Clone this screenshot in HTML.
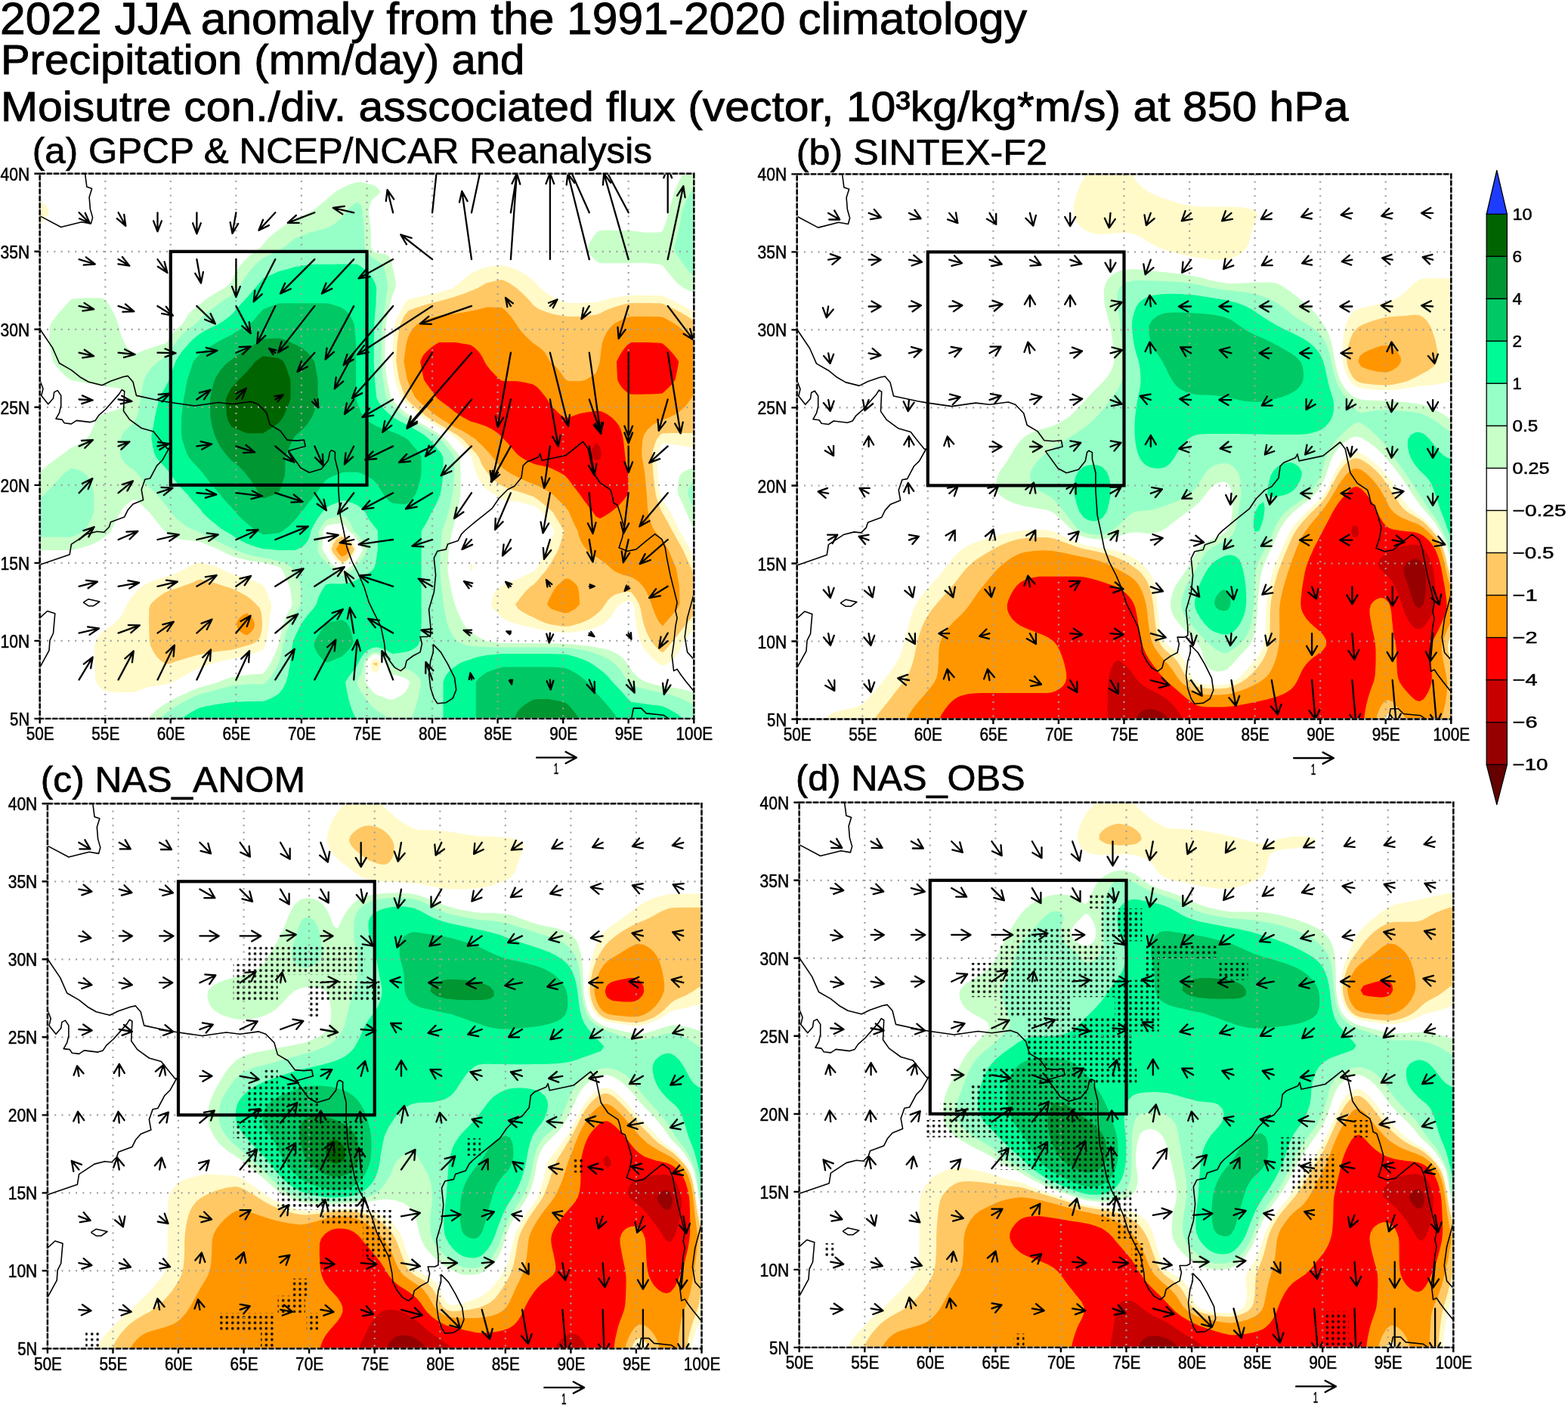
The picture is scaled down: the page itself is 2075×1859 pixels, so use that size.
<!DOCTYPE html><html><head><meta charset="utf-8"><title>2022 JJA anomaly</title><style>html,body{margin:0;padding:0;background:#fff;}svg{display:block;}</style></head><body><svg xmlns="http://www.w3.org/2000/svg" width="2075" height="1859" viewBox="0 0 2075 1859" font-family="'Liberation Sans', Arial, sans-serif">
<defs>
<clipPath id="clip_a"><rect x="52.7" y="229.8" width="865.6" height="721.1"/></clipPath>
<clipPath id="clip_b"><rect x="1054.7" y="230.4" width="865.6" height="721.1"/></clipPath>
<clipPath id="clip_c"><rect x="62.9" y="1063.3" width="865.6" height="721.1"/></clipPath>
<clipPath id="clip_d"><rect x="1057.7" y="1061.8" width="865.6" height="721.1"/></clipPath>
<pattern id="stip_a" patternUnits="userSpaceOnUse" width="7.44" height="7.4" x="323.58" y="469.10"><circle cx="3.72" cy="3.7" r="1.75" fill="#000"/></pattern><pattern id="stip_b" patternUnits="userSpaceOnUse" width="7.44" height="7.4" x="1325.58" y="469.70"><circle cx="3.72" cy="3.7" r="1.75" fill="#000"/></pattern><pattern id="stip_c" patternUnits="userSpaceOnUse" width="7.44" height="7.4" x="333.78" y="1302.60"><circle cx="3.72" cy="3.7" r="1.75" fill="#000"/></pattern><pattern id="stip_d" patternUnits="userSpaceOnUse" width="7.44" height="7.4" x="1328.58" y="1301.10"><circle cx="3.72" cy="3.7" r="1.75" fill="#000"/></pattern>
</defs>
<rect width="2075" height="1859" fill="#fff"/>
<text x="0.0" y="44.9" font-size="60" text-anchor="start" textLength="1359.0" lengthAdjust="spacingAndGlyphs" stroke="#000" stroke-width="0.9">2022 JJA anomaly from the 1991-2020 climatology</text>
<text x="0.9" y="98.0" font-size="56" text-anchor="start" textLength="693.4" lengthAdjust="spacingAndGlyphs" stroke="#000" stroke-width="0.9">Precipitation (mm/day) and</text>
<text x="0.9" y="160.2" font-size="56" text-anchor="start" textLength="1783.6" lengthAdjust="spacingAndGlyphs" stroke="#000" stroke-width="0.9">Moisutre con./div. asscociated flux (vector, 10³kg/kg*m/s) at 850 hPa</text>
<text x="42.8" y="215.6" font-size="48.5" text-anchor="start" textLength="820.2" lengthAdjust="spacingAndGlyphs" stroke="#000" stroke-width="0.7">(a) GPCP &amp; NCEP/NCAR Reanalysis</text>
<text x="1053.8" y="218.3" font-size="48.5" text-anchor="start" textLength="332.1" lengthAdjust="spacingAndGlyphs" stroke="#000" stroke-width="0.7">(b) SINTEX-F2</text>
<text x="53.8" y="1048.0" font-size="48.5" text-anchor="start" textLength="350.2" lengthAdjust="spacingAndGlyphs" stroke="#000" stroke-width="0.7">(c) NAS_ANOM</text>
<text x="1053.0" y="1046.4" font-size="48.5" text-anchor="start" textLength="303.6" lengthAdjust="spacingAndGlyphs" stroke="#000" stroke-width="0.7">(d) NAS_OBS</text>
<g clip-path="url(#clip_a)">
<path fill="#c8ffc8" fill-rule="evenodd" d="M196.3,950.9L197.8,950.9L203.0,950.9L208.2,950.9L213.4,950.9L218.6,950.9L223.7,950.9L228.9,950.9L234.1,950.9L239.3,950.9L244.5,950.9L249.7,950.9L254.8,950.9L260.0,950.9L265.2,950.9L270.4,950.9L275.6,950.9L280.8,950.9L285.9,950.9L291.1,950.9L296.3,950.9L301.5,950.9L306.7,950.9L311.9,950.9L317.0,950.9L322.2,950.9L327.4,950.9L332.6,950.9L337.8,950.9L343.0,950.9L348.1,950.9L353.3,950.9L358.5,950.9L363.7,950.9L368.9,950.9L374.1,950.9L379.2,950.9L384.4,950.9L389.6,950.9L394.8,950.9L400.0,950.9L405.2,950.9L410.3,950.9L415.5,950.9L420.7,950.9L425.9,950.9L431.1,950.9L436.3,950.9L441.4,950.9L446.6,950.9L451.8,950.9L457.0,950.9L462.2,950.9L467.4,950.9L472.5,950.9L477.7,950.9L482.9,950.9L488.1,950.9L493.3,950.9L498.5,950.9L503.6,950.9L508.8,950.9L514.0,950.9L519.2,950.9L524.4,950.9L529.6,950.9L534.7,950.9L539.9,950.9L545.1,950.9L550.3,950.9L555.5,950.9L560.7,950.9L565.8,950.9L571.0,950.9L576.2,950.9L581.4,950.9L586.6,950.9L591.8,950.9L596.9,950.9L602.1,950.9L607.3,950.9L612.5,950.9L617.7,950.9L622.9,950.9L628.0,950.9L633.2,950.9L638.4,950.9L643.6,950.9L648.8,950.9L654.0,950.9L659.1,950.9L664.3,950.9L669.5,950.9L674.7,950.9L679.9,950.9L685.1,950.9L690.2,950.9L695.4,950.9L700.6,950.9L705.8,950.9L711.0,950.9L716.2,950.9L721.3,950.9L726.5,950.9L731.7,950.9L736.9,950.9L742.1,950.9L747.3,950.9L752.4,950.9L757.6,950.9L762.8,950.9L768.0,950.9L773.2,950.9L778.4,950.9L783.5,950.9L788.7,950.9L793.9,950.9L799.1,950.9L804.3,950.9L809.5,950.9L814.6,950.9L819.8,950.9L825.0,950.9L830.2,950.9L835.4,950.9L840.6,950.9L845.7,950.9L850.9,950.9L856.1,950.9L861.3,950.9L866.5,950.9L871.7,950.9L876.8,950.9L882.0,950.9L887.2,950.9L892.4,950.9L897.6,950.9L902.8,950.9L907.9,950.9L913.1,950.9L918.3,950.9L918.3,944.8L918.3,938.8L918.3,932.7L918.3,926.7L918.3,920.6L918.3,916.6L913.1,914.7L912.5,914.5L907.9,913.2L902.8,912.0L897.6,911.0L892.4,910.1L887.2,909.4L882.0,908.7L879.8,908.5L876.8,908.2L871.7,907.0L866.5,905.7L861.3,904.3L856.1,902.8L855.0,902.4L850.9,900.2L845.7,896.9L844.9,896.4L840.6,892.3L838.6,890.3L835.4,886.6L834.0,884.2L830.2,878.3L830.1,878.2L825.5,872.1L825.0,871.6L819.8,867.0L818.5,866.1L814.6,863.7L809.5,861.4L805.2,860.0L804.3,859.7L799.1,858.4L793.9,857.4L788.7,856.4L783.5,855.5L778.4,854.8L773.2,854.2L770.5,853.9L768.0,853.6L762.8,853.1L757.6,852.5L752.4,852.1L747.3,851.8L742.1,851.7L736.9,851.6L731.7,851.5L726.5,851.4L721.3,851.3L716.2,851.3L711.0,851.2L705.8,851.2L700.6,851.1L695.4,851.1L690.2,851.0L685.1,851.0L679.9,851.0L674.7,850.9L669.5,850.9L664.3,850.8L659.1,850.2L654.0,849.6L648.8,848.9L643.6,848.1L642.9,847.9L638.4,845.7L633.2,842.8L631.5,841.8L628.0,839.7L622.9,836.1L622.5,835.8L617.7,831.0L616.6,829.7L612.5,823.8L612.4,823.6L609.3,817.6L607.3,813.3L606.5,811.5L604.1,805.5L602.1,800.3L601.9,799.4L600.2,793.3L598.6,787.3L597.3,781.2L596.9,779.7L596.0,775.2L594.9,769.1L593.9,763.1L593.0,757.0L592.4,750.9L592.7,744.9L593.1,738.8L593.5,732.8L593.9,726.7L594.9,720.6L596.0,714.6L596.9,710.0L597.3,708.5L598.7,702.5L600.3,696.4L601.8,690.3L602.1,688.9L603.6,684.3L605.3,678.2L606.6,672.2L607.3,668.3L607.7,666.1L608.5,660.0L609.3,654.0L609.5,647.9L609.5,641.9L609.6,635.8L609.6,629.7L609.5,623.7L609.2,617.6L608.9,611.6L608.7,605.5L607.3,602.8L605.6,599.4L602.1,595.6L600.2,593.4L596.9,589.5L595.1,587.3L591.8,583.3L590.0,581.3L586.6,578.4L582.7,575.2L581.4,574.4L576.2,571.4L572.5,569.1L571.0,568.3L565.8,565.2L562.3,563.1L560.7,562.1L555.5,559.0L552.1,557.0L550.3,555.8L545.1,552.4L542.9,551.0L539.9,548.4L535.6,544.9L534.7,544.2L529.6,539.7L528.6,538.8L524.4,534.8L522.4,532.8L519.2,528.6L517.8,526.7L516.2,520.7L514.7,514.6L514.0,511.5L513.4,508.5L512.2,502.5L511.5,496.4L510.8,490.4L510.1,484.3L509.5,478.2L509.5,472.2L509.5,466.1L509.5,460.1L509.5,454.0L509.8,447.9L510.1,441.9L510.4,435.8L510.7,429.8L511.6,423.7L512.8,417.6L514.0,411.6L514.0,411.6L515.6,405.5L517.1,399.5L518.5,393.4L519.2,390.7L520.5,387.4L523.3,381.3L523.9,375.2L522.9,369.2L521.8,363.1L520.4,357.1L519.2,351.7L519.1,351.0L517.6,344.9L514.5,338.9L514.0,338.3L508.8,336.0L503.6,335.2L498.5,334.7L495.2,332.8L493.3,331.0L491.1,326.8L491.0,320.7L490.9,314.6L490.8,308.6L490.5,302.5L489.8,296.5L489.1,290.4L488.3,284.3L488.1,280.0L488.0,278.3L488.1,277.6L489.2,272.2L491.5,266.2L493.3,263.4L497.9,260.1L498.5,259.6L503.6,254.2L503.8,254.0L503.6,253.9L498.9,248.0L498.5,247.6L493.3,244.6L488.1,243.4L482.9,242.2L481.6,241.9L477.7,241.1L472.5,241.1L469.6,241.9L467.4,242.6L462.2,244.3L457.0,246.5L453.9,248.0L451.8,249.1L446.6,252.1L443.8,254.0L441.4,255.7L436.3,260.0L436.2,260.1L431.1,264.7L429.3,266.2L425.9,268.9L421.8,272.2L420.7,273.2L415.5,277.7L414.9,278.3L410.3,280.5L405.2,283.0L402.5,284.3L400.0,285.4L394.8,287.7L389.6,290.0L388.9,290.4L384.4,293.0L379.2,296.4L379.1,296.5L374.1,300.1L370.9,302.5L368.9,304.1L363.7,307.9L362.8,308.6L358.5,312.2L356.0,314.6L353.3,317.3L350.4,320.7L348.1,323.4L345.5,326.8L343.0,328.5L337.8,332.6L337.5,332.8L332.6,336.4L329.7,338.9L327.4,341.2L323.3,344.9L322.2,346.0L318.1,351.0L317.0,352.3L313.9,357.1L311.9,360.4L310.4,363.1L307.7,369.2L306.7,371.8L304.1,375.2L301.5,377.5L296.9,381.3L296.3,381.6L291.1,384.3L286.1,387.4L285.9,387.4L280.8,390.5L276.1,393.4L275.6,393.8L270.4,397.7L268.4,399.5L265.2,402.3L260.8,405.5L260.0,406.0L254.8,409.9L253.1,411.6L249.7,415.5L248.1,417.6L244.7,423.7L244.5,424.0L240.7,429.8L239.3,430.8L234.1,435.0L233.3,435.8L228.9,440.8L228.1,441.9L224.4,447.9L223.7,449.2L219.2,454.0L218.6,454.6L213.4,455.9L208.2,457.5L203.0,459.3L200.4,460.1L197.8,461.0L192.6,462.6L187.5,464.7L184.4,466.1L182.3,467.2L177.1,467.6L175.0,466.1L171.9,463.5L168.8,460.1L166.7,457.3L164.8,454.0L162.2,447.9L161.5,446.2L160.0,441.9L158.2,435.8L156.6,429.8L156.4,429.1L154.5,423.7L152.0,417.6L151.2,415.8L149.1,411.6L146.0,406.2L145.6,405.5L141.4,399.5L140.8,398.7L135.6,394.2L130.4,394.2L125.3,394.2L120.1,394.2L114.9,394.3L109.7,394.5L104.5,394.8L99.3,395.1L94.2,396.1L91.0,399.5L89.0,401.7L85.6,405.5L83.8,407.5L80.2,411.6L78.6,413.5L75.2,417.6L73.4,419.8L70.3,423.7L68.2,426.9L66.4,429.8L66.0,435.8L65.6,441.9L65.2,447.9L64.9,454.0L66.2,460.1L67.5,466.1L68.2,469.6L68.8,472.2L70.2,478.2L73.4,483.0L74.4,484.3L78.6,489.4L79.5,490.4L83.8,494.7L85.7,496.4L89.0,499.2L93.3,502.5L94.2,502.8L99.3,504.1L104.5,505.1L109.7,506.1L114.9,507.0L120.1,508.0L122.6,508.5L125.3,509.0L130.4,510.0L135.6,511.0L140.8,511.6L146.0,512.2L151.2,512.8L156.4,513.5L159.1,514.6L161.5,515.8L166.3,520.7L166.7,521.3L169.6,526.7L167.1,532.8L166.7,533.3L161.5,538.7L161.3,538.8L156.4,541.7L151.2,543.1L146.0,544.7L145.4,544.9L140.8,546.4L135.6,548.4L131.1,551.0L130.4,551.8L126.5,557.0L125.3,560.5L124.2,563.1L121.6,569.1L120.1,572.3L118.6,575.2L114.9,580.0L113.8,581.3L109.7,584.6L105.4,587.3L104.5,587.8L99.3,590.3L94.2,592.6L93.0,593.4L89.0,596.3L85.0,599.4L83.8,600.3L78.6,604.1L76.9,605.5L73.4,607.8L68.2,611.5L68.1,611.6L63.1,615.5L60.6,617.6L57.9,620.1L54.1,623.7L52.7,625.1L52.7,629.7L52.7,635.8L52.7,641.9L52.7,647.9L52.7,654.0L52.7,660.0L52.7,666.1L52.7,672.2L52.7,678.2L52.7,684.3L52.7,690.3L52.7,696.4L52.7,702.5L52.7,708.5L52.7,714.6L52.7,720.6L52.7,726.7L52.7,728.1L57.9,728.1L63.1,728.1L68.2,728.1L73.4,728.1L78.6,728.1L83.8,728.1L89.0,728.1L94.2,728.1L99.3,726.9L99.9,726.7L104.5,725.6L109.7,724.3L114.9,722.8L120.1,721.0L120.9,720.6L125.3,718.7L130.4,716.1L133.0,714.6L135.6,712.8L140.8,708.8L141.2,708.5L146.0,703.7L147.1,702.5L149.8,696.4L151.2,693.5L152.7,690.3L155.8,684.3L156.4,683.2L159.2,678.2L161.5,674.3L163.1,672.2L166.7,668.2L169.1,666.1L171.9,664.0L177.1,661.0L182.3,662.9L185.5,666.1L187.5,668.0L191.8,672.2L192.6,673.0L197.8,677.9L198.1,678.2L202.9,684.3L203.0,684.4L207.5,690.3L208.2,691.2L212.5,696.4L213.4,697.4L218.0,702.5L218.6,703.1L223.7,707.8L225.0,708.5L228.9,710.4L234.1,712.2L239.3,713.5L244.5,714.4L245.5,714.6L249.7,715.0L254.8,715.5L260.0,715.9L265.2,716.8L270.4,719.3L273.5,720.6L275.6,721.5L280.8,723.5L285.9,725.5L288.4,726.7L291.1,728.2L296.3,730.8L300.5,732.8L301.5,733.2L306.7,735.5L311.9,737.2L317.0,738.8L317.2,738.8L322.2,740.1L327.4,741.3L332.6,742.2L337.8,743.0L343.0,743.7L348.1,744.3L350.6,744.9L353.3,745.5L358.5,746.9L363.7,748.3L368.9,749.9L371.0,750.9L374.1,755.3L375.2,757.0L377.7,763.1L379.2,766.6L380.3,769.1L382.9,775.2L384.2,781.2L384.4,782.5L385.1,787.3L385.9,793.3L386.7,799.4L384.4,804.9L384.2,805.5L380.7,811.5L379.2,814.5L377.9,817.6L375.7,823.6L374.1,829.2L373.9,829.7L372.3,835.8L370.9,841.8L369.7,847.9L368.9,851.9L368.3,853.9L366.1,860.0L363.7,865.8L363.6,866.1L360.8,872.1L358.5,876.4L357.5,878.2L353.6,884.2L353.3,884.7L349.0,890.3L348.1,891.3L343.0,891.8L337.8,892.2L332.6,892.6L327.4,893.0L322.2,893.7L317.0,894.5L311.9,895.3L306.7,896.0L305.5,896.4L301.5,897.7L296.3,899.6L291.1,901.7L289.2,902.4L285.9,903.4L280.8,905.0L275.6,906.5L270.4,908.0L268.8,908.5L265.2,909.5L260.0,911.3L254.8,913.3L251.9,914.5L249.7,915.5L244.5,917.9L239.3,920.2L238.5,920.6L234.1,922.8L228.9,925.5L226.9,926.7L223.7,928.5L218.6,931.5L216.5,932.7L213.4,934.7L208.2,938.6L208.0,938.8L203.0,943.5L201.6,944.8L197.8,949.1L196.3,950.9ZM446.6,752.3L445.2,750.9L441.4,748.0L438.5,744.9L436.3,741.9L433.9,738.8L431.1,733.8L430.2,732.8L426.6,726.7L426.8,720.6L427.1,714.6L427.3,708.5L427.5,702.5L431.1,696.7L431.7,696.4L436.3,694.1L441.4,693.6L446.6,693.0L451.8,692.3L457.0,695.8L457.4,696.4L461.2,702.5L462.2,703.1L467.4,707.3L468.5,708.5L472.5,714.1L472.9,714.6L476.9,720.6L477.7,722.3L480.4,726.7L477.7,731.8L477.3,732.8L473.6,738.8L472.5,740.1L469.2,744.9L467.4,746.9L462.5,750.9L462.2,751.2L457.0,755.2L451.8,756.0L446.6,752.3ZM503.6,921.2L501.8,920.6L498.5,919.6L493.3,915.5L492.5,914.5L488.1,908.6L488.0,908.5L483.7,902.4L483.5,896.4L483.8,890.3L483.9,884.2L484.0,878.2L487.0,872.1L488.1,870.9L493.3,866.3L494.6,866.1L498.5,865.5L499.6,866.1L503.6,868.5L507.8,872.1L508.8,873.7L511.4,878.2L512.7,884.2L514.0,887.9L516.1,890.3L519.2,892.7L524.4,893.8L529.6,895.1L534.4,896.4L534.7,896.5L539.9,899.6L542.3,902.4L540.5,908.5L539.9,910.1L537.0,914.5L534.7,917.6L530.3,920.6L529.6,921.1L524.4,923.8L519.2,925.9L514.0,925.2L508.8,923.0L503.6,921.2ZM916.3,696.4L918.3,701.4L918.3,696.4L918.3,690.3L918.3,684.3L918.3,678.2L918.3,672.2L918.3,666.1L918.3,660.0L918.3,654.0L918.3,647.9L918.3,641.9L918.3,635.8L918.3,629.7L918.3,623.7L918.3,618.9L913.1,620.4L907.9,622.5L905.5,623.7L902.8,625.9L899.1,629.7L898.0,635.8L897.6,638.7L897.2,641.9L896.6,647.9L897.1,654.0L897.6,654.9L900.3,660.0L902.8,665.0L903.3,666.1L905.9,672.2L907.9,676.9L908.4,678.2L911.2,684.3L913.1,688.6L913.8,690.3L916.3,696.4ZM918.0,387.4L918.3,387.5L918.3,387.4L918.3,381.3L918.3,375.2L918.3,369.2L918.3,363.1L918.3,357.1L918.3,351.0L918.3,344.9L918.3,338.9L918.3,332.8L918.3,326.8L918.3,320.7L918.3,314.6L918.3,308.6L918.3,302.5L918.3,296.5L918.3,290.4L918.3,284.3L918.3,278.3L918.3,272.2L918.3,266.2L918.3,260.1L918.3,254.0L918.3,248.0L918.3,241.9L918.3,235.9L918.3,229.8L913.1,229.8L907.9,229.8L904.3,229.8L902.8,232.2L900.6,235.9L897.6,241.8L897.5,241.9L894.8,248.0L892.5,254.0L892.4,254.4L890.5,260.1L888.7,266.2L887.2,271.8L887.1,272.2L885.7,278.3L884.1,284.3L882.3,290.4L882.0,291.2L880.3,296.5L878.1,302.5L876.8,305.7L871.7,307.6L866.5,307.6L861.3,307.7L856.1,307.8L850.9,307.3L845.7,306.6L840.6,305.9L835.4,305.2L830.2,304.9L825.0,304.9L819.8,304.8L814.6,304.7L809.5,304.7L804.3,304.7L799.1,304.7L793.9,304.7L788.7,308.3L788.5,308.6L784.3,314.6L783.5,315.8L780.7,320.7L778.4,325.4L777.7,326.8L778.4,330.8L778.7,332.8L782.9,338.9L783.5,339.6L788.2,344.9L788.7,345.4L793.9,348.2L799.1,348.2L804.3,348.2L809.5,348.2L814.6,348.2L819.8,348.2L825.0,348.2L830.2,348.2L835.4,348.1L840.6,348.1L845.7,348.1L850.9,348.1L856.1,348.2L861.3,348.6L866.5,349.0L871.7,349.4L876.8,350.9L876.9,351.0L881.3,357.1L882.0,358.0L886.3,363.1L887.2,364.2L891.4,369.2L892.4,370.3L896.5,375.2L897.6,375.9L902.8,379.5L905.2,381.3L907.9,382.5L913.1,384.9L918.0,387.4Z"/>
<path fill="#96ffc8" fill-rule="evenodd" d="M211.4,950.9L213.4,950.9L218.6,950.9L223.7,950.9L228.9,950.9L234.1,950.9L239.3,950.9L244.5,950.9L249.7,950.9L254.8,950.9L260.0,950.9L265.2,950.9L270.4,950.9L275.6,950.9L280.8,950.9L285.9,950.9L291.1,950.9L296.3,950.9L301.5,950.9L306.7,950.9L311.9,950.9L317.0,950.9L322.2,950.9L327.4,950.9L332.6,950.9L337.8,950.9L343.0,950.9L348.1,950.9L353.3,950.9L358.5,950.9L363.7,950.9L368.9,950.9L374.1,950.9L379.2,950.9L384.4,950.9L389.6,950.9L394.8,950.9L400.0,950.9L405.2,950.9L410.3,950.9L415.5,950.9L420.7,950.9L425.9,950.9L431.1,950.9L436.3,950.9L441.4,950.9L446.6,950.9L451.8,950.9L457.0,950.9L462.2,950.9L467.4,950.9L472.5,950.9L477.7,950.9L482.9,950.9L488.1,950.9L493.3,950.9L498.5,950.9L503.6,950.9L508.8,950.9L514.0,950.9L508.8,946.6L506.4,944.8L503.6,943.0L498.5,939.9L497.2,938.8L493.3,935.4L490.9,932.7L488.1,929.3L486.0,926.7L482.9,922.7L481.3,920.6L477.7,915.6L477.2,914.5L474.3,908.5L472.5,904.4L471.9,902.4L472.5,901.4L475.4,896.4L477.7,892.4L478.5,890.3L480.0,884.2L480.9,878.2L482.9,873.8L483.7,872.1L488.1,867.1L489.3,866.1L493.3,863.2L498.5,862.4L503.6,864.8L505.7,866.1L508.8,868.5L512.1,872.1L514.0,875.6L516.0,878.2L519.2,883.0L524.4,883.6L529.6,884.2L529.8,884.2L534.7,884.9L539.9,886.1L545.1,888.5L548.0,890.3L550.3,892.1L554.3,896.4L555.5,898.5L557.2,902.4L556.3,908.5L555.5,913.0L555.2,914.5L554.0,920.6L552.5,926.7L550.9,932.7L550.3,934.6L548.9,938.8L546.5,944.8L545.1,947.9L543.6,950.9L545.1,950.9L550.3,950.9L555.5,950.9L560.7,950.9L565.8,950.9L571.0,950.9L576.2,950.9L581.4,950.9L586.6,950.9L591.8,950.9L596.9,950.9L602.1,950.9L607.3,950.9L612.5,950.9L617.7,950.9L622.9,950.9L628.0,950.9L633.2,950.9L638.4,950.9L643.6,950.9L648.8,950.9L654.0,950.9L659.1,950.9L664.3,950.9L669.5,950.9L674.7,950.9L679.9,950.9L685.1,950.9L690.2,950.9L695.4,950.9L700.6,950.9L705.8,950.9L711.0,950.9L716.2,950.9L721.3,950.9L726.5,950.9L731.7,950.9L736.9,950.9L742.1,950.9L747.3,950.9L752.4,950.9L757.6,950.9L762.8,950.9L768.0,950.9L773.2,950.9L778.4,950.9L783.5,950.9L788.7,950.9L793.9,950.9L799.1,950.9L804.3,950.9L809.5,950.9L814.6,950.9L819.8,950.9L825.0,950.9L830.2,950.9L835.4,950.9L840.6,950.9L845.7,950.9L850.9,950.9L856.1,950.9L861.3,950.9L866.5,950.9L871.7,950.9L876.8,950.9L882.0,950.9L887.2,950.9L892.4,950.9L897.6,950.9L902.8,950.9L907.9,950.9L913.1,950.9L918.3,950.9L918.3,944.8L918.3,938.8L918.3,933.7L917.0,932.7L913.1,930.1L907.9,927.1L907.1,926.7L902.8,924.7L897.6,922.6L892.4,920.9L891.5,920.6L887.2,919.4L882.0,918.1L876.8,916.9L871.7,915.9L866.5,914.8L865.4,914.5L861.3,913.6L856.1,912.4L850.9,911.1L845.7,909.7L841.6,908.5L840.6,908.2L835.4,906.5L830.7,902.4L830.2,901.6L827.2,896.4L825.0,892.3L823.8,890.3L819.8,884.8L819.4,884.2L814.6,879.3L813.5,878.2L809.5,874.9L805.2,872.1L804.3,871.6L799.1,869.0L793.9,866.9L792.0,866.1L788.7,864.9L783.5,863.1L778.4,861.7L773.2,860.6L770.5,860.0L768.0,859.5L762.8,858.7L757.6,857.9L752.4,857.3L747.3,856.9L742.1,856.8L736.9,856.6L731.7,856.5L726.5,856.5L721.3,856.5L716.2,856.5L711.0,856.5L705.8,856.5L700.6,856.5L695.4,856.5L690.2,856.5L685.1,856.5L679.9,856.5L674.7,856.5L669.5,856.5L664.3,856.5L659.1,856.4L654.0,856.3L648.8,856.2L643.6,856.0L638.4,855.8L633.2,855.5L628.0,855.2L622.9,854.8L618.1,853.9L617.7,853.8L612.5,851.9L607.3,849.5L604.6,847.9L602.1,845.2L599.7,841.8L596.9,837.1L596.2,835.8L593.5,829.7L591.8,824.2L591.6,823.6L590.2,817.6L588.9,811.5L587.9,805.5L586.9,799.4L586.6,797.0L586.1,793.3L585.3,787.3L584.7,781.2L584.1,775.2L583.5,769.1L583.0,763.1L582.5,757.0L582.2,750.9L582.4,744.9L582.6,738.8L582.8,732.8L583.0,726.7L583.5,720.6L584.1,714.6L584.7,708.5L585.3,702.5L586.6,699.1L587.5,696.4L589.5,690.3L591.4,684.3L591.8,683.0L593.1,678.2L594.9,672.2L596.5,666.1L596.9,664.1L597.8,660.0L599.0,654.0L599.7,647.9L600.1,641.9L600.5,635.8L600.9,629.7L601.0,623.7L601.0,617.6L601.0,611.6L600.9,605.5L598.1,599.4L596.9,598.1L593.0,593.4L591.8,591.9L587.9,587.3L586.6,585.7L582.8,581.3L581.4,580.1L576.2,575.8L575.5,575.2L571.0,572.6L565.8,569.5L565.3,569.1L560.7,566.4L555.5,563.3L555.1,563.1L550.3,560.2L545.1,557.1L544.9,557.0L539.9,553.7L535.4,551.0L534.7,550.5L529.6,546.3L527.9,544.9L524.4,541.7L521.4,538.8L519.2,536.6L515.5,532.8L514.0,530.7L511.3,526.7L510.0,520.7L508.9,514.6L508.8,514.4L507.8,508.5L506.9,502.5L506.3,496.4L505.7,490.4L505.2,484.3L504.7,478.2L504.7,472.2L504.7,466.1L504.7,460.1L504.7,454.0L504.9,447.9L505.2,441.9L505.4,435.8L505.6,429.8L506.4,423.7L507.3,417.6L508.3,411.6L508.8,408.7L509.4,405.5L510.3,399.5L511.1,393.4L512.1,387.4L513.1,381.3L513.0,375.2L511.9,369.2L510.6,363.1L509.2,357.1L508.8,356.2L506.3,351.0L503.6,348.1L499.1,344.9L498.5,344.6L493.3,341.3L490.6,338.9L488.1,336.3L485.3,332.8L482.9,326.9L482.8,326.8L482.6,320.7L482.4,314.6L482.1,308.6L481.8,302.5L481.2,296.5L480.6,290.4L480.0,284.3L479.3,278.3L477.9,272.2L477.7,271.5L472.5,267.1L467.4,271.0L465.9,272.2L462.2,275.6L459.6,278.3L457.0,282.3L455.4,284.3L451.8,288.8L450.0,290.4L446.6,293.2L442.1,296.5L441.4,296.9L436.3,300.0L431.1,302.4L430.5,302.5L425.9,303.8L420.7,305.1L415.5,306.2L410.3,307.6L407.8,308.6L405.2,309.6L400.0,311.6L394.8,313.6L392.4,314.6L389.6,315.9L384.4,319.9L383.5,320.7L379.2,324.3L376.6,326.8L374.1,328.3L368.9,331.3L366.4,332.8L363.7,334.1L358.5,336.6L353.7,338.9L353.3,339.0L348.1,341.6L343.6,344.9L343.0,345.5L337.8,350.3L337.1,351.0L332.6,356.0L331.8,357.1L327.4,363.0L327.3,363.1L322.9,369.2L322.2,370.1L319.2,375.2L317.0,378.2L315.0,381.3L311.9,384.5L309.3,387.4L306.7,390.5L302.2,393.4L301.5,393.9L296.3,397.1L293.0,399.5L291.1,400.7L285.9,404.6L284.7,405.5L280.8,408.2L276.2,411.6L275.6,412.1L270.4,416.6L269.3,417.6L265.2,421.9L263.4,423.7L260.0,426.9L257.3,429.8L254.8,431.2L249.7,434.7L248.2,435.8L244.5,439.2L241.6,441.9L239.3,444.3L236.2,447.9L234.1,450.6L231.8,454.0L228.9,457.9L227.5,460.1L224.2,466.1L223.7,467.0L219.4,472.2L218.6,473.4L213.4,476.0L209.5,478.2L208.2,479.2L203.0,483.9L202.6,484.3L197.8,490.0L197.5,490.4L193.5,496.4L192.6,498.1L190.6,502.5L189.1,508.5L188.0,514.6L187.5,518.2L187.1,520.7L186.5,526.7L185.3,532.8L184.0,538.8L182.8,544.9L182.3,547.3L181.2,551.0L178.5,557.0L177.1,559.8L172.8,563.1L171.9,563.8L166.7,568.9L166.5,569.1L161.8,575.2L161.5,576.1L159.9,581.3L159.6,587.3L159.2,593.4L158.9,599.4L160.2,605.5L161.5,607.6L164.4,611.6L166.7,614.1L170.7,617.6L171.9,618.5L177.1,621.7L178.9,623.7L182.3,627.1L184.3,629.7L187.5,633.8L189.2,635.8L192.6,639.6L194.9,641.9L197.8,644.6L201.2,647.9L203.0,649.6L207.4,654.0L208.2,654.9L212.5,660.0L213.4,661.1L217.6,666.1L218.6,667.2L222.2,672.2L223.7,674.1L226.7,678.2L228.9,681.1L231.8,684.3L234.1,686.6L238.3,690.3L239.3,691.1L244.5,694.8L247.0,696.4L249.7,697.9L254.8,700.4L260.0,702.5L260.0,702.5L265.2,704.5L270.4,707.6L272.1,708.5L275.6,710.4L280.8,712.9L284.2,714.6L285.9,715.4L291.1,718.1L296.1,720.6L296.3,720.7L301.5,723.1L306.7,725.4L309.7,726.7L311.9,727.7L317.0,729.8L322.2,731.7L325.4,732.8L327.4,733.4L332.6,734.8L337.8,736.0L343.0,737.1L348.1,738.1L351.9,738.8L353.3,739.1L358.5,740.1L363.7,741.3L368.9,742.6L374.1,744.3L375.4,744.9L379.2,746.6L384.4,749.6L386.2,750.9L389.6,756.9L389.7,757.0L393.0,763.1L394.8,767.0L395.7,769.1L397.9,775.2L398.3,781.2L398.2,787.3L398.1,793.3L398.0,799.4L395.0,805.5L394.8,805.7L390.7,811.5L389.6,813.2L386.9,817.6L384.4,822.3L383.8,823.6L381.3,829.7L379.3,835.8L379.2,836.0L377.6,841.8L376.0,847.9L374.7,853.9L374.1,857.0L373.4,860.0L372.0,866.1L370.4,872.1L368.9,877.3L368.5,878.2L365.5,884.2L363.7,887.4L362.0,890.3L358.5,895.4L357.8,896.4L353.3,901.3L352.2,902.4L348.1,905.3L343.0,905.3L337.8,905.3L332.6,905.3L327.4,905.3L322.2,905.8L317.0,906.3L311.9,906.8L306.7,907.3L302.6,908.5L301.5,908.8L296.3,910.3L291.1,911.6L285.9,912.9L280.8,914.3L279.9,914.5L275.6,915.7L270.4,917.1L265.2,918.4L260.0,920.3L259.4,920.6L254.8,922.7L249.7,925.2L246.8,926.7L244.5,927.9L239.3,930.7L235.7,932.7L234.1,933.7L228.9,937.0L226.3,938.8L223.7,940.6L218.6,944.5L218.1,944.8L213.4,948.9L211.4,950.9ZM446.6,758.7L444.4,757.0L441.4,754.5L438.5,750.9L436.3,748.6L432.5,744.9L431.1,742.9L425.9,738.9L425.8,738.8L422.2,732.8L420.7,727.8L420.4,726.7L420.7,723.5L420.9,720.6L421.4,714.6L421.8,708.5L422.2,702.5L425.7,696.4L425.9,696.1L429.8,690.3L431.1,688.7L436.3,685.9L441.4,684.9L444.1,684.3L446.6,683.7L451.8,682.3L457.0,684.0L457.3,684.3L462.2,689.8L462.5,690.3L465.8,696.4L467.4,700.2L468.2,702.5L472.5,707.0L474.3,708.5L477.7,712.7L479.6,714.6L482.9,719.2L483.7,720.6L486.1,726.7L483.9,732.8L482.9,734.5L480.0,738.8L477.7,741.3L475.0,744.9L472.5,747.3L469.1,750.9L467.4,753.0L462.8,757.0L462.2,757.5L457.0,760.7L451.8,761.4L446.6,758.7ZM52.7,708.5L52.7,710.5L57.9,710.5L63.1,710.5L68.2,710.5L73.4,710.5L78.6,710.5L83.8,710.5L89.0,710.5L94.2,710.5L99.3,708.8L99.9,708.5L104.5,706.4L109.7,703.8L112.1,702.5L114.9,697.9L115.8,696.4L118.8,690.3L120.1,687.7L121.6,684.3L124.1,678.2L124.5,672.2L124.5,666.1L124.5,660.0L124.5,654.0L123.3,647.9L121.4,641.9L120.1,638.3L119.0,635.8L115.8,629.7L114.9,628.8L109.7,624.8L107.9,623.7L104.5,622.2L99.3,620.4L94.2,619.6L89.0,623.2L88.3,623.7L83.8,627.6L81.3,629.7L78.6,632.9L76.0,635.8L73.4,638.7L70.5,641.9L68.2,644.2L64.7,647.9L63.1,649.6L58.7,654.0L57.9,654.9L52.7,659.5L52.7,660.0L52.7,666.1L52.7,672.2L52.7,678.2L52.7,684.3L52.7,690.3L52.7,696.4L52.7,702.5L52.7,708.5ZM917.1,672.2L918.3,675.6L918.3,672.2L918.3,666.1L918.3,660.0L918.3,654.0L918.3,647.9L918.3,641.9L918.3,635.8L918.3,634.0L917.0,635.8L913.5,641.9L913.1,642.7L910.9,647.9L910.0,654.0L912.6,660.0L913.1,661.3L915.0,666.1L917.1,672.2ZM915.2,363.1L918.3,366.7L918.3,363.1L918.3,357.1L918.3,351.0L918.3,344.9L918.3,338.9L918.3,332.8L918.3,326.8L918.3,320.7L918.3,314.6L918.3,308.6L918.3,302.5L918.3,296.5L918.3,290.4L918.3,284.3L918.3,278.3L918.3,272.2L918.3,266.2L918.3,260.1L918.3,254.0L918.3,248.0L918.3,247.4L917.9,248.0L914.1,254.0L913.1,255.7L910.7,260.1L907.9,265.8L907.8,266.2L905.1,272.2L902.8,278.3L902.7,278.3L901.6,284.3L900.6,290.4L899.5,296.5L898.2,302.5L897.6,305.8L897.0,308.6L895.5,314.6L893.9,320.7L892.4,325.7L892.0,326.8L892.4,328.4L893.4,332.8L897.3,338.9L897.6,339.3L901.3,344.9L902.8,347.1L905.4,351.0L907.9,354.3L910.1,357.1L913.1,360.6L915.2,363.1Z"/>
<path fill="#00fa96" fill-rule="evenodd" d="M240.2,950.9L244.5,950.9L249.7,950.9L254.8,950.9L260.0,950.9L265.2,950.9L270.4,950.9L275.6,950.9L280.8,950.9L285.9,950.9L291.1,950.9L296.3,950.9L301.5,950.9L306.7,950.9L311.9,950.9L317.0,950.9L322.2,950.9L327.4,950.9L332.6,950.9L337.8,950.9L343.0,950.9L348.1,950.9L353.3,950.9L358.5,950.9L363.7,950.9L368.9,950.9L374.1,950.9L379.2,950.9L384.4,950.9L389.6,950.9L394.8,950.9L400.0,950.9L405.2,950.9L410.3,950.9L415.5,950.9L420.7,950.9L425.9,950.9L431.1,950.9L436.3,950.9L441.4,950.9L446.6,950.9L451.8,950.9L457.0,950.9L462.2,950.9L467.4,950.9L471.1,950.9L468.0,944.8L467.4,943.3L465.6,938.8L463.5,932.7L462.2,927.9L461.8,926.7L460.4,920.6L459.1,914.5L458.0,908.5L457.1,902.4L460.7,896.4L462.2,894.4L465.3,890.3L467.4,887.7L470.0,884.2L472.5,880.9L473.7,878.2L476.8,872.1L477.7,870.8L480.7,866.1L482.9,863.6L487.3,860.0L488.1,859.5L493.3,857.0L498.5,856.3L503.6,857.4L508.8,859.0L511.0,860.0L514.0,861.9L519.2,864.9L524.4,864.4L529.6,863.8L534.7,863.1L539.9,862.1L544.8,860.0L545.1,859.9L550.3,856.6L553.2,853.9L555.5,848.5L555.7,847.9L556.3,841.8L556.9,835.8L557.4,829.7L557.7,823.6L557.7,817.6L557.7,811.5L557.7,805.5L557.6,799.4L557.6,793.3L557.6,787.3L557.6,781.2L557.6,775.2L557.6,769.1L557.6,763.1L557.6,757.0L557.5,750.9L557.6,744.9L557.6,738.8L557.6,732.8L557.6,726.7L557.6,720.6L557.6,714.6L557.6,708.5L557.6,702.5L560.7,697.8L561.5,696.4L565.0,690.3L565.8,688.8L568.1,684.3L570.9,678.2L571.0,678.1L574.5,672.2L576.2,668.9L577.6,666.1L580.3,660.0L581.4,657.3L582.6,654.0L583.8,647.9L584.7,641.9L585.5,635.8L586.2,629.7L586.5,623.7L586.5,617.6L586.5,611.6L586.5,605.5L583.7,599.4L581.4,596.7L578.6,593.4L576.2,590.5L573.5,587.3L571.0,584.4L568.4,581.3L565.8,579.2L561.0,575.2L560.7,575.0L555.5,571.9L550.8,569.1L550.3,568.8L545.1,565.7L540.7,563.1L539.9,562.6L534.7,560.0L529.6,557.5L528.6,557.0L524.4,554.5L519.2,551.2L518.8,551.0L514.0,546.8L512.0,544.9L508.8,541.7L506.3,538.8L503.6,535.6L501.6,532.8L498.5,526.8L498.4,526.7L497.7,520.7L497.1,514.6L496.5,508.5L496.0,502.5L495.7,496.4L495.4,490.4L495.1,484.3L494.8,478.2L494.8,472.2L494.8,466.1L494.8,460.1L494.8,454.0L494.9,447.9L495.0,441.9L495.1,435.8L495.2,429.8L495.6,423.7L496.1,417.6L496.6,411.6L497.3,405.5L497.6,399.5L497.7,393.4L498.0,387.4L498.2,381.3L496.6,375.2L493.7,369.2L493.3,368.4L488.8,363.1L488.1,362.3L483.0,357.1L482.9,357.0L477.7,352.4L475.1,351.0L472.5,349.4L467.4,349.5L462.2,349.5L457.0,349.5L451.8,349.6L446.6,349.6L441.4,349.7L436.3,349.7L431.1,349.7L425.9,349.7L420.7,349.7L415.5,349.8L410.3,350.0L405.2,350.8L404.1,351.0L400.0,351.6L394.8,352.4L389.6,353.3L384.4,354.9L379.2,356.4L376.8,357.1L374.1,357.7L368.9,359.0L363.7,361.4L360.0,363.1L358.5,363.8L353.3,366.2L348.1,368.6L347.7,369.2L343.0,374.8L342.6,375.2L337.8,381.1L337.6,381.3L332.6,386.7L332.1,387.4L327.4,392.9L326.9,393.4L322.2,398.4L321.3,399.5L317.0,404.2L316.0,405.5L311.9,410.1L310.6,411.6L306.7,416.3L304.9,417.6L301.5,420.3L297.0,423.7L296.3,424.2L291.1,427.6L288.2,429.8L285.9,430.6L280.8,432.8L275.6,435.2L274.4,435.8L270.4,438.0L265.2,441.2L264.1,441.9L260.0,445.0L256.6,447.9L254.8,449.6L250.7,454.0L249.7,455.0L245.1,460.1L244.5,460.8L240.1,466.1L239.3,467.3L235.9,472.2L234.1,475.2L232.4,478.2L230.2,484.3L228.9,487.7L228.0,490.4L225.9,496.4L223.8,502.5L223.7,502.7L220.8,508.5L218.6,513.2L217.6,514.6L214.1,520.7L213.4,522.0L211.1,526.7L209.4,532.8L208.2,537.8L208.0,538.8L206.5,544.9L205.2,551.0L204.1,557.0L203.1,563.1L203.0,563.4L201.9,569.1L200.6,575.2L200.5,581.3L201.6,587.3L202.8,593.4L203.0,594.3L204.1,599.4L207.0,605.5L208.2,607.1L212.0,611.6L213.4,613.1L217.8,617.6L218.6,618.4L223.1,623.7L223.7,624.4L227.4,629.7L228.9,632.0L231.6,635.8L234.1,639.1L236.5,641.9L239.3,645.0L242.1,647.9L244.5,650.4L248.0,654.0L249.7,656.3L252.7,660.0L254.8,662.6L258.0,666.1L260.0,668.1L263.6,672.2L265.2,673.8L268.4,678.2L270.4,680.4L274.2,684.3L275.6,685.6L280.8,690.1L281.1,690.3L285.9,694.1L288.8,696.4L291.1,698.2L296.3,701.7L297.5,702.5L301.5,704.8L306.7,707.8L307.7,708.5L311.9,711.4L317.0,714.5L317.2,714.6L322.2,717.1L327.4,719.4L330.4,720.6L332.6,721.5L337.8,723.2L343.0,724.8L348.1,726.1L353.3,726.4L357.0,726.7L358.5,726.8L363.7,727.4L368.9,727.9L374.1,728.0L379.2,728.0L384.4,728.0L389.6,727.9L393.3,726.7L394.8,726.2L400.0,723.4L403.4,720.6L405.2,718.7L407.8,714.6L410.2,708.5L410.3,708.2L411.3,702.5L414.4,696.4L415.5,694.4L417.8,690.3L420.7,685.6L421.6,684.3L425.9,678.5L426.1,678.2L431.1,672.3L431.3,672.2L436.3,669.0L441.4,667.1L443.8,666.1L446.6,664.9L451.8,662.6L457.0,662.6L462.2,664.2L467.4,666.1L467.5,666.1L472.5,668.3L477.7,672.1L477.8,672.2L482.9,677.5L483.6,678.2L486.5,684.3L488.1,686.9L490.5,690.3L493.3,693.7L495.3,696.4L498.5,700.3L499.9,702.5L499.9,708.5L499.9,714.6L499.9,720.6L499.9,726.7L499.0,732.8L498.5,735.8L498.1,738.8L497.1,744.9L495.4,750.9L493.3,753.7L489.8,757.0L488.1,758.3L482.9,761.6L480.1,763.1L477.7,764.2L472.5,767.1L468.5,769.1L467.4,769.6L462.2,771.0L457.0,772.0L451.8,772.4L446.6,772.4L441.4,772.3L436.3,772.2L431.1,773.8L430.0,775.2L426.0,781.2L425.9,781.5L422.9,787.3L420.7,792.8L420.5,793.3L418.6,799.4L415.5,803.9L414.5,805.5L410.3,810.2L409.2,811.5L405.2,816.5L404.3,817.6L400.0,823.6L400.0,823.7L396.5,829.7L394.8,833.0L393.5,835.8L390.7,841.8L389.6,844.3L388.3,847.9L386.8,853.9L386.2,860.0L385.5,866.1L384.7,872.1L384.4,874.2L383.8,878.2L382.8,884.2L381.7,890.3L380.3,896.4L379.2,900.3L378.6,902.4L375.7,908.5L374.1,911.3L371.7,914.5L368.9,917.9L364.8,920.6L363.7,921.2L358.5,924.0L353.3,926.2L352.2,926.7L348.1,928.1L343.0,928.1L337.8,928.1L332.6,928.1L327.4,928.1L322.2,928.4L317.0,928.6L311.9,928.9L306.7,929.1L301.5,929.8L296.3,930.6L291.1,931.3L285.9,931.9L281.9,932.7L280.8,932.9L275.6,934.0L270.4,935.1L265.2,936.2L260.0,938.5L259.5,938.8L254.8,941.4L249.7,944.6L249.2,944.8L244.5,948.0L240.2,950.9ZM586.5,950.9L586.6,950.9L591.8,950.9L596.9,950.9L602.1,950.9L607.3,950.9L612.5,950.9L617.7,950.9L622.9,950.9L628.0,950.9L633.2,950.9L638.4,950.9L643.6,950.9L648.8,950.9L654.0,950.9L659.1,950.9L664.3,950.9L669.5,950.9L674.7,950.9L679.9,950.9L685.1,950.9L690.2,950.9L695.4,950.9L700.6,950.9L705.8,950.9L711.0,950.9L716.2,950.9L721.3,950.9L726.5,950.9L731.7,950.9L736.9,950.9L742.1,950.9L747.3,950.9L752.4,950.9L757.6,950.9L762.8,950.9L768.0,950.9L773.2,950.9L778.4,950.9L783.5,950.9L788.7,950.9L793.9,950.9L799.1,950.9L804.3,950.9L809.5,950.9L814.6,950.9L819.8,950.9L825.0,950.9L830.2,950.9L835.4,950.9L840.6,950.9L845.7,950.9L850.9,950.9L856.1,950.9L861.3,950.9L866.5,950.9L871.7,950.9L876.8,950.9L882.0,950.9L887.2,950.9L892.4,950.9L897.6,950.9L902.8,950.9L903.9,950.9L902.8,949.9L897.6,945.8L896.2,944.8L892.4,942.3L887.2,939.4L886.1,938.8L882.0,936.8L876.8,934.5L871.7,933.6L866.5,933.0L864.0,932.7L861.3,932.4L856.1,931.7L850.9,931.0L845.7,930.3L840.6,929.5L835.4,928.7L833.2,926.7L830.2,923.9L827.4,920.6L825.0,917.8L822.1,914.5L819.8,912.1L816.4,908.5L814.6,906.6L810.6,902.4L809.5,901.0L805.6,896.4L804.3,894.9L799.6,890.3L799.1,889.9L793.9,885.8L792.0,884.2L788.7,881.9L783.5,878.4L783.1,878.2L778.4,875.6L773.2,873.2L770.5,872.1L768.0,871.2L762.8,869.4L757.6,867.9L752.4,866.6L748.8,866.1L747.3,865.8L742.1,865.6L736.9,865.4L731.7,865.2L726.5,865.1L721.3,865.1L716.2,865.1L711.0,865.1L705.8,865.1L700.6,865.1L695.4,865.1L690.2,865.1L685.1,865.1L679.9,865.1L674.7,865.1L669.5,865.1L664.3,865.1L659.1,865.5L654.0,865.9L652.4,866.1L648.8,866.4L643.6,867.0L638.4,867.9L633.2,869.1L628.0,870.5L623.7,872.1L622.9,872.5L617.7,873.9L612.5,875.7L607.3,878.2L607.3,878.2L602.1,881.9L598.7,884.2L596.9,885.7L592.5,890.3L591.8,891.3L588.7,896.4L586.6,902.1L586.5,902.4L586.5,908.5L586.5,914.5L586.5,920.6L586.5,926.7L586.5,932.7L586.5,938.8L586.5,944.8L586.5,950.9Z"/>
<path fill="#00c864" fill-rule="evenodd" d="M629.8,950.9L633.2,950.9L638.4,950.9L643.6,950.9L648.8,950.9L654.0,950.9L659.1,950.9L664.3,950.9L669.5,950.9L674.7,950.9L679.9,950.9L685.1,950.9L690.2,950.9L695.4,950.9L700.6,950.9L705.8,950.9L711.0,950.9L716.2,950.9L721.3,950.9L726.5,950.9L731.7,950.9L736.9,950.9L742.1,950.9L747.3,950.9L752.4,950.9L757.6,950.9L762.8,950.9L768.0,950.9L773.2,950.9L778.4,950.9L783.5,950.9L788.7,950.9L793.9,950.9L799.1,950.9L804.3,950.9L809.5,950.9L814.6,950.9L817.8,950.9L814.6,946.9L813.1,944.8L809.5,940.3L808.3,938.8L804.3,933.8L803.3,932.7L799.1,927.8L798.1,926.7L793.9,922.1L792.6,920.6L788.7,916.0L787.5,914.5L783.5,909.7L782.5,908.5L778.4,903.8L777.0,902.4L773.2,898.9L770.1,896.4L768.0,894.8L762.8,891.3L761.2,890.3L757.6,888.2L752.4,885.6L748.2,884.2L747.3,884.0L742.1,883.5L736.9,883.1L731.7,882.6L726.5,882.4L721.3,882.4L716.2,882.4L711.0,882.4L705.8,882.4L700.6,882.4L695.4,882.4L690.2,882.5L685.1,882.5L679.9,882.5L674.7,882.6L669.5,882.6L664.3,882.8L659.2,884.2L659.1,884.3L654.0,885.9L648.8,887.7L643.6,889.9L642.9,890.3L638.4,893.4L634.7,896.4L633.2,898.0L629.8,902.4L629.8,908.5L629.8,914.5L629.8,920.6L629.8,926.7L629.8,932.7L629.8,938.8L629.8,944.8L629.8,950.9ZM426.2,872.1L431.1,876.4L436.3,875.6L441.4,873.2L443.8,872.1L446.6,871.0L451.8,869.1L455.3,866.1L457.0,864.6L460.9,860.0L462.2,858.5L466.0,853.9L467.4,848.2L467.4,847.9L467.4,847.4L466.1,841.8L464.5,835.8L462.3,829.7L462.2,829.5L458.2,823.6L457.0,822.4L451.8,820.3L446.6,821.3L441.4,822.2L436.3,823.0L434.9,823.6L431.1,825.6L428.0,829.7L425.9,833.0L424.1,835.8L420.7,841.2L420.3,841.8L416.6,847.9L415.5,852.9L415.3,853.9L415.5,854.6L417.8,860.0L420.7,865.3L421.2,866.1L425.9,871.8L426.2,872.1ZM339.2,702.5L343.0,704.6L348.1,707.3L353.3,706.9L358.5,706.4L363.7,705.8L368.9,705.2L374.1,702.5L374.1,702.5L379.2,698.6L381.9,696.4L384.4,694.0L388.1,690.3L389.6,688.6L393.3,684.3L394.8,682.4L397.9,678.2L400.0,675.7L402.8,672.2L405.2,669.3L407.7,666.1L410.3,662.7L412.6,660.0L415.5,656.5L417.6,654.0L420.7,649.3L421.7,647.9L425.9,641.9L425.9,641.8L430.8,635.8L431.1,635.4L436.3,632.0L441.3,629.7L441.4,629.7L446.6,627.5L451.8,625.5L457.0,624.7L462.2,624.7L467.4,624.7L472.5,624.7L477.7,625.9L482.9,628.4L485.5,629.7L488.1,631.2L493.3,634.5L494.6,635.8L498.5,639.7L499.9,641.9L503.6,647.6L503.9,647.9L507.6,654.0L508.8,655.6L512.3,660.0L514.0,662.1L519.2,665.8L522.3,666.1L524.4,666.3L529.6,666.8L534.7,667.4L539.7,666.1L539.9,666.0L545.1,660.2L545.3,660.0L549.9,654.0L550.3,653.1L552.3,647.9L554.0,641.9L555.5,636.3L555.6,635.8L557.1,629.7L557.6,623.7L557.6,617.6L557.6,611.6L557.6,605.5L555.5,600.8L554.8,599.4L550.3,594.0L549.7,593.4L545.1,587.9L544.6,587.3L539.9,581.7L539.4,581.3L534.7,578.5L529.6,575.9L528.3,575.2L524.4,573.6L519.2,571.4L514.0,569.6L512.3,569.1L508.8,568.0L503.6,566.2L498.5,563.9L496.7,563.1L493.3,561.2L488.1,558.0L486.8,557.0L482.9,553.3L480.8,551.0L477.7,545.2L477.6,544.9L474.9,538.8L472.6,532.8L472.5,532.5L471.1,526.7L471.1,520.7L471.1,514.6L471.1,508.5L471.1,502.5L471.1,496.4L471.1,490.4L471.1,484.3L471.1,478.2L471.1,472.2L471.1,466.1L471.1,460.1L471.1,454.0L470.6,447.9L470.1,441.9L469.5,435.8L468.9,429.8L467.4,425.5L466.6,423.7L463.2,417.6L462.2,416.2L458.2,411.6L457.0,410.4L451.8,407.0L447.7,405.5L446.6,405.2L441.4,403.5L436.3,402.0L431.1,401.2L425.9,401.2L420.7,401.2L415.5,401.2L410.3,401.2L405.2,401.2L400.0,401.2L394.8,401.2L389.6,401.2L384.4,401.2L379.2,401.2L374.1,401.3L368.9,401.5L363.7,403.4L358.5,405.3L358.0,405.5L353.3,407.3L348.1,409.3L346.1,411.6L343.0,415.1L340.8,417.6L337.8,421.3L335.8,423.7L332.6,427.0L330.0,429.8L327.4,431.2L322.2,433.7L318.3,435.8L317.0,436.5L311.9,439.5L308.2,441.9L306.7,442.9L301.5,445.4L296.3,447.9L296.3,447.9L291.1,450.7L285.9,453.8L285.7,454.0L280.8,456.7L275.6,460.0L275.5,460.1L270.4,463.7L267.4,466.1L265.2,468.0L261.0,472.2L260.0,473.3L256.0,478.2L254.8,481.4L253.9,484.3L251.9,490.4L249.9,496.4L249.7,497.1L247.9,502.5L246.8,508.5L245.7,514.6L244.6,520.7L244.5,521.1L243.2,526.7L242.4,532.8L241.7,538.8L241.0,544.9L240.3,551.0L240.1,557.0L240.0,563.1L240.0,569.1L240.0,575.2L241.0,581.3L242.9,587.3L244.5,592.0L244.9,593.4L247.0,599.4L249.7,604.5L250.2,605.5L254.8,611.1L255.2,611.6L260.0,616.6L260.9,617.6L265.2,622.0L266.5,623.7L270.4,628.7L271.3,629.7L275.6,635.6L275.7,635.8L280.7,641.9L280.8,641.9L285.9,647.7L286.1,647.9L291.1,653.9L291.2,654.0L295.9,660.0L296.3,660.5L301.3,666.1L301.5,666.3L306.7,671.6L307.1,672.2L311.9,677.9L312.1,678.2L317.0,683.5L317.8,684.3L322.2,688.4L324.4,690.3L327.4,692.9L331.4,696.4L332.6,697.4L337.8,701.4L339.2,702.5Z"/>
<path fill="#009632" fill-rule="evenodd" d="M680.3,950.9L685.1,950.9L690.2,950.9L695.4,950.9L700.6,950.9L705.8,950.9L711.0,950.9L716.2,950.9L721.3,950.9L726.5,950.9L731.7,950.9L736.9,950.9L742.1,950.9L747.3,950.9L752.4,950.9L757.6,950.9L762.8,950.9L766.8,950.9L762.8,945.6L762.2,944.8L757.6,939.1L757.4,938.8L752.4,933.0L752.0,932.7L747.3,929.2L742.1,928.1L736.9,927.0L735.5,926.7L731.7,925.9L726.5,925.1L721.3,925.1L716.2,925.1L711.0,925.1L705.8,925.8L704.0,926.7L700.6,928.5L695.4,931.7L694.1,932.7L690.2,935.8L687.4,938.8L685.1,941.6L683.1,944.8L680.3,950.9ZM343.5,654.0L348.1,659.4L353.3,657.8L358.5,656.0L363.7,654.2L364.2,654.0L368.9,651.0L370.4,647.9L372.6,641.9L374.1,637.7L374.7,635.8L376.6,629.7L377.3,623.7L377.3,617.6L377.3,611.6L377.3,605.5L379.0,599.4L379.2,599.0L382.0,593.4L384.4,588.3L384.9,587.3L387.5,581.3L389.6,577.9L392.1,575.2L394.8,572.9L399.2,569.1L400.0,568.4L405.0,563.1L405.2,562.9L409.6,557.0L410.3,555.7L413.4,551.0L415.5,545.3L415.7,544.9L417.7,538.8L419.4,532.8L420.6,526.7L420.6,520.7L420.6,514.6L420.6,508.5L420.5,502.5L419.5,496.4L418.4,490.4L417.3,484.3L415.9,478.2L415.5,477.6L411.7,472.2L410.3,470.5L406.5,466.1L405.2,464.9L400.0,460.8L398.8,460.1L394.8,457.8L389.6,455.3L386.9,454.0L384.4,452.8L379.2,450.6L374.1,448.8L370.8,447.9L368.9,447.5L363.7,447.7L359.4,447.9L358.5,448.0L353.3,448.2L348.1,448.5L343.0,451.7L339.4,454.0L337.8,454.9L332.6,457.9L329.1,460.1L327.4,461.2L322.2,464.4L319.5,466.1L317.0,467.8L311.9,471.6L311.1,472.2L306.7,475.8L303.0,478.2L301.5,479.5L296.4,484.3L296.3,484.4L291.4,490.4L291.1,490.7L287.4,496.4L285.9,499.1L284.1,502.5L282.2,508.5L280.8,514.1L280.6,514.6L279.3,520.7L278.1,526.7L278.0,532.8L278.1,538.8L278.2,544.9L278.4,551.0L279.2,557.0L280.5,563.1L280.8,564.1L282.1,569.1L283.9,575.2L285.9,580.0L286.5,581.3L289.6,587.3L291.1,590.1L293.2,593.4L296.3,597.8L297.6,599.4L301.5,604.1L302.8,605.5L306.7,609.7L309.4,611.6L311.9,613.4L316.8,617.6L317.0,617.9L322.2,623.2L322.6,623.7L327.4,629.6L327.5,629.7L332.2,635.8L332.6,636.3L336.3,641.9L337.8,644.3L339.8,647.9L343.0,653.1L343.5,654.0Z"/>
<path fill="#006400" fill-rule="evenodd" d="M316.7,569.1L317.0,569.3L322.2,571.4L327.4,573.2L332.6,573.2L337.8,573.2L343.0,573.2L348.1,573.2L353.3,570.1L354.8,569.1L358.5,566.7L363.7,563.1L363.8,563.1L368.9,559.4L370.9,557.0L374.1,552.7L375.2,551.0L377.9,544.9L379.2,541.6L380.4,538.8L382.8,532.8L384.4,527.0L384.5,526.7L384.5,520.7L384.5,514.6L384.5,508.5L384.4,506.5L384.3,502.5L382.3,496.4L380.2,490.4L379.2,487.7L377.9,484.3L375.2,478.2L374.1,477.3L368.9,473.9L363.7,473.1L358.5,472.4L356.6,472.2L353.3,471.8L348.1,471.3L346.7,472.2L343.0,474.7L338.0,478.2L337.8,478.5L333.2,484.3L332.6,485.0L327.9,490.4L327.4,490.9L322.2,496.3L322.1,496.4L317.0,501.6L316.1,502.5L311.9,507.3L310.7,508.5L306.7,512.7L305.5,514.6L302.1,520.7L301.5,521.8L299.3,526.7L299.0,532.8L299.4,538.8L299.7,544.9L300.1,551.0L301.5,555.4L302.1,557.0L305.6,563.1L306.7,564.7L311.9,567.1L316.7,569.1Z"/>
<path fill="#fffac8" fill-rule="evenodd" d="M140.5,914.5L140.8,914.6L146.0,915.1L151.2,915.5L156.4,915.9L161.5,916.1L166.7,916.1L171.9,916.1L177.1,916.1L181.7,914.5L182.3,914.4L187.5,912.0L192.6,910.3L197.8,909.0L200.2,908.5L203.0,907.9L208.2,907.0L213.4,906.2L218.6,905.6L223.7,904.5L228.9,902.6L229.4,902.4L234.1,899.6L239.3,896.9L240.4,896.4L244.5,893.9L249.7,890.7L250.3,890.3L254.8,887.9L260.0,885.5L262.9,884.2L265.2,883.3L270.4,881.4L275.6,879.7L280.5,878.2L280.8,878.1L285.9,876.6L291.1,875.3L296.3,874.1L301.5,873.0L305.6,872.1L306.7,871.9L311.9,870.8L317.0,869.6L322.2,868.4L327.4,867.1L330.8,866.1L332.6,865.5L337.8,863.8L343.0,861.9L347.6,860.0L348.1,859.8L351.3,853.9L352.9,847.9L353.3,844.7L353.7,841.8L354.5,835.8L355.4,829.7L356.2,823.6L357.0,817.6L357.9,811.5L358.5,808.1L359.0,805.5L359.1,799.4L358.5,797.7L356.9,793.3L354.5,787.3L353.3,784.5L351.9,781.2L348.6,775.2L348.1,774.4L343.0,771.6L337.8,769.3L337.3,769.1L332.6,767.4L327.4,765.7L322.2,764.0L319.0,763.1L317.0,762.5L311.9,761.0L306.7,759.5L301.5,757.2L301.1,757.0L296.3,754.7L291.1,751.9L289.5,750.9L285.9,749.6L280.8,748.3L275.6,747.1L270.4,745.8L267.0,744.9L265.2,744.4L262.4,744.9L260.0,745.3L254.8,747.5L249.7,749.9L247.6,750.9L244.5,752.9L239.3,755.5L236.2,757.0L234.1,757.9L228.9,760.1L223.7,762.1L220.6,763.1L218.6,763.6L213.4,765.0L208.2,766.5L203.0,768.3L200.9,769.1L197.8,770.4L192.6,772.9L188.8,775.2L187.5,776.1L182.3,780.6L181.6,781.2L177.1,786.4L176.4,787.3L171.9,793.3L171.9,793.4L168.2,799.4L166.7,802.7L165.5,805.5L162.7,811.5L161.5,813.4L158.6,817.6L156.4,820.2L152.8,823.6L151.2,825.1L146.0,828.9L144.8,829.7L140.8,832.1L135.6,835.7L135.5,835.8L130.8,841.8L130.4,842.3L127.1,847.9L125.3,853.8L125.2,853.9L125.2,860.0L125.2,866.1L125.2,872.1L125.3,875.5L125.3,878.2L125.5,884.2L125.8,890.3L126.1,896.4L127.1,902.4L130.4,907.2L131.5,908.5L135.6,912.9L140.5,914.5ZM497.2,890.3L498.5,890.8L498.9,890.3L502.1,884.2L503.6,878.2L499.2,872.1L498.5,871.6L495.4,872.1L493.3,872.7L490.1,878.2L491.6,884.2L493.3,888.5L497.2,890.3ZM871.7,878.2L876.8,881.1L882.0,878.7L883.0,878.2L887.2,875.4L891.0,872.1L892.4,870.7L896.0,866.1L897.6,863.6L899.4,860.0L901.9,853.9L902.8,852.7L905.7,847.9L907.9,845.1L910.5,841.8L913.1,838.4L915.1,835.8L918.3,831.4L918.3,829.7L918.3,823.6L918.3,817.6L918.3,811.5L918.3,805.5L918.3,799.4L918.3,793.3L918.3,787.3L918.3,781.2L918.3,775.2L918.3,769.1L918.3,763.1L918.3,757.0L918.3,750.9L918.3,744.9L918.3,738.8L918.3,738.0L915.8,732.8L913.1,727.2L912.9,726.7L909.5,720.6L907.9,717.8L906.2,714.6L902.8,708.5L902.8,708.4L899.4,702.5L897.6,698.5L896.5,696.4L893.5,690.3L892.4,688.1L890.4,684.3L887.2,678.6L887.0,678.2L883.6,672.2L882.0,669.6L879.8,666.1L876.8,661.6L876.2,660.0L874.0,654.0L872.9,647.9L872.0,641.9L871.7,639.2L871.2,635.8L870.5,629.7L870.1,623.7L869.9,617.6L869.7,611.6L869.4,605.5L870.4,599.4L871.7,595.9L872.8,593.4L876.0,587.3L876.8,585.9L882.0,586.7L885.8,587.3L887.2,587.5L892.4,588.4L897.6,589.2L902.8,590.0L907.9,590.8L913.1,591.6L918.3,592.5L918.3,587.3L918.3,581.3L918.3,575.2L918.3,569.1L918.3,563.1L918.3,557.0L918.3,551.0L918.3,544.9L918.3,538.8L918.3,532.8L918.3,526.7L918.3,520.7L918.3,514.6L918.3,508.5L918.3,502.5L918.3,496.4L918.3,490.4L918.3,484.3L918.3,478.2L918.3,472.2L918.3,466.1L918.3,460.1L918.3,454.0L918.3,447.9L918.3,441.9L918.3,435.8L918.3,429.8L918.3,423.7L918.3,417.6L918.3,412.8L916.2,411.6L913.1,409.8L907.9,406.9L905.2,405.5L902.8,404.1L897.6,401.4L893.8,399.5L892.4,398.8L887.2,396.2L882.0,393.8L881.1,393.4L876.8,391.6L871.7,391.1L866.5,391.0L861.3,390.9L856.1,390.8L850.9,390.8L845.7,390.8L840.6,390.8L835.4,390.8L830.2,391.2L825.0,391.9L819.8,392.7L815.2,393.4L814.6,393.5L809.5,394.6L804.3,395.8L799.1,397.3L793.9,399.0L791.4,399.5L788.7,400.0L783.5,400.3L778.4,400.5L773.2,400.8L768.0,401.0L762.8,400.9L757.6,400.9L752.4,400.8L747.3,400.0L745.8,399.5L742.1,397.9L736.9,395.6L732.5,393.4L731.7,393.0L726.5,390.1L722.7,387.4L721.3,386.3L716.2,382.2L715.1,381.3L711.0,376.6L709.7,375.2L705.8,371.0L703.8,369.2L700.6,366.5L695.7,363.1L695.4,362.9L690.2,360.1L685.1,357.7L683.5,357.1L679.9,355.6L674.7,353.7L669.5,352.1L664.4,351.0L664.3,351.0L664.1,351.0L659.1,351.5L654.0,352.1L648.8,352.7L643.6,353.4L638.4,355.2L633.7,357.1L633.2,357.2L628.0,359.6L622.9,362.3L621.6,363.1L617.7,365.7L613.4,369.2L612.5,370.0L607.5,375.2L607.3,375.4L602.1,378.8L598.6,381.3L596.9,381.9L591.8,383.7L586.6,385.4L581.4,387.1L580.2,387.4L576.2,388.2L571.0,389.2L565.8,390.3L560.7,391.5L555.5,392.5L551.1,393.4L550.3,393.6L545.1,394.9L539.9,396.4L537.5,399.5L534.7,403.1L533.4,405.5L530.0,411.6L529.6,412.4L527.0,417.6L524.4,423.7L524.4,423.7L522.3,429.8L521.5,435.8L520.8,441.9L520.2,447.9L519.6,454.0L519.5,460.1L519.4,466.1L519.4,472.2L519.3,478.2L520.1,484.3L521.0,490.4L522.0,496.4L522.9,502.5L524.4,508.0L524.5,508.5L526.4,514.6L528.4,520.7L529.6,523.8L530.7,526.7L534.7,531.3L536.1,532.8L539.9,536.2L542.8,538.8L545.1,540.8L549.9,544.9L550.3,545.3L555.5,549.5L557.2,551.0L560.7,553.2L565.8,556.6L566.5,557.0L571.0,559.7L576.2,562.8L576.7,563.1L581.4,565.9L586.6,568.9L586.9,569.1L591.8,572.0L596.9,575.1L597.1,575.2L602.1,579.3L604.7,581.3L607.3,584.1L610.2,587.3L612.5,589.8L615.7,593.4L617.7,595.6L621.0,599.4L622.9,602.8L624.6,605.5L625.8,611.6L627.3,617.6L628.0,619.9L629.4,623.7L632.0,629.7L633.2,632.6L634.9,635.8L638.4,641.3L638.9,641.9L643.6,646.8L645.0,647.9L648.8,650.8L654.0,653.7L654.5,654.0L659.1,657.4L663.6,660.0L664.3,660.4L669.5,661.7L674.7,662.6L679.9,663.2L685.1,663.8L690.2,665.1L693.8,666.1L695.4,666.5L700.6,667.7L705.8,668.8L711.0,672.0L711.1,672.2L716.2,676.4L718.3,678.2L721.3,682.7L722.4,684.3L726.4,690.3L726.5,690.5L730.1,696.4L731.7,699.2L733.5,702.5L731.7,707.7L731.4,708.5L729.0,714.6L726.5,720.6L726.5,720.7L724.0,726.7L721.3,731.6L720.7,732.8L717.5,738.8L716.2,741.2L714.2,744.9L711.0,750.8L710.9,750.9L705.8,756.3L704.1,757.0L700.6,758.5L695.4,760.9L691.2,763.1L690.2,763.6L685.1,766.3L679.9,768.0L677.0,769.1L674.7,770.1L669.5,772.5L664.6,775.2L664.3,775.4L659.1,778.6L656.2,781.2L654.0,785.1L653.0,787.3L650.9,793.3L649.6,799.4L652.6,805.5L654.0,806.9L658.5,811.5L659.1,812.1L664.3,817.1L665.1,817.6L669.5,820.2L674.7,822.7L677.0,823.6L679.9,824.5L685.1,825.9L690.2,827.3L695.4,828.6L700.0,829.7L700.6,829.8L705.8,830.7L711.0,831.9L716.2,833.1L721.3,834.1L726.5,835.1L731.7,835.7L732.3,835.8L736.9,836.2L742.1,836.7L747.3,837.1L752.4,837.0L757.6,836.4L762.8,835.8L763.0,835.8L768.0,835.0L773.2,834.1L778.4,833.0L783.5,831.7L788.7,830.1L789.8,829.7L793.9,827.9L799.1,825.0L801.1,823.6L804.3,820.8L807.2,817.6L809.5,814.5L811.6,811.5L814.6,805.9L814.9,805.5L819.8,800.3L820.6,799.4L825.0,797.1L830.2,794.8L835.4,795.5L837.9,799.4L839.7,805.5L840.2,811.5L840.6,815.1L840.8,817.6L841.6,823.6L842.5,829.7L843.7,835.8L845.2,841.8L845.7,843.8L847.0,847.9L849.8,853.9L850.9,855.8L853.9,860.0L856.1,862.9L858.8,866.1L861.3,868.7L864.7,872.1L866.5,873.7L871.7,878.2L871.7,878.2ZM621.4,750.9L622.9,756.7L626.0,750.9L623.2,744.9L622.9,744.2L622.7,744.9L621.4,750.9ZM448.5,744.9L451.8,747.3L457.0,746.5L459.1,744.9L462.2,742.2L465.2,738.8L467.4,735.9L469.3,732.8L471.8,726.7L468.8,720.6L467.4,718.4L464.5,714.6L462.2,712.1L458.1,708.5L457.0,707.7L451.8,706.1L446.6,707.5L444.4,708.5L441.4,710.6L438.6,714.6L436.7,720.6L436.3,722.8L435.6,726.7L436.3,728.1L438.4,732.8L441.4,737.5L442.5,738.8L446.6,743.2L448.5,744.9ZM52.7,296.5L52.7,296.9L53.2,296.5L57.9,291.4L58.7,290.4L63.0,284.3L63.1,284.0L64.9,278.3L63.1,275.6L60.5,272.2L57.9,269.3L54.6,266.2L52.7,264.6L52.7,266.2L52.7,272.2L52.7,278.3L52.7,284.3L52.7,290.4L52.7,296.5Z"/>
<path fill="#ffc864" fill-rule="evenodd" d="M220.7,878.2L223.7,878.5L224.4,878.2L228.9,876.4L234.1,874.7L239.3,873.2L243.1,872.1L244.5,871.8L249.7,869.9L254.8,868.4L260.0,867.0L264.2,866.1L265.2,865.9L270.4,864.8L275.6,863.9L280.8,863.0L285.9,862.3L291.1,861.6L296.3,861.0L301.5,860.4L305.0,860.0L306.7,859.8L311.9,858.4L317.0,857.0L322.2,855.6L327.4,854.0L327.6,853.9L332.6,852.5L337.8,850.0L340.7,847.9L343.0,845.1L344.5,841.8L346.0,835.8L346.8,829.7L347.0,823.6L346.6,817.6L345.9,811.5L344.1,805.5L343.0,803.4L338.8,799.4L337.8,798.3L332.6,793.4L332.5,793.3L327.4,789.2L324.1,787.3L322.2,786.2L317.0,783.5L312.5,781.2L311.9,780.9L306.7,778.6L301.5,777.1L296.3,775.4L295.7,775.2L291.1,773.7L285.9,771.8L280.8,770.5L275.6,769.3L274.8,769.1L270.4,768.0L265.2,766.5L260.0,768.2L258.3,769.1L254.8,770.7L249.7,772.8L244.5,774.6L242.6,775.2L239.3,776.4L234.1,778.2L228.9,779.9L224.5,781.2L223.7,781.5L218.6,783.9L213.4,787.3L213.4,787.3L208.2,791.2L205.7,793.3L203.0,795.8L199.4,799.4L197.8,803.8L197.3,805.5L197.2,811.5L197.1,817.6L197.1,823.6L197.2,829.7L197.4,835.8L197.6,841.8L197.8,846.1L197.9,847.9L199.0,853.9L201.8,860.0L203.0,862.1L205.4,866.1L208.2,869.7L210.5,872.1L213.4,874.5L218.6,877.9L220.7,878.2ZM493.1,878.2L493.3,878.6L498.5,881.3L499.7,878.2L498.5,876.5L493.3,878.0L493.1,878.2ZM871.8,860.0L876.8,863.6L880.6,860.0L882.0,858.4L885.6,853.9L887.2,852.0L890.4,847.9L892.4,845.5L895.4,841.8L897.6,839.2L900.3,835.8L902.8,832.6L905.0,829.7L907.9,826.0L909.8,823.6L913.1,819.7L914.9,817.6L918.3,813.5L918.3,811.5L918.3,805.5L918.3,799.4L918.3,793.3L918.3,787.3L918.3,781.2L918.3,775.2L918.3,769.1L918.3,763.1L918.3,762.5L916.6,757.0L914.7,750.9L913.1,747.7L911.7,744.9L908.9,738.8L907.9,736.8L906.1,732.8L903.3,726.7L902.8,725.8L899.9,720.6L897.6,716.4L896.5,714.6L893.2,708.5L892.4,707.1L889.8,702.5L887.2,697.4L886.7,696.4L883.4,690.3L882.0,687.9L879.9,684.3L876.8,679.1L876.3,678.2L873.5,672.2L871.7,667.6L871.1,666.1L869.3,660.0L867.8,654.0L867.0,647.9L866.5,643.8L866.2,641.9L865.5,635.8L864.8,629.7L864.3,623.7L863.8,617.6L863.3,611.6L862.7,605.5L863.2,599.4L864.8,593.4L866.5,588.2L866.8,587.3L869.1,581.3L871.7,577.6L873.9,575.2L876.8,573.2L882.0,573.2L887.2,573.1L892.4,573.1L897.6,573.1L902.8,573.0L907.9,573.0L913.1,572.9L918.3,572.7L918.3,569.1L918.3,563.1L918.3,557.0L918.3,551.0L918.3,544.9L918.3,538.8L918.3,532.8L918.3,526.7L918.3,520.7L918.3,514.6L918.3,508.5L918.3,502.5L918.3,496.4L918.3,490.4L918.3,484.3L918.3,478.2L918.3,472.2L918.3,466.1L918.3,460.1L918.3,454.0L918.3,447.9L918.3,441.9L918.3,435.8L918.3,429.8L918.3,424.4L917.4,423.7L913.1,420.8L908.1,417.6L907.9,417.6L902.8,414.5L897.6,411.7L897.3,411.6L892.4,409.1L887.2,406.7L884.7,405.5L882.0,404.2L876.8,401.8L871.7,401.3L866.5,401.2L861.3,401.1L856.1,401.0L850.9,401.0L845.7,401.0L840.6,401.0L835.4,401.0L830.2,401.7L825.0,402.9L819.8,404.3L815.5,405.5L814.6,405.8L809.5,407.4L804.3,409.5L799.7,411.6L799.1,411.9L793.9,414.8L788.7,416.6L783.5,417.2L779.3,417.6L778.4,417.8L773.2,418.3L768.0,418.7L762.8,418.7L757.6,418.7L752.4,418.7L747.3,418.3L743.3,417.6L742.1,417.4L736.9,416.4L731.7,415.4L726.5,414.0L721.3,412.3L719.6,411.6L716.2,410.2L711.0,407.7L708.0,405.5L705.8,403.7L702.3,399.5L700.6,397.5L696.9,393.4L695.4,391.9L690.7,387.4L690.2,387.0L685.1,382.5L683.6,381.3L679.9,378.5L674.9,375.2L674.7,375.1L669.5,372.2L664.3,370.0L659.1,371.0L654.0,372.1L648.8,373.2L643.6,374.5L642.3,375.2L638.4,377.4L633.2,380.4L631.7,381.3L628.0,382.9L622.9,385.0L617.7,387.0L616.8,387.4L612.5,388.9L607.3,390.7L602.1,392.5L599.1,393.4L596.9,394.1L591.8,395.6L586.6,397.1L581.4,398.5L577.4,399.5L576.2,399.8L571.0,401.1L565.8,402.4L560.7,403.9L555.6,405.5L555.5,405.6L550.3,407.3L545.1,409.3L540.0,411.6L539.9,411.6L535.4,417.6L534.7,418.6L532.1,423.7L529.6,429.8L529.6,429.9L528.4,435.8L527.4,441.9L526.4,447.9L525.6,454.0L525.3,460.1L524.9,466.1L524.6,472.2L524.4,477.7L524.4,478.2L524.4,478.4L525.3,484.3L526.2,490.4L527.2,496.4L528.3,502.5L529.6,506.8L530.1,508.5L532.2,514.6L534.6,520.7L534.7,521.1L537.1,526.7L539.9,529.8L542.8,532.8L545.1,534.9L549.6,538.8L550.3,539.4L555.5,543.8L556.9,544.9L560.7,548.0L564.4,551.0L565.8,551.9L571.0,555.2L573.8,557.0L576.2,558.5L581.4,561.6L583.9,563.1L586.6,564.6L591.8,567.7L594.1,569.1L596.9,570.8L602.1,573.9L604.6,575.2L607.3,577.2L612.5,581.2L612.6,581.3L617.7,586.9L618.0,587.3L622.9,592.7L623.5,593.4L628.0,597.8L629.7,599.4L633.2,604.6L633.9,605.5L636.3,611.6L638.4,616.0L639.3,617.6L643.5,623.7L643.6,623.8L648.7,629.7L648.8,629.9L654.0,635.3L654.5,635.8L659.1,639.5L662.8,641.9L664.3,642.7L669.5,645.1L674.7,647.1L677.4,647.9L679.9,648.7L685.1,650.2L690.2,651.8L695.4,653.4L697.3,654.0L700.6,655.3L705.8,657.1L710.2,660.0L711.0,660.5L716.2,664.6L718.0,666.1L721.3,668.7L725.7,672.2L726.5,672.9L731.7,677.8L732.1,678.2L735.5,684.3L736.9,686.6L739.1,690.3L742.1,695.3L742.8,696.4L746.3,702.5L744.7,708.5L743.0,714.6L742.1,717.7L741.1,720.6L739.1,726.7L736.9,731.0L736.0,732.8L732.5,738.8L731.7,740.1L728.9,744.9L726.5,748.8L725.3,750.9L721.3,756.0L720.6,757.0L716.2,762.2L715.5,763.1L711.0,768.4L710.3,769.1L705.8,773.7L703.2,775.2L700.6,777.5L696.6,781.2L695.4,782.6L691.6,787.3L690.2,789.1L686.9,793.3L685.1,795.7L681.9,799.4L685.1,804.6L685.5,805.5L690.2,808.7L695.0,811.5L695.4,811.8L700.6,814.4L705.8,816.7L707.3,817.6L711.0,819.5L716.2,822.1L719.9,823.6L721.3,824.1L726.5,825.8L731.7,826.8L736.9,827.6L742.1,828.4L747.3,829.1L752.4,828.8L757.6,827.5L762.8,826.1L768.0,824.5L770.4,823.6L773.2,822.5L778.4,820.0L782.7,817.6L783.5,817.1L788.7,813.3L790.9,811.5L793.9,808.6L796.7,805.5L799.1,802.0L800.9,799.4L804.3,794.6L805.4,793.3L809.5,789.6L813.3,787.3L814.6,786.6L819.8,785.0L825.0,783.7L830.2,782.7L835.4,783.8L838.2,787.3L840.6,790.5L842.4,793.3L845.7,799.3L845.8,799.4L847.6,805.5L848.7,811.5L849.9,817.6L850.9,821.9L851.4,823.6L853.2,829.7L855.4,835.8L856.1,837.5L858.2,841.8L861.3,847.3L861.6,847.9L866.2,853.9L866.5,854.3L871.7,859.9L871.8,860.0ZM446.5,738.8L446.6,738.9L451.8,743.6L457.0,742.7L461.2,738.8L462.2,737.7L465.9,732.8L467.4,730.0L468.9,726.7L467.4,723.9L465.3,720.6L462.2,716.5L460.4,714.6L457.0,711.5L451.8,709.9L446.6,712.7L444.5,714.6L441.4,719.0L440.6,720.6L438.7,726.7L441.4,732.2L441.8,732.8L446.5,738.8Z"/>
<path fill="#ff9600" fill-rule="evenodd" d="M318.0,835.8L322.2,838.7L327.4,840.6L332.6,836.0L332.8,835.8L336.7,829.7L336.9,823.6L333.6,817.6L332.6,816.3L327.4,811.5L327.4,811.5L327.4,811.5L322.2,813.3L317.0,817.2L316.7,817.6L313.2,823.6L313.6,829.7L317.0,834.8L318.0,835.8ZM872.7,823.6L876.8,828.6L881.0,823.6L882.0,822.4L886.1,817.6L887.2,816.2L891.1,811.5L892.4,810.1L896.2,805.5L897.6,802.9L899.4,799.4L899.3,793.3L899.3,787.3L899.2,781.2L898.9,775.2L897.8,769.1L897.6,767.9L896.7,763.1L895.8,757.0L894.6,750.9L892.4,745.9L891.9,744.9L889.3,738.8L887.2,734.0L886.7,732.8L884.1,726.7L882.0,723.0L880.7,720.6L877.3,714.6L876.8,713.8L871.7,708.5L871.7,708.5L866.5,702.7L866.3,702.5L863.1,696.4L861.3,691.8L860.8,690.3L859.1,684.3L857.8,678.2L857.1,672.2L856.6,666.1L856.2,660.0L856.1,658.3L855.9,654.0L855.4,647.9L854.8,641.9L854.2,635.8L853.7,629.7L852.9,623.7L851.9,617.6L850.9,612.1L850.8,611.6L849.6,605.5L849.2,599.4L849.6,593.4L850.0,587.3L850.4,581.3L850.9,579.4L852.2,575.2L856.1,569.4L856.3,569.1L861.3,564.2L862.7,563.1L866.5,560.4L871.7,557.6L873.0,557.0L876.8,555.5L882.0,553.7L887.2,551.5L888.3,551.0L892.4,548.9L897.6,545.7L898.6,544.9L902.8,541.6L905.7,538.8L907.9,536.4L910.8,532.8L913.1,529.5L914.9,526.7L918.3,521.7L918.3,520.7L918.3,514.6L918.3,508.5L918.3,502.5L918.3,496.4L918.3,490.4L918.3,484.3L918.3,478.2L918.3,472.2L918.3,466.1L918.3,460.1L918.3,454.0L918.3,453.1L914.4,447.9L913.1,446.4L909.0,441.9L907.9,440.8L902.8,436.0L902.5,435.8L897.6,431.8L894.7,429.8L892.4,428.3L887.2,425.2L884.7,423.7L882.0,422.3L876.8,419.6L871.7,419.1L866.5,418.9L861.3,418.8L856.1,418.7L850.9,418.7L845.7,418.7L840.6,418.7L835.4,418.7L830.2,420.0L825.0,422.1L821.5,423.7L819.8,424.5L814.6,427.3L811.0,429.8L809.5,431.2L805.5,435.8L804.3,437.6L801.7,441.9L799.1,447.6L799.0,447.9L796.9,454.0L795.9,460.1L795.1,466.1L794.4,472.2L793.9,478.2L793.9,478.3L792.1,484.3L789.9,490.4L788.7,493.5L784.6,496.4L783.5,497.2L778.4,500.5L775.1,502.5L773.2,503.3L768.0,504.3L762.8,504.3L757.6,504.3L752.4,504.3L749.1,502.5L747.3,501.1L744.4,496.4L742.1,493.1L740.0,490.4L736.9,486.8L734.4,484.3L731.7,481.7L727.8,478.2L726.5,475.7L724.7,472.2L721.3,467.0L720.7,466.1L716.2,461.4L714.5,460.1L711.0,457.6L705.8,454.3L705.4,454.0L700.6,449.6L698.9,447.9L695.4,444.4L693.0,441.9L690.2,438.7L687.9,435.8L685.1,432.0L683.8,429.8L679.9,423.9L679.7,423.7L675.1,417.6L674.7,417.2L669.7,411.6L669.5,411.4L664.3,406.9L659.1,406.8L654.0,406.7L648.8,406.6L643.6,406.6L638.4,408.1L633.2,409.4L628.0,410.5L623.0,411.6L622.9,411.6L617.7,412.6L612.5,413.5L607.3,414.3L602.1,415.1L596.9,415.8L591.8,416.5L586.6,417.1L581.8,417.6L581.4,417.7L576.2,419.1L571.0,420.6L565.8,422.3L561.8,423.7L560.7,424.1L555.5,426.9L551.2,429.8L550.3,430.7L545.8,435.8L545.1,436.8L542.0,441.9L539.9,446.4L539.5,447.9L537.8,454.0L536.8,460.1L536.0,466.1L535.2,472.2L534.7,476.1L534.5,478.2L534.7,479.6L535.5,484.3L536.7,490.4L537.8,496.4L539.0,502.5L539.9,505.1L541.2,508.5L543.9,514.6L545.1,517.2L546.8,520.7L550.0,526.7L550.3,527.0L555.5,532.2L556.1,532.8L560.7,536.6L563.5,538.8L565.8,540.6L571.0,544.7L571.3,544.9L576.2,548.8L578.9,551.0L581.4,552.6L586.6,556.0L588.2,557.0L591.8,559.1L596.9,562.2L598.4,563.1L602.1,565.3L607.3,567.9L609.7,569.1L612.5,570.6L617.7,573.5L620.7,575.2L622.9,576.9L628.0,580.3L629.4,581.3L633.2,584.9L635.6,587.3L638.4,590.1L641.7,593.4L643.6,595.4L647.5,599.4L648.8,601.1L652.4,605.5L654.0,607.6L657.2,611.6L659.1,613.7L663.3,617.6L664.3,618.5L669.5,622.4L671.5,623.7L674.7,625.7L679.9,628.7L682.0,629.7L685.1,631.4L690.2,634.0L694.3,635.8L695.4,636.3L700.6,638.4L705.8,640.3L709.4,641.9L711.0,642.5L716.2,645.1L721.3,647.7L721.7,647.9L726.5,650.8L731.0,654.0L731.7,654.6L736.9,659.5L737.4,660.0L742.1,664.4L743.8,666.1L747.3,669.4L749.4,672.2L752.4,676.5L753.4,678.2L755.9,684.3L757.6,688.3L758.5,690.3L761.4,696.4L762.8,699.2L764.5,702.5L765.9,708.5L768.0,714.6L768.0,714.7L771.1,720.6L773.2,723.5L776.3,726.7L778.4,729.3L782.0,732.8L783.5,733.9L788.7,737.0L791.9,738.8L793.9,739.9L799.1,743.7L800.6,744.9L804.3,748.1L807.3,750.9L809.5,752.8L814.6,756.4L815.7,757.0L819.8,758.8L825.0,760.7L830.2,762.1L833.4,763.1L835.4,763.6L840.6,766.4L844.4,769.1L845.7,770.2L850.5,775.2L850.9,775.8L854.4,781.2L856.1,784.5L857.5,787.3L860.0,793.3L861.3,797.0L862.1,799.4L864.1,805.5L866.5,811.5L866.5,811.5L869.2,817.6L871.7,822.2L872.7,823.6ZM729.5,805.5L731.7,806.4L736.9,808.2L742.1,809.7L747.3,811.2L752.4,810.4L757.6,807.8L761.7,805.5L762.8,804.3L767.2,799.4L766.8,793.3L766.3,787.3L765.7,781.2L763.9,775.2L762.8,773.8L757.8,769.1L757.6,769.0L752.4,765.5L747.3,765.9L743.8,769.1L742.1,770.7L736.9,775.2L736.9,775.2L732.6,781.2L731.7,782.9L729.6,787.3L726.5,793.3L726.5,793.3L724.0,799.4L726.5,802.8L729.5,805.5ZM448.5,732.8L451.8,736.3L457.0,735.1L459.1,732.8L462.2,728.1L462.9,726.7L462.2,725.5L458.4,720.6L457.0,719.1L451.8,717.5L448.6,720.6L446.6,723.2L444.6,726.7L446.6,730.0L448.5,732.8Z"/>
<path fill="#ff0000" fill-rule="evenodd" d="M790.4,684.3L793.9,686.1L797.6,684.3L799.1,683.5L804.3,680.3L807.3,678.2L809.5,676.7L814.6,672.6L815.2,672.2L819.8,667.7L821.3,666.1L825.0,661.9L826.5,660.0L830.2,655.1L830.7,654.0L831.4,647.9L831.4,641.9L831.3,635.8L831.3,629.7L830.4,623.7L830.2,622.8L829.2,617.6L828.3,611.6L827.6,605.5L826.9,599.4L826.2,593.4L825.5,587.3L825.0,583.6L824.7,581.3L823.6,575.2L821.7,569.1L819.8,564.7L819.0,563.1L814.6,557.3L814.3,557.0L809.5,552.3L807.5,551.0L804.3,548.4L799.1,545.7L797.0,544.9L793.9,544.0L788.7,543.8L783.5,544.5L780.5,544.9L778.4,545.2L773.2,546.0L768.0,547.1L762.8,548.7L757.6,550.6L756.7,551.0L752.4,552.5L747.3,552.5L744.7,551.0L742.1,548.9L737.5,544.9L736.9,544.3L731.7,539.0L731.5,538.8L726.9,532.8L726.5,532.3L723.1,526.7L721.3,524.4L718.4,520.7L716.2,518.0L713.0,514.6L711.0,512.5L705.8,508.7L705.3,508.5L700.6,507.5L695.4,506.3L690.2,505.2L685.1,504.4L679.9,504.3L674.7,504.3L669.5,504.3L664.3,503.9L661.9,502.5L659.1,499.9L655.5,496.4L654.0,494.8L649.8,490.4L648.8,489.2L644.8,484.3L643.6,482.8L641.1,478.2L638.4,472.6L638.2,472.2L634.1,466.1L633.2,465.1L628.0,460.1L628.0,460.1L622.9,456.6L617.7,455.6L612.5,454.7L608.5,454.0L607.3,453.8L602.1,453.0L596.9,453.0L591.8,453.0L586.6,453.0L581.4,453.0L579.4,454.0L576.2,455.7L571.0,459.5L570.3,460.1L565.8,464.0L563.6,466.1L560.7,469.3L559.0,472.2L556.1,478.2L557.2,484.3L558.4,490.4L559.7,496.4L560.7,501.5L560.9,502.5L565.1,508.5L565.8,509.5L569.6,514.6L571.0,516.6L574.0,520.7L576.2,523.8L578.3,526.7L581.4,529.3L585.9,532.8L586.6,533.2L591.8,537.0L594.2,538.8L596.9,541.0L601.8,544.9L602.1,545.2L607.3,548.6L610.6,551.0L612.5,551.9L617.7,554.8L621.6,557.0L622.9,557.6L628.0,559.0L633.2,560.5L638.4,562.2L640.6,563.1L643.6,564.3L648.8,566.8L652.8,569.1L654.0,569.8L659.1,573.6L661.0,575.2L664.3,578.4L667.0,581.3L669.5,583.9L672.6,587.3L674.7,589.7L677.9,593.4L679.9,595.7L683.1,599.4L685.1,601.4L690.2,605.5L690.2,605.5L695.4,608.4L700.6,611.1L701.6,611.6L705.8,613.6L711.0,615.0L716.2,616.1L721.3,617.3L722.7,617.6L726.5,618.6L731.7,620.7L736.9,623.2L737.9,623.7L742.1,626.0L747.3,629.0L747.9,629.7L752.4,634.6L753.3,635.8L757.6,641.6L757.8,641.9L762.5,647.9L762.8,648.3L767.2,654.0L768.0,655.3L771.3,660.0L773.2,662.7L775.8,666.1L778.4,669.4L780.4,672.2L783.5,676.3L785.0,678.2L788.7,683.4L790.4,684.3ZM832.9,520.7L835.4,521.7L840.6,521.7L845.7,521.7L850.9,521.7L856.1,521.6L861.3,521.4L866.5,521.2L871.7,521.0L873.9,520.7L876.8,520.2L882.0,515.6L883.1,514.6L887.2,510.4L888.9,508.5L892.4,504.0L893.5,502.5L894.8,496.4L896.1,490.4L897.3,484.3L897.6,482.6L898.3,478.2L897.6,477.2L893.9,472.2L892.4,470.2L888.9,466.1L887.2,464.2L883.1,460.1L882.0,459.0L876.8,454.5L873.9,454.0L871.7,453.7L866.5,453.5L861.3,453.2L856.1,453.0L850.9,453.0L845.7,453.0L840.6,453.0L835.4,453.0L833.8,454.0L830.2,456.5L827.1,460.1L825.0,462.7L822.6,466.1L819.8,470.7L819.0,472.2L816.0,478.2L816.2,484.3L816.5,490.4L816.8,496.4L817.2,502.5L819.8,508.3L820.0,508.5L824.5,514.6L825.0,515.1L830.2,519.5L832.9,520.7Z"/>
<path fill="#c80000" fill-rule="evenodd" d="M783.7,605.5L788.7,609.4L793.9,607.7L795.0,605.5L795.6,599.4L794.4,593.4L793.9,591.1L790.4,587.3L788.7,585.4L787.6,587.3L784.4,593.4L783.5,595.2L781.6,599.4L783.5,605.0L783.7,605.5Z"/>

<path d="M139.3,229.8V950.9M225.8,229.8V950.9M312.4,229.8V950.9M398.9,229.8V950.9M485.5,229.8V950.9M572.1,229.8V950.9M658.6,229.8V950.9M745.2,229.8V950.9M831.7,229.8V950.9M52.7,847.9H918.3M52.7,744.9H918.3M52.7,641.9H918.3M52.7,538.8H918.3M52.7,435.8H918.3M52.7,332.8H918.3" stroke="#a0a0a0" stroke-width="2.2" stroke-dasharray="2.0 7.3" fill="none"/>
<path d="M52.7,285.6L80.7,300.5L107.9,293.7L120.4,295.9L122.6,287.9L119.4,276.6L118.1,260.9L121.6,249.6L114.9,247.3L112.6,229.8M52.7,435.2L69.5,460.1L78.5,480.5L94.4,489.6L105.7,498.7L117.1,505.3L135.1,509.8L146.5,504.2L162.5,498.7L169.2,497.4L176.0,505.3L180.5,523.4L212.1,530.2L225.8,532.5L257.5,537.0L289.2,532.5L307.4,534.7L332.3,531.4L341.5,534.7L352.7,546.1L357.2,561.9L370.9,570.0L379.9,582.1L392.0,583.1L402.4,582.1L404.1,590.4L389.1,594.5L381.6,596.5L389.1,606.8L398.1,619.2L409.3,625.2L425.3,620.6L434.3,609.3L436.5,598.0L438.8,595.7L443.4,598.0L443.4,607.0L447.9,625.2L447.9,647.8L450.2,681.6L454.7,702.0L459.2,724.7L465.9,742.8L475.1,760.9L481.9,776.8L488.3,797.2L495.0,810.8L504.0,828.9L508.7,851.6L509.7,862.9L515.4,874.1L522.2,883.1L530.2,887.6L535.9,883.1L538.1,874.1L547.1,867.5L556.1,862.9L558.4,851.6L556.1,842.5L565.3,842.5L569.8,840.3L569.8,828.9L567.6,806.3L574.3,783.6L576.6,760.9L574.3,738.3L578.8,729.2L590.2,726.9L592.5,720.1L606.0,715.6L610.7,706.6L615.2,702.0L628.7,690.7L640.1,681.6L651.3,672.6L660.4,659.2L671.8,647.8L680.8,643.3L690.0,632.0L692.2,616.1L696.7,611.6L712.6,604.8L714.9,600.2L717.1,609.3L748.8,602.5L771.5,584.4L778.2,593.4L785.0,625.2L794.2,638.8L807.7,647.8L809.9,654.6L812.2,665.8L816.9,668.0L821.4,681.6L825.9,697.5L823.6,711.1L819.1,724.7L830.4,729.2L841.8,726.9L855.3,715.6L866.7,706.6L875.7,713.3L880.2,724.7L882.5,738.3L887.0,760.9L891.6,779.1L896.1,797.2L893.9,808.5L896.1,817.6L893.9,828.9L891.6,851.6L889.2,867.5L891.6,887.6L896.1,885.4L900.6,892.2L907.4,901.2L916.6,912.6L921.8,917.9M921.8,779.9L918.8,783.6L909.6,817.6L906.2,842.5L909.6,862.9L917.6,871.8L921.8,876.7M52.7,503.0L57.0,514.3L54.8,523.4L63.8,534.7L70.5,526.9L71.7,518.9L76.2,516.6L80.7,523.4L80.7,537.0L78.5,546.1L74.0,554.1L82.0,555.1L85.2,559.7L94.4,560.9L101.2,556.4L119.4,558.6L126.1,556.4L130.6,549.6L139.8,541.5L148.8,531.4L157.8,521.1L161.2,515.6L164.7,517.8L163.5,543.8L171.5,555.1L187.2,566.5L203.1,571.0L212.1,582.3L221.3,593.6L223.6,593.4L214.6,609.3L207.6,616.1L198.6,633.0L191.9,634.2L187.2,647.8L189.6,661.4L176.0,667.0L169.2,674.8L164.7,683.9L146.5,690.7L144.3,697.5L137.5,704.3L128.4,703.3L114.9,706.6L94.4,720.1L92.2,733.7L52.7,747.3M110.2,797.2L117.1,792.7L131.8,796.0L123.9,801.7L117.1,801.7L110.2,797.2M52.7,817.6L62.7,808.5L72.8,811.8L70.5,838.0L66.0,847.1L65.0,860.7L52.7,883.1M573.3,852.6L583.3,862.9L592.5,878.6L601.5,896.7L603.7,912.6L599.2,923.9L590.2,929.7L578.8,930.7L574.3,923.9L569.8,910.3L567.6,892.2L569.8,874.1L573.3,862.9L573.3,852.6M835.2,953.0L838.3,937.1L848.5,937.1L855.3,943.9L878.0,946.2L884.7,950.7L887.1,953.0" stroke="#000" stroke-width="1.6" fill="none" stroke-linejoin="round"/>
<rect x="225.8" y="332.8" width="259.7" height="309.0" fill="none" stroke="#000" stroke-width="4.2"/>
<path d="M104.6,281.3L118.8,295.4M112.7,281.7L118.8,295.4L105.1,289.3M156.6,281.3L166.3,298.8M164.2,283.9L166.3,298.8L154.8,289.2M208.5,281.3L208.5,306.3M213.9,292.3L208.5,306.3L203.1,292.3M260.4,281.3L260.4,309.3M265.8,295.3L260.4,309.3L255.1,295.3M312.4,281.3L307.5,308.9M315.2,296.0L307.5,308.9L304.7,294.2M364.3,281.3L342.5,304.7M356.0,298.1L342.5,304.7L348.1,290.8M416.3,281.3L380.8,294.9M395.8,294.9L380.8,294.9L391.9,284.9M468.2,281.3L440.9,275.0M453.3,283.4L440.9,275.0L455.8,272.9M520.1,281.3L512.6,251.2M510.8,266.1L512.6,251.2L521.2,263.5M572.1,281.3L579.4,211.7M572.6,225.1L579.4,211.7L583.3,226.2M624.0,281.3L638.5,212.8M630.4,225.4L638.5,212.8L640.9,227.7M675.9,281.3L686.9,212.2M679.4,225.2L686.9,212.2L690.0,226.8M727.9,281.3L727.9,211.3M722.5,225.3L727.9,211.3L733.2,225.3M779.8,281.3L751.3,217.4M752.1,232.3L751.3,217.4L761.9,228.0M831.7,281.3L798.9,219.5M800.7,234.4L798.9,219.5L810.2,229.3M883.7,281.3L883.7,221.3M878.3,235.3L883.7,221.3L889.1,235.3M104.6,343.1L125.7,349.5M113.9,340.3L125.7,349.5L110.7,350.6M156.6,343.1L171.3,351.6M161.9,340.0L171.3,351.6L156.5,349.3M208.5,343.1L221.4,360.9M217.6,346.4L221.4,360.9L208.9,352.7M260.4,343.1L266.0,374.6M268.9,359.9L266.0,374.6L258.3,361.8M312.4,343.1L312.4,393.1M317.8,379.1L312.4,393.1L307.0,379.1M364.3,343.1L335.7,399.2M346.9,389.2L335.7,399.2L337.3,384.3M416.3,343.1L371.0,388.4M384.7,382.3L371.0,388.4L377.1,374.7M468.2,343.1L425.9,388.5M439.4,381.9L425.9,388.5L431.5,374.6M520.1,343.1L474.6,368.3M489.5,366.2L474.6,368.3L484.3,356.8M572.1,343.1L530.3,310.5M538.0,323.3L530.3,310.5L544.6,314.9M624.0,343.1L611.3,253.0M608.0,267.6L611.3,253.0L618.6,266.1M675.9,343.1L683.9,229.4M677.5,243.0L683.9,229.4L688.3,243.7M727.9,343.1L727.9,229.1M722.5,243.1L727.9,229.1L733.2,243.1M779.8,343.1L751.5,229.6M749.7,244.5L751.5,229.6L760.1,241.9M831.7,343.1L799.2,229.7M797.9,244.6L799.2,229.7L808.2,241.7M883.7,343.1L904.3,246.3M896.1,258.9L904.3,246.3L906.6,261.1M104.6,404.9L124.2,409.1M111.6,400.9L124.2,409.1L109.4,411.4M156.6,404.9L177.4,412.1M165.9,402.4L177.4,412.1L162.4,412.6M208.5,404.9L228.9,417.6M219.8,405.7L228.9,417.6L214.1,414.8M260.4,404.9L284.9,428.5M278.6,414.9L284.9,428.5L271.1,422.7M312.4,404.9L331.6,441.1M329.8,426.2L331.6,441.1L320.3,431.3M364.3,404.9L340.2,454.4M351.2,444.1L340.2,454.4L341.5,439.4M416.3,404.9L368.2,466.4M381.1,458.7L368.2,466.4L372.6,452.0M468.2,404.9L430.6,475.6M442.0,465.7L430.6,475.6L432.5,460.7M520.1,404.9L454.6,483.1M467.7,475.8L454.6,483.1L459.4,468.9M572.1,404.9L473.1,469.2M487.8,466.1L473.1,469.2L481.9,457.1M624.0,404.9L555.9,428.4M570.9,428.9L555.9,428.4L567.4,418.7M675.9,404.9L669.0,393.9M671.4,406.0L669.0,393.9L678.9,401.3M727.9,404.9L737.5,396.2M726.0,400.7L737.5,396.2L731.9,407.2M779.8,404.9L769.5,422.1M781.3,412.8L769.5,422.1L772.1,407.3M831.7,404.9L818.6,448.0M827.8,436.1L818.6,448.0L817.5,433.0M883.7,404.9L917.4,449.6M913.2,435.2L917.4,449.6L904.7,441.7M104.6,466.7L124.1,471.2M111.7,462.8L124.1,471.2L109.3,473.3M156.6,466.7L178.5,469.0M165.1,462.2L178.5,469.0L164.0,472.9M208.5,466.7L232.5,467.2M218.6,461.5L232.5,467.2L218.4,472.3M260.4,466.7L287.3,463.9M272.8,460.0L287.3,463.9L273.9,470.7M312.4,466.7L331.7,458.5M316.7,459.1L331.7,458.5L320.9,468.9M364.3,466.7L356.1,461.0M361.4,468.9L356.1,461.0L365.3,463.3M416.3,466.7L393.5,492.0M406.9,485.2L393.5,492.0L398.9,478.0M468.2,466.7L442.8,514.4M454.2,504.6L442.8,514.4L444.7,499.5M520.1,466.7L465.9,526.9M479.3,520.1L465.9,526.9L471.3,512.9M572.1,466.7L506.4,571.9M518.3,562.9L506.4,571.9L509.2,557.2M624.0,466.7L538.7,564.8M552.0,557.8L538.7,564.8L543.8,550.7M675.9,466.7L658.6,565.2M666.3,552.4L658.6,565.2L655.7,550.5M727.9,466.7L752.1,563.8M753.9,548.9L752.1,563.8L743.5,551.5M779.8,466.7L794.8,573.7M798.2,559.1L794.8,573.7L787.6,560.6M831.7,466.7L831.7,577.7M837.1,563.7L831.7,577.7L826.4,563.7M883.7,466.7L900.6,573.4M903.7,558.7L900.6,573.4L893.1,560.4M104.6,528.5L122.6,529.5M108.9,523.4L122.6,529.5L108.3,534.1M156.6,528.5L174.4,531.0M161.3,523.8L174.4,531.0L159.8,534.4M208.5,528.5L224.7,520.7M209.7,522.0L224.7,520.7L214.5,531.6M260.4,528.5L278.5,515.9M263.9,519.6L278.5,515.9L270.1,528.4M312.4,528.5L325.8,513.7M312.4,520.5L325.8,513.7L320.4,527.7M364.3,528.5L374.7,522.5M363.4,524.3L374.7,522.5L367.5,531.4M416.3,528.5L421.3,539.4M420.5,528.0L421.3,539.4L413.1,531.5M468.2,528.5L456.0,548.0M468.0,539.0L456.0,548.0L458.9,533.3M520.1,528.5L479.4,552.0M494.2,549.7L479.4,552.0L488.9,540.4M572.1,528.5L538.6,567.0M551.8,560.0L538.6,567.0L543.7,552.9M624.0,528.5L563.0,603.9M575.9,596.4L563.0,603.9L567.6,589.7M675.9,528.5L650.7,637.7M659.1,625.2L650.7,637.7L648.6,622.8M727.9,528.5L738.8,590.6M741.7,575.9L738.8,590.6L731.1,577.7M779.8,528.5L795.4,573.9M796.0,558.9L795.4,573.9L785.8,562.4M831.7,528.5L831.7,586.5M837.1,572.5L831.7,586.5L826.4,572.5M883.7,528.5L871.8,569.9M880.9,557.9L871.8,569.9L870.5,554.9M104.6,590.4L122.9,582.2M107.9,583.0L122.9,582.2L112.3,592.8M156.6,590.4L171.4,584.4M156.4,584.6L171.4,584.4L160.4,594.6M208.5,590.4L223.2,587.2M209.1,585.0L223.2,587.2L211.2,595.0M260.4,590.4L280.2,587.6M265.6,584.2L280.2,587.6L267.1,594.8M312.4,590.4L337.1,598.4M325.5,588.9L337.1,598.4L322.1,599.2M364.3,590.4L389.6,611.6M382.3,598.4L389.6,611.6L375.4,606.7M416.3,590.4L427.6,615.9M426.9,600.9L427.6,615.9L417.0,605.3M468.2,590.4L455.9,614.4M467.1,604.4L455.9,614.4L457.5,599.5M520.1,590.4L483.3,608.3M498.2,607.0L483.3,608.3L493.5,597.4M572.1,590.4L528.0,611.8M543.0,610.5L528.0,611.8L538.2,600.9M624.0,590.4L583.7,629.3M597.5,623.4L583.7,629.3L590.1,615.7M675.9,590.4L649.8,637.6M661.2,627.9L649.8,637.6L651.8,622.7M727.9,590.4L720.1,645.8M727.3,632.7L720.1,645.8L716.7,631.2M779.8,590.4L786.6,628.8M789.4,614.0L786.6,628.8L778.9,615.9M831.7,590.4L831.7,625.4M837.1,611.3L831.7,625.4L826.4,611.3M883.7,590.4L859.2,612.4M873.2,607.1L859.2,612.4L866.0,599.1M104.6,652.2L122.4,633.1M108.9,639.7L122.4,633.1L116.7,647.1M156.6,652.2L176.0,636.4M161.7,641.1L176.0,636.4L168.5,649.4M208.5,652.2L228.5,645.7M213.5,644.9L228.5,645.7L216.8,655.1M260.4,652.2L286.3,654.4M272.9,647.8L286.3,654.4L271.9,658.6M312.4,652.2L347.1,656.4M333.9,649.4L347.1,656.4L332.6,660.1M364.3,652.2L400.5,663.9M388.8,654.5L400.5,663.9L385.5,664.7M416.3,652.2L431.9,675.4M428.5,660.8L431.9,675.4L419.6,666.8M468.2,652.2L447.1,680.1M459.8,672.2L447.1,680.1L451.3,665.7M520.1,652.2L479.5,673.8M494.4,671.9L479.5,673.8L489.3,662.4M572.1,652.2L536.9,673.3M551.7,670.7L536.9,673.3L546.2,661.5M624.0,652.2L601.1,686.1M613.4,677.5L601.1,686.1L604.4,671.5M675.9,652.2L655.2,700.9M665.6,690.2L655.2,700.9L655.7,686.0M727.9,652.2L718.5,705.3M726.2,692.5L718.5,705.3L715.6,690.6M779.8,652.2L784.5,706.0M788.6,691.5L784.5,706.0L777.9,692.5M831.7,652.2L825.2,705.8M832.2,692.5L825.2,705.8L821.5,691.2M883.7,652.2L846.4,696.6M859.5,689.3L846.4,696.6L851.3,682.4M104.6,714.0L124.6,697.3M110.4,702.1L124.6,697.3L117.3,710.4M156.6,714.0L182.3,703.0M167.4,703.6L182.3,703.0L171.6,713.4M208.5,714.0L236.8,707.4M221.9,705.4L236.8,707.4L224.3,715.8M260.4,714.0L288.7,707.4M273.8,705.4L288.7,707.4L276.3,715.8M312.4,714.0L341.6,701.0M326.6,701.7L341.6,701.0L331.0,711.6M364.3,714.0L407.9,696.4M392.9,696.6L407.9,696.4L396.9,706.6M416.3,714.0L447.7,707.9M432.9,705.3L447.7,707.9L434.9,715.8M468.2,714.0L449.7,718.2M464.5,720.3L449.7,718.2L462.1,709.9M520.1,714.0L474.6,720.4M489.2,723.7L474.6,720.4L487.7,713.1M572.1,714.0L545.4,722.6M560.4,723.4L545.4,722.6L557.1,713.2M624.0,714.0L611.5,726.9M625.1,720.6L611.5,726.9L617.4,713.1M675.9,714.0L665.0,735.4M676.2,725.3L665.0,735.4L666.6,720.4M727.9,714.0L720.0,739.8M729.2,728.0L720.0,739.8L718.9,724.8M779.8,714.0L784.5,743.6M787.6,728.9L784.5,743.6L777.0,730.6M831.7,714.0L824.8,744.2M833.2,731.7L824.8,744.2L822.7,729.3M883.7,714.0L846.7,746.1M860.8,741.0L846.7,746.1L853.7,732.9M104.6,775.8L128.9,769.7M114.0,767.9L128.9,769.7L116.6,778.3M156.6,775.8L184.1,770.9M169.4,768.1L184.1,770.9L171.3,778.6M208.5,775.8L234.8,769.7M220.0,767.6L234.8,769.7L222.4,778.1M260.4,775.8L286.7,761.2M271.8,763.3L286.7,761.2L277.0,772.7M312.4,775.8L332.0,762.0M317.5,765.6L332.0,762.0L323.7,774.4M364.3,775.8L401.6,752.5M386.9,755.3L401.6,752.5L392.6,764.4M416.3,775.8L455.7,750.2M441.0,753.3L455.7,750.2L446.9,762.3M468.2,775.8L456.0,756.3M458.9,771.0L456.0,756.3L468.0,765.3M520.1,775.8L475.4,761.3M487.1,770.7L475.4,761.3L490.4,760.5M572.1,775.8L553.7,765.6M563.3,777.1L553.7,765.6L568.5,767.7M624.0,775.8L614.0,769.1M620.6,778.4L614.0,769.1L625.2,771.6M675.9,775.8L669.1,769.9M673.2,777.4L669.1,769.9L677.2,772.8M727.9,775.8L722.9,767.1M724.4,776.5L722.9,767.1L730.3,773.1M779.8,775.8L786.8,775.8M780.6,773.4L786.8,775.8L780.6,778.2M831.7,775.8L826.6,781.9M833.2,778.2L826.6,781.9L829.1,774.7M883.7,775.8L859.1,791.1M873.8,788.3L859.1,791.1L868.1,779.2M104.6,837.6L130.9,831.5M116.1,829.4L130.9,831.5L118.5,839.9M156.6,837.6L184.8,827.3M169.8,827.1L184.8,827.3L173.4,837.2M208.5,837.6L229.8,822.7M215.3,826.3L229.8,822.7L221.4,835.1M260.4,837.6L280.5,819.5M266.5,824.9L280.5,819.5L273.7,832.9M312.4,837.6L331.7,814.6M318.5,821.9L331.7,814.6L326.8,828.8M364.3,837.6L394.2,812.5M380.0,817.4L394.2,812.5L386.9,825.6M416.3,837.6L453.8,806.1M439.6,811.0L453.8,806.1L446.5,819.2M468.2,837.6L462.9,804.0M459.8,818.7L462.9,804.0L470.4,817.0M520.1,837.6L487.2,818.6M496.7,830.2L487.2,818.6L502.0,820.9M572.1,837.6L557.6,833.7M569.1,842.1L557.6,833.7L571.7,832.2M624.0,837.6L613.7,833.8M621.5,840.7L613.7,833.8L624.1,833.6M675.9,837.6L670.3,835.5M674.6,839.3L670.3,835.5L676.0,835.4M727.9,837.6L726.7,850.5M732.1,839.4L726.7,850.5L723.3,838.7M779.8,837.6L786.4,842.2M782.1,835.9L786.4,842.2L779.0,840.3M831.7,837.6L835.5,845.7M834.9,837.2L835.5,845.7L829.4,839.8M883.7,837.6L872.2,857.5M883.8,848.1L872.2,857.5L874.5,842.7M104.6,899.4L122.7,869.4M110.8,878.6L122.7,869.4L120.1,884.2M156.6,899.4L176.8,861.4M165.4,871.3L176.8,861.4L174.9,876.3M208.5,899.4L230.9,853.6M219.9,863.8L230.9,853.6L229.6,868.5M260.4,899.4L279.0,859.5M268.2,869.9L279.0,859.5L278.0,874.5M312.4,899.4L330.1,861.3M319.3,871.7L330.1,861.3L329.1,876.3M364.3,899.4L389.8,858.7M377.8,867.7L389.8,858.7L386.9,873.4M416.3,899.4L444.4,846.4M433.1,856.3L444.4,846.4L442.6,861.3M468.2,899.4L472.8,846.6M466.2,860.1L472.8,846.6L476.9,861.0M520.1,899.4L505.4,861.1M505.4,876.1L505.4,861.1L515.5,872.3M572.1,899.4L563.5,875.9M563.2,890.9L563.5,875.9L573.4,887.2M624.0,899.4L622.4,890.5M620.8,898.9L622.4,890.5L626.8,897.9M675.9,899.4L677.0,905.3M678.1,899.7L677.0,905.3L674.0,900.4M727.9,899.4L728.8,912.4M732.4,900.6L728.8,912.4L723.6,901.2M779.8,899.4L786.9,917.0M786.7,902.0L786.9,917.0L776.7,906.0M831.7,899.4L839.8,916.6M838.7,901.6L839.8,916.6L829.0,906.2M883.7,899.4L878.8,918.8M887.4,906.5L878.8,918.8L877.0,903.9" stroke="#000" stroke-width="2.3" fill="none" stroke-linecap="round" stroke-linejoin="round"/>
</g>
<path d="M52.7,229.8H918.3V950.9H52.7Z" stroke="#a0a0a0" stroke-width="2.4" fill="none"/><path d="M52.7,229.8H918.3V950.9H52.7Z" stroke="#000" stroke-width="2.4" stroke-dasharray="6.8 2.4" fill="none"/>
<path d="M45.4,950.9H52.7M45.4,847.9H52.7M45.4,744.9H52.7M45.4,641.9H52.7M45.4,538.8H52.7M45.4,435.8H52.7M45.4,332.8H52.7M45.4,229.8H52.7M52.7,950.9V957.3M139.3,950.9V957.3M225.8,950.9V957.3M312.4,950.9V957.3M398.9,950.9V957.3M485.5,950.9V957.3M572.1,950.9V957.3M658.6,950.9V957.3M745.2,950.9V957.3M831.7,950.9V957.3M918.3,950.9V957.3" stroke="#000" stroke-width="2.4" fill="none"/><text x="13.1" y="959.9" font-size="23" text-anchor="start" textLength="26.0" lengthAdjust="spacingAndGlyphs" stroke="#000" stroke-width="0.5">5N</text>
<text x="0.5" y="856.9" font-size="23" text-anchor="start" textLength="38.6" lengthAdjust="spacingAndGlyphs" stroke="#000" stroke-width="0.5">10N</text>
<text x="0.5" y="753.9" font-size="23" text-anchor="start" textLength="38.6" lengthAdjust="spacingAndGlyphs" stroke="#000" stroke-width="0.5">15N</text>
<text x="0.5" y="650.9" font-size="23" text-anchor="start" textLength="38.6" lengthAdjust="spacingAndGlyphs" stroke="#000" stroke-width="0.5">20N</text>
<text x="0.5" y="547.8" font-size="23" text-anchor="start" textLength="38.6" lengthAdjust="spacingAndGlyphs" stroke="#000" stroke-width="0.5">25N</text>
<text x="0.5" y="444.8" font-size="23" text-anchor="start" textLength="38.6" lengthAdjust="spacingAndGlyphs" stroke="#000" stroke-width="0.5">30N</text>
<text x="0.5" y="341.8" font-size="23" text-anchor="start" textLength="38.6" lengthAdjust="spacingAndGlyphs" stroke="#000" stroke-width="0.5">35N</text>
<text x="0.5" y="238.8" font-size="23" text-anchor="start" textLength="38.6" lengthAdjust="spacingAndGlyphs" stroke="#000" stroke-width="0.5">40N</text>
<text x="34.7" y="979.1" font-size="23" text-anchor="start" textLength="37.0" lengthAdjust="spacingAndGlyphs" stroke="#000" stroke-width="0.5">50E</text>
<text x="121.3" y="979.1" font-size="23" text-anchor="start" textLength="37.0" lengthAdjust="spacingAndGlyphs" stroke="#000" stroke-width="0.5">55E</text>
<text x="207.8" y="979.1" font-size="23" text-anchor="start" textLength="37.0" lengthAdjust="spacingAndGlyphs" stroke="#000" stroke-width="0.5">60E</text>
<text x="294.4" y="979.1" font-size="23" text-anchor="start" textLength="37.0" lengthAdjust="spacingAndGlyphs" stroke="#000" stroke-width="0.5">65E</text>
<text x="380.9" y="979.1" font-size="23" text-anchor="start" textLength="37.0" lengthAdjust="spacingAndGlyphs" stroke="#000" stroke-width="0.5">70E</text>
<text x="467.5" y="979.1" font-size="23" text-anchor="start" textLength="37.0" lengthAdjust="spacingAndGlyphs" stroke="#000" stroke-width="0.5">75E</text>
<text x="554.1" y="979.1" font-size="23" text-anchor="start" textLength="37.0" lengthAdjust="spacingAndGlyphs" stroke="#000" stroke-width="0.5">80E</text>
<text x="640.6" y="979.1" font-size="23" text-anchor="start" textLength="37.0" lengthAdjust="spacingAndGlyphs" stroke="#000" stroke-width="0.5">85E</text>
<text x="727.2" y="979.1" font-size="23" text-anchor="start" textLength="37.0" lengthAdjust="spacingAndGlyphs" stroke="#000" stroke-width="0.5">90E</text>
<text x="813.7" y="979.1" font-size="23" text-anchor="start" textLength="37.0" lengthAdjust="spacingAndGlyphs" stroke="#000" stroke-width="0.5">95E</text>
<text x="894.5" y="979.1" font-size="23" text-anchor="start" textLength="48.6" lengthAdjust="spacingAndGlyphs" stroke="#000" stroke-width="0.5">100E</text><path d="M710.2,1002.4H762.8M748.6,994.8L762.8,1002.4L748.6,1010.0" stroke="#000" stroke-width="2.4" fill="none" stroke-linecap="round" stroke-linejoin="round"/><text x="732.8" y="1024.0" font-size="20" text-anchor="start" textLength="6.5" lengthAdjust="spacingAndGlyphs" stroke="#000" stroke-width="0.5">1</text>
<g clip-path="url(#clip_b)">
<path fill="#c8ffc8" fill-rule="evenodd" d="M1601.1,884.8L1604.1,886.9L1609.3,888.3L1614.5,888.3L1619.7,887.4L1624.9,884.9L1624.9,884.8L1630.0,879.8L1630.9,878.8L1635.2,873.8L1636.1,872.7L1640.4,868.0L1641.7,866.7L1645.6,862.7L1647.5,860.6L1650.8,856.9L1652.7,854.5L1656.0,849.5L1656.5,848.5L1658.9,842.4L1660.5,836.4L1661.1,833.4L1661.7,830.3L1662.5,824.2L1663.1,818.2L1663.6,812.1L1664.0,806.1L1664.4,800.0L1664.8,793.9L1665.3,787.9L1665.9,781.8L1666.3,777.7L1666.5,775.8L1667.3,769.7L1668.2,763.7L1669.4,757.6L1671.1,751.5L1671.5,750.3L1673.3,745.5L1675.9,739.4L1676.7,737.6L1678.5,733.4L1681.3,727.3L1681.9,726.1L1684.1,721.2L1687.0,715.2L1687.1,715.0L1689.7,709.1L1692.2,703.8L1692.6,703.1L1695.7,697.0L1697.4,694.2L1699.6,690.9L1702.6,687.0L1704.4,684.9L1707.8,681.4L1710.3,678.8L1713.0,676.5L1717.3,672.8L1718.2,672.1L1723.3,668.0L1724.9,666.7L1728.5,663.9L1732.6,660.6L1733.7,659.6L1738.9,654.9L1739.2,654.6L1744.1,648.9L1744.4,648.5L1748.2,642.5L1749.3,640.7L1751.3,636.4L1754.1,630.3L1754.4,629.6L1756.2,624.3L1758.1,618.2L1759.6,613.6L1760.1,612.2L1762.6,606.1L1764.8,601.9L1766.0,600.0L1770.0,594.3L1770.3,594.0L1775.2,588.7L1776.1,587.9L1780.4,584.4L1784.1,581.9L1785.5,580.8L1790.7,578.3L1795.9,577.6L1801.1,579.1L1806.0,581.9L1806.3,582.0L1811.5,585.3L1815.0,587.9L1816.6,589.1L1821.8,593.5L1822.4,594.0L1827.0,598.3L1828.5,600.0L1832.2,603.7L1834.2,606.1L1837.4,609.5L1839.6,612.2L1842.6,615.7L1844.6,618.2L1847.7,622.3L1849.2,624.3L1852.9,629.5L1853.5,630.3L1857.6,636.4L1858.1,637.1L1861.6,642.5L1863.3,645.0L1865.5,648.5L1868.5,653.0L1869.5,654.6L1873.7,660.6L1873.7,660.6L1878.1,666.7L1878.8,667.6L1882.8,672.8L1884.0,674.0L1888.2,678.8L1889.2,679.8L1893.7,684.9L1894.4,685.7L1898.4,690.9L1899.6,692.6L1902.2,697.0L1904.8,701.1L1905.8,703.1L1909.1,709.1L1909.9,710.8L1911.9,715.2L1914.0,721.2L1915.1,725.2L1915.8,727.3L1917.6,733.4L1919.2,739.4L1920.3,743.9L1920.3,739.4L1920.3,733.4L1920.3,727.3L1920.3,721.2L1920.3,715.2L1920.3,709.1L1920.3,703.1L1920.3,697.0L1920.3,690.9L1920.3,684.9L1920.3,678.8L1920.3,672.8L1920.3,666.7L1920.3,660.6L1920.3,654.6L1920.3,648.5L1920.3,642.5L1920.3,636.4L1920.3,630.3L1920.3,624.3L1920.3,618.2L1920.3,612.2L1920.3,606.1L1920.3,600.0L1920.3,594.0L1920.3,587.9L1920.3,581.9L1920.3,575.8L1920.3,569.7L1920.3,563.7L1920.3,557.6L1920.3,554.4L1915.1,551.7L1914.9,551.6L1909.9,548.3L1905.3,545.5L1904.8,545.2L1899.6,542.4L1894.4,540.0L1893.1,539.4L1889.2,537.9L1884.0,536.1L1878.8,534.8L1873.7,533.8L1870.3,533.4L1868.5,533.2L1863.3,532.6L1858.1,532.1L1852.9,531.7L1847.7,531.3L1842.6,530.9L1837.4,530.6L1832.2,530.4L1827.0,530.1L1821.8,529.9L1816.6,529.7L1811.5,529.5L1806.3,529.2L1801.1,528.6L1796.7,527.3L1795.9,527.2L1790.7,524.6L1786.8,521.3L1785.5,520.2L1780.8,515.2L1780.4,514.6L1776.6,509.1L1775.2,506.5L1773.5,503.1L1771.3,497.0L1770.0,492.7L1769.5,491.0L1768.0,484.9L1766.7,478.8L1765.7,472.8L1764.8,467.5L1764.7,466.7L1763.5,460.7L1762.1,454.6L1760.5,448.5L1759.6,445.7L1758.4,442.5L1755.7,436.4L1754.4,433.8L1752.2,430.4L1749.3,425.6L1748.2,424.3L1744.1,418.6L1743.7,418.2L1738.9,412.6L1738.4,412.2L1733.7,407.5L1732.2,406.1L1728.5,402.8L1725.2,400.1L1723.3,398.5L1718.2,394.3L1717.8,394.0L1713.0,390.0L1710.2,388.0L1707.8,385.8L1702.6,382.2L1702.0,381.9L1697.4,378.4L1692.2,376.1L1691.2,375.8L1687.1,374.3L1681.9,373.7L1676.7,373.5L1671.5,373.5L1666.3,373.6L1661.1,373.8L1656.0,374.1L1650.8,374.3L1645.6,374.6L1640.4,374.8L1635.2,375.1L1630.0,375.2L1624.9,375.0L1619.7,374.3L1614.5,373.4L1609.3,372.4L1604.1,371.3L1598.9,370.1L1597.7,369.8L1593.8,368.6L1588.6,367.2L1583.4,365.9L1578.2,364.9L1573.0,364.1L1570.6,363.7L1567.8,363.3L1562.7,362.6L1557.5,361.9L1552.3,361.4L1547.1,360.8L1541.9,360.3L1536.7,359.8L1531.6,359.2L1526.4,358.7L1521.2,358.2L1516.4,357.7L1516.0,357.6L1510.8,357.1L1505.6,356.5L1500.5,356.2L1495.3,356.3L1490.1,356.9L1485.8,357.7L1484.9,357.8L1479.7,359.2L1474.5,361.7L1471.7,363.7L1469.4,365.8L1466.0,369.8L1464.2,373.1L1462.7,375.8L1461.1,381.9L1460.7,388.0L1461.0,394.0L1461.5,400.1L1462.4,406.1L1463.8,412.2L1464.2,413.4L1465.5,418.2L1467.2,424.3L1468.9,430.4L1469.4,432.3L1470.1,436.4L1471.0,442.5L1471.9,448.5L1472.7,454.6L1473.5,460.7L1474.2,466.7L1474.5,471.4L1474.6,472.8L1474.5,475.2L1474.3,478.8L1472.7,484.9L1470.0,491.0L1469.4,492.2L1466.3,497.0L1464.2,499.9L1461.7,503.1L1459.0,506.0L1456.0,509.1L1453.8,511.3L1449.7,515.2L1448.6,516.3L1443.7,521.3L1443.4,521.6L1438.3,527.2L1438.2,527.3L1433.1,532.9L1432.7,533.4L1427.9,538.5L1427.0,539.4L1422.7,543.9L1421.1,545.5L1417.5,548.9L1414.4,551.6L1412.3,553.1L1407.2,556.6L1405.4,557.6L1402.0,559.4L1396.8,561.9L1392.5,563.7L1391.6,564.0L1386.4,565.6L1381.2,567.0L1376.1,568.4L1372.0,569.7L1370.9,570.1L1365.7,572.4L1360.5,575.1L1359.3,575.8L1355.3,578.6L1351.6,581.9L1350.1,583.4L1346.5,587.9L1345.0,589.9L1342.3,594.0L1339.8,598.2L1338.7,600.0L1335.1,606.1L1334.6,606.9L1331.1,612.2L1329.4,614.7L1326.9,618.2L1324.2,622.3L1322.9,624.3L1320.1,630.3L1319.0,635.1L1318.7,636.4L1318.4,642.5L1319.0,647.1L1319.2,648.5L1322.6,654.6L1324.2,656.1L1329.4,660.0L1330.3,660.6L1334.6,662.7L1339.8,664.9L1344.6,666.7L1345.0,666.8L1350.1,668.2L1355.3,669.5L1360.5,670.6L1365.7,671.6L1370.9,672.4L1372.8,672.8L1376.1,673.2L1381.2,673.9L1386.4,674.9L1391.6,677.0L1394.1,678.8L1396.8,680.6L1401.6,684.9L1402.0,685.2L1407.2,690.0L1408.0,690.9L1412.3,695.1L1414.1,697.0L1417.5,700.0L1420.7,703.1L1422.7,704.4L1427.9,707.7L1430.6,709.1L1433.1,710.1L1438.3,711.6L1443.4,712.5L1448.6,713.2L1453.8,713.5L1459.0,713.5L1464.2,712.9L1469.4,711.9L1474.5,710.7L1479.7,709.4L1481.0,709.1L1484.9,708.0L1490.1,706.5L1495.3,705.0L1500.5,704.2L1505.6,704.3L1510.8,705.0L1516.0,705.7L1521.2,706.0L1526.4,705.5L1531.6,704.3L1535.0,703.1L1536.7,702.4L1541.9,699.5L1545.1,697.0L1547.1,695.6L1552.3,691.4L1552.9,690.9L1557.5,687.5L1560.9,684.9L1562.7,683.7L1567.8,679.8L1569.0,678.8L1573.0,676.0L1577.3,672.8L1578.2,672.1L1583.4,667.9L1584.6,666.7L1588.6,662.7L1590.4,660.6L1593.8,656.3L1595.2,654.6L1598.9,649.4L1599.7,648.5L1604.1,643.7L1606.0,642.5L1609.3,640.3L1614.5,638.3L1619.7,637.4L1624.9,639.7L1626.7,642.5L1629.5,648.5L1630.0,650.3L1630.8,654.6L1631.3,660.6L1631.3,666.7L1631.2,672.8L1630.7,678.8L1630.0,683.7L1629.8,684.9L1628.3,690.9L1626.4,697.0L1624.9,700.0L1622.6,703.1L1619.7,705.5L1614.5,708.7L1613.8,709.1L1609.3,711.2L1604.1,713.5L1600.6,715.2L1598.9,716.0L1593.8,719.2L1591.3,721.2L1588.6,724.0L1585.8,727.3L1583.4,730.9L1581.6,733.4L1578.2,739.3L1578.1,739.4L1574.6,745.5L1573.0,748.4L1571.3,751.5L1567.8,757.2L1567.6,757.6L1563.4,763.7L1562.7,764.8L1559.0,769.7L1557.5,772.4L1555.2,775.8L1552.5,781.8L1552.3,782.4L1550.6,787.9L1549.3,793.9L1548.9,800.0L1549.6,806.1L1551.6,812.1L1552.3,813.7L1554.9,818.2L1557.5,821.5L1559.5,824.2L1562.7,827.8L1564.7,830.3L1567.8,833.6L1570.5,836.4L1573.0,838.9L1576.8,842.4L1578.2,843.8L1582.8,848.5L1583.4,849.2L1587.3,854.5L1588.6,857.5L1590.0,860.6L1591.7,866.7L1593.5,872.7L1593.8,873.4L1596.3,878.8L1598.9,882.7L1601.1,884.8Z"/>
<path fill="#96ffc8" fill-rule="evenodd" d="M1611.6,860.6L1614.5,862.5L1619.7,864.3L1624.9,863.5L1629.4,860.6L1630.0,860.3L1635.2,856.4L1637.4,854.5L1640.4,852.3L1644.3,848.5L1645.6,847.1L1648.9,842.4L1650.8,839.0L1651.9,836.4L1654.1,830.3L1655.7,824.2L1656.0,823.3L1657.0,818.2L1657.9,812.1L1658.6,806.1L1659.2,800.0L1659.5,793.9L1659.8,787.9L1660.1,781.8L1660.4,775.8L1660.7,769.7L1661.1,763.7L1661.1,763.4L1661.7,757.6L1662.8,751.5L1664.6,745.5L1666.3,741.7L1667.3,739.4L1670.2,733.4L1671.5,731.1L1673.3,727.3L1676.5,721.2L1676.7,720.9L1679.5,715.2L1681.9,710.1L1682.4,709.1L1685.0,703.1L1687.1,698.3L1687.7,697.0L1690.7,690.9L1692.2,688.3L1694.5,684.9L1697.4,681.2L1699.6,678.8L1702.6,676.2L1706.8,672.8L1707.8,672.1L1713.0,668.3L1715.1,666.7L1718.2,664.4L1723.3,660.6L1723.3,660.6L1728.5,656.3L1730.5,654.6L1733.7,651.1L1736.0,648.5L1738.9,644.5L1740.3,642.5L1744.1,636.6L1744.2,636.4L1747.2,630.3L1749.3,625.3L1749.6,624.3L1751.0,618.2L1752.3,612.2L1754.2,606.1L1754.4,605.6L1756.6,600.0L1759.6,594.3L1759.8,594.0L1763.7,587.9L1764.8,586.4L1768.6,581.9L1770.0,580.3L1774.6,575.8L1775.2,575.3L1780.4,570.5L1781.3,569.7L1785.5,565.8L1788.4,563.7L1790.7,561.4L1795.9,558.9L1801.1,559.6L1806.3,563.0L1807.0,563.7L1811.5,566.9L1814.5,569.7L1816.6,571.5L1820.8,575.8L1821.8,576.7L1826.9,581.9L1827.0,582.0L1832.2,587.6L1832.4,587.9L1837.0,594.0L1837.4,594.5L1841.0,600.0L1842.6,602.1L1845.2,606.1L1847.7,609.5L1849.7,612.2L1852.9,616.5L1854.2,618.2L1858.1,623.7L1858.5,624.3L1862.6,630.3L1863.3,631.4L1866.5,636.4L1868.5,639.4L1870.5,642.5L1873.7,647.4L1874.4,648.5L1878.5,654.6L1878.8,655.0L1882.7,660.6L1884.0,662.6L1886.6,666.7L1889.2,670.7L1890.4,672.8L1894.4,678.3L1894.7,678.8L1899.2,684.9L1899.6,685.4L1903.0,690.9L1904.8,694.0L1906.2,697.0L1909.1,703.1L1909.9,704.6L1912.0,709.1L1914.4,715.2L1915.1,717.5L1916.5,721.2L1918.4,727.3L1920.0,733.4L1920.3,734.7L1920.3,733.4L1920.3,727.3L1920.3,721.2L1920.3,715.2L1920.3,709.1L1920.3,703.1L1920.3,697.0L1920.3,690.9L1920.3,684.9L1920.3,678.8L1920.3,672.8L1920.3,666.7L1920.3,660.6L1920.3,654.6L1920.3,648.5L1920.3,642.5L1920.3,636.4L1920.3,630.3L1920.3,624.3L1920.3,618.2L1920.3,612.2L1920.3,606.1L1920.3,600.0L1920.3,594.0L1920.3,587.9L1920.3,581.9L1920.3,575.8L1920.3,571.7L1917.1,569.7L1915.1,568.6L1909.9,564.6L1908.8,563.7L1904.8,560.7L1900.3,557.6L1899.6,557.1L1894.4,553.9L1890.2,551.6L1889.2,551.0L1884.0,548.6L1878.8,546.8L1873.7,545.7L1872.3,545.5L1868.5,545.0L1863.3,544.5L1858.1,544.1L1852.9,543.6L1847.7,543.2L1842.6,542.8L1837.4,542.5L1832.2,542.5L1827.0,542.7L1821.8,543.1L1816.6,543.7L1811.5,544.4L1806.3,545.2L1803.3,545.5L1801.1,546.0L1799.9,545.5L1795.9,544.5L1791.5,539.4L1790.7,538.8L1787.3,533.4L1785.5,531.5L1782.7,527.3L1780.4,524.7L1777.8,521.3L1775.2,517.8L1773.6,515.2L1770.3,509.1L1770.0,508.4L1767.9,503.1L1766.1,497.0L1764.8,492.1L1764.5,491.0L1763.1,484.9L1761.8,478.8L1760.5,472.8L1759.6,469.2L1758.9,466.7L1757.0,460.7L1754.6,454.6L1754.4,454.1L1751.4,448.5L1749.3,445.0L1747.1,442.5L1744.1,439.3L1740.4,436.4L1738.9,435.1L1733.7,431.6L1731.5,430.4L1728.5,428.3L1723.3,425.3L1721.5,424.3L1718.2,422.0L1713.0,418.5L1712.6,418.2L1707.8,414.4L1705.2,412.2L1702.6,410.1L1697.5,406.1L1697.4,406.1L1692.2,402.4L1688.4,400.1L1687.1,399.3L1681.9,396.5L1676.7,394.3L1676.1,394.0L1671.5,392.3L1666.3,390.6L1661.1,389.2L1656.0,388.1L1655.1,388.0L1650.8,387.1L1645.6,386.3L1640.4,385.7L1635.2,385.1L1630.0,384.6L1624.9,384.1L1619.7,383.4L1614.5,382.7L1609.3,381.9L1609.3,381.9L1604.1,380.9L1598.9,379.7L1593.8,378.5L1588.6,377.3L1583.4,376.3L1580.5,375.8L1578.2,375.4L1573.0,374.6L1567.8,373.9L1562.7,373.3L1557.5,372.9L1552.3,372.6L1547.1,372.4L1541.9,372.1L1536.7,371.9L1531.6,371.7L1526.4,371.5L1521.2,371.4L1516.0,371.2L1510.8,371.1L1505.6,371.0L1500.5,371.2L1495.3,372.2L1490.1,374.0L1486.6,375.8L1484.9,377.2L1480.8,381.9L1479.7,385.4L1479.1,388.0L1478.8,394.0L1479.0,400.1L1479.6,406.1L1479.7,407.3L1480.3,412.2L1481.1,418.2L1481.7,424.3L1482.4,430.4L1483.0,436.4L1483.7,442.5L1484.4,448.5L1484.9,452.4L1485.2,454.6L1486.0,460.7L1487.0,466.7L1488.0,472.8L1488.7,478.8L1488.7,484.9L1487.9,491.0L1486.8,497.0L1485.1,503.1L1484.9,503.7L1482.5,509.1L1479.7,514.4L1479.2,515.2L1475.1,521.3L1474.5,522.2L1470.6,527.3L1469.4,529.1L1466.0,533.4L1464.2,535.9L1461.4,539.4L1459.0,542.4L1456.4,545.5L1453.8,548.4L1450.9,551.6L1448.6,553.9L1444.8,557.6L1443.4,558.8L1438.3,563.1L1437.6,563.7L1433.1,567.0L1429.3,569.7L1427.9,570.7L1422.7,574.2L1420.3,575.8L1417.5,577.6L1412.3,580.8L1410.5,581.9L1407.2,584.0L1402.0,587.3L1401.0,587.9L1396.8,590.9L1392.3,594.0L1391.6,594.5L1386.4,598.3L1383.9,600.0L1381.2,602.2L1376.7,606.1L1376.1,606.8L1371.3,612.2L1370.9,612.7L1367.0,618.2L1365.7,620.8L1363.9,624.3L1362.8,630.3L1364.2,636.4L1365.7,639.0L1367.7,642.5L1370.9,645.7L1373.9,648.5L1376.1,649.8L1381.2,652.5L1384.8,654.6L1386.4,655.2L1391.6,658.4L1393.9,660.6L1396.8,663.1L1399.8,666.7L1402.0,669.1L1404.7,672.8L1407.2,675.7L1409.3,678.8L1412.3,682.4L1414.1,684.9L1417.5,689.1L1418.8,690.9L1422.7,695.7L1423.8,697.0L1427.9,700.7L1431.1,703.1L1433.1,704.1L1438.3,705.8L1443.4,706.8L1448.6,707.4L1453.8,707.6L1459.0,707.0L1464.2,705.5L1469.4,703.2L1469.6,703.1L1474.5,699.5L1478.0,697.0L1479.7,695.3L1484.7,690.9L1484.9,690.7L1490.1,685.8L1491.3,684.9L1495.3,681.1L1499.0,678.8L1500.5,677.8L1505.6,676.4L1510.8,676.0L1516.0,675.8L1521.2,675.1L1526.4,673.9L1530.7,672.8L1531.6,672.5L1536.7,671.0L1541.9,669.2L1547.1,667.2L1548.3,666.7L1552.3,665.2L1557.5,663.3L1562.7,661.0L1563.3,660.6L1567.8,658.1L1573.0,654.7L1573.2,654.6L1578.2,650.3L1579.9,648.5L1583.4,644.2L1584.6,642.5L1588.5,636.4L1588.6,636.3L1592.2,630.3L1593.8,627.9L1596.5,624.3L1598.9,621.3L1602.7,618.2L1604.1,617.2L1609.3,615.0L1614.5,613.7L1619.7,613.1L1624.9,613.5L1630.0,615.8L1632.9,618.2L1635.2,620.6L1637.8,624.3L1640.4,630.3L1640.4,630.6L1641.6,636.4L1642.2,642.5L1642.4,648.5L1642.1,654.6L1641.3,660.6L1640.4,666.2L1640.3,666.7L1639.5,672.8L1638.7,678.8L1637.7,684.9L1636.6,690.9L1635.3,697.0L1635.2,697.4L1633.4,703.1L1630.0,708.9L1629.9,709.1L1624.9,713.5L1622.0,715.2L1619.7,716.4L1614.5,718.9L1609.8,721.2L1609.3,721.5L1604.1,724.4L1600.1,727.3L1598.9,728.2L1594.2,733.4L1593.8,733.9L1590.1,739.4L1588.6,742.1L1586.7,745.5L1583.7,751.5L1583.4,752.2L1580.2,757.6L1578.2,761.0L1576.4,763.7L1573.0,769.2L1572.7,769.7L1569.5,775.8L1567.8,779.9L1567.0,781.8L1565.0,787.9L1563.6,793.9L1563.1,800.0L1563.9,806.1L1566.4,812.1L1567.8,814.4L1570.1,818.2L1573.0,822.1L1574.6,824.2L1578.2,828.5L1579.7,830.3L1583.4,834.4L1585.0,836.4L1588.6,840.3L1590.6,842.4L1593.8,845.7L1596.9,848.5L1598.9,850.8L1603.6,854.5L1604.1,855.2L1609.3,859.4L1611.6,860.6Z"/>
<path fill="#00fa96" fill-rule="evenodd" d="M1608.3,836.4L1609.3,836.8L1614.5,838.5L1619.7,839.6L1624.9,839.4L1630.0,837.3L1631.2,836.4L1635.2,833.0L1637.5,830.3L1640.4,826.3L1641.6,824.2L1644.5,818.2L1645.6,815.5L1646.7,812.1L1648.2,806.1L1649.0,800.0L1649.3,793.9L1649.2,787.9L1648.9,781.8L1648.5,775.8L1647.8,769.7L1646.8,763.7L1645.6,757.6L1645.6,757.4L1644.2,751.5L1642.3,745.5L1640.4,741.3L1639.0,739.4L1635.2,736.3L1630.0,734.6L1624.9,734.6L1619.7,736.0L1614.5,738.5L1612.9,739.4L1609.3,741.6L1604.4,745.5L1604.1,745.7L1599.2,751.5L1598.9,751.9L1595.4,757.6L1593.8,760.4L1592.1,763.7L1589.1,769.7L1588.6,771.0L1586.5,775.8L1584.4,781.8L1583.4,785.7L1582.7,787.9L1581.3,793.9L1580.9,800.0L1582.2,806.1L1583.4,808.7L1584.9,812.1L1588.6,818.0L1588.7,818.2L1593.2,824.2L1593.8,825.0L1598.8,830.3L1598.9,830.5L1604.1,834.4L1608.3,836.4ZM1919.0,709.1L1920.3,713.0L1920.3,709.1L1920.3,703.1L1920.3,697.0L1920.3,690.9L1920.3,684.9L1920.3,678.8L1920.3,672.8L1920.3,666.7L1920.3,660.6L1920.3,654.6L1920.3,648.5L1920.3,642.5L1920.3,636.4L1920.3,630.3L1920.3,624.3L1920.3,618.2L1920.3,612.2L1920.3,607.3L1916.7,606.1L1915.1,605.5L1909.9,602.3L1907.5,600.0L1904.8,597.4L1901.9,594.0L1899.6,591.2L1897.2,587.9L1894.4,584.4L1892.5,581.9L1889.2,578.5L1886.4,575.8L1884.0,574.1L1878.8,571.9L1873.7,572.0L1868.5,574.4L1866.6,575.8L1863.3,581.6L1863.2,581.9L1862.7,587.9L1863.3,593.1L1863.4,594.0L1864.8,600.0L1867.2,606.1L1868.5,608.3L1870.8,612.2L1873.7,616.4L1875.2,618.2L1878.8,622.7L1880.7,624.3L1884.0,627.6L1887.1,630.3L1889.2,632.7L1892.0,636.4L1894.4,640.7L1895.1,642.5L1897.4,648.5L1899.5,654.6L1899.6,654.8L1901.5,660.6L1903.5,666.7L1904.8,670.5L1905.4,672.8L1907.7,678.8L1909.9,684.1L1910.2,684.9L1912.6,690.9L1914.5,697.0L1915.1,698.8L1916.7,703.1L1919.0,709.1ZM1660.5,703.1L1661.1,703.7L1663.7,703.1L1666.3,702.2L1668.5,697.0L1670.4,690.9L1671.5,687.4L1672.0,684.9L1673.0,678.8L1673.5,672.8L1673.0,666.7L1671.5,664.3L1668.5,666.7L1666.3,667.6L1663.5,672.8L1661.1,677.2L1660.6,678.8L1659.5,684.9L1658.9,690.9L1658.7,697.0L1660.5,703.1ZM1434.7,684.9L1438.3,687.3L1443.4,688.9L1448.6,689.4L1453.8,688.4L1459.0,685.1L1459.2,684.9L1463.5,678.8L1464.2,677.3L1465.9,672.8L1467.4,666.7L1468.6,660.6L1469.4,655.5L1469.5,654.6L1469.8,648.5L1469.5,642.5L1469.4,641.3L1468.7,636.4L1467.3,630.3L1464.5,624.3L1464.2,623.8L1459.0,618.2L1459.0,618.2L1453.8,615.7L1448.6,614.9L1443.4,615.0L1438.3,615.9L1433.1,618.2L1433.0,618.2L1427.9,622.9L1426.9,624.3L1423.7,630.3L1422.7,633.6L1422.0,636.4L1421.2,642.5L1421.1,648.5L1421.7,654.6L1422.7,658.9L1423.1,660.6L1424.8,666.7L1426.8,672.8L1427.9,675.4L1429.7,678.8L1433.1,683.5L1434.7,684.9ZM1677.2,654.6L1681.9,657.9L1687.1,657.5L1692.2,656.5L1697.4,655.4L1700.9,654.6L1702.6,654.1L1707.8,651.6L1712.0,648.5L1713.0,647.4L1716.6,642.5L1718.2,639.9L1720.1,636.4L1722.5,630.3L1722.6,624.3L1719.2,618.2L1718.2,617.1L1713.0,613.4L1708.5,612.2L1707.8,611.9L1705.3,612.2L1702.6,612.4L1697.4,614.0L1692.2,616.5L1689.9,618.2L1687.1,620.7L1684.2,624.3L1681.9,629.1L1681.4,630.3L1679.8,636.4L1678.6,642.5L1677.6,648.5L1677.2,654.6ZM1521.6,618.2L1526.4,619.3L1531.6,619.7L1536.7,619.5L1541.1,618.2L1541.9,618.0L1547.1,614.4L1549.3,612.2L1552.3,608.3L1553.7,606.1L1557.3,600.0L1557.5,599.8L1561.1,594.0L1562.7,591.6L1565.5,587.9L1567.8,585.2L1571.4,581.9L1573.0,580.6L1578.2,577.3L1581.8,575.8L1583.4,575.3L1588.6,574.4L1593.8,574.2L1598.9,574.1L1604.1,574.0L1609.3,574.0L1614.5,573.9L1619.7,573.9L1624.9,573.9L1630.0,574.0L1635.2,574.1L1640.4,574.1L1645.6,574.2L1650.8,574.3L1656.0,574.4L1661.1,574.5L1666.3,574.6L1671.5,574.7L1676.7,574.8L1681.9,574.9L1687.1,574.9L1692.2,575.0L1697.4,575.1L1702.6,575.1L1707.8,575.1L1713.0,575.1L1718.2,575.0L1723.3,574.8L1728.5,574.3L1733.7,573.4L1738.9,572.1L1744.1,570.4L1745.4,569.7L1749.3,567.9L1754.4,563.9L1754.6,563.7L1759.6,557.9L1759.8,557.6L1763.0,551.6L1764.6,545.5L1764.8,543.9L1765.2,539.4L1765.0,533.4L1764.8,532.4L1763.9,527.3L1762.0,521.3L1760.0,515.2L1759.6,513.7L1758.4,509.1L1757.0,503.1L1755.7,497.0L1754.4,491.2L1754.4,491.0L1753.0,484.9L1751.3,478.8L1749.3,473.3L1749.0,472.8L1745.5,466.7L1744.1,464.7L1740.6,460.7L1738.9,458.8L1734.1,454.6L1733.7,454.2L1728.5,450.4L1725.4,448.5L1723.3,447.3L1718.2,444.6L1713.8,442.5L1713.0,442.1L1707.8,439.6L1702.6,437.1L1701.2,436.4L1697.4,434.4L1692.2,431.8L1689.3,430.4L1687.1,429.0L1681.9,426.0L1678.8,424.3L1676.7,422.9L1671.5,419.5L1669.7,418.2L1666.3,415.9L1661.1,412.4L1660.9,412.2L1656.0,409.1L1650.8,406.4L1650.1,406.1L1645.6,404.1L1640.4,402.1L1635.2,400.3L1634.3,400.1L1630.0,398.9L1624.9,397.6L1619.7,396.6L1614.5,395.7L1609.3,394.9L1604.1,394.1L1603.9,394.0L1598.9,393.2L1593.8,392.4L1588.6,391.5L1583.4,390.8L1578.2,390.2L1573.0,389.8L1567.8,389.4L1562.7,389.1L1557.5,388.9L1552.3,388.8L1547.1,388.8L1541.9,388.9L1536.7,389.3L1531.6,389.9L1526.4,390.8L1521.2,392.0L1516.0,394.0L1516.0,394.0L1510.8,397.2L1507.9,400.1L1505.6,402.9L1503.7,406.1L1501.2,412.2L1500.5,414.7L1499.5,418.2L1498.4,424.3L1498.0,430.4L1498.2,436.4L1498.8,442.5L1499.5,448.5L1500.5,454.2L1500.5,454.6L1501.8,460.7L1503.4,466.7L1505.3,472.8L1505.6,473.9L1507.0,478.8L1508.2,484.9L1508.9,491.0L1509.4,497.0L1509.6,503.1L1509.2,509.1L1508.2,515.2L1507.0,521.3L1505.7,527.3L1505.6,527.8L1504.6,533.4L1503.7,539.4L1502.8,545.5L1502.2,551.6L1501.7,557.6L1501.5,563.7L1501.5,569.7L1501.7,575.8L1502.2,581.9L1503.0,587.9L1504.2,594.0L1505.6,599.0L1505.9,600.0L1508.4,606.1L1510.8,609.9L1512.6,612.2L1516.0,615.3L1521.2,618.1L1521.6,618.2Z"/>
<path fill="#00c864" fill-rule="evenodd" d="M1611.9,806.1L1614.5,807.3L1619.7,808.6L1624.9,807.0L1625.7,806.1L1628.3,800.0L1628.3,793.9L1626.9,787.9L1624.9,782.4L1623.8,781.8L1619.7,780.1L1616.4,781.8L1614.5,783.0L1610.3,787.9L1609.3,789.4L1607.5,793.9L1607.2,800.0L1609.3,803.5L1611.9,806.1ZM1631.7,527.3L1635.2,528.3L1640.4,529.5L1645.6,530.4L1650.8,531.0L1656.0,531.5L1661.1,531.8L1666.3,531.7L1671.5,531.3L1676.7,530.4L1681.9,529.3L1687.1,528.0L1689.4,527.3L1692.2,526.6L1697.4,525.0L1702.6,523.0L1706.5,521.3L1707.8,520.7L1713.0,517.7L1716.4,515.2L1718.2,513.5L1721.8,509.1L1723.3,505.9L1724.4,503.1L1725.1,497.0L1724.8,491.0L1723.8,484.9L1723.3,483.8L1721.2,478.8L1718.2,475.4L1715.7,472.8L1713.0,470.8L1707.8,467.1L1707.3,466.7L1702.6,463.9L1697.4,460.9L1697.0,460.7L1692.2,458.0L1687.1,455.4L1685.5,454.6L1681.9,452.7L1676.7,450.2L1673.1,448.5L1671.5,447.8L1666.3,445.5L1661.1,443.3L1659.4,442.5L1656.0,440.8L1650.8,438.0L1648.1,436.4L1645.6,434.8L1640.4,431.1L1639.5,430.4L1635.2,427.3L1630.9,424.3L1630.0,423.8L1624.9,421.3L1619.7,419.5L1614.6,418.2L1614.5,418.2L1609.3,417.2L1604.1,416.3L1598.9,415.7L1593.8,415.2L1588.6,414.8L1583.4,414.4L1578.2,414.2L1573.0,414.0L1567.8,413.8L1562.7,413.6L1557.5,413.6L1552.3,413.6L1547.1,413.7L1541.9,414.3L1536.7,415.7L1531.6,418.1L1531.3,418.2L1526.4,421.9L1524.0,424.3L1521.2,429.3L1520.7,430.4L1520.2,436.4L1520.7,442.5L1521.2,445.1L1521.9,448.5L1523.8,454.6L1526.4,460.0L1526.7,460.7L1530.6,466.7L1531.6,468.2L1534.8,472.8L1536.7,476.1L1538.5,478.8L1541.7,484.9L1541.9,485.4L1544.7,491.0L1547.1,495.9L1547.7,497.0L1551.2,503.1L1552.3,504.8L1555.6,509.1L1557.5,511.2L1562.7,515.2L1562.7,515.2L1567.8,517.8L1573.0,519.7L1578.2,521.1L1579.2,521.3L1583.4,522.0L1588.6,522.4L1593.8,522.5L1598.9,522.6L1604.1,522.9L1609.3,523.4L1614.5,524.0L1619.7,524.8L1624.9,525.7L1630.0,526.9L1631.7,527.3Z"/>
<path fill="#fffac8" fill-rule="evenodd" d="M1093.4,951.5L1096.2,951.5L1101.3,951.5L1106.5,951.5L1111.7,951.5L1116.9,951.5L1122.1,951.5L1127.3,951.5L1132.4,951.5L1137.6,951.5L1142.8,951.5L1148.0,951.5L1153.2,951.5L1158.4,951.5L1163.5,951.5L1168.7,951.5L1173.9,951.5L1179.1,951.5L1184.3,951.5L1189.5,951.5L1194.6,951.5L1199.8,951.5L1205.0,951.5L1210.2,951.5L1215.4,951.5L1220.6,951.5L1225.7,951.5L1230.9,951.5L1236.1,951.5L1241.3,951.5L1246.5,951.5L1251.7,951.5L1256.8,951.5L1262.0,951.5L1267.2,951.5L1272.4,951.5L1277.6,951.5L1282.8,951.5L1287.9,951.5L1293.1,951.5L1298.3,951.5L1303.5,951.5L1308.7,951.5L1313.9,951.5L1319.0,951.5L1324.2,951.5L1329.4,951.5L1334.6,951.5L1339.8,951.5L1345.0,951.5L1350.1,951.5L1355.3,951.5L1360.5,951.5L1365.7,951.5L1370.9,951.5L1376.1,951.5L1381.2,951.5L1386.4,951.5L1391.6,951.5L1396.8,951.5L1402.0,951.5L1407.2,951.5L1412.3,951.5L1417.5,951.5L1422.7,951.5L1427.9,951.5L1433.1,951.5L1438.3,951.5L1443.4,951.5L1448.6,951.5L1453.8,951.5L1459.0,951.5L1464.2,951.5L1469.4,951.5L1474.5,951.5L1479.7,951.5L1484.9,951.5L1490.1,951.5L1495.3,951.5L1500.5,951.5L1505.6,951.5L1510.8,951.5L1516.0,951.5L1521.2,951.5L1526.4,951.5L1531.6,951.5L1536.7,951.5L1541.9,951.5L1547.1,951.5L1552.3,951.5L1557.5,951.5L1562.7,951.5L1567.8,951.5L1573.0,951.5L1578.2,951.5L1583.4,951.5L1588.6,951.5L1593.8,951.5L1598.9,951.5L1604.1,951.5L1609.3,951.5L1614.5,951.5L1619.7,951.5L1624.9,951.5L1630.0,951.5L1635.2,951.5L1640.4,951.5L1645.6,951.5L1650.8,951.5L1656.0,951.5L1661.1,951.5L1666.3,951.5L1671.5,951.5L1676.7,951.5L1681.9,951.5L1687.1,951.5L1692.2,951.5L1697.4,951.5L1702.6,951.5L1707.8,951.5L1713.0,951.5L1718.2,951.5L1723.3,951.5L1728.5,951.5L1733.7,951.5L1738.9,951.5L1744.1,951.5L1749.3,951.5L1754.4,951.5L1759.6,951.5L1764.8,951.5L1770.0,951.5L1775.2,951.5L1780.4,951.5L1785.5,951.5L1790.7,951.5L1795.9,951.5L1801.1,951.5L1806.3,951.5L1811.5,951.5L1816.6,951.5L1821.8,951.5L1827.0,951.5L1832.2,951.5L1837.4,951.5L1842.6,951.5L1847.7,951.5L1852.9,951.5L1858.1,951.5L1863.3,951.5L1868.5,951.5L1873.7,951.5L1878.8,951.5L1884.0,951.5L1889.2,951.5L1894.4,951.5L1899.6,951.5L1904.8,951.5L1909.9,951.5L1915.1,951.5L1920.3,951.5L1920.3,945.4L1920.3,939.4L1920.3,933.3L1920.3,927.3L1920.3,921.2L1920.3,915.1L1920.3,909.1L1920.3,903.0L1920.3,897.0L1920.3,890.9L1920.3,884.8L1920.3,878.8L1920.3,872.7L1920.3,866.7L1920.3,860.6L1920.3,854.5L1920.3,848.5L1920.3,842.4L1920.3,836.4L1920.3,830.3L1920.3,824.2L1920.3,818.2L1920.3,812.1L1920.3,806.1L1920.3,800.0L1920.3,793.9L1920.3,787.9L1920.3,781.8L1920.3,775.8L1920.3,769.7L1920.3,763.7L1920.3,759.0L1919.9,757.6L1918.1,751.5L1916.5,745.5L1915.1,740.4L1914.9,739.4L1913.5,733.4L1911.8,727.3L1909.9,721.8L1909.7,721.2L1907.1,715.2L1904.8,711.0L1903.5,709.1L1899.6,703.6L1899.1,703.1L1894.4,697.1L1894.3,697.0L1889.2,691.1L1889.0,690.9L1884.0,686.2L1882.2,684.9L1878.8,682.2L1873.7,678.9L1873.5,678.8L1868.5,674.8L1866.0,672.8L1863.3,669.7L1860.8,666.7L1858.1,663.0L1856.5,660.6L1852.9,655.3L1852.5,654.6L1848.5,648.5L1847.7,647.3L1844.5,642.5L1842.6,639.6L1840.4,636.4L1837.4,632.1L1836.1,630.3L1832.2,625.4L1831.2,624.3L1827.0,619.7L1825.5,618.2L1821.8,614.8L1818.7,612.2L1816.6,610.5L1811.5,606.7L1810.6,606.1L1806.3,603.0L1801.1,600.1L1800.9,600.0L1795.9,598.3L1790.7,598.7L1788.2,600.0L1785.5,601.3L1780.4,605.4L1779.6,606.1L1775.2,610.7L1774.1,612.2L1770.0,618.2L1770.0,618.3L1766.9,624.3L1764.8,628.6L1764.1,630.3L1761.2,636.4L1759.6,639.8L1758.4,642.5L1755.5,648.5L1754.4,650.4L1751.8,654.6L1749.3,658.1L1746.9,660.6L1744.1,663.6L1740.7,666.7L1738.9,668.3L1734.0,672.8L1733.7,673.0L1728.5,677.8L1727.4,678.8L1723.3,682.9L1721.3,684.9L1718.2,688.4L1715.9,690.9L1713.0,694.6L1711.2,697.0L1707.8,702.2L1707.3,703.1L1704.0,709.1L1702.6,712.2L1701.2,715.2L1698.5,721.2L1697.4,723.8L1695.9,727.3L1693.3,733.4L1692.2,736.0L1690.8,739.4L1688.4,745.5L1687.1,748.9L1686.1,751.5L1684.0,757.6L1682.3,763.7L1681.9,765.3L1680.8,769.7L1679.4,775.8L1678.2,781.8L1677.2,787.9L1676.7,791.2L1676.3,793.9L1675.6,800.0L1675.2,806.1L1675.0,812.1L1674.9,818.2L1674.8,824.2L1674.7,830.3L1674.4,836.4L1674.0,842.4L1673.3,848.5L1671.9,854.5L1671.5,855.7L1669.4,860.6L1666.3,866.3L1666.1,866.7L1661.7,872.7L1661.1,873.4L1656.5,878.8L1656.0,879.5L1651.2,884.8L1650.8,885.3L1645.6,890.9L1645.6,891.0L1640.4,896.0L1639.5,897.0L1635.2,899.9L1630.5,903.0L1630.0,903.2L1624.9,905.0L1619.7,906.0L1614.5,906.4L1609.3,906.7L1604.1,906.6L1598.9,906.2L1593.8,905.5L1588.6,904.4L1584.9,903.0L1583.4,902.1L1578.2,897.4L1577.8,897.0L1574.5,890.9L1573.0,887.3L1572.0,884.8L1569.3,878.8L1567.8,875.8L1566.2,872.7L1562.7,867.3L1562.2,866.7L1557.5,861.8L1556.0,860.6L1552.3,858.1L1547.1,855.2L1546.3,854.5L1541.9,850.4L1540.6,848.5L1538.0,842.4L1536.7,838.5L1536.3,836.4L1535.1,830.3L1534.2,824.2L1533.5,818.2L1532.9,812.1L1532.3,806.1L1531.7,800.0L1531.6,798.6L1531.1,793.9L1530.4,787.9L1529.6,781.8L1528.4,775.8L1526.9,769.7L1526.4,768.2L1524.7,763.7L1521.3,757.6L1521.2,757.5L1516.5,751.5L1516.0,751.0L1510.8,745.9L1510.3,745.5L1505.6,741.8L1502.1,739.4L1500.5,738.4L1495.3,735.6L1490.3,733.4L1490.1,733.3L1484.9,731.2L1479.7,729.6L1474.5,728.3L1470.0,727.3L1469.4,727.2L1464.2,726.3L1459.0,725.5L1453.8,724.7L1448.6,723.8L1443.4,722.9L1438.3,721.9L1435.7,721.2L1433.1,720.6L1427.9,719.0L1422.7,716.9L1418.7,715.2L1417.5,714.6L1412.3,712.1L1407.2,709.7L1405.8,709.1L1402.0,707.1L1396.8,704.6L1392.5,703.1L1391.6,702.7L1386.4,701.6L1381.2,701.3L1376.1,701.2L1370.9,701.3L1365.7,701.4L1360.5,701.6L1355.3,701.9L1350.1,702.4L1345.2,703.1L1345.0,703.1L1339.8,703.9L1334.6,704.9L1329.4,706.0L1324.2,707.3L1319.0,708.7L1317.7,709.1L1313.9,710.2L1308.7,711.8L1303.5,713.4L1298.3,715.1L1297.9,715.2L1293.1,716.8L1287.9,718.8L1282.8,721.2L1282.7,721.2L1277.6,724.1L1272.8,727.3L1272.4,727.6L1267.2,731.9L1265.6,733.4L1262.0,737.1L1260.0,739.4L1256.8,743.4L1255.3,745.5L1251.7,750.4L1250.9,751.5L1246.5,757.2L1246.2,757.6L1241.3,763.3L1241.0,763.7L1236.1,769.1L1235.5,769.7L1230.9,774.9L1230.1,775.8L1225.7,780.7L1224.7,781.8L1220.6,786.9L1219.8,787.9L1215.5,793.9L1215.4,794.2L1212.0,800.0L1210.2,803.8L1209.2,806.1L1206.9,812.1L1205.0,817.8L1204.9,818.2L1203.1,824.2L1201.6,830.3L1200.2,836.4L1199.8,838.1L1198.9,842.4L1197.5,848.5L1195.9,854.5L1194.6,858.5L1193.9,860.6L1191.4,866.7L1189.5,871.0L1188.5,872.7L1185.0,878.8L1184.3,880.0L1180.8,884.8L1179.1,887.2L1176.2,890.9L1173.9,893.9L1171.6,897.0L1168.7,900.8L1167.2,903.0L1163.5,907.6L1162.4,909.1L1158.4,913.8L1157.2,915.1L1153.2,919.6L1151.7,921.2L1148.0,925.1L1145.8,927.3L1142.8,930.1L1138.2,933.3L1137.6,933.7L1132.4,935.9L1127.3,937.1L1122.1,938.1L1116.9,939.1L1115.6,939.4L1111.7,940.3L1106.5,941.8L1101.3,943.7L1098.6,945.4L1096.2,947.6L1093.4,951.5ZM1816.8,515.2L1821.8,515.5L1827.0,515.9L1832.2,516.1L1837.4,516.1L1842.6,515.9L1847.7,515.4L1850.1,515.2L1852.9,514.9L1858.1,514.3L1863.3,513.6L1868.5,512.7L1873.7,511.8L1878.8,511.0L1884.0,510.4L1889.2,509.9L1894.4,509.5L1897.7,509.1L1899.6,508.9L1904.8,508.1L1909.9,507.1L1915.1,505.8L1920.3,504.6L1920.3,503.1L1920.3,497.0L1920.3,491.0L1920.3,484.9L1920.3,478.8L1920.3,472.8L1920.3,466.7L1920.3,460.7L1920.3,454.6L1920.3,448.5L1920.3,442.5L1920.3,436.4L1920.3,430.4L1920.3,424.3L1920.3,418.2L1920.3,412.2L1920.3,406.1L1920.3,400.1L1920.3,394.0L1920.3,388.0L1920.3,381.9L1920.3,375.8L1920.3,369.8L1920.3,368.4L1915.1,368.3L1909.9,368.3L1904.8,368.3L1899.6,368.3L1894.4,368.3L1889.2,368.3L1884.0,368.6L1879.0,369.8L1878.8,369.8L1873.7,372.7L1870.2,375.8L1868.5,377.4L1864.2,381.9L1863.3,382.8L1858.1,387.6L1857.7,388.0L1852.9,391.5L1849.0,394.0L1847.7,394.7L1842.6,397.3L1837.4,399.3L1834.7,400.1L1832.2,400.7L1827.0,401.8L1821.8,402.9L1816.6,404.0L1811.5,405.1L1807.0,406.1L1806.3,406.3L1801.1,407.7L1795.9,409.7L1792.3,412.2L1790.7,413.4L1786.6,418.2L1785.5,419.7L1783.1,424.3L1780.7,430.4L1780.4,431.7L1779.2,436.4L1778.2,442.5L1777.5,448.5L1777.0,454.6L1776.6,460.7L1776.4,466.7L1776.4,472.8L1776.9,478.8L1778.2,484.9L1780.1,491.0L1780.4,491.7L1782.5,497.0L1785.5,502.8L1785.7,503.1L1790.7,509.0L1791.0,509.1L1795.9,512.1L1801.1,513.6L1806.3,514.3L1811.5,514.8L1816.6,515.2L1816.8,515.2ZM1577.7,339.5L1578.2,339.6L1583.4,340.4L1588.6,341.2L1593.8,342.0L1598.9,342.8L1604.1,343.4L1609.3,343.7L1614.5,343.8L1619.7,343.7L1624.9,343.1L1630.0,341.6L1635.1,339.5L1635.2,339.4L1640.4,336.4L1644.8,333.4L1645.6,332.6L1650.1,327.4L1650.8,325.8L1652.7,321.3L1654.2,315.2L1655.6,309.2L1656.0,307.8L1657.3,303.1L1659.4,297.1L1661.1,293.1L1662.1,291.0L1664.3,284.9L1661.7,278.9L1661.1,278.6L1656.0,276.7L1650.8,275.4L1645.6,274.5L1640.4,274.0L1635.2,273.8L1630.0,273.7L1624.9,273.7L1619.7,273.6L1614.5,273.6L1609.3,273.6L1604.1,273.6L1598.9,273.6L1593.8,273.6L1588.6,273.5L1583.4,273.2L1579.9,272.8L1578.2,272.6L1573.0,271.8L1567.8,270.8L1562.7,269.6L1557.5,268.2L1553.0,266.8L1552.3,266.5L1547.1,264.8L1541.9,263.0L1536.7,261.2L1535.4,260.7L1531.6,259.2L1526.4,256.9L1521.7,254.6L1521.2,254.3L1516.0,251.2L1512.6,248.6L1510.8,247.1L1506.3,242.5L1505.6,241.7L1501.7,236.5L1500.5,233.9L1498.5,230.4L1495.3,230.4L1490.1,230.4L1484.9,230.4L1479.7,230.4L1474.5,230.4L1469.4,230.4L1464.2,230.4L1459.0,230.4L1453.8,230.4L1448.6,230.4L1443.4,230.4L1438.3,230.4L1437.8,230.4L1434.3,236.5L1433.1,238.1L1430.8,242.5L1427.9,248.4L1427.8,248.6L1425.6,254.6L1423.7,260.7L1422.7,264.2L1422.0,266.8L1420.8,272.8L1420.5,278.9L1421.5,284.9L1422.7,288.3L1423.8,291.0L1427.4,297.1L1427.9,297.8L1433.1,303.0L1433.2,303.1L1438.3,306.0L1443.4,307.8L1448.6,309.1L1449.3,309.2L1453.8,309.9L1459.0,310.1L1464.2,309.8L1469.0,309.2L1469.4,309.1L1474.5,308.4L1479.7,308.0L1484.9,307.9L1490.1,308.0L1495.3,308.5L1498.2,309.2L1500.5,309.7L1505.6,311.7L1510.8,314.4L1512.1,315.2L1516.0,317.4L1521.2,320.9L1521.7,321.3L1526.4,323.6L1531.6,326.5L1533.0,327.4L1536.7,328.6L1541.9,330.4L1547.1,332.3L1550.1,333.4L1552.3,333.9L1557.5,335.2L1562.7,336.4L1567.8,337.5L1573.0,338.5L1577.7,339.5Z"/>
<path fill="#ffc864" fill-rule="evenodd" d="M1157.8,951.5L1158.4,951.5L1163.5,951.5L1168.7,951.5L1173.9,951.5L1179.1,951.5L1184.3,951.5L1189.5,951.5L1194.6,951.5L1199.8,951.5L1205.0,951.5L1210.2,951.5L1215.4,951.5L1220.6,951.5L1225.7,951.5L1230.9,951.5L1236.1,951.5L1241.3,951.5L1246.5,951.5L1251.7,951.5L1256.8,951.5L1262.0,951.5L1267.2,951.5L1272.4,951.5L1277.6,951.5L1282.8,951.5L1287.9,951.5L1293.1,951.5L1298.3,951.5L1303.5,951.5L1308.7,951.5L1313.9,951.5L1319.0,951.5L1324.2,951.5L1329.4,951.5L1334.6,951.5L1339.8,951.5L1345.0,951.5L1350.1,951.5L1355.3,951.5L1360.5,951.5L1365.7,951.5L1370.9,951.5L1376.1,951.5L1381.2,951.5L1386.4,951.5L1391.6,951.5L1396.8,951.5L1402.0,951.5L1407.2,951.5L1412.3,951.5L1417.5,951.5L1422.7,951.5L1427.9,951.5L1433.1,951.5L1438.3,951.5L1443.4,951.5L1448.6,951.5L1453.8,951.5L1459.0,951.5L1464.2,951.5L1469.4,951.5L1474.5,951.5L1479.7,951.5L1484.9,951.5L1490.1,951.5L1495.3,951.5L1500.5,951.5L1505.6,951.5L1510.8,951.5L1516.0,951.5L1521.2,951.5L1526.4,951.5L1531.6,951.5L1536.7,951.5L1541.9,951.5L1547.1,951.5L1552.3,951.5L1557.5,951.5L1562.7,951.5L1567.8,951.5L1573.0,951.5L1578.2,951.5L1583.4,951.5L1588.6,951.5L1593.8,951.5L1598.9,951.5L1604.1,951.5L1609.3,951.5L1614.5,951.5L1619.7,951.5L1624.9,951.5L1630.0,951.5L1635.2,951.5L1640.4,951.5L1645.6,951.5L1650.8,951.5L1656.0,951.5L1661.1,951.5L1666.3,951.5L1671.5,951.5L1676.7,951.5L1681.9,951.5L1687.1,951.5L1692.2,951.5L1697.4,951.5L1702.6,951.5L1707.8,951.5L1713.0,951.5L1718.2,951.5L1723.3,951.5L1728.5,951.5L1733.7,951.5L1738.9,951.5L1744.1,951.5L1749.3,951.5L1754.4,951.5L1759.6,951.5L1764.8,951.5L1770.0,951.5L1775.2,951.5L1780.4,951.5L1785.5,951.5L1790.7,951.5L1795.9,951.5L1801.1,951.5L1806.3,951.5L1811.5,951.5L1816.6,951.5L1821.8,951.5L1827.0,951.5L1831.0,951.5L1832.2,948.5L1835.5,945.4L1837.4,944.2L1840.0,945.4L1842.6,947.0L1845.6,951.5L1847.7,951.5L1852.9,951.5L1858.1,951.5L1863.3,951.5L1868.5,951.5L1873.7,951.5L1878.8,951.5L1884.0,951.5L1889.2,951.5L1894.4,951.5L1899.6,951.5L1904.8,951.5L1909.9,951.5L1915.1,951.5L1920.3,951.5L1920.3,945.4L1920.3,939.4L1920.3,933.3L1920.3,927.3L1920.3,921.2L1920.3,915.1L1920.3,909.1L1920.3,903.0L1920.3,897.0L1920.3,890.9L1920.3,884.8L1920.3,878.8L1920.3,874.0L1919.9,872.7L1918.0,866.7L1916.5,860.6L1916.0,854.5L1917.2,848.5L1919.5,842.4L1920.3,840.5L1920.3,836.4L1920.3,830.3L1920.3,824.2L1920.3,818.2L1920.3,812.1L1920.3,806.1L1920.3,800.0L1920.3,793.9L1920.3,787.9L1920.3,781.8L1920.3,775.8L1920.3,769.7L1920.3,765.3L1919.7,763.7L1917.9,757.6L1916.1,751.5L1915.1,747.8L1914.6,745.5L1913.3,739.4L1911.8,733.4L1909.9,727.4L1909.9,727.3L1907.7,721.2L1904.8,715.2L1904.8,715.2L1900.8,709.1L1899.6,707.4L1895.8,703.1L1894.4,701.3L1890.3,697.0L1889.2,695.7L1884.2,690.9L1884.0,690.8L1878.8,686.9L1875.1,684.9L1873.7,683.9L1868.5,681.1L1864.3,678.8L1863.3,678.0L1858.1,673.7L1857.0,672.8L1852.9,667.8L1852.1,666.7L1848.0,660.6L1847.7,660.3L1844.2,654.6L1842.6,652.1L1840.4,648.5L1837.4,643.8L1836.6,642.5L1832.5,636.4L1832.2,635.9L1828.0,630.3L1827.0,629.2L1822.5,624.3L1821.8,623.6L1816.6,618.8L1816.0,618.2L1811.5,614.6L1808.0,612.2L1806.3,611.0L1801.1,608.0L1795.9,606.3L1790.7,606.8L1785.5,609.5L1782.3,612.2L1780.4,613.9L1776.6,618.2L1775.2,620.0L1772.4,624.3L1770.0,628.2L1768.8,630.3L1765.6,636.4L1764.8,637.9L1762.5,642.5L1759.6,648.5L1759.6,648.5L1756.2,654.6L1754.4,657.4L1752.1,660.6L1749.3,664.3L1746.9,666.7L1744.1,669.7L1740.8,672.8L1738.9,674.7L1734.6,678.8L1733.7,679.8L1728.8,684.9L1728.5,685.2L1723.3,690.9L1723.3,690.9L1718.4,697.0L1718.2,697.3L1714.2,703.1L1713.0,705.2L1710.8,709.1L1708.0,715.2L1707.8,715.7L1705.3,721.2L1702.8,727.3L1702.6,727.7L1700.2,733.4L1697.8,739.4L1697.4,740.3L1695.4,745.5L1693.1,751.5L1692.2,754.0L1691.0,757.6L1689.2,763.7L1687.5,769.7L1687.1,771.3L1685.9,775.8L1684.6,781.8L1683.4,787.9L1682.3,793.9L1681.9,797.0L1681.5,800.0L1681.0,806.1L1680.8,812.1L1680.8,818.2L1680.7,824.2L1680.6,830.3L1680.4,836.4L1680.1,842.4L1679.6,848.5L1678.5,854.5L1676.8,860.6L1676.7,860.9L1674.4,866.7L1671.5,872.5L1671.4,872.7L1667.4,878.8L1666.3,880.3L1662.6,884.8L1661.1,886.4L1657.0,890.9L1656.0,891.9L1650.8,896.8L1650.6,897.0L1645.6,900.5L1642.0,903.0L1640.4,903.8L1635.2,906.3L1630.0,908.6L1628.4,909.1L1624.9,910.0L1619.7,910.8L1614.5,911.2L1609.3,911.3L1604.1,911.3L1598.9,911.0L1593.8,910.5L1588.6,909.6L1586.7,909.1L1583.4,907.9L1578.2,904.7L1576.0,903.0L1573.0,899.8L1570.5,897.0L1567.8,892.5L1566.9,890.9L1563.8,884.8L1562.7,882.8L1560.3,878.8L1557.5,874.6L1556.0,872.7L1552.3,868.8L1549.9,866.7L1547.1,864.5L1542.3,860.6L1541.9,860.3L1537.0,854.5L1536.7,854.2L1533.9,848.5L1531.9,842.4L1531.6,841.1L1530.6,836.4L1529.6,830.3L1528.8,824.2L1528.1,818.2L1527.5,812.1L1526.8,806.1L1526.4,802.5L1526.1,800.0L1525.2,793.9L1524.0,787.9L1522.5,781.8L1521.2,777.8L1520.5,775.8L1518.0,769.7L1516.0,766.1L1514.4,763.7L1510.8,759.1L1509.4,757.6L1505.6,754.1L1502.2,751.5L1500.5,750.2L1495.3,746.7L1493.2,745.5L1490.1,743.6L1484.9,740.8L1482.0,739.4L1479.7,738.4L1474.5,736.2L1469.4,734.4L1466.0,733.4L1464.2,732.8L1459.0,731.5L1453.8,730.3L1448.6,729.2L1443.4,728.1L1439.5,727.3L1438.3,727.0L1433.1,725.9L1427.9,724.4L1422.7,722.7L1418.6,721.2L1417.5,720.8L1412.3,718.9L1407.2,717.0L1402.0,715.2L1402.0,715.2L1396.8,713.3L1391.6,711.9L1386.4,711.2L1381.2,711.0L1376.1,711.0L1370.9,711.2L1365.7,711.4L1360.5,711.8L1355.3,712.3L1350.1,713.0L1345.0,714.1L1341.2,715.2L1339.8,715.6L1334.6,717.3L1329.4,719.3L1324.8,721.2L1324.2,721.5L1319.0,724.0L1313.9,726.9L1313.1,727.3L1308.7,730.0L1303.5,733.1L1303.0,733.4L1298.3,736.2L1293.4,739.4L1293.1,739.6L1287.9,743.6L1285.7,745.5L1282.8,748.2L1279.5,751.5L1277.6,753.6L1274.1,757.6L1272.4,759.7L1269.3,763.7L1267.2,766.5L1264.7,769.7L1262.0,773.1L1259.8,775.8L1256.8,779.2L1254.6,781.8L1251.7,785.1L1249.2,787.9L1246.5,790.9L1243.8,793.9L1241.3,796.8L1238.6,800.0L1236.1,803.0L1233.7,806.1L1230.9,809.8L1229.4,812.1L1225.7,818.0L1225.6,818.2L1222.5,824.2L1220.6,828.7L1219.9,830.3L1217.6,836.4L1215.7,842.4L1215.4,843.6L1214.0,848.5L1212.7,854.5L1211.5,860.6L1210.3,866.7L1210.2,867.2L1208.9,872.7L1207.2,878.8L1205.2,884.8L1205.0,885.3L1202.7,890.9L1199.8,896.3L1199.4,897.0L1195.1,903.0L1194.6,903.6L1190.2,909.1L1189.5,910.0L1185.3,915.1L1184.3,916.5L1180.7,921.2L1179.1,923.3L1176.0,927.3L1173.9,929.9L1171.1,933.3L1168.7,936.3L1166.1,939.4L1163.5,942.7L1161.4,945.4L1158.4,950.6L1157.8,951.5ZM1821.7,509.1L1821.8,509.2L1827.0,509.5L1832.2,509.7L1837.4,509.6L1841.8,509.1L1842.6,509.0L1847.7,508.1L1852.9,506.8L1858.1,505.4L1863.3,503.8L1865.2,503.1L1868.5,501.6L1873.7,499.0L1877.6,497.0L1878.8,496.2L1884.0,493.4L1888.7,491.0L1889.2,490.7L1894.4,487.1L1897.1,484.9L1899.6,481.7L1901.5,478.8L1902.9,472.8L1902.5,466.7L1901.6,460.7L1900.3,454.6L1899.6,451.3L1898.9,448.5L1897.1,442.5L1894.9,436.4L1894.4,435.2L1892.1,430.4L1889.2,425.9L1888.0,424.3L1884.0,420.2L1880.9,418.2L1878.8,417.2L1873.7,416.5L1868.5,416.8L1863.3,417.4L1858.1,417.9L1853.0,418.2L1852.9,418.3L1847.7,418.6L1842.6,419.0L1837.4,419.5L1832.2,420.3L1827.0,421.5L1821.8,422.9L1817.3,424.3L1816.6,424.5L1811.5,426.2L1806.3,428.2L1801.3,430.4L1801.1,430.5L1795.9,433.9L1793.6,436.4L1790.7,440.2L1789.5,442.5L1787.0,448.5L1785.5,453.0L1785.1,454.6L1783.8,460.7L1782.8,466.7L1782.2,472.8L1782.4,478.8L1783.7,484.9L1785.5,490.3L1785.8,491.0L1788.9,497.0L1790.7,499.8L1794.0,503.1L1795.9,504.5L1801.1,506.5L1806.3,507.4L1811.5,508.1L1816.6,508.7L1821.7,509.1Z"/>
<path fill="#ff9600" fill-rule="evenodd" d="M1200.1,951.5L1205.0,951.5L1210.2,951.5L1215.4,951.5L1220.6,951.5L1225.7,951.5L1230.9,951.5L1236.1,951.5L1241.3,951.5L1246.5,951.5L1251.7,951.5L1256.8,951.5L1262.0,951.5L1267.2,951.5L1272.4,951.5L1277.6,951.5L1282.8,951.5L1287.9,951.5L1293.1,951.5L1298.3,951.5L1303.5,951.5L1308.7,951.5L1313.9,951.5L1319.0,951.5L1324.2,951.5L1329.4,951.5L1334.6,951.5L1339.8,951.5L1345.0,951.5L1350.1,951.5L1355.3,951.5L1360.5,951.5L1365.7,951.5L1370.9,951.5L1376.1,951.5L1381.2,951.5L1386.4,951.5L1391.6,951.5L1396.8,951.5L1402.0,951.5L1407.2,951.5L1412.3,951.5L1417.5,951.5L1422.7,951.5L1427.9,951.5L1433.1,951.5L1438.3,951.5L1443.4,951.5L1448.6,951.5L1453.8,951.5L1459.0,951.5L1464.2,951.5L1469.4,951.5L1474.5,951.5L1479.7,951.5L1484.9,951.5L1490.1,951.5L1495.3,951.5L1500.5,951.5L1505.6,951.5L1510.8,951.5L1516.0,951.5L1521.2,951.5L1526.4,951.5L1531.6,951.5L1536.7,951.5L1541.9,951.5L1547.1,951.5L1552.3,951.5L1557.5,951.5L1562.7,951.5L1567.8,951.5L1573.0,951.5L1578.2,951.5L1583.4,951.5L1588.6,951.5L1593.8,951.5L1598.9,951.5L1604.1,951.5L1609.3,951.5L1614.5,951.5L1619.7,951.5L1624.9,951.5L1630.0,951.5L1635.2,951.5L1640.4,951.5L1645.6,951.5L1650.8,951.5L1656.0,951.5L1661.1,951.5L1666.3,951.5L1671.5,951.5L1676.7,951.5L1681.9,951.5L1687.1,951.5L1692.2,951.5L1697.4,951.5L1702.6,951.5L1707.8,951.5L1713.0,951.5L1718.2,951.5L1723.3,951.5L1728.5,951.5L1733.7,951.5L1738.9,951.5L1744.1,951.5L1749.3,951.5L1754.4,951.5L1759.6,951.5L1764.8,951.5L1770.0,951.5L1775.2,951.5L1780.4,951.5L1785.5,951.5L1790.7,951.5L1795.9,951.5L1801.1,951.5L1806.3,951.5L1811.5,951.5L1816.6,951.5L1821.1,951.5L1821.8,948.4L1822.6,945.4L1825.0,939.4L1827.0,935.1L1828.2,933.3L1832.2,928.0L1833.9,927.3L1837.4,925.9L1839.9,927.3L1842.6,928.6L1847.1,933.3L1847.7,933.9L1852.4,939.4L1852.9,940.0L1857.2,945.4L1858.1,946.9L1860.9,951.5L1863.3,951.5L1868.5,951.5L1873.7,951.5L1878.8,951.5L1884.0,951.5L1889.2,951.5L1894.4,951.5L1899.6,951.5L1904.8,951.5L1907.2,951.5L1908.9,945.4L1909.9,941.9L1910.6,939.4L1912.1,933.3L1913.2,927.3L1914.1,921.2L1914.8,915.1L1915.1,910.1L1915.2,909.1L1915.1,903.0L1915.1,902.9L1914.4,897.0L1913.3,890.9L1912.1,884.8L1910.9,878.8L1909.9,873.8L1909.8,872.7L1908.7,866.7L1908.0,860.6L1908.0,854.5L1909.3,848.5L1909.9,846.7L1911.5,842.4L1913.9,836.4L1915.1,833.3L1916.6,830.3L1919.4,824.2L1920.3,822.1L1920.3,818.2L1920.3,812.1L1920.3,806.1L1920.3,800.0L1920.3,793.9L1920.3,787.9L1920.3,781.8L1920.3,779.0L1919.4,775.8L1917.5,769.7L1915.6,763.7L1915.1,761.9L1914.2,757.6L1912.9,751.5L1911.6,745.5L1910.1,739.4L1909.9,738.9L1908.4,733.4L1906.4,727.3L1904.8,723.4L1903.7,721.2L1900.2,715.2L1899.6,714.3L1895.3,709.1L1894.4,708.1L1889.2,703.1L1889.1,703.1L1884.0,698.5L1881.7,697.0L1878.8,694.9L1873.7,692.3L1869.7,690.9L1868.5,690.4L1863.3,688.4L1858.1,686.3L1854.9,684.9L1852.9,683.8L1847.7,680.6L1845.3,678.8L1842.6,676.0L1840.1,672.8L1837.4,668.3L1836.6,666.7L1833.6,660.6L1832.2,657.9L1830.5,654.6L1827.0,648.6L1827.0,648.5L1822.9,642.5L1821.8,641.0L1818.1,636.4L1816.6,634.8L1812.3,630.3L1811.5,629.6L1806.3,625.1L1805.0,624.3L1801.1,621.6L1795.9,619.8L1790.7,620.5L1785.5,623.9L1785.2,624.3L1780.4,629.2L1779.5,630.3L1775.2,635.9L1774.8,636.4L1770.9,642.5L1770.0,643.8L1767.4,648.5L1764.8,652.8L1763.8,654.6L1760.1,660.6L1759.6,661.4L1756.0,666.7L1754.4,669.1L1751.7,672.8L1749.3,676.1L1746.9,678.8L1744.1,682.4L1741.8,684.9L1738.9,688.4L1736.7,690.9L1733.7,694.6L1731.8,697.0L1728.5,701.4L1727.3,703.1L1723.6,709.1L1723.3,709.6L1720.4,715.2L1718.2,720.1L1717.6,721.2L1715.1,727.3L1713.0,732.9L1712.8,733.4L1710.5,739.4L1708.4,745.5L1707.8,747.3L1706.3,751.5L1704.2,757.6L1702.6,762.9L1702.4,763.7L1700.5,769.7L1698.8,775.8L1697.4,781.1L1697.2,781.8L1695.8,787.9L1694.6,793.9L1693.6,800.0L1693.1,806.1L1693.0,812.1L1693.1,818.2L1693.2,824.2L1693.3,830.3L1693.3,836.4L1693.2,842.4L1692.9,848.5L1692.3,854.5L1692.2,854.8L1691.2,860.6L1689.8,866.7L1688.0,872.7L1687.1,875.5L1685.9,878.8L1683.2,884.8L1681.9,887.4L1679.7,890.9L1676.7,894.6L1674.4,897.0L1671.5,899.1L1666.3,902.7L1665.8,903.0L1661.1,905.5L1656.0,908.1L1653.9,909.1L1650.8,910.4L1645.6,912.4L1640.4,914.3L1638.0,915.1L1635.2,916.0L1630.0,917.5L1624.9,918.5L1619.7,919.1L1614.5,919.4L1609.3,919.6L1604.1,919.6L1598.9,919.3L1593.8,918.9L1588.6,918.2L1583.4,916.7L1580.4,915.1L1578.2,914.0L1573.0,910.5L1571.1,909.1L1567.8,906.4L1563.8,903.0L1562.7,901.7L1558.6,897.0L1557.5,895.2L1554.6,890.9L1552.3,887.3L1550.5,884.8L1547.1,880.6L1545.5,878.8L1541.9,874.9L1540.1,872.7L1536.7,869.0L1534.9,866.7L1531.6,862.3L1530.4,860.6L1526.6,854.5L1526.4,854.1L1524.2,848.5L1522.6,842.4L1521.4,836.4L1521.2,835.1L1520.5,830.3L1519.8,824.2L1519.1,818.2L1518.5,812.1L1517.7,806.1L1516.7,800.0L1516.0,797.3L1515.2,793.9L1513.4,787.9L1511.1,781.8L1510.8,781.2L1508.0,775.8L1505.6,772.2L1503.6,769.7L1500.5,766.5L1496.8,763.7L1495.3,762.5L1490.1,759.3L1486.9,757.6L1484.9,756.4L1479.7,753.6L1475.5,751.5L1474.5,751.0L1469.4,748.3L1464.2,745.9L1463.2,745.5L1459.0,743.7L1453.8,742.0L1448.6,740.5L1444.5,739.4L1443.4,739.2L1438.3,738.0L1433.1,736.9L1427.9,735.9L1422.7,734.8L1417.5,733.7L1416.0,733.4L1412.3,732.6L1407.2,731.5L1402.0,730.5L1396.8,729.5L1391.6,728.8L1386.4,728.4L1381.2,728.3L1376.1,728.4L1370.9,728.7L1365.7,729.2L1360.5,729.9L1355.3,730.8L1350.1,732.2L1347.4,733.4L1345.0,734.4L1339.8,737.3L1336.5,739.4L1334.6,740.7L1329.4,744.7L1328.4,745.5L1324.2,749.1L1321.5,751.5L1319.0,754.0L1315.7,757.6L1313.9,759.7L1310.5,763.7L1308.7,765.9L1305.4,769.7L1303.5,772.2L1300.5,775.8L1298.3,778.7L1295.9,781.8L1293.1,785.6L1291.5,787.9L1287.9,793.1L1287.3,793.9L1283.1,800.0L1282.8,800.5L1278.6,806.1L1277.6,807.3L1273.2,812.1L1272.4,812.9L1267.2,817.7L1266.7,818.2L1262.0,822.6L1260.5,824.2L1256.8,828.3L1255.3,830.3L1251.7,835.4L1251.0,836.4L1247.4,842.4L1246.5,844.5L1244.7,848.5L1243.0,854.5L1242.3,860.6L1242.1,866.7L1242.0,872.7L1241.7,878.8L1241.3,884.3L1241.3,884.8L1240.6,890.9L1239.2,897.0L1236.3,903.0L1236.1,903.3L1231.9,909.1L1230.9,910.2L1226.8,915.1L1225.7,916.5L1221.7,921.2L1220.6,922.6L1216.4,927.3L1215.4,928.5L1211.3,933.3L1210.2,934.7L1206.7,939.4L1205.0,941.9L1202.8,945.4L1200.1,951.5ZM1819.2,491.0L1821.8,491.5L1827.0,492.3L1832.2,492.6L1837.4,492.0L1840.2,491.0L1842.6,489.9L1847.7,486.5L1849.8,484.9L1852.9,480.4L1854.0,478.8L1853.7,472.8L1852.9,471.4L1850.0,466.7L1847.7,464.3L1843.6,460.7L1842.6,459.9L1837.4,457.5L1832.2,457.0L1827.0,458.0L1821.8,459.6L1818.8,460.7L1816.6,461.4L1811.5,463.6L1806.3,466.0L1805.0,466.7L1801.1,469.6L1798.7,472.8L1797.6,478.8L1801.1,484.7L1801.3,484.9L1806.3,487.2L1811.5,488.9L1816.6,490.3L1819.2,491.0Z"/>
<path fill="#ff0000" fill-rule="evenodd" d="M1243.4,951.5L1246.5,951.5L1251.7,951.5L1256.8,951.5L1262.0,951.5L1267.2,951.5L1272.4,951.5L1277.6,951.5L1282.8,951.5L1287.9,951.5L1293.1,951.5L1298.3,951.5L1303.5,951.5L1308.7,951.5L1313.9,951.5L1319.0,951.5L1324.2,951.5L1329.4,951.5L1334.6,951.5L1339.8,951.5L1345.0,951.5L1350.1,951.5L1355.3,951.5L1360.5,951.5L1365.7,951.5L1370.9,951.5L1376.1,951.5L1381.2,951.5L1386.4,951.5L1391.6,951.5L1396.8,951.5L1402.0,951.5L1407.2,951.5L1412.3,951.5L1417.5,951.5L1422.7,951.5L1427.9,951.5L1433.1,951.5L1438.3,951.5L1443.4,951.5L1448.6,951.5L1453.8,951.5L1459.0,951.5L1464.2,951.5L1469.4,951.5L1474.5,951.5L1479.7,951.5L1484.9,951.5L1490.1,951.5L1495.3,951.5L1500.5,951.5L1505.6,951.5L1510.8,951.5L1516.0,951.5L1521.2,951.5L1526.4,951.5L1531.6,951.5L1536.7,951.5L1541.9,951.5L1547.1,951.5L1552.3,951.5L1557.5,951.5L1562.7,951.5L1567.8,951.5L1573.0,951.5L1578.2,951.5L1583.4,951.5L1588.6,951.5L1593.8,951.5L1598.9,951.5L1604.1,951.5L1609.3,951.5L1614.5,951.5L1619.7,951.5L1624.9,951.5L1630.0,951.5L1635.2,951.5L1640.4,951.5L1645.6,951.5L1650.8,951.5L1656.0,951.5L1661.1,951.5L1666.3,951.5L1671.5,951.5L1676.7,951.5L1681.9,951.5L1687.1,951.5L1692.2,951.5L1697.4,951.5L1702.6,951.5L1707.8,951.5L1713.0,951.5L1718.2,951.5L1723.3,951.5L1728.5,951.5L1733.7,951.5L1738.9,951.5L1744.1,951.5L1749.3,951.5L1754.4,951.5L1759.6,951.5L1764.8,951.5L1770.0,951.5L1775.2,951.5L1780.4,951.5L1785.5,951.5L1790.7,951.5L1795.9,951.5L1801.1,951.5L1805.2,951.5L1805.9,945.4L1806.3,942.9L1806.8,939.4L1808.0,933.3L1809.4,927.3L1811.1,921.2L1811.5,919.9L1813.1,915.1L1815.3,909.1L1816.6,905.3L1817.6,903.0L1819.1,897.0L1819.9,890.9L1820.2,884.8L1820.5,878.8L1820.6,872.7L1820.6,866.7L1820.6,860.6L1820.2,854.5L1819.4,848.5L1818.3,842.4L1817.0,836.4L1816.6,834.9L1815.7,830.3L1814.6,824.2L1813.4,818.2L1812.6,812.1L1812.5,806.1L1814.3,800.0L1816.6,796.8L1819.8,793.9L1821.8,792.8L1827.0,791.1L1832.2,791.7L1834.7,793.9L1837.4,796.9L1838.8,800.0L1840.5,806.1L1841.4,812.1L1841.9,818.2L1842.5,824.2L1842.6,824.3L1843.1,830.3L1843.8,836.4L1844.8,842.4L1846.1,848.5L1847.3,854.5L1847.7,858.5L1848.0,860.6L1848.1,866.7L1848.2,872.7L1848.4,878.8L1848.7,884.8L1849.1,890.9L1850.1,897.0L1852.4,903.0L1852.9,903.7L1856.4,909.1L1858.1,911.1L1861.6,915.1L1863.3,917.1L1867.3,921.2L1868.5,922.5L1873.7,926.7L1875.8,927.3L1878.8,928.0L1880.2,927.3L1884.0,924.9L1886.7,921.2L1889.2,917.3L1890.3,915.1L1892.8,909.1L1894.4,903.0L1894.4,902.7L1894.9,897.0L1894.7,890.9L1894.4,886.4L1894.3,884.8L1893.8,878.8L1893.3,872.7L1892.9,866.7L1892.7,860.6L1893.4,854.5L1894.4,852.0L1895.6,848.5L1898.8,842.4L1899.6,841.1L1902.1,836.4L1904.8,830.9L1905.0,830.3L1907.8,824.2L1909.9,818.9L1910.2,818.2L1912.5,812.1L1914.1,806.1L1914.6,800.0L1914.3,793.9L1913.5,787.9L1912.6,781.8L1911.7,775.8L1910.6,769.7L1909.9,766.5L1909.5,763.7L1908.4,757.6L1907.2,751.5L1905.8,745.5L1904.8,741.7L1904.1,739.4L1902.0,733.4L1899.6,727.7L1899.4,727.3L1895.8,721.2L1894.4,719.2L1890.9,715.2L1889.2,713.4L1884.0,709.2L1883.8,709.1L1878.8,706.2L1873.7,704.6L1868.5,703.8L1863.3,703.2L1861.2,703.1L1858.1,702.7L1852.9,702.0L1847.7,701.3L1842.6,700.3L1837.4,698.2L1835.7,697.0L1832.2,693.6L1830.2,690.9L1827.0,685.9L1826.4,684.9L1823.3,678.8L1821.8,675.9L1820.2,672.8L1817.0,666.7L1816.6,666.1L1813.2,660.6L1811.5,658.1L1808.7,654.6L1806.3,651.7L1803.1,648.5L1801.1,646.6L1795.9,644.0L1790.7,644.7L1785.7,648.5L1785.5,648.6L1780.4,654.2L1780.1,654.6L1775.2,660.4L1775.0,660.6L1770.4,666.7L1770.0,667.3L1766.4,672.8L1764.8,675.4L1762.9,678.8L1759.8,684.9L1759.6,685.2L1756.6,690.9L1754.4,695.3L1753.4,697.0L1750.2,703.1L1749.3,705.1L1747.1,709.1L1744.1,715.0L1744.0,715.2L1740.8,721.2L1738.9,725.1L1737.8,727.3L1735.1,733.4L1733.7,736.5L1732.5,739.4L1730.2,745.5L1728.5,750.5L1728.2,751.5L1726.7,757.6L1725.6,763.7L1724.5,769.7L1723.5,775.8L1723.3,777.3L1722.7,781.8L1722.0,787.9L1721.4,793.9L1721.3,800.0L1722.2,806.1L1723.3,809.2L1724.6,812.1L1728.5,818.2L1728.5,818.3L1733.7,824.0L1733.9,824.2L1738.9,828.9L1740.6,830.3L1744.1,833.3L1747.5,836.4L1749.3,838.1L1752.7,842.4L1754.4,846.1L1755.3,848.5L1754.8,854.5L1754.4,855.2L1750.5,860.6L1749.3,861.7L1744.1,865.5L1742.5,866.7L1738.9,869.2L1734.5,872.7L1733.7,873.4L1728.6,878.8L1728.5,878.8L1724.4,884.8L1723.3,886.6L1721.2,890.9L1718.5,897.0L1718.2,897.7L1715.5,903.0L1713.0,906.9L1711.3,909.1L1707.8,912.5L1704.1,915.1L1702.6,916.1L1697.4,918.7L1692.2,920.8L1691.3,921.2L1687.1,922.6L1681.9,924.1L1676.7,925.4L1671.5,926.6L1668.5,927.3L1666.3,927.7L1661.1,928.9L1656.0,930.0L1650.8,931.1L1645.6,932.0L1640.4,932.9L1638.1,933.3L1635.2,933.8L1630.0,934.5L1624.9,935.1L1619.7,935.4L1614.5,935.5L1609.3,935.6L1604.1,935.6L1598.9,935.5L1593.8,935.2L1588.6,934.6L1584.3,933.3L1583.4,933.1L1578.2,930.0L1574.7,927.3L1573.0,926.0L1567.8,921.9L1567.0,921.2L1562.7,917.6L1559.8,915.1L1557.5,913.1L1552.9,909.1L1552.3,908.5L1547.1,903.9L1546.0,903.0L1541.9,898.9L1539.8,897.0L1536.7,893.4L1534.5,890.9L1531.6,887.2L1529.7,884.8L1526.4,880.5L1525.2,878.8L1521.2,873.0L1521.0,872.7L1517.5,866.7L1516.0,863.9L1514.5,860.6L1512.1,854.5L1510.8,850.2L1510.4,848.5L1509.1,842.4L1508.1,836.4L1507.1,830.3L1506.2,824.2L1505.6,820.7L1505.2,818.2L1504.1,812.1L1502.8,806.1L1500.9,800.0L1500.5,799.1L1497.6,793.9L1495.3,790.5L1492.9,787.9L1490.1,785.1L1486.0,781.8L1484.9,781.0L1479.7,777.8L1475.6,775.8L1474.5,775.3L1469.4,773.4L1464.2,771.7L1459.0,769.9L1458.2,769.7L1453.8,768.3L1448.6,766.8L1443.4,765.4L1438.3,764.2L1435.3,763.7L1433.1,763.3L1427.9,762.9L1422.7,762.8L1417.5,762.7L1412.3,762.7L1407.2,762.7L1402.0,762.7L1396.8,762.7L1391.6,762.7L1386.4,762.7L1381.2,762.7L1376.1,762.8L1370.9,763.4L1369.4,763.7L1365.7,764.4L1360.5,765.9L1355.3,767.8L1351.9,769.7L1350.1,770.8L1345.0,775.5L1344.8,775.8L1340.4,781.8L1339.8,783.0L1337.1,787.9L1334.6,793.7L1334.5,793.9L1332.8,800.0L1333.0,806.1L1334.6,810.9L1335.0,812.1L1338.9,818.2L1339.8,819.2L1345.0,824.2L1345.0,824.3L1350.1,827.8L1355.3,830.3L1355.4,830.3L1360.5,832.5L1365.7,834.5L1370.8,836.4L1370.9,836.4L1376.1,838.4L1381.2,840.6L1385.2,842.4L1386.4,843.1L1391.6,846.4L1394.1,848.5L1396.8,851.5L1399.1,854.5L1402.0,859.9L1402.3,860.6L1404.7,866.7L1406.8,872.7L1407.2,873.7L1408.6,878.8L1410.0,884.8L1411.1,890.9L1411.4,897.0L1409.9,903.0L1407.2,906.9L1405.2,909.1L1402.0,911.5L1396.8,914.4L1394.9,915.1L1391.6,916.2L1386.4,916.9L1381.2,917.1L1376.1,917.1L1370.9,917.1L1365.7,917.1L1360.5,917.1L1355.3,917.1L1350.1,917.1L1345.0,917.1L1339.8,917.1L1334.6,917.1L1329.4,917.1L1324.2,917.1L1319.0,917.1L1313.9,917.1L1308.7,917.1L1303.5,917.1L1298.3,917.1L1293.1,917.2L1287.9,917.5L1282.8,918.1L1277.6,919.1L1272.4,920.4L1270.4,921.2L1267.2,922.5L1262.0,925.9L1260.5,927.3L1256.8,930.8L1254.7,933.3L1251.7,937.1L1249.9,939.4L1246.5,944.7L1246.0,945.4L1243.4,951.5Z"/>
<path fill="#c80000" fill-rule="evenodd" d="M1465.8,951.5L1469.4,951.5L1474.5,951.5L1479.7,951.5L1484.9,951.5L1490.1,951.5L1495.3,951.5L1500.5,951.5L1505.6,951.5L1510.8,951.5L1516.0,951.5L1521.2,951.5L1526.4,951.5L1531.6,951.5L1536.7,951.5L1541.9,951.5L1547.1,951.5L1552.3,951.5L1557.5,951.5L1562.7,951.5L1566.1,951.5L1562.7,945.9L1562.4,945.4L1557.7,939.4L1557.5,939.2L1552.5,933.3L1552.3,933.1L1547.1,927.8L1546.5,927.3L1541.9,923.5L1538.3,921.2L1536.7,920.2L1531.6,917.5L1526.9,915.1L1526.4,914.8L1521.2,912.1L1516.0,909.2L1515.7,909.1L1510.8,905.6L1507.9,903.0L1505.6,900.4L1502.8,897.0L1500.5,893.3L1498.4,890.9L1495.3,886.4L1493.6,884.8L1490.1,881.0L1487.3,878.8L1484.9,876.5L1479.7,873.8L1474.5,876.2L1473.2,878.8L1470.5,884.8L1469.4,887.9L1468.6,890.9L1467.2,897.0L1466.4,903.0L1466.0,909.1L1465.9,915.1L1465.9,921.2L1465.9,927.3L1465.8,933.3L1465.8,939.4L1465.8,945.4L1465.8,951.5ZM1871.4,830.3L1873.7,832.1L1878.8,832.6L1882.2,830.3L1884.0,829.1L1887.9,824.2L1889.2,822.5L1892.0,818.2L1894.4,813.9L1895.3,812.1L1897.8,806.1L1899.3,800.0L1899.6,796.6L1899.8,793.9L1899.8,787.9L1899.6,781.8L1899.6,780.5L1899.3,775.8L1898.8,769.7L1898.2,763.7L1897.5,757.6L1896.4,751.5L1894.6,745.5L1894.4,744.9L1892.2,739.4L1889.2,733.4L1889.2,733.4L1885.0,727.3L1884.0,726.2L1878.8,722.2L1875.6,721.2L1873.7,720.7L1868.5,720.7L1863.4,721.2L1863.3,721.2L1858.1,722.2L1852.9,723.6L1847.7,725.3L1842.9,727.3L1842.6,727.5L1837.4,730.6L1832.5,733.4L1832.2,733.7L1827.0,738.3L1826.0,739.4L1823.6,745.5L1825.0,751.5L1827.0,753.4L1830.7,757.6L1832.2,758.5L1837.4,763.3L1837.6,763.7L1842.4,769.7L1842.6,769.9L1845.9,775.8L1847.7,779.5L1848.7,781.8L1851.1,787.9L1852.9,793.0L1853.2,793.9L1855.2,800.0L1857.1,806.1L1858.1,808.9L1859.3,812.1L1862.1,818.2L1863.3,820.5L1865.8,824.2L1868.5,827.8L1871.4,830.3ZM1789.9,709.1L1790.7,710.2L1795.9,710.8L1797.1,709.1L1798.1,703.1L1796.3,697.0L1795.9,696.3L1790.7,695.5L1789.7,697.0L1788.0,703.1L1789.9,709.1Z"/>
<path fill="#960000" fill-rule="evenodd" d="M1503.3,951.5L1505.6,951.5L1510.8,951.5L1516.0,951.5L1521.2,951.5L1526.4,951.5L1531.6,951.5L1536.7,951.5L1541.9,951.5L1545.5,951.5L1541.9,946.4L1541.0,945.4L1536.7,942.5L1531.6,940.3L1528.4,939.4L1526.4,938.8L1521.2,938.1L1516.0,938.7L1514.3,939.4L1510.8,941.3L1506.4,945.4L1505.6,946.7L1503.3,951.5ZM1872.4,800.0L1873.7,802.2L1878.8,804.8L1883.0,800.0L1884.0,798.0L1885.0,793.9L1885.9,787.9L1886.5,781.8L1886.8,775.8L1886.9,769.7L1886.8,763.7L1886.3,757.6L1885.1,751.5L1884.0,748.7L1882.2,745.5L1878.8,741.2L1874.4,739.4L1873.7,739.2L1872.5,739.4L1868.5,740.5L1863.3,743.8L1861.3,745.5L1858.1,750.4L1857.5,751.5L1857.6,757.6L1858.1,759.2L1859.5,763.7L1861.8,769.7L1863.3,774.2L1863.8,775.8L1865.8,781.8L1867.7,787.9L1868.5,790.5L1869.8,793.9L1872.4,800.0Z"/>

<path d="M1141.3,230.4V951.5M1227.8,230.4V951.5M1314.4,230.4V951.5M1400.9,230.4V951.5M1487.5,230.4V951.5M1574.1,230.4V951.5M1660.6,230.4V951.5M1747.2,230.4V951.5M1833.7,230.4V951.5M1054.7,848.5H1920.3M1054.7,745.5H1920.3M1054.7,642.5H1920.3M1054.7,539.4H1920.3M1054.7,436.4H1920.3M1054.7,333.4H1920.3" stroke="#a0a0a0" stroke-width="2.2" stroke-dasharray="2.0 7.3" fill="none"/>
<path d="M1054.7,286.2L1082.7,301.1L1109.9,294.3L1122.4,296.5L1124.6,288.5L1121.4,277.2L1120.1,261.5L1123.6,250.2L1116.9,247.9L1114.6,230.4M1054.7,435.8L1071.5,460.7L1080.5,481.1L1096.4,490.2L1107.7,499.3L1119.1,505.9L1137.1,510.4L1148.5,504.8L1164.5,499.3L1171.2,498.0L1178.0,505.9L1182.5,524.0L1214.1,530.8L1227.8,533.1L1259.5,537.6L1291.2,533.1L1309.4,535.3L1334.3,532.0L1343.5,535.3L1354.7,546.7L1359.2,562.5L1372.9,570.6L1381.9,582.7L1394.0,583.7L1404.4,582.7L1406.1,591.0L1391.1,595.1L1383.6,597.1L1391.1,607.4L1400.1,619.8L1411.3,625.8L1427.3,621.2L1436.3,609.9L1438.5,598.6L1440.8,596.3L1445.4,598.6L1445.4,607.6L1449.9,625.8L1449.9,648.4L1452.2,682.2L1456.7,702.6L1461.2,725.3L1467.9,743.4L1477.1,761.5L1483.9,777.4L1490.3,797.8L1497.0,811.4L1506.0,829.5L1510.7,852.2L1511.7,863.5L1517.4,874.7L1524.2,883.7L1532.2,888.2L1537.9,883.7L1540.1,874.7L1549.1,868.1L1558.1,863.5L1560.4,852.2L1558.1,843.1L1567.3,843.1L1571.8,840.9L1571.8,829.5L1569.6,806.9L1576.3,784.2L1578.6,761.5L1576.3,738.9L1580.8,729.8L1592.2,727.5L1594.5,720.7L1608.0,716.2L1612.7,707.2L1617.2,702.6L1630.7,691.3L1642.1,682.2L1653.3,673.2L1662.4,659.8L1673.8,648.4L1682.8,643.9L1692.0,632.6L1694.2,616.7L1698.7,612.2L1714.6,605.4L1716.9,600.8L1719.1,609.9L1750.8,603.1L1773.5,585.0L1780.2,594.0L1787.0,625.8L1796.2,639.4L1809.7,648.4L1811.9,655.2L1814.2,666.4L1818.9,668.6L1823.4,682.2L1827.9,698.1L1825.6,711.7L1821.1,725.3L1832.4,729.8L1843.8,727.5L1857.3,716.2L1868.7,707.2L1877.7,713.9L1882.2,725.3L1884.5,738.9L1889.0,761.5L1893.6,779.7L1898.1,797.8L1895.9,809.1L1898.1,818.2L1895.9,829.5L1893.6,852.2L1891.2,868.1L1893.6,888.2L1898.1,886.0L1902.6,892.8L1909.4,901.8L1918.6,913.2L1923.8,918.5M1923.8,780.5L1920.8,784.2L1911.6,818.2L1908.2,843.1L1911.6,863.5L1919.6,872.4L1923.8,877.3M1054.7,503.6L1059.0,514.9L1056.8,524.0L1065.8,535.3L1072.5,527.5L1073.7,519.5L1078.2,517.2L1082.7,524.0L1082.7,537.6L1080.5,546.7L1076.0,554.7L1084.0,555.7L1087.2,560.3L1096.4,561.5L1103.2,557.0L1121.4,559.2L1128.1,557.0L1132.6,550.2L1141.8,542.1L1150.8,532.0L1159.8,521.7L1163.2,516.2L1166.7,518.4L1165.5,544.4L1173.5,555.7L1189.2,567.1L1205.1,571.6L1214.1,582.9L1223.3,594.2L1225.6,594.0L1216.6,609.9L1209.6,616.7L1200.6,633.6L1193.9,634.8L1189.2,648.4L1191.6,662.0L1178.0,667.6L1171.2,675.4L1166.7,684.5L1148.5,691.3L1146.3,698.1L1139.5,704.9L1130.4,703.9L1116.9,707.2L1096.4,720.7L1094.2,734.3L1054.7,747.9M1112.2,797.8L1119.1,793.3L1133.8,796.6L1125.9,802.3L1119.1,802.3L1112.2,797.8M1054.7,818.2L1064.7,809.1L1074.8,812.4L1072.5,838.6L1068.0,847.7L1067.0,861.3L1054.7,883.7M1575.3,853.2L1585.3,863.5L1594.5,879.2L1603.5,897.3L1605.7,913.2L1601.2,924.5L1592.2,930.3L1580.8,931.3L1576.3,924.5L1571.8,910.9L1569.6,892.8L1571.8,874.7L1575.3,863.5L1575.3,853.2M1837.2,953.6L1840.3,937.7L1850.5,937.7L1857.3,944.5L1880.0,946.8L1886.7,951.3L1889.1,953.6" stroke="#000" stroke-width="1.6" fill="none" stroke-linejoin="round"/>
<rect x="1227.8" y="333.4" width="259.7" height="309.0" fill="none" stroke="#000" stroke-width="4.2"/>
<path d="M1096.2,281.9L1111.2,290.5M1104.2,278.4L1111.2,290.5L1097.2,290.5M1149.6,281.9L1165.8,287.8M1156.8,277.1L1165.8,287.8L1152.0,290.2M1202.9,281.9L1218.5,289.2M1210.5,277.7L1218.5,289.2L1204.6,290.4M1256.2,281.9L1267.3,295.1M1264.9,281.3L1267.3,295.1L1254.1,290.3M1309.5,281.9L1318.2,296.8M1318.2,282.8L1318.2,296.8L1306.0,289.8M1362.9,281.9L1367.3,298.6M1370.9,285.0L1367.3,298.6L1357.4,288.7M1416.2,281.9L1416.2,299.2M1423.2,287.0L1416.2,299.2L1409.2,287.0M1469.5,281.9L1467.8,301.4M1475.8,289.9L1467.8,301.4L1461.9,288.7M1522.8,281.9L1516.9,298.1M1527.6,289.1L1516.9,298.1L1514.5,284.3M1576.1,281.9L1563.8,292.3M1577.6,289.8L1563.8,292.3L1568.6,279.1M1629.5,281.9L1617.1,292.3M1630.9,289.8L1617.1,292.3L1621.9,279.1M1682.8,281.9L1668.8,290.0M1682.8,290.0L1668.8,290.0L1675.8,277.8M1736.1,281.9L1722.1,287.0M1735.8,289.5L1722.1,287.0L1731.1,276.3M1789.4,281.9L1774.7,284.5M1787.9,289.3L1774.7,284.5L1785.4,275.5M1842.7,281.9L1828.3,285.8M1841.8,289.4L1828.3,285.8L1838.2,275.9M1896.1,281.9L1881.1,281.9M1893.2,288.9L1881.1,281.9L1893.2,274.9M1096.2,343.7L1112.1,340.9M1098.9,336.1L1112.1,340.9L1101.4,349.9M1149.6,343.7L1165.7,343.7M1153.5,336.7L1165.7,343.7L1153.5,350.7M1202.9,343.7L1219.9,346.7M1209.2,337.7L1219.9,346.7L1206.7,351.5M1256.2,343.7L1272.9,348.2M1263.0,338.3L1272.9,348.2L1259.4,351.8M1309.5,343.7L1325.7,349.6M1316.7,338.9L1325.7,349.6L1312.0,352.0M1362.9,343.7L1377.4,350.5M1369.4,339.1L1377.4,350.5L1363.5,351.7M1416.2,343.7L1431.3,349.2M1422.3,338.5L1431.3,349.2L1417.5,351.7M1469.5,343.7L1469.5,359.8M1476.5,347.7L1469.5,359.8L1462.5,347.7M1522.8,343.7L1515.7,363.2M1526.5,354.2L1515.7,363.2L1513.3,349.4M1576.1,343.7L1564.3,360.7M1577.0,354.8L1564.3,360.7L1565.5,346.7M1629.5,343.7L1619.1,356.0M1632.3,351.3L1619.1,356.0L1621.5,342.3M1682.8,343.7L1669.8,351.2M1683.8,351.2L1669.8,351.2L1676.8,339.1M1736.1,343.7L1723.1,348.4M1736.0,350.7L1723.1,348.4L1731.6,338.4M1789.4,343.7L1775.8,346.1M1788.2,350.6L1775.8,346.1L1785.9,337.7M1842.7,343.7L1829.2,341.3M1839.2,349.7L1829.2,341.3L1841.5,336.8M1896.1,343.7L1882.7,340.1M1892.0,349.4L1882.7,340.1L1895.4,336.8M1096.2,405.5L1093.7,420.2M1102.7,409.5L1093.7,420.2L1088.9,407.1M1149.6,405.5L1165.7,405.5M1153.5,398.5L1165.7,405.5L1153.5,412.5M1202.9,405.5L1218.9,404.1M1206.2,398.2L1218.9,404.1L1207.5,412.2M1256.2,405.5L1273.4,404.0M1260.7,398.1L1273.4,404.0L1261.9,412.1M1309.5,405.5L1326.5,402.5M1313.4,397.7L1326.5,402.5L1315.8,411.5M1362.9,405.5L1362.9,390.6M1355.9,402.7L1362.9,390.6L1369.9,402.7M1416.2,405.5L1416.2,390.6M1409.2,402.7L1416.2,390.6L1423.2,402.7M1469.5,405.5L1484.6,400.0M1470.8,397.6L1484.6,400.0L1475.6,410.7M1522.8,405.5L1521.5,390.6M1515.6,403.3L1521.5,390.6L1529.5,402.1M1576.1,405.5L1560.0,405.5M1572.2,412.5L1560.0,405.5L1572.2,398.5M1629.5,405.5L1613.4,405.5M1625.5,412.5L1613.4,405.5L1625.5,398.5M1682.8,405.5L1666.7,405.5M1678.8,412.5L1666.7,405.5L1678.8,398.5M1736.1,405.5L1720.0,405.5M1732.1,412.5L1720.0,405.5L1732.1,398.5M1789.4,405.5L1773.3,405.5M1785.4,412.5L1773.3,405.5L1785.4,398.5M1842.7,405.5L1827.8,404.2M1839.3,412.3L1827.8,404.2L1840.5,398.3M1896.1,405.5L1881.2,404.2M1892.6,412.3L1881.2,404.2L1893.9,398.3M1096.2,467.3L1098.6,480.9M1103.1,468.6L1098.6,480.9L1090.2,470.9M1149.6,467.3L1165.4,470.1M1154.7,461.1L1165.4,470.1L1152.3,474.9M1202.9,467.3L1219.6,462.9M1206.0,459.2L1219.6,462.9L1209.7,472.8M1256.2,467.3L1272.4,461.4M1258.6,459.0L1272.4,461.4L1263.4,472.2M1309.5,467.3L1324.5,458.7M1310.5,458.7L1324.5,458.7L1317.5,470.8M1362.9,467.3L1360.3,452.6M1355.5,465.8L1360.3,452.6L1369.3,463.3M1416.2,467.3L1432.0,464.5M1418.9,459.7L1432.0,464.5L1421.3,473.5M1469.5,467.3L1485.0,463.2M1471.5,459.5L1485.0,463.2L1475.1,473.1M1522.8,467.3L1521.5,452.4M1515.6,465.1L1521.5,452.4L1529.5,463.9M1576.1,467.3L1562.2,459.3M1569.2,471.4L1562.2,459.3L1576.2,459.3M1629.5,467.3L1613.9,463.2M1623.8,473.1L1613.9,463.2L1627.4,459.5M1682.8,467.3L1666.7,467.3M1678.8,474.3L1666.7,467.3L1678.8,460.3M1736.1,467.3L1720.0,467.3M1732.1,474.3L1720.0,467.3L1732.1,460.3M1789.4,467.3L1774.5,467.3M1786.6,474.3L1774.5,467.3L1786.6,460.3M1842.7,467.3L1841.4,452.4M1835.5,465.1L1841.4,452.4L1849.5,463.9M1896.1,467.3L1898.5,480.9M1902.9,468.6L1898.5,480.9L1890.0,470.9M1096.2,529.1L1098.8,543.9M1103.6,530.7L1098.8,543.9L1089.8,533.1M1149.6,529.1L1144.5,543.2M1155.2,534.2L1144.5,543.2L1142.0,529.4M1202.9,529.1L1201.6,544.0M1209.6,532.6L1201.6,544.0L1195.7,531.3M1256.2,529.1L1270.7,525.3M1257.1,521.6L1270.7,525.3L1260.8,535.2M1309.5,529.1L1324.7,523.6M1310.9,521.2L1324.7,523.6L1315.7,534.4M1362.9,529.1L1378.4,525.0M1364.9,521.4L1378.4,525.0L1368.5,534.9M1416.2,529.1L1432.2,527.7M1419.5,521.8L1432.2,527.7L1420.7,535.8M1469.5,529.1L1484.6,534.6M1475.6,523.9L1484.6,534.6L1470.8,537.1M1522.8,529.1L1508.8,524.0M1517.8,534.8L1508.8,524.0L1522.6,521.6M1576.1,529.1L1561.2,527.8M1572.7,535.9L1561.2,527.8L1573.9,521.9M1629.5,529.1L1613.4,529.1M1625.5,536.1L1613.4,529.1L1625.5,522.1M1682.8,529.1L1669.8,536.6M1683.8,536.6L1669.8,536.6L1676.8,524.5M1736.1,529.1L1728.6,542.1M1740.7,535.1L1728.6,542.1L1728.6,528.1M1789.4,529.1L1781.9,542.1M1794.1,535.1L1781.9,542.1L1781.9,528.1M1842.7,529.1L1841.3,545.2M1849.4,533.7L1841.3,545.2L1835.4,532.5M1896.1,529.1L1896.1,544.1M1903.1,532.0L1896.1,544.1L1889.1,532.0M1096.2,591.0L1103.1,602.9M1103.1,589.8L1103.1,602.9L1091.8,596.3M1149.6,591.0L1149.6,577.2M1143.0,588.5L1149.6,577.2L1156.1,588.5M1202.9,591.0L1202.9,577.2M1196.3,588.5L1202.9,577.2L1209.4,588.5M1256.2,591.0L1253.8,577.4M1249.3,589.7L1253.8,577.4L1262.2,587.4M1309.5,591.0L1325.6,591.0M1313.5,584.0L1325.6,591.0L1313.5,598.0M1362.9,591.0L1379.0,591.0M1366.8,584.0L1379.0,591.0L1366.8,598.0M1416.2,591.0L1430.2,585.8M1416.4,583.4L1430.2,585.8L1421.2,596.6M1469.5,591.0L1483.5,585.8M1469.8,583.4L1483.5,585.8L1474.5,596.6M1522.8,591.0L1522.8,576.0M1515.8,588.1L1522.8,576.0L1529.8,588.1M1576.1,591.0L1560.3,593.7M1573.4,598.5L1560.3,593.7L1571.0,584.7M1629.5,591.0L1614.7,593.5M1627.9,598.3L1614.7,593.5L1625.5,584.5M1682.8,591.0L1673.9,601.5M1686.2,597.0L1673.9,601.5L1676.2,588.6M1736.1,591.0L1727.2,601.5M1739.5,597.0L1727.2,601.5L1729.5,588.6M1789.4,591.0L1787.0,604.5M1795.5,594.5L1787.0,604.5L1782.5,592.2M1842.7,591.0L1841.4,605.8M1849.5,594.4L1841.4,605.8L1835.5,593.2M1896.1,591.0L1896.1,605.9M1903.1,593.8L1896.1,605.9L1889.1,593.8M1096.2,652.8L1082.7,650.4M1092.7,658.8L1082.7,650.4L1095.0,645.9M1149.6,652.8L1137.6,645.9M1144.2,657.2L1137.6,645.9L1150.7,645.9M1202.9,652.8L1201.7,639.0M1196.1,650.9L1201.7,639.0L1209.2,649.8M1256.2,652.8L1267.7,643.1M1253.9,645.6L1267.7,643.1L1262.9,656.3M1309.5,652.8L1321.0,643.1M1307.2,645.6L1321.0,643.1L1316.2,656.3M1362.9,652.8L1368.0,638.7M1357.2,647.7L1368.0,638.7L1370.4,652.5M1416.2,652.8L1423.6,639.8M1411.5,646.8L1423.6,639.8L1423.6,653.8M1469.5,652.8L1483.4,644.7M1469.4,644.7L1483.4,644.7L1476.4,656.8M1522.8,652.8L1537.9,647.3M1524.2,644.8L1537.9,647.3L1528.9,658.0M1576.1,652.8L1564.2,659.7M1577.3,659.7L1564.2,659.7L1570.7,648.3M1629.5,652.8L1628.2,667.7M1636.2,656.2L1628.2,667.7L1622.2,655.0M1682.8,652.8L1680.2,667.5M1689.2,656.8L1680.2,667.5L1675.4,654.3M1736.1,652.8L1721.2,652.8M1733.3,659.8L1721.2,652.8L1733.3,645.8M1789.4,652.8L1774.5,652.8M1786.6,659.8L1774.5,652.8L1786.6,645.8M1842.7,652.8L1857.5,650.2M1844.3,645.4L1857.5,650.2L1846.7,659.2M1896.1,652.8L1896.1,668.9M1903.1,656.7L1896.1,668.9L1889.1,656.7M1096.2,714.6L1108.2,707.7M1095.1,707.7L1108.2,707.7L1101.6,719.0M1149.6,714.6L1136.6,709.8M1145.0,719.9L1136.6,709.8L1149.5,707.6M1202.9,714.6L1215.9,709.8M1202.9,707.6L1215.9,709.8L1207.4,719.9M1256.2,714.6L1263.7,701.6M1251.6,708.6L1263.7,701.6L1263.7,715.6M1309.5,714.6L1314.6,700.5M1303.9,709.5L1314.6,700.5L1317.1,714.3M1362.9,714.6L1370.3,701.6M1358.2,708.6L1370.3,701.6L1370.3,715.6M1416.2,714.6L1427.6,703.2M1414.0,706.8L1427.6,703.2L1423.9,716.7M1469.5,714.6L1479.8,702.2M1466.7,707.0L1479.8,702.2L1477.4,716.0M1522.8,714.6L1538.7,711.8M1525.5,707.0L1538.7,711.8L1527.9,720.8M1576.1,714.6L1593.1,717.6M1582.4,708.6L1593.1,717.6L1580.0,722.4M1629.5,714.6L1619.1,726.9M1632.3,722.1L1619.1,726.9L1621.5,713.1M1682.8,714.6L1668.8,722.6M1682.8,722.6L1668.8,722.6L1675.8,710.5M1736.1,714.6L1720.0,714.6M1732.1,721.6L1720.0,714.6L1732.1,707.6M1789.4,714.6L1773.3,714.6M1785.4,721.6L1773.3,714.6L1785.4,707.6M1842.7,714.6L1858.6,717.4M1847.9,708.4L1858.6,717.4L1845.4,722.2M1896.1,714.6L1912.3,720.5M1903.3,709.7L1912.3,720.5L1898.5,722.9M1096.2,776.4L1098.8,791.1M1103.6,777.9L1098.8,791.1L1089.8,780.4M1149.6,776.4L1154.7,790.4M1157.1,776.6L1154.7,790.4L1144.0,781.4M1202.9,776.4L1208.0,790.4M1210.4,776.6L1208.0,790.4L1197.3,781.4M1256.2,776.4L1261.3,790.4M1263.8,776.6L1261.3,790.4L1250.6,781.4M1309.5,776.4L1311.9,790.0M1316.4,777.6L1311.9,790.0L1303.5,779.9M1362.9,776.4L1360.3,761.7M1355.5,774.8L1360.3,761.7L1369.3,772.4M1416.2,776.4L1429.1,768.9M1415.1,768.9L1429.1,768.9L1422.1,781.0M1469.5,776.4L1486.5,779.4M1475.8,770.4L1486.5,779.4L1473.3,784.2M1522.8,776.4L1539.0,782.3M1530.0,771.6L1539.0,782.3L1525.2,784.7M1576.1,776.4L1587.2,789.6M1584.8,775.8L1587.2,789.6L1574.1,784.8M1629.5,776.4L1632.5,793.4M1637.2,780.2L1632.5,793.4L1623.5,782.6M1682.8,776.4L1670.4,786.7M1684.2,784.3L1670.4,786.7L1675.2,773.6M1736.1,776.4L1742.0,792.6M1744.4,778.8L1742.0,792.6L1731.3,783.6M1789.4,776.4L1789.4,799.4M1796.4,787.3L1789.4,799.4L1782.4,787.3M1842.7,776.4L1842.7,801.7M1849.7,789.6L1842.7,801.7L1835.7,789.6M1896.1,776.4L1904.7,800.1M1907.1,786.4L1904.7,800.1L1894.0,791.2M1096.2,838.2L1099.0,854.0M1103.8,840.9L1099.0,854.0L1090.0,843.3M1149.6,838.2L1152.4,854.0M1157.2,840.9L1152.4,854.0L1143.4,843.3M1202.9,838.2L1210.9,852.1M1210.9,838.1L1210.9,852.1L1198.8,845.1M1256.2,838.2L1242.4,838.2M1253.8,844.7L1242.4,838.2L1253.8,831.6M1309.5,838.2L1296.2,841.8M1308.9,845.1L1296.2,841.8L1305.5,832.5M1362.9,838.2L1370.9,852.1M1370.9,838.1L1370.9,852.1L1358.8,845.1M1416.2,838.2L1432.2,839.6M1420.7,831.6L1432.2,839.6L1419.5,845.5M1469.5,838.2L1486.7,839.7M1475.2,831.7L1486.7,839.7L1474.0,845.6M1522.8,838.2L1542.8,843.5M1532.9,833.6L1542.8,843.5L1529.3,847.2M1576.1,838.2L1578.9,854.0M1583.7,840.9L1578.9,854.0L1569.9,843.3M1629.5,838.2L1628.1,854.2M1636.1,842.8L1628.1,854.2L1622.1,841.5M1682.8,838.2L1676.9,854.4M1687.6,845.4L1676.9,854.4L1674.4,840.6M1736.1,838.2L1736.1,866.9M1743.1,854.8L1736.1,866.9L1729.1,854.8M1789.4,838.2L1792.4,872.6M1798.3,859.9L1792.4,872.6L1784.4,861.1M1842.7,838.2L1842.7,875.0M1849.7,862.9L1842.7,875.0L1835.7,862.9M1896.1,838.2L1892.9,874.8M1900.9,863.4L1892.9,874.8L1886.9,862.2M1096.2,900.0L1104.3,913.9M1104.3,899.9L1104.3,913.9L1092.2,906.9M1149.6,900.0L1152.4,915.8M1157.2,902.7L1152.4,915.8L1143.4,905.1M1202.9,900.0L1188.2,897.4M1198.9,906.4L1188.2,897.4L1201.3,892.6M1256.2,900.0L1253.6,885.3M1248.8,898.4L1253.6,885.3L1262.6,896.0M1309.5,900.0L1306.9,885.3M1302.1,898.4L1306.9,885.3L1315.9,896.0M1362.9,900.0L1378.0,905.5M1369.0,894.8L1378.0,905.5L1364.2,907.9M1416.2,900.0L1425.4,915.9M1425.4,901.9L1425.4,915.9L1413.3,908.9M1469.5,900.0L1479.8,917.9M1479.8,903.9L1479.8,917.9L1467.7,910.9M1522.8,900.0L1547.3,906.5M1537.4,896.6L1547.3,906.5L1533.7,910.2M1576.1,900.0L1590.6,920.7M1589.4,906.8L1590.6,920.7L1578.0,914.8M1629.5,900.0L1635.4,934.0M1640.2,920.8L1635.4,934.0L1626.5,923.2M1682.8,900.0L1690.8,945.3M1695.6,932.1L1690.8,945.3L1681.8,934.6M1736.1,900.0L1740.6,951.5M1746.5,938.9L1740.6,951.5L1732.6,940.1M1789.4,900.0L1794.4,957.3M1800.3,944.6L1794.4,957.3L1786.4,945.8M1842.7,900.0L1847.8,957.3M1853.7,944.6L1847.8,957.3L1839.7,945.8M1896.1,900.0L1901.1,957.3M1907.0,944.6L1901.1,957.3L1893.0,945.8" stroke="#000" stroke-width="2.3" fill="none" stroke-linecap="round" stroke-linejoin="round"/>
</g>
<path d="M1054.7,230.4H1920.3V951.5H1054.7Z" stroke="#a0a0a0" stroke-width="2.4" fill="none"/><path d="M1054.7,230.4H1920.3V951.5H1054.7Z" stroke="#000" stroke-width="2.4" stroke-dasharray="6.8 2.4" fill="none"/>
<path d="M1047.4,951.5H1054.7M1047.4,848.5H1054.7M1047.4,745.5H1054.7M1047.4,642.5H1054.7M1047.4,539.4H1054.7M1047.4,436.4H1054.7M1047.4,333.4H1054.7M1047.4,230.4H1054.7M1054.7,951.5V957.9M1141.3,951.5V957.9M1227.8,951.5V957.9M1314.4,951.5V957.9M1400.9,951.5V957.9M1487.5,951.5V957.9M1574.1,951.5V957.9M1660.6,951.5V957.9M1747.2,951.5V957.9M1833.7,951.5V957.9M1920.3,951.5V957.9" stroke="#000" stroke-width="2.4" fill="none"/><text x="1015.1" y="960.5" font-size="23" text-anchor="start" textLength="26.0" lengthAdjust="spacingAndGlyphs" stroke="#000" stroke-width="0.5">5N</text>
<text x="1002.5" y="857.5" font-size="23" text-anchor="start" textLength="38.6" lengthAdjust="spacingAndGlyphs" stroke="#000" stroke-width="0.5">10N</text>
<text x="1002.5" y="754.5" font-size="23" text-anchor="start" textLength="38.6" lengthAdjust="spacingAndGlyphs" stroke="#000" stroke-width="0.5">15N</text>
<text x="1002.5" y="651.5" font-size="23" text-anchor="start" textLength="38.6" lengthAdjust="spacingAndGlyphs" stroke="#000" stroke-width="0.5">20N</text>
<text x="1002.5" y="548.4" font-size="23" text-anchor="start" textLength="38.6" lengthAdjust="spacingAndGlyphs" stroke="#000" stroke-width="0.5">25N</text>
<text x="1002.5" y="445.4" font-size="23" text-anchor="start" textLength="38.6" lengthAdjust="spacingAndGlyphs" stroke="#000" stroke-width="0.5">30N</text>
<text x="1002.5" y="342.4" font-size="23" text-anchor="start" textLength="38.6" lengthAdjust="spacingAndGlyphs" stroke="#000" stroke-width="0.5">35N</text>
<text x="1002.5" y="239.4" font-size="23" text-anchor="start" textLength="38.6" lengthAdjust="spacingAndGlyphs" stroke="#000" stroke-width="0.5">40N</text>
<text x="1036.7" y="979.7" font-size="23" text-anchor="start" textLength="37.0" lengthAdjust="spacingAndGlyphs" stroke="#000" stroke-width="0.5">50E</text>
<text x="1123.3" y="979.7" font-size="23" text-anchor="start" textLength="37.0" lengthAdjust="spacingAndGlyphs" stroke="#000" stroke-width="0.5">55E</text>
<text x="1209.8" y="979.7" font-size="23" text-anchor="start" textLength="37.0" lengthAdjust="spacingAndGlyphs" stroke="#000" stroke-width="0.5">60E</text>
<text x="1296.4" y="979.7" font-size="23" text-anchor="start" textLength="37.0" lengthAdjust="spacingAndGlyphs" stroke="#000" stroke-width="0.5">65E</text>
<text x="1382.9" y="979.7" font-size="23" text-anchor="start" textLength="37.0" lengthAdjust="spacingAndGlyphs" stroke="#000" stroke-width="0.5">70E</text>
<text x="1469.5" y="979.7" font-size="23" text-anchor="start" textLength="37.0" lengthAdjust="spacingAndGlyphs" stroke="#000" stroke-width="0.5">75E</text>
<text x="1556.1" y="979.7" font-size="23" text-anchor="start" textLength="37.0" lengthAdjust="spacingAndGlyphs" stroke="#000" stroke-width="0.5">80E</text>
<text x="1642.6" y="979.7" font-size="23" text-anchor="start" textLength="37.0" lengthAdjust="spacingAndGlyphs" stroke="#000" stroke-width="0.5">85E</text>
<text x="1729.2" y="979.7" font-size="23" text-anchor="start" textLength="37.0" lengthAdjust="spacingAndGlyphs" stroke="#000" stroke-width="0.5">90E</text>
<text x="1815.7" y="979.7" font-size="23" text-anchor="start" textLength="37.0" lengthAdjust="spacingAndGlyphs" stroke="#000" stroke-width="0.5">95E</text>
<text x="1896.5" y="979.7" font-size="23" text-anchor="start" textLength="48.6" lengthAdjust="spacingAndGlyphs" stroke="#000" stroke-width="0.5">100E</text><path d="M1712.2,1003.0H1764.8M1750.6,995.4L1764.8,1003.0L1750.6,1010.6" stroke="#000" stroke-width="2.4" fill="none" stroke-linecap="round" stroke-linejoin="round"/><text x="1734.8" y="1024.6" font-size="20" text-anchor="start" textLength="6.5" lengthAdjust="spacingAndGlyphs" stroke="#000" stroke-width="0.5">1</text>
<g clip-path="url(#clip_c)">
<path fill="#c8ffc8" fill-rule="evenodd" d="M599.9,1681.4L602.0,1682.6L607.1,1684.9L612.3,1686.2L617.5,1686.7L622.7,1686.8L627.9,1686.6L633.1,1685.6L638.2,1683.4L641.4,1681.4L643.4,1680.2L648.6,1676.3L649.6,1675.3L653.8,1670.9L655.1,1669.3L659.0,1663.3L659.0,1663.2L662.1,1657.1L664.2,1652.0L664.5,1651.1L666.5,1645.0L668.3,1639.0L669.3,1635.8L670.3,1632.9L672.6,1626.8L674.5,1622.4L675.3,1620.8L678.4,1614.7L679.7,1612.3L681.8,1608.7L684.9,1603.8L685.7,1602.6L689.8,1596.6L690.1,1596.1L693.8,1590.5L695.3,1588.1L697.5,1584.4L700.4,1578.4L700.4,1578.3L702.8,1572.3L704.8,1566.3L705.6,1563.4L706.5,1560.2L707.8,1554.1L708.8,1548.1L709.8,1542.0L710.8,1537.0L711.0,1536.0L712.9,1529.9L715.3,1523.8L716.0,1522.3L718.7,1517.8L721.2,1514.3L723.5,1511.7L726.4,1508.9L729.8,1505.7L731.5,1504.1L736.2,1499.6L736.7,1499.1L741.5,1493.5L741.9,1493.0L745.9,1487.5L747.1,1485.4L749.4,1481.4L752.3,1476.0L752.6,1475.4L755.5,1469.3L757.5,1465.4L758.4,1463.2L761.2,1457.2L762.6,1454.2L764.1,1451.1L767.5,1445.1L767.8,1444.5L771.7,1439.0L773.0,1437.5L777.7,1432.9L778.2,1432.5L783.4,1428.9L787.0,1426.9L788.6,1426.1L793.7,1423.9L798.9,1422.6L804.1,1422.6L809.3,1423.9L814.5,1426.3L815.4,1426.9L819.7,1429.6L823.9,1432.9L824.8,1433.7L830.0,1438.5L830.5,1439.0L835.2,1444.0L836.1,1445.1L840.4,1450.3L841.1,1451.1L845.6,1456.7L845.9,1457.2L850.8,1462.5L851.4,1463.2L855.9,1467.7L857.5,1469.3L861.1,1473.0L863.4,1475.4L866.3,1478.6L868.8,1481.4L871.5,1484.6L873.8,1487.5L876.7,1491.2L878.3,1493.5L881.9,1498.7L882.4,1499.6L886.8,1505.7L887.0,1505.9L892.2,1511.4L892.4,1511.7L897.4,1516.4L898.6,1517.8L902.6,1522.2L903.8,1523.8L907.8,1529.5L908.0,1529.9L911.6,1536.0L913.0,1538.1L914.9,1542.0L917.4,1548.1L918.1,1550.3L919.3,1554.1L920.7,1560.2L921.8,1566.3L922.7,1572.3L923.3,1577.1L923.5,1578.4L924.6,1584.4L925.8,1590.5L927.2,1596.6L928.5,1601.3L928.5,1596.6L928.5,1590.5L928.5,1584.4L928.5,1578.4L928.5,1572.3L928.5,1566.3L928.5,1560.2L928.5,1554.1L928.5,1548.1L928.5,1542.0L928.5,1536.0L928.5,1529.9L928.5,1523.8L928.5,1517.8L928.5,1511.7L928.5,1505.7L928.5,1499.6L928.5,1493.5L928.5,1487.5L928.5,1481.4L928.5,1475.4L928.5,1469.3L928.5,1463.2L928.5,1457.2L928.5,1451.1L928.5,1445.1L928.5,1439.0L928.5,1432.9L928.5,1426.9L928.5,1420.8L928.5,1414.8L928.5,1408.7L928.5,1402.6L928.5,1396.6L928.5,1390.5L928.5,1384.5L928.5,1378.4L928.5,1372.3L928.5,1366.3L928.5,1364.4L923.3,1363.0L918.1,1361.3L914.5,1360.2L913.0,1359.8L907.8,1358.7L902.6,1357.8L897.4,1357.0L892.2,1356.5L887.0,1356.9L881.9,1358.2L876.7,1359.9L875.8,1360.2L871.5,1361.8L866.3,1363.5L861.1,1365.1L856.4,1366.3L855.9,1366.4L850.8,1367.8L845.6,1368.5L840.4,1368.2L835.2,1367.1L832.5,1366.3L830.0,1365.8L824.8,1364.6L819.7,1363.3L814.5,1362.0L809.3,1360.5L808.4,1360.2L804.1,1359.2L798.9,1357.4L793.7,1354.6L793.0,1354.2L788.6,1351.2L785.1,1348.1L783.4,1346.2L780.4,1342.0L778.2,1337.6L777.5,1336.0L775.7,1329.9L774.3,1323.9L773.2,1317.8L773.0,1315.9L772.5,1311.7L772.1,1305.7L771.8,1299.6L771.6,1293.6L771.4,1287.5L771.0,1281.4L770.5,1275.4L769.8,1269.3L768.9,1263.3L767.8,1258.3L767.5,1257.2L765.6,1251.1L762.9,1245.1L762.6,1244.5L758.4,1239.0L757.5,1238.0L752.3,1234.3L749.6,1233.0L747.1,1231.8L741.9,1229.9L736.7,1228.5L731.5,1227.3L729.4,1226.9L726.4,1226.3L721.2,1225.3L716.0,1224.1L710.8,1222.7L705.6,1221.2L704.5,1220.9L700.4,1219.4L695.3,1217.6L690.1,1215.8L687.1,1214.8L684.9,1213.8L679.7,1211.8L674.5,1210.3L669.3,1209.4L664.2,1208.9L662.5,1208.7L659.0,1208.4L653.8,1208.1L648.6,1208.0L643.4,1208.0L638.2,1207.9L633.1,1207.6L627.9,1206.9L622.7,1206.0L617.5,1205.1L612.3,1204.2L607.1,1203.1L605.1,1202.7L602.0,1201.9L596.8,1200.6L591.6,1199.0L586.4,1197.0L585.5,1196.6L581.2,1194.8L576.0,1192.7L570.9,1190.7L570.5,1190.6L565.7,1188.7L560.5,1186.7L555.3,1185.1L553.1,1184.5L550.1,1183.7L544.9,1182.8L539.8,1182.2L534.6,1181.7L529.4,1181.4L524.2,1181.3L519.0,1181.5L513.8,1181.7L508.7,1182.0L503.5,1182.4L498.3,1183.0L493.1,1183.8L489.3,1184.5L487.9,1184.8L482.7,1186.1L477.6,1188.2L473.3,1190.6L472.4,1191.2L467.2,1195.6L466.0,1196.6L462.0,1201.4L460.7,1202.7L456.8,1208.5L456.6,1208.7L453.2,1214.8L451.6,1219.3L450.7,1220.9L447.4,1226.9L446.5,1228.6L444.3,1226.9L441.3,1224.9L440.0,1220.9L437.7,1214.8L436.1,1211.6L435.1,1208.7L432.0,1202.7L430.9,1201.1L427.4,1196.6L425.7,1194.9L420.5,1191.4L418.2,1190.6L415.4,1189.6L410.2,1188.7L405.0,1188.4L399.8,1189.5L397.8,1190.6L394.6,1192.4L390.5,1196.6L389.4,1197.8L386.2,1202.7L384.3,1206.5L383.1,1208.7L380.6,1214.8L379.1,1219.1L378.4,1220.9L375.9,1226.9L373.9,1231.7L373.3,1233.0L370.4,1239.0L368.7,1242.3L367.2,1245.1L363.7,1251.1L363.5,1251.4L359.9,1257.2L358.3,1260.0L356.3,1263.3L353.2,1268.6L352.7,1269.3L348.3,1275.4L348.0,1275.7L342.8,1280.8L341.9,1281.4L337.6,1284.3L332.4,1286.8L330.7,1287.5L327.2,1288.7L322.1,1290.3L316.9,1291.6L311.7,1292.9L309.1,1293.6L306.5,1294.2L301.3,1295.7L296.1,1297.4L291.0,1299.5L290.6,1299.6L285.8,1302.1L280.6,1305.4L280.1,1305.7L275.4,1311.5L275.2,1311.7L274.3,1317.8L275.4,1323.7L275.5,1323.9L278.0,1329.9L280.6,1333.5L282.6,1336.0L285.8,1338.3L291.0,1341.5L291.9,1342.0L296.1,1343.8L301.3,1345.6L306.5,1347.1L310.6,1348.1L311.7,1348.3L316.9,1349.0L322.1,1349.0L327.2,1348.6L331.7,1348.1L332.4,1348.0L337.6,1347.2L342.8,1345.9L348.0,1344.4L353.2,1342.5L354.1,1342.0L358.3,1339.9L363.5,1336.5L364.2,1336.0L368.7,1332.0L370.8,1329.9L373.9,1326.7L376.6,1323.9L379.1,1321.2L382.2,1317.8L384.3,1315.8L389.0,1311.7L389.4,1311.5L394.6,1308.7L399.8,1307.1L405.0,1306.3L410.2,1306.1L415.4,1306.2L420.5,1306.6L425.7,1307.9L430.9,1310.9L431.8,1311.7L435.0,1317.8L436.1,1322.2L436.4,1323.9L437.2,1329.9L437.7,1336.0L437.9,1342.0L437.8,1348.1L437.2,1354.2L436.1,1357.5L435.0,1360.2L430.9,1365.0L429.7,1366.3L425.7,1369.1L420.6,1372.3L420.5,1372.4L415.4,1374.8L410.2,1377.0L406.6,1378.4L405.0,1379.0L399.8,1380.5L394.6,1381.6L389.4,1382.6L384.3,1383.6L380.1,1384.5L379.1,1384.6L373.9,1385.6L368.7,1386.6L363.5,1387.7L358.3,1388.8L353.2,1389.8L349.5,1390.5L348.0,1390.8L342.8,1391.6L337.6,1392.6L332.4,1393.9L327.2,1395.5L324.5,1396.6L322.1,1397.5L316.9,1399.9L313.1,1402.6L311.7,1403.6L306.6,1408.7L306.5,1408.7L301.5,1414.8L301.3,1415.0L297.1,1420.8L296.1,1422.3L293.2,1426.9L291.0,1430.8L289.8,1432.9L286.5,1439.0L285.8,1440.3L283.3,1445.1L280.6,1451.0L280.5,1451.1L278.1,1457.2L276.5,1463.2L275.7,1469.3L275.4,1475.4L275.5,1481.4L276.3,1487.5L278.1,1493.5L280.6,1498.6L281.1,1499.6L284.6,1505.7L285.8,1507.3L289.1,1511.7L291.0,1513.7L295.1,1517.8L296.1,1518.7L301.3,1522.8L302.7,1523.8L306.5,1526.3L311.7,1529.5L312.3,1529.9L316.9,1532.9L320.8,1536.0L322.1,1536.9L327.2,1541.1L328.3,1542.0L332.4,1545.3L335.8,1548.1L337.6,1549.6L342.8,1554.0L343.0,1554.1L348.0,1558.5L349.8,1560.2L353.2,1563.1L356.7,1566.3L358.3,1567.7L363.5,1572.2L363.7,1572.3L368.7,1576.2L372.0,1578.4L373.9,1579.6L379.1,1582.5L383.1,1584.4L384.3,1585.0L389.4,1587.3L394.6,1589.2L399.0,1590.5L399.8,1590.7L405.0,1591.8L410.2,1592.5L415.4,1593.0L420.5,1593.3L425.7,1593.4L430.9,1593.3L436.1,1593.2L441.3,1593.1L446.5,1593.0L451.6,1592.8L456.8,1592.6L462.0,1592.3L467.2,1592.0L472.4,1591.6L477.6,1591.0L481.8,1590.5L482.7,1590.4L487.9,1589.7L493.1,1589.0L498.3,1588.2L503.5,1587.4L508.7,1586.8L513.8,1586.9L519.0,1587.5L524.2,1588.6L529.4,1590.2L530.1,1590.5L534.6,1592.3L539.8,1595.6L540.9,1596.6L544.9,1601.1L545.9,1602.6L548.9,1608.7L550.1,1612.3L550.9,1614.7L552.5,1620.8L553.9,1626.8L555.2,1632.9L555.3,1633.3L557.0,1639.0L559.5,1645.0L560.5,1646.8L563.2,1651.1L565.7,1654.1L568.2,1657.1L570.9,1659.8L574.2,1663.2L576.0,1664.8L581.2,1669.2L581.3,1669.3L586.4,1673.0L589.8,1675.3L591.6,1676.5L596.8,1679.8L599.9,1681.4Z"/>
<path fill="#96ffc8" fill-rule="evenodd" d="M608.5,1675.3L612.3,1676.7L617.5,1677.6L622.7,1677.9L627.9,1677.9L633.1,1677.1L637.1,1675.3L638.2,1674.9L643.4,1671.4L645.8,1669.3L648.6,1666.4L651.3,1663.2L653.8,1659.6L655.3,1657.1L658.4,1651.1L659.0,1649.9L661.0,1645.0L663.1,1639.0L664.2,1636.1L665.2,1632.9L667.5,1626.8L669.3,1622.1L669.9,1620.8L672.6,1614.7L674.5,1610.8L675.7,1608.7L679.2,1602.6L679.7,1601.9L683.2,1596.6L684.9,1593.9L687.2,1590.5L690.1,1585.8L690.9,1584.4L694.0,1578.4L695.3,1575.6L696.7,1572.3L698.9,1566.3L700.4,1561.3L700.8,1560.2L702.3,1554.1L703.6,1548.1L704.7,1542.0L705.6,1537.3L705.9,1536.0L707.4,1529.9L709.3,1523.8L710.8,1519.5L711.6,1517.8L714.6,1511.7L716.0,1509.6L719.2,1505.7L721.2,1503.6L725.6,1499.6L726.4,1498.9L731.5,1494.0L732.0,1493.5L736.7,1488.0L737.1,1487.5L740.8,1481.4L741.9,1479.1L743.7,1475.4L746.5,1469.3L747.1,1468.0L749.2,1463.2L751.6,1457.2L752.3,1455.4L753.9,1451.1L756.6,1445.1L757.5,1443.7L760.1,1439.0L762.6,1435.7L764.7,1432.9L767.8,1429.6L770.6,1426.9L773.0,1424.8L778.2,1421.2L778.8,1420.8L783.4,1418.4L788.6,1416.3L793.1,1414.8L793.7,1414.6L798.9,1413.4L804.1,1413.1L809.3,1413.8L812.6,1414.8L814.5,1415.3L819.7,1417.4L824.8,1420.2L825.8,1420.8L830.0,1423.9L833.2,1426.9L835.2,1428.9L838.5,1432.9L840.4,1435.3L843.1,1439.0L845.6,1442.1L847.9,1445.1L850.8,1448.5L852.9,1451.1L855.9,1454.5L858.3,1457.2L861.1,1460.2L863.9,1463.2L866.3,1465.7L869.5,1469.3L871.5,1471.5L874.7,1475.4L876.7,1477.8L879.4,1481.4L881.9,1484.7L883.8,1487.5L887.0,1492.6L887.6,1493.5L891.2,1499.6L892.2,1501.1L895.0,1505.7L897.4,1508.6L899.7,1511.7L902.6,1515.0L904.6,1517.8L907.8,1522.1L908.8,1523.8L912.1,1529.9L913.0,1531.4L915.0,1536.0L917.7,1542.0L918.1,1543.2L919.8,1548.1L921.3,1554.1L922.5,1560.2L923.3,1565.7L923.4,1566.3L924.5,1572.3L925.5,1578.4L926.5,1584.4L927.7,1590.5L928.5,1593.6L928.5,1590.5L928.5,1584.4L928.5,1578.4L928.5,1572.3L928.5,1566.3L928.5,1560.2L928.5,1554.1L928.5,1548.1L928.5,1542.0L928.5,1536.0L928.5,1529.9L928.5,1523.8L928.5,1517.8L928.5,1511.7L928.5,1505.7L928.5,1499.6L928.5,1493.5L928.5,1487.5L928.5,1481.4L928.5,1475.4L928.5,1469.3L928.5,1463.2L928.5,1457.2L928.5,1451.1L928.5,1445.1L928.5,1439.0L928.5,1432.9L928.5,1426.9L928.5,1420.8L928.5,1414.8L928.5,1408.7L928.5,1402.6L928.5,1396.6L928.5,1390.5L928.5,1387.7L924.3,1384.5L923.3,1383.8L918.1,1379.7L916.4,1378.4L913.0,1376.2L907.8,1373.3L906.0,1372.3L902.6,1370.9L897.4,1368.9L892.2,1367.4L887.0,1366.9L881.9,1367.6L876.7,1369.0L871.5,1370.5L866.3,1372.0L865.0,1372.3L861.1,1373.5L855.9,1375.0L850.8,1376.2L845.6,1376.7L840.4,1376.3L835.2,1375.0L830.0,1373.3L827.5,1372.3L824.8,1371.5L819.7,1369.8L814.5,1367.9L810.5,1366.3L809.3,1366.0L804.1,1364.3L798.9,1362.1L795.7,1360.2L793.7,1359.3L788.6,1356.1L786.2,1354.2L783.4,1351.8L780.1,1348.1L778.2,1345.3L776.4,1342.0L774.2,1336.0L773.0,1331.5L772.6,1329.9L771.5,1323.9L770.5,1317.8L769.8,1311.7L769.2,1305.7L768.7,1299.6L768.1,1293.6L767.8,1291.0L767.3,1287.5L766.3,1281.4L764.9,1275.4L763.1,1269.3L762.6,1268.1L760.3,1263.3L757.5,1258.4L756.4,1257.2L752.3,1252.5L750.6,1251.1L747.1,1248.4L741.9,1245.3L741.5,1245.1L736.7,1242.8L731.5,1240.8L726.4,1239.1L726.0,1239.0L721.2,1237.5L716.0,1236.0L710.8,1234.4L706.4,1233.0L705.6,1232.7L700.4,1231.0L695.3,1229.3L690.1,1227.6L688.2,1226.9L684.9,1225.8L679.7,1224.0L674.5,1222.5L669.3,1221.3L667.0,1220.9L664.2,1220.3L659.0,1219.4L653.8,1218.7L648.6,1218.1L643.4,1217.7L638.2,1217.2L633.1,1216.7L627.9,1216.0L622.7,1215.2L620.2,1214.8L617.5,1214.3L612.3,1213.2L607.1,1212.1L602.0,1210.9L596.8,1209.8L592.9,1208.7L591.6,1208.3L586.4,1206.1L581.2,1203.7L579.0,1202.7L576.0,1201.2L570.9,1198.7L566.4,1196.6L565.7,1196.3L560.5,1193.9L555.3,1191.8L551.1,1190.6L550.1,1190.2L544.9,1189.1L539.8,1188.4L534.6,1187.9L529.4,1187.6L524.2,1187.6L519.0,1187.9L513.8,1188.3L508.7,1188.9L503.5,1189.7L499.2,1190.6L498.3,1190.7L493.1,1192.1L487.9,1193.9L482.7,1196.5L482.5,1196.6L477.6,1200.5L475.4,1202.7L472.4,1207.2L471.4,1208.7L469.3,1214.8L468.4,1220.9L468.1,1226.9L468.1,1233.0L468.3,1239.0L469.0,1245.1L470.0,1251.1L471.3,1257.2L472.4,1263.1L472.4,1263.3L473.0,1269.3L473.2,1275.4L473.2,1281.4L473.0,1287.5L472.4,1293.6L472.4,1294.0L471.4,1299.6L470.2,1305.7L468.5,1311.7L467.2,1315.6L466.4,1317.8L464.3,1323.9L462.5,1329.9L462.0,1331.8L460.9,1336.0L459.4,1342.0L458.1,1348.1L456.8,1353.9L456.8,1354.2L454.8,1360.2L451.8,1366.3L451.6,1366.5L447.3,1372.3L446.5,1373.3L441.3,1378.2L441.1,1378.4L436.1,1381.6L431.0,1384.5L430.9,1384.5L425.7,1386.7L420.5,1388.8L415.8,1390.5L415.4,1390.7L410.2,1392.2L405.0,1393.8L399.8,1395.3L395.1,1396.6L394.6,1396.7L389.4,1398.0L384.3,1399.4L379.1,1400.9L373.9,1402.5L373.3,1402.6L368.7,1403.9L363.5,1405.4L358.3,1406.8L353.2,1408.2L351.1,1408.7L348.0,1409.4L342.8,1410.6L337.6,1412.1L332.4,1414.0L330.7,1414.8L327.2,1416.2L322.1,1419.0L319.4,1420.8L316.9,1422.6L312.4,1426.9L311.7,1427.6L307.3,1432.9L306.5,1434.0L303.0,1439.0L301.3,1441.4L299.0,1445.1L296.1,1449.9L295.5,1451.1L292.6,1457.2L291.0,1462.9L290.9,1463.2L289.9,1469.3L289.6,1475.4L289.8,1481.4L290.9,1487.5L291.0,1487.7L293.3,1493.5L296.1,1498.3L296.9,1499.6L301.3,1505.3L301.6,1505.7L306.5,1510.9L307.4,1511.7L311.7,1515.6L314.1,1517.8L316.9,1520.1L320.8,1523.8L322.1,1524.9L327.2,1529.8L327.3,1529.9L332.4,1534.5L334.0,1536.0L337.6,1539.1L340.8,1542.0L342.8,1543.8L347.4,1548.1L348.0,1548.6L353.2,1553.5L353.8,1554.1L358.3,1558.7L359.7,1560.2L363.5,1564.0L365.8,1566.3L368.7,1568.8L373.1,1572.3L373.9,1572.8L379.1,1576.3L382.6,1578.4L384.3,1579.3L389.4,1581.9L394.6,1584.0L395.8,1584.4L399.8,1585.8L405.0,1587.2L410.2,1588.1L415.4,1588.9L420.5,1589.4L425.7,1589.7L430.9,1589.9L436.1,1590.0L441.3,1590.0L446.5,1589.9L451.6,1589.7L456.8,1589.5L462.0,1589.1L467.2,1588.5L472.4,1587.7L477.6,1586.6L482.7,1585.1L485.0,1584.4L487.9,1583.4L493.1,1581.3L498.3,1578.4L498.3,1578.4L503.5,1573.8L505.1,1572.3L508.7,1567.3L509.7,1566.3L513.6,1560.2L513.8,1559.5L517.0,1554.1L519.0,1548.4L519.2,1548.1L521.8,1542.0L524.2,1537.4L525.3,1536.0L529.4,1531.7L532.0,1529.9L534.6,1528.3L539.8,1526.3L544.9,1525.5L550.1,1527.7L552.0,1529.9L555.3,1534.2L556.3,1536.0L559.6,1542.0L560.5,1543.5L562.9,1548.1L565.7,1552.7L566.3,1554.1L568.4,1560.2L570.2,1566.3L570.9,1569.4L571.3,1572.3L571.8,1578.4L572.0,1584.4L571.7,1590.5L571.0,1596.6L570.9,1597.6L570.0,1602.6L569.4,1608.7L569.1,1614.7L569.1,1620.8L569.3,1626.8L570.1,1632.9L570.9,1635.2L571.9,1639.0L574.9,1645.0L576.0,1646.8L579.0,1651.1L581.2,1653.8L584.3,1657.1L586.4,1659.2L590.5,1663.2L591.6,1664.1L596.8,1668.5L597.7,1669.3L602.0,1672.2L607.1,1674.9L608.5,1675.3ZM391.2,1275.4L394.6,1278.4L399.8,1280.5L405.0,1280.6L410.2,1279.4L415.4,1277.3L418.3,1275.4L420.5,1273.6L423.5,1269.3L425.7,1263.7L425.8,1263.3L426.3,1257.2L425.9,1251.1L425.7,1250.0L425.0,1245.1L423.9,1239.0L422.5,1233.0L420.8,1226.9L420.5,1226.1L417.7,1220.9L415.4,1217.8L411.0,1214.8L410.2,1214.4L405.0,1213.7L402.8,1214.8L399.8,1216.9L397.7,1220.9L395.0,1226.9L394.6,1227.9L393.1,1233.0L391.4,1239.0L389.7,1245.1L389.4,1246.1L388.1,1251.1L386.6,1257.2L386.1,1263.3L387.4,1269.3L389.4,1273.1L391.2,1275.4Z"/>
<path fill="#00fa96" fill-rule="evenodd" d="M616.8,1663.2L617.5,1663.4L622.7,1664.2L627.9,1664.4L633.1,1663.3L633.3,1663.2L638.2,1660.4L641.7,1657.1L643.4,1655.3L646.6,1651.1L648.6,1648.0L650.3,1645.0L653.2,1639.0L653.8,1637.5L655.6,1632.9L657.7,1626.8L659.0,1623.3L659.9,1620.8L662.2,1614.7L664.2,1609.9L664.7,1608.7L667.5,1602.6L669.3,1598.9L670.6,1596.6L674.2,1590.5L674.5,1589.9L677.9,1584.4L679.7,1581.5L681.6,1578.4L684.8,1572.3L684.9,1572.1L687.6,1566.3L690.0,1560.2L690.1,1560.0L692.0,1554.1L693.7,1548.1L695.1,1542.0L695.3,1541.4L696.4,1536.0L697.6,1529.9L698.7,1523.8L700.0,1517.8L700.4,1516.1L701.6,1511.7L703.7,1505.7L705.6,1501.5L706.7,1499.6L710.8,1493.5L710.8,1493.5L715.6,1487.5L716.0,1486.9L719.5,1481.4L721.2,1477.7L722.2,1475.4L724.0,1469.3L725.1,1463.2L724.6,1457.2L721.9,1451.1L721.2,1450.1L716.0,1445.4L715.2,1445.1L710.8,1442.9L705.6,1441.4L700.4,1440.4L695.3,1439.8L690.1,1439.6L684.9,1439.5L679.7,1439.7L674.5,1440.4L669.3,1441.9L664.2,1444.2L662.6,1445.1L659.0,1446.9L653.8,1450.5L653.1,1451.1L648.6,1455.5L647.2,1457.2L643.4,1461.9L642.5,1463.2L638.2,1469.0L638.0,1469.3L633.5,1475.4L633.1,1475.9L628.4,1481.4L627.9,1482.1L622.8,1487.5L622.7,1487.6L617.5,1492.9L616.9,1493.5L612.3,1498.4L611.3,1499.6L607.1,1504.6L606.3,1505.7L602.4,1511.7L602.0,1512.5L599.4,1517.8L597.3,1523.8L596.8,1525.9L595.7,1529.9L594.5,1536.0L593.7,1542.0L593.1,1548.1L592.6,1554.1L592.2,1560.2L591.8,1566.3L591.6,1569.4L591.4,1572.3L590.9,1578.4L590.4,1584.4L589.7,1590.5L589.0,1596.6L588.2,1602.6L587.7,1608.7L587.3,1614.7L587.3,1620.8L587.5,1626.8L588.3,1632.9L590.5,1639.0L591.6,1640.8L593.9,1645.0L596.8,1648.8L598.5,1651.1L602.0,1654.8L604.7,1657.1L607.1,1659.1L612.3,1661.9L616.8,1663.2ZM403.8,1578.4L405.0,1578.8L410.2,1580.3L415.4,1581.5L420.5,1582.5L425.7,1583.2L430.9,1583.8L436.1,1584.2L441.3,1584.4L446.5,1584.3L451.6,1584.1L456.8,1583.7L462.0,1583.0L467.2,1582.0L472.4,1580.4L476.9,1578.4L477.6,1578.0L482.7,1574.7L485.9,1572.3L487.9,1570.3L491.7,1566.3L493.1,1564.2L495.7,1560.2L498.2,1554.1L498.3,1554.0L500.3,1548.1L501.7,1542.0L502.7,1536.0L503.5,1530.3L503.5,1529.9L504.6,1523.8L505.7,1517.8L506.9,1511.7L508.2,1505.7L508.7,1503.6L510.4,1499.6L513.2,1493.5L513.8,1492.1L516.9,1487.5L519.0,1483.9L520.8,1481.4L524.2,1476.6L525.3,1475.4L529.4,1470.9L531.3,1469.3L534.6,1466.6L539.8,1463.4L540.0,1463.2L544.9,1461.0L550.1,1459.5L555.3,1458.9L560.5,1458.8L565.7,1458.7L570.9,1458.4L576.0,1457.6L578.1,1457.2L581.2,1456.6L586.4,1455.2L591.6,1453.0L594.4,1451.1L596.8,1449.4L601.0,1445.1L602.0,1443.9L605.4,1439.0L607.1,1436.1L609.2,1432.9L612.3,1427.9L613.1,1426.9L617.5,1421.0L617.7,1420.8L622.7,1415.5L623.4,1414.8L627.9,1411.5L633.1,1408.8L633.5,1408.7L638.2,1407.9L643.4,1407.7L648.6,1407.8L653.8,1407.9L659.0,1408.0L664.2,1408.1L669.3,1408.1L674.5,1408.2L679.7,1408.2L684.9,1408.2L690.1,1408.2L695.3,1408.2L700.4,1408.2L705.6,1408.1L710.8,1408.1L716.0,1408.0L721.2,1407.9L726.4,1407.8L731.5,1407.6L736.7,1407.3L741.9,1406.7L747.1,1406.1L752.3,1405.3L757.5,1404.1L762.2,1402.6L762.6,1402.5L767.8,1400.6L773.0,1398.6L778.2,1396.9L779.1,1396.6L783.4,1395.0L788.6,1393.1L793.7,1391.2L795.6,1390.5L798.9,1385.3L799.3,1384.5L798.9,1384.1L793.8,1378.4L793.7,1378.4L788.6,1373.6L787.6,1372.3L783.4,1367.8L782.4,1366.3L778.2,1361.3L777.5,1360.2L773.4,1354.2L773.0,1353.4L770.6,1348.1L768.8,1342.0L767.8,1337.6L767.5,1336.0L766.5,1329.9L765.7,1323.9L765.0,1317.8L764.2,1311.7L763.3,1305.7L762.6,1302.0L762.1,1299.6L760.4,1293.6L758.2,1287.5L757.5,1285.7L755.1,1281.4L752.3,1277.3L750.6,1275.4L747.1,1271.9L743.7,1269.3L741.9,1267.9L736.7,1264.8L733.7,1263.3L731.5,1262.1L726.4,1259.7L721.2,1257.7L719.7,1257.2L716.0,1255.8L710.8,1254.0L705.6,1252.3L702.0,1251.1L700.4,1250.6L695.3,1248.9L690.1,1247.2L684.9,1245.6L683.4,1245.1L679.7,1243.8L674.5,1241.9L669.3,1240.0L666.8,1239.0L664.2,1238.1L659.0,1236.3L653.8,1234.8L648.6,1233.4L646.8,1233.0L643.4,1232.2L638.2,1231.0L633.1,1229.9L627.9,1228.7L622.7,1227.6L619.5,1226.9L617.5,1226.5L612.3,1225.3L607.1,1224.2L602.0,1223.1L596.8,1222.0L591.9,1220.9L591.6,1220.8L586.4,1219.3L581.2,1217.5L576.0,1215.6L574.1,1214.8L570.9,1213.3L565.7,1210.5L562.5,1208.7L560.5,1207.6L555.3,1204.8L550.4,1202.7L550.1,1202.5L544.9,1201.1L539.8,1200.2L534.6,1199.6L529.4,1199.4L524.2,1199.5L519.0,1200.1L513.8,1200.9L508.7,1202.0L506.4,1202.7L503.5,1203.7L498.3,1206.2L494.1,1208.7L493.1,1209.7L489.1,1214.8L487.9,1219.1L487.5,1220.9L487.5,1226.9L487.9,1232.5L488.0,1233.0L489.1,1239.0L490.9,1245.1L493.0,1251.1L493.1,1251.4L495.1,1257.2L496.8,1263.3L498.1,1269.3L498.3,1270.1L499.3,1275.4L500.4,1281.4L501.5,1287.5L502.6,1293.6L503.5,1297.9L503.8,1299.6L504.9,1305.7L505.4,1311.7L504.8,1317.8L503.5,1323.0L503.2,1323.9L500.8,1329.9L498.3,1334.6L497.5,1336.0L493.3,1342.0L493.1,1342.3L488.8,1348.1L487.9,1349.3L484.8,1354.2L482.7,1357.8L481.6,1360.2L478.8,1366.3L477.6,1369.1L476.2,1372.3L473.3,1378.4L472.4,1380.1L469.9,1384.5L467.2,1388.3L465.3,1390.5L462.0,1393.6L458.1,1396.6L456.8,1397.4L451.6,1400.3L446.5,1402.6L446.5,1402.6L441.3,1404.5L436.1,1406.1L430.9,1407.6L426.8,1408.7L425.7,1408.9L420.5,1410.1L415.4,1411.3L410.2,1412.4L405.0,1413.6L400.4,1414.8L399.8,1414.9L394.6,1416.1L389.4,1417.6L384.3,1419.2L379.3,1420.8L379.1,1420.9L373.9,1422.5L368.7,1424.3L363.5,1426.2L361.7,1426.9L358.3,1428.1L353.2,1430.1L348.0,1432.2L346.3,1432.9L342.8,1434.5L337.6,1437.2L334.7,1439.0L332.4,1440.4L327.2,1444.3L326.3,1445.1L322.1,1449.1L320.2,1451.1L316.9,1455.8L316.0,1457.2L313.4,1463.2L312.2,1469.3L311.8,1475.4L312.1,1481.4L313.6,1487.5L316.9,1493.5L316.9,1493.5L321.2,1499.6L322.1,1500.6L326.2,1505.7L327.2,1506.9L331.5,1511.7L332.4,1512.7L337.2,1517.8L337.6,1518.2L342.8,1523.6L343.0,1523.8L348.0,1528.9L348.9,1529.9L353.2,1534.4L354.4,1536.0L358.3,1540.7L359.2,1542.0L363.5,1547.7L363.8,1548.1L368.7,1554.1L368.7,1554.2L373.9,1559.6L374.5,1560.2L379.1,1564.3L381.5,1566.3L384.3,1568.3L389.4,1571.7L390.4,1572.3L394.6,1574.6L399.8,1576.9L403.8,1578.4ZM927.9,1566.3L928.5,1571.2L928.5,1566.3L928.5,1560.2L928.5,1554.1L928.5,1548.1L928.5,1542.0L928.5,1536.0L928.5,1529.9L928.5,1523.8L928.5,1517.8L928.5,1511.7L928.5,1505.7L928.5,1499.6L928.5,1493.5L928.5,1487.5L928.5,1481.4L928.5,1475.4L928.5,1469.3L928.5,1463.2L928.5,1457.2L928.5,1451.1L928.5,1445.1L928.5,1439.8L926.3,1439.0L923.3,1437.7L918.1,1433.5L917.6,1432.9L913.3,1426.9L913.0,1426.4L909.9,1420.8L907.8,1416.8L906.8,1414.8L903.3,1408.7L902.6,1407.7L898.8,1402.6L897.4,1401.1L892.5,1396.6L892.2,1396.4L887.0,1393.8L881.9,1393.7L876.7,1395.4L874.4,1396.6L871.5,1398.7L867.3,1402.6L866.3,1404.3L864.1,1408.7L863.4,1414.8L864.3,1420.8L865.9,1426.9L866.3,1428.0L868.1,1432.9L871.3,1439.0L871.5,1439.2L875.7,1445.1L876.7,1446.2L881.0,1451.1L881.9,1452.0L887.0,1456.9L887.4,1457.2L892.2,1461.3L894.4,1463.2L897.4,1466.7L899.1,1469.3L902.1,1475.4L902.6,1476.5L904.3,1481.4L906.2,1487.5L907.8,1492.7L908.0,1493.5L909.8,1499.6L911.7,1505.7L913.0,1508.6L914.1,1511.7L916.6,1517.8L918.1,1522.0L918.7,1523.8L920.5,1529.9L922.1,1536.0L923.3,1540.8L923.6,1542.0L925.1,1548.1L926.2,1554.1L927.1,1560.2L927.9,1566.3Z"/>
<path fill="#00c864" fill-rule="evenodd" d="M627.1,1639.0L627.9,1639.1L628.1,1639.0L633.1,1637.0L636.3,1632.9L638.2,1629.4L639.2,1626.8L641.1,1620.8L642.8,1614.7L643.4,1612.5L644.4,1608.7L646.0,1602.6L647.6,1596.6L648.6,1592.9L649.3,1590.5L651.1,1584.4L652.9,1578.4L653.8,1575.8L655.1,1572.3L658.1,1566.3L659.0,1564.8L662.0,1560.2L664.2,1557.6L667.2,1554.1L669.3,1552.1L672.5,1548.1L674.5,1545.5L676.2,1542.0L678.4,1536.0L679.3,1529.9L679.4,1523.8L679.0,1517.8L677.9,1511.7L675.1,1505.7L674.5,1504.8L669.3,1503.1L664.2,1504.2L660.4,1505.7L659.0,1506.3L653.8,1510.0L652.3,1511.7L648.6,1516.4L647.8,1517.8L644.1,1523.8L643.4,1525.0L640.5,1529.9L638.2,1533.4L636.5,1536.0L633.1,1540.4L631.8,1542.0L627.9,1546.6L626.8,1548.1L622.7,1553.4L622.2,1554.1L618.5,1560.2L617.5,1562.0L615.6,1566.3L613.3,1572.3L612.3,1575.2L611.5,1578.4L610.3,1584.4L609.5,1590.5L609.1,1596.6L608.7,1602.6L608.7,1608.7L609.0,1614.7L609.7,1620.8L610.9,1626.8L612.3,1630.5L613.9,1632.9L617.5,1636.0L622.7,1638.3L627.1,1639.0ZM427.7,1572.3L430.9,1573.1L436.1,1574.1L441.3,1574.7L446.5,1574.7L451.6,1574.3L456.8,1573.5L461.7,1572.3L462.0,1572.2L467.2,1570.2L472.4,1566.9L473.1,1566.3L477.6,1561.7L478.9,1560.2L482.7,1554.2L482.8,1554.1L486.0,1548.1L487.9,1542.9L488.3,1542.0L489.9,1536.0L490.8,1529.9L491.2,1523.8L491.5,1517.8L491.5,1511.7L491.2,1505.7L490.5,1499.6L489.4,1493.5L488.0,1487.5L487.9,1487.3L486.5,1481.4L484.5,1475.4L482.7,1471.0L482.0,1469.3L478.6,1463.2L477.6,1461.5L474.3,1457.2L472.4,1454.8L468.6,1451.1L467.2,1449.8L462.0,1446.1L460.2,1445.1L456.8,1443.4L451.6,1441.4L446.5,1439.9L442.6,1439.0L441.3,1438.7L436.1,1437.8L430.9,1437.2L425.7,1436.7L420.5,1436.6L415.4,1436.8L410.2,1437.2L405.0,1437.8L399.8,1438.8L398.9,1439.0L394.6,1440.1L389.4,1441.9L384.3,1443.9L381.4,1445.1L379.1,1446.0L373.9,1448.3L368.7,1450.8L368.2,1451.1L363.5,1453.9L358.6,1457.2L358.3,1457.4L353.2,1462.6L352.6,1463.2L349.3,1469.3L348.0,1473.8L347.5,1475.4L346.9,1481.4L348.0,1487.1L348.1,1487.5L351.2,1493.5L353.2,1496.1L355.5,1499.6L358.3,1503.4L359.7,1505.7L363.3,1511.7L363.5,1512.1L366.4,1517.8L368.7,1522.2L369.5,1523.8L372.6,1529.9L373.9,1532.2L375.9,1536.0L379.1,1540.7L380.0,1542.0L384.3,1547.3L384.9,1548.1L389.4,1552.6L391.1,1554.1L394.6,1557.1L399.0,1560.2L399.8,1560.7L405.0,1563.8L410.0,1566.3L410.2,1566.3L415.4,1568.5L420.5,1570.3L425.7,1571.8L427.7,1572.3ZM654.0,1360.2L659.0,1361.0L664.2,1361.4L669.3,1361.6L674.5,1361.7L679.7,1361.4L684.9,1360.9L690.1,1360.3L690.4,1360.2L695.3,1359.8L700.4,1359.3L705.6,1358.7L710.8,1358.0L716.0,1357.2L721.2,1356.1L726.4,1354.8L728.3,1354.2L731.5,1353.2L736.7,1351.3L741.9,1348.6L742.6,1348.1L747.1,1343.8L748.3,1342.0L750.5,1336.0L751.2,1329.9L751.2,1323.9L750.9,1317.8L749.7,1311.7L747.3,1305.7L747.1,1305.2L743.3,1299.6L741.9,1297.8L737.7,1293.6L736.7,1292.6L731.5,1288.6L729.9,1287.5L726.4,1285.2L721.2,1282.5L718.8,1281.4L716.0,1280.2L710.8,1278.5L705.6,1276.9L700.4,1275.5L700.1,1275.4L695.3,1274.1L690.1,1272.9L684.9,1271.8L679.7,1270.7L674.5,1269.6L673.6,1269.3L669.3,1268.1L664.2,1266.5L659.0,1264.6L655.6,1263.3L653.8,1262.5L648.6,1260.0L643.4,1257.4L643.1,1257.2L638.2,1254.9L633.1,1252.7L629.3,1251.1L627.9,1250.6L622.7,1248.8L617.5,1247.0L612.3,1245.4L611.3,1245.1L607.1,1243.9L602.0,1242.4L596.8,1241.0L591.6,1239.9L586.9,1239.0L586.4,1238.9L581.2,1238.1L576.0,1237.3L570.9,1236.6L565.7,1235.8L560.5,1235.0L555.3,1234.1L550.1,1233.5L544.9,1233.8L539.8,1235.5L534.7,1239.0L534.6,1239.1L531.0,1245.1L529.4,1250.7L529.3,1251.1L528.6,1257.2L528.7,1263.3L529.4,1267.6L529.7,1269.3L531.3,1275.4L533.0,1281.4L534.3,1287.5L534.6,1290.6L534.8,1293.6L534.9,1299.6L535.1,1305.7L535.8,1311.7L537.6,1317.8L539.8,1321.5L541.5,1323.9L544.9,1327.1L549.7,1329.9L550.1,1330.2L555.3,1332.5L560.5,1334.0L565.7,1335.2L570.3,1336.0L570.9,1336.2L576.0,1337.5L581.2,1338.7L586.4,1339.8L591.6,1340.8L596.8,1341.8L597.7,1342.0L602.0,1343.6L607.1,1345.4L612.3,1347.1L615.3,1348.1L617.5,1349.0L622.7,1351.0L627.9,1352.7L632.6,1354.2L633.1,1354.3L638.2,1356.2L643.4,1357.9L648.6,1359.3L653.8,1360.2L654.0,1360.2Z"/>
<path fill="#009632" fill-rule="evenodd" d="M431.7,1554.1L436.1,1555.8L441.3,1557.0L446.5,1557.1L451.6,1556.3L456.8,1554.8L458.3,1554.1L462.0,1552.4L467.2,1548.2L467.3,1548.1L471.6,1542.0L472.4,1540.2L474.0,1536.0L474.8,1529.9L474.9,1523.8L474.6,1517.8L473.7,1511.7L472.4,1506.9L471.9,1505.7L468.8,1499.6L467.2,1497.3L463.6,1493.5L462.0,1491.9L456.8,1488.3L455.4,1487.5L451.6,1485.2L446.5,1482.7L443.0,1481.4L441.3,1480.7L436.1,1479.3L430.9,1478.1L425.7,1477.2L420.5,1476.7L415.4,1477.0L410.2,1477.9L405.0,1479.7L402.5,1481.4L399.8,1484.2L397.9,1487.5L396.6,1493.5L396.5,1499.6L396.8,1505.7L397.7,1511.7L399.1,1517.8L399.8,1519.9L401.0,1523.8L403.2,1529.9L405.0,1533.1L406.5,1536.0L410.2,1540.1L411.9,1542.0L415.4,1544.7L420.1,1548.1L420.5,1548.3L425.7,1551.3L430.9,1553.8L431.7,1554.1ZM577.5,1317.8L581.2,1319.1L586.4,1320.5L591.6,1321.5L596.8,1322.1L602.0,1322.5L607.1,1322.9L612.3,1323.1L617.5,1323.2L622.7,1323.2L627.9,1323.2L633.1,1323.1L638.2,1322.9L643.4,1322.5L648.6,1321.6L653.7,1317.8L653.6,1311.7L648.7,1305.7L648.6,1305.6L643.4,1303.1L638.2,1301.2L633.1,1299.7L632.7,1299.6L627.9,1298.7L622.7,1297.8L617.5,1297.1L612.3,1296.6L607.1,1296.2L602.0,1295.9L596.8,1295.8L591.6,1296.1L586.4,1297.1L581.2,1298.8L579.4,1299.6L576.0,1301.5L570.9,1305.3L570.5,1305.7L569.6,1311.7L570.9,1313.0L576.0,1316.9L577.5,1317.8Z"/>
<path fill="#006400" fill-rule="evenodd" d="M435.3,1536.0L436.1,1536.6L441.3,1539.2L446.5,1539.4L451.6,1537.4L453.8,1536.0L456.8,1530.5L457.1,1529.9L456.9,1523.8L456.8,1523.5L455.1,1517.8L451.6,1512.3L451.1,1511.7L446.5,1508.8L441.3,1507.9L436.1,1510.0L434.2,1511.7L431.5,1517.8L431.1,1523.8L431.9,1529.9L435.3,1536.0Z"/>
<path fill="#fffac8" fill-rule="evenodd" d="M128.9,1784.4L130.3,1784.4L135.5,1784.4L140.6,1784.4L145.8,1784.4L151.0,1784.4L156.2,1784.4L161.4,1784.4L166.6,1784.4L171.7,1784.4L176.9,1784.4L182.1,1784.4L187.3,1784.4L192.5,1784.4L197.7,1784.4L202.8,1784.4L208.0,1784.4L213.2,1784.4L218.4,1784.4L223.6,1784.4L228.8,1784.4L233.9,1784.4L239.1,1784.4L244.3,1784.4L249.5,1784.4L254.7,1784.4L259.9,1784.4L265.0,1784.4L270.2,1784.4L275.4,1784.4L280.6,1784.4L285.8,1784.4L291.0,1784.4L296.1,1784.4L301.3,1784.4L306.5,1784.4L311.7,1784.4L316.9,1784.4L322.1,1784.4L327.2,1784.4L332.4,1784.4L337.6,1784.4L342.8,1784.4L348.0,1784.4L353.2,1784.4L358.3,1784.4L363.5,1784.4L368.7,1784.4L373.9,1784.4L379.1,1784.4L384.3,1784.4L389.4,1784.4L394.6,1784.4L399.8,1784.4L405.0,1784.4L410.2,1784.4L415.4,1784.4L420.5,1784.4L425.7,1784.4L430.9,1784.4L436.1,1784.4L441.3,1784.4L446.5,1784.4L451.6,1784.4L456.8,1784.4L462.0,1784.4L467.2,1784.4L472.4,1784.4L477.6,1784.4L482.7,1784.4L487.9,1784.4L493.1,1784.4L498.3,1784.4L503.5,1784.4L508.7,1784.4L513.8,1784.4L519.0,1784.4L524.2,1784.4L529.4,1784.4L534.6,1784.4L539.8,1784.4L544.9,1784.4L550.1,1784.4L555.3,1784.4L560.5,1784.4L565.7,1784.4L570.9,1784.4L576.0,1784.4L581.2,1784.4L586.4,1784.4L591.6,1784.4L596.8,1784.4L602.0,1784.4L607.1,1784.4L612.3,1784.4L617.5,1784.4L622.7,1784.4L627.9,1784.4L633.1,1784.4L638.2,1784.4L643.4,1784.4L648.6,1784.4L653.8,1784.4L659.0,1784.4L664.2,1784.4L669.3,1784.4L674.5,1784.4L679.7,1784.4L684.9,1784.4L690.1,1784.4L695.3,1784.4L700.4,1784.4L705.6,1784.4L710.8,1784.4L716.0,1784.4L721.2,1784.4L726.4,1784.4L731.5,1784.4L736.7,1784.4L741.9,1784.4L747.1,1784.4L752.3,1784.4L757.5,1784.4L762.6,1784.4L767.8,1784.4L773.0,1784.4L778.2,1784.4L783.4,1784.4L788.6,1784.4L793.7,1784.4L798.9,1784.4L804.1,1784.4L809.3,1784.4L814.5,1784.4L819.7,1784.4L824.8,1784.4L830.0,1784.4L835.2,1784.4L840.4,1784.4L842.1,1784.4L845.6,1780.9L850.8,1784.3L850.8,1784.4L855.9,1784.4L861.1,1784.4L866.3,1784.4L871.5,1784.4L876.7,1784.4L881.9,1784.4L887.0,1784.4L892.2,1784.4L897.4,1784.4L902.6,1784.4L907.8,1784.4L913.0,1784.4L914.7,1784.4L915.7,1778.3L917.2,1772.3L918.1,1768.9L919.0,1766.2L921.1,1760.2L923.3,1754.4L923.5,1754.1L927.0,1748.0L928.5,1745.6L928.5,1742.0L928.5,1735.9L928.5,1729.9L928.5,1723.8L928.5,1717.7L928.5,1711.7L928.5,1705.6L928.5,1699.6L928.5,1693.5L928.5,1687.4L928.5,1681.4L928.5,1675.3L928.5,1669.3L928.5,1663.2L928.5,1657.1L928.5,1651.1L928.5,1645.0L928.5,1639.0L928.5,1632.9L928.5,1626.8L928.5,1620.8L928.5,1617.9L927.6,1614.7L925.9,1608.7L924.4,1602.6L923.3,1597.7L923.1,1596.6L922.2,1590.5L921.4,1584.4L920.6,1578.4L919.6,1572.3L918.5,1566.3L918.1,1564.7L917.1,1560.2L915.4,1554.1L913.0,1548.2L912.9,1548.1L909.4,1542.0L907.8,1539.5L904.9,1536.0L902.6,1532.9L899.7,1529.9L897.4,1527.2L893.9,1523.8L892.2,1522.3L887.0,1518.3L886.2,1517.8L881.9,1514.5L877.8,1511.7L876.7,1510.6L871.5,1505.7L871.4,1505.7L866.3,1499.8L866.1,1499.6L861.1,1494.1L860.5,1493.5L855.9,1488.9L854.5,1487.5L850.8,1483.8L848.5,1481.4L845.6,1478.3L843.1,1475.4L840.4,1472.2L838.0,1469.3L835.2,1465.9L832.9,1463.2L830.0,1459.9L827.5,1457.2L824.8,1454.3L821.6,1451.1L819.7,1449.3L814.5,1445.1L814.5,1445.0L809.3,1441.5L804.1,1439.5L798.9,1439.4L793.7,1441.1L788.6,1444.1L787.3,1445.1L783.4,1448.2L780.6,1451.1L778.2,1453.8L775.8,1457.2L773.0,1461.3L771.8,1463.2L768.5,1469.3L767.8,1470.5L765.4,1475.4L762.6,1481.4L762.6,1481.4L759.6,1487.5L757.5,1491.6L756.3,1493.5L752.5,1499.6L752.3,1500.0L748.2,1505.7L747.1,1507.3L743.8,1511.7L741.9,1514.5L739.3,1517.8L736.7,1521.4L734.7,1523.8L731.5,1527.8L729.8,1529.9L726.4,1534.9L725.7,1536.0L723.4,1542.0L721.9,1548.1L721.2,1551.3L720.7,1554.1L719.4,1560.2L717.7,1566.3L716.0,1571.5L715.7,1572.3L713.6,1578.4L710.9,1584.4L710.8,1584.6L707.3,1590.5L705.6,1593.0L703.2,1596.6L700.4,1600.4L698.9,1602.6L695.3,1608.0L694.8,1608.7L691.1,1614.7L690.1,1616.5L687.6,1620.8L684.9,1625.9L684.4,1626.8L681.7,1632.9L679.7,1638.8L679.7,1639.0L678.3,1645.0L677.1,1651.1L675.8,1657.1L674.5,1662.5L674.3,1663.2L672.5,1669.3L670.2,1675.3L669.3,1677.4L667.2,1681.4L664.2,1686.4L663.4,1687.4L659.2,1693.5L659.0,1693.8L654.6,1699.6L653.8,1700.7L649.2,1705.6L648.6,1706.3L643.4,1710.6L641.9,1711.7L638.2,1714.2L633.1,1717.1L631.6,1717.7L627.9,1719.3L622.7,1721.1L617.5,1723.0L615.1,1723.8L612.3,1724.5L607.1,1725.7L602.0,1726.7L596.8,1726.9L591.6,1724.5L591.0,1723.8L587.4,1717.7L586.4,1715.9L584.5,1711.7L581.5,1705.6L581.2,1705.2L577.8,1699.6L576.0,1697.4L572.2,1693.5L570.9,1692.4L565.7,1688.8L563.0,1687.4L560.5,1686.0L555.3,1683.4L551.6,1681.4L550.1,1680.2L546.0,1675.3L544.9,1673.7L542.8,1669.3L540.2,1663.2L539.8,1662.0L538.1,1657.1L536.2,1651.1L534.6,1645.6L534.4,1645.0L532.3,1639.0L529.7,1632.9L529.4,1632.3L526.4,1626.8L524.2,1623.7L522.0,1620.8L519.0,1617.6L515.9,1614.7L513.8,1613.1L508.7,1609.6L507.0,1608.7L503.5,1606.9L498.3,1604.8L493.1,1603.1L491.1,1602.6L487.9,1601.9L482.7,1601.0L477.6,1600.3L472.4,1599.8L467.2,1599.4L462.0,1599.2L456.8,1599.2L451.6,1599.2L446.5,1599.3L441.3,1599.6L436.1,1600.0L430.9,1600.5L425.7,1601.1L420.5,1601.6L415.4,1601.8L410.2,1602.0L405.0,1601.9L399.8,1601.5L394.6,1600.6L389.4,1599.1L384.3,1597.5L381.7,1596.6L379.1,1595.6L373.9,1593.5L368.7,1591.2L367.2,1590.5L363.5,1588.6L358.3,1585.6L356.5,1584.4L353.2,1582.2L348.0,1578.6L347.7,1578.4L342.8,1574.7L339.5,1572.3L337.6,1570.9L332.4,1567.3L330.8,1566.3L327.2,1563.9L322.1,1560.5L321.4,1560.2L316.9,1557.8L311.7,1556.2L306.5,1555.5L301.3,1555.1L296.1,1554.7L291.0,1554.5L285.8,1554.2L283.9,1554.1L280.6,1554.0L275.4,1554.0L273.1,1554.1L270.2,1554.3L265.0,1555.1L259.9,1556.2L254.7,1557.4L249.5,1559.0L246.0,1560.2L244.3,1560.9L239.1,1563.4L234.8,1566.3L233.9,1567.0L229.2,1572.3L228.8,1572.9L225.7,1578.4L223.6,1584.0L223.4,1584.4L222.4,1590.5L222.1,1596.6L222.0,1602.6L221.9,1608.7L221.9,1614.7L221.9,1620.8L221.9,1626.8L221.9,1632.9L221.9,1639.0L221.9,1645.0L221.8,1651.1L221.7,1657.1L221.3,1663.2L220.7,1669.3L219.8,1675.3L218.4,1681.1L218.3,1681.4L215.4,1687.4L213.2,1690.6L211.1,1693.5L208.0,1697.2L206.0,1699.6L202.8,1703.0L200.5,1705.6L197.7,1708.7L194.8,1711.7L192.5,1714.0L188.7,1717.7L187.3,1719.1L182.7,1723.8L182.1,1724.3L176.9,1729.7L176.8,1729.9L171.7,1734.4L170.2,1735.9L166.6,1738.8L163.1,1742.0L161.4,1743.4L156.4,1748.0L156.2,1748.3L151.0,1753.7L150.6,1754.1L145.8,1759.3L144.9,1760.2L140.6,1764.8L139.3,1766.2L135.5,1770.9L134.5,1772.3L131.0,1778.3L130.3,1780.2L128.9,1784.4ZM817.6,1354.2L819.7,1354.5L824.8,1355.3L830.0,1356.1L835.2,1356.8L840.4,1357.3L845.6,1357.2L850.8,1356.3L855.9,1354.8L857.8,1354.2L861.1,1353.0L866.3,1351.0L871.5,1348.6L872.4,1348.1L876.7,1345.6L881.9,1342.2L882.2,1342.0L887.0,1338.9L892.2,1336.7L895.6,1336.0L897.4,1335.5L902.6,1334.5L907.8,1333.5L913.0,1332.3L918.1,1331.0L922.2,1329.9L923.3,1329.6L928.5,1328.3L928.5,1323.9L928.5,1317.8L928.5,1311.7L928.5,1305.7L928.5,1299.6L928.5,1293.6L928.5,1287.5L928.5,1281.4L928.5,1275.4L928.5,1269.3L928.5,1263.3L928.5,1257.2L928.5,1251.1L928.5,1245.1L928.5,1239.0L928.5,1233.0L928.5,1226.9L928.5,1220.9L928.5,1214.8L928.5,1208.7L928.5,1202.7L928.5,1196.6L928.5,1190.6L928.5,1184.5L928.5,1182.6L923.3,1182.6L918.1,1182.6L913.0,1182.6L907.8,1182.6L902.6,1182.6L897.4,1182.6L892.2,1182.7L887.0,1183.0L881.9,1183.8L878.6,1184.5L876.7,1184.9L871.5,1186.3L866.3,1188.0L861.1,1190.0L859.8,1190.6L855.9,1192.3L850.8,1195.0L848.1,1196.6L845.6,1198.2L840.4,1202.0L839.6,1202.7L835.2,1206.0L832.1,1208.7L830.0,1210.1L824.8,1214.1L824.0,1214.8L819.7,1217.6L815.2,1220.9L814.5,1221.3L809.3,1225.0L806.8,1226.9L804.1,1229.0L799.7,1233.0L798.9,1233.8L794.6,1239.0L793.7,1240.3L791.1,1245.1L788.6,1251.1L788.5,1251.1L786.6,1257.2L784.7,1263.3L783.4,1267.5L782.9,1269.3L781.5,1275.4L780.4,1281.4L779.5,1287.5L778.7,1293.6L778.2,1298.8L778.1,1299.6L777.8,1305.7L777.9,1311.7L778.2,1313.9L778.7,1317.8L780.1,1323.9L781.9,1329.9L783.4,1333.6L784.5,1336.0L788.6,1341.9L788.7,1342.0L793.7,1346.6L796.1,1348.1L798.9,1349.7L804.1,1351.7L809.3,1352.9L814.5,1353.7L817.6,1354.2ZM569.7,1172.4L570.9,1172.6L576.0,1173.4L581.2,1174.3L586.4,1175.2L591.6,1175.9L596.8,1176.3L602.0,1176.4L607.1,1176.5L612.3,1176.5L617.5,1176.3L622.7,1176.1L627.9,1175.7L633.1,1175.1L638.2,1174.2L643.4,1173.1L646.8,1172.4L648.6,1171.9L653.8,1170.4L659.0,1168.8L664.2,1167.2L666.6,1166.3L669.3,1164.8L674.5,1161.8L676.8,1160.3L679.7,1156.2L681.1,1154.2L683.4,1148.1L684.9,1143.3L685.3,1142.1L687.4,1136.0L689.8,1130.0L690.1,1129.2L692.2,1123.9L692.9,1117.8L690.1,1114.7L686.4,1111.8L684.9,1111.3L679.7,1109.9L674.5,1108.8L669.3,1108.1L664.2,1107.6L659.0,1107.2L653.8,1106.9L648.6,1106.8L643.4,1106.7L638.2,1106.6L633.1,1106.2L628.6,1105.7L627.9,1105.6L622.7,1104.9L617.5,1104.2L612.3,1103.3L607.1,1102.4L602.0,1101.5L596.8,1100.6L591.6,1099.8L590.3,1099.7L586.4,1099.3L581.2,1098.9L576.0,1098.5L570.9,1098.3L565.7,1098.2L560.5,1098.1L555.3,1097.9L550.1,1097.1L544.9,1095.3L541.7,1093.6L539.8,1092.6L534.6,1089.6L531.6,1087.5L529.4,1086.0L524.2,1081.9L523.7,1081.5L519.0,1077.3L516.9,1075.4L513.8,1072.5L510.1,1069.4L508.7,1067.8L503.6,1063.3L503.5,1063.3L498.3,1063.3L493.1,1063.3L487.9,1063.3L482.7,1063.3L477.6,1063.3L472.4,1063.3L467.2,1063.3L462.0,1063.3L456.8,1063.3L456.1,1063.3L451.6,1068.2L450.8,1069.4L446.5,1074.3L445.7,1075.4L441.8,1081.5L441.3,1082.4L438.9,1087.5L436.5,1093.6L436.1,1094.9L434.6,1099.7L433.2,1105.7L432.8,1111.8L433.9,1117.8L436.1,1122.8L436.6,1123.9L440.7,1130.0L441.3,1130.6L446.4,1136.0L446.5,1136.1L451.6,1140.6L453.4,1142.1L456.8,1144.7L461.3,1148.1L462.0,1148.6L467.2,1152.6L469.2,1154.2L472.4,1156.5L477.6,1159.9L478.2,1160.3L482.7,1162.1L487.9,1163.5L493.1,1164.6L498.3,1165.5L503.5,1166.1L505.4,1166.3L508.7,1166.5L513.8,1166.7L519.0,1166.9L524.2,1167.1L529.4,1167.3L534.6,1167.6L539.8,1167.9L544.9,1168.3L550.1,1168.9L555.3,1169.6L560.5,1170.5L565.7,1171.6L569.7,1172.4Z"/>
<path fill="#ffc864" fill-rule="evenodd" d="M148.6,1784.4L151.0,1784.4L156.2,1784.4L161.4,1784.4L166.6,1784.4L171.7,1784.4L176.9,1784.4L182.1,1784.4L187.3,1784.4L192.5,1784.4L197.7,1784.4L202.8,1784.4L208.0,1784.4L213.2,1784.4L218.4,1784.4L223.6,1784.4L228.8,1784.4L233.9,1784.4L239.1,1784.4L244.3,1784.4L249.5,1784.4L254.7,1784.4L259.9,1784.4L265.0,1784.4L270.2,1784.4L275.4,1784.4L280.6,1784.4L285.8,1784.4L291.0,1784.4L296.1,1784.4L301.3,1784.4L306.5,1784.4L311.7,1784.4L316.9,1784.4L322.1,1784.4L327.2,1784.4L332.4,1784.4L337.6,1784.4L342.8,1784.4L348.0,1784.4L353.2,1784.4L358.3,1784.4L363.5,1784.4L368.7,1784.4L373.9,1784.4L379.1,1784.4L384.3,1784.4L389.4,1784.4L394.6,1784.4L399.8,1784.4L405.0,1784.4L410.2,1784.4L415.4,1784.4L420.5,1784.4L425.7,1784.4L430.9,1784.4L436.1,1784.4L441.3,1784.4L446.5,1784.4L451.6,1784.4L456.8,1784.4L462.0,1784.4L467.2,1784.4L472.4,1784.4L477.6,1784.4L482.7,1784.4L487.9,1784.4L493.1,1784.4L498.3,1784.4L503.5,1784.4L508.7,1784.4L513.8,1784.4L519.0,1784.4L524.2,1784.4L529.4,1784.4L534.6,1784.4L539.8,1784.4L544.9,1784.4L550.1,1784.4L555.3,1784.4L560.5,1784.4L565.7,1784.4L570.9,1784.4L576.0,1784.4L581.2,1784.4L586.4,1784.4L591.6,1784.4L596.8,1784.4L602.0,1784.4L607.1,1784.4L612.3,1784.4L617.5,1784.4L622.7,1784.4L627.9,1784.4L633.1,1784.4L638.2,1784.4L643.4,1784.4L648.6,1784.4L653.8,1784.4L659.0,1784.4L664.2,1784.4L669.3,1784.4L674.5,1784.4L679.7,1784.4L684.9,1784.4L690.1,1784.4L695.3,1784.4L700.4,1784.4L705.6,1784.4L710.8,1784.4L716.0,1784.4L721.2,1784.4L726.4,1784.4L731.5,1784.4L736.7,1784.4L741.9,1784.4L747.1,1784.4L752.3,1784.4L757.5,1784.4L762.6,1784.4L767.8,1784.4L773.0,1784.4L778.2,1784.4L783.4,1784.4L788.6,1784.4L793.7,1784.4L798.9,1784.4L804.1,1784.4L809.3,1784.4L814.5,1784.4L819.7,1784.4L824.8,1784.4L830.0,1784.4L835.2,1784.4L835.7,1784.4L838.1,1778.3L840.4,1774.3L843.1,1772.3L845.6,1770.6L850.8,1772.2L850.9,1772.3L855.9,1778.3L855.9,1778.4L858.4,1784.4L861.1,1784.4L866.3,1784.4L871.5,1784.4L876.7,1784.4L881.9,1784.4L887.0,1784.4L892.2,1784.4L897.4,1784.4L902.6,1784.4L907.8,1784.4L908.8,1784.4L909.6,1778.3L910.8,1772.3L912.1,1766.2L913.0,1762.9L913.7,1760.2L915.4,1754.1L917.4,1748.0L918.1,1745.9L919.7,1742.0L921.9,1735.9L923.3,1731.1L923.8,1729.9L925.2,1723.8L926.1,1717.7L926.8,1711.7L927.3,1705.6L927.7,1699.6L928.1,1693.5L928.4,1687.4L928.5,1686.1L928.5,1681.4L928.5,1675.3L928.5,1669.3L928.5,1663.2L928.5,1657.1L928.5,1651.1L928.5,1645.0L928.5,1639.0L928.5,1632.9L928.5,1628.2L928.2,1626.8L926.5,1620.8L924.9,1614.7L923.5,1608.7L923.3,1607.8L922.5,1602.6L921.6,1596.6L920.8,1590.5L920.0,1584.4L919.1,1578.4L918.1,1572.6L918.1,1572.3L916.9,1566.3L915.5,1560.2L913.5,1554.1L913.0,1552.8L910.7,1548.1L907.8,1543.4L906.7,1542.0L902.6,1537.0L901.5,1536.0L897.4,1531.5L895.6,1529.9L892.2,1526.6L888.5,1523.8L887.0,1522.7L881.9,1519.4L879.1,1517.8L876.7,1516.0L871.5,1512.4L870.5,1511.7L866.3,1507.9L863.8,1505.7L861.1,1502.8L858.0,1499.6L855.9,1497.5L851.9,1493.5L850.8,1492.4L845.8,1487.5L845.6,1487.2L840.6,1481.4L840.4,1481.2L835.7,1475.4L835.2,1474.7L830.6,1469.3L830.0,1468.6L825.0,1463.2L824.8,1463.0L819.7,1457.8L818.9,1457.2L814.5,1453.1L811.8,1451.1L809.3,1449.2L804.1,1446.9L798.9,1446.9L793.7,1448.9L790.4,1451.1L788.6,1452.4L783.4,1457.2L783.4,1457.2L778.2,1463.2L778.2,1463.2L774.0,1469.3L773.0,1470.9L770.5,1475.4L767.8,1480.8L767.5,1481.4L764.5,1487.5L762.6,1491.4L761.5,1493.5L758.3,1499.6L757.5,1501.4L754.8,1505.7L752.3,1510.3L751.3,1511.7L747.6,1517.8L747.1,1518.7L743.9,1523.8L741.9,1527.1L740.0,1529.9L736.7,1535.7L736.5,1536.0L733.6,1542.0L731.5,1548.0L731.5,1548.1L729.6,1554.1L727.7,1560.2L726.4,1563.9L725.5,1566.3L723.3,1572.3L721.2,1577.5L720.8,1578.4L718.0,1584.4L716.0,1587.6L714.3,1590.5L710.8,1595.4L710.0,1596.6L705.7,1602.6L705.6,1602.7L701.5,1608.7L700.4,1610.4L697.7,1614.7L695.3,1618.9L694.2,1620.8L690.9,1626.8L690.1,1628.6L688.1,1632.9L686.2,1639.0L684.9,1645.0L684.9,1645.1L683.9,1651.1L683.0,1657.1L681.8,1663.2L680.5,1669.3L679.7,1672.8L679.0,1675.3L677.1,1681.4L674.7,1687.4L674.5,1687.8L671.5,1693.5L669.3,1697.4L668.0,1699.6L664.2,1705.6L664.2,1705.6L659.9,1711.7L659.0,1713.0L655.0,1717.7L653.8,1719.1L648.6,1723.5L648.1,1723.8L643.4,1726.2L638.2,1728.6L635.0,1729.9L633.1,1730.4L627.9,1731.5L622.7,1732.4L617.5,1733.3L612.3,1734.0L607.1,1734.5L602.0,1734.9L596.8,1734.8L591.6,1733.2L586.6,1729.9L586.4,1729.6L582.8,1723.8L581.2,1720.8L579.7,1717.7L576.4,1711.7L576.0,1711.1L572.6,1705.6L570.9,1703.4L567.6,1699.6L565.7,1697.8L560.5,1693.9L559.8,1693.5L555.3,1690.9L550.1,1688.2L549.0,1687.4L544.9,1684.2L541.9,1681.4L539.8,1678.2L537.9,1675.3L535.0,1669.3L534.6,1668.2L532.6,1663.2L530.3,1657.1L529.4,1654.7L528.2,1651.1L525.9,1645.0L524.2,1641.1L523.2,1639.0L519.7,1632.9L519.0,1631.8L515.2,1626.8L513.8,1625.3L509.3,1620.8L508.7,1620.2L503.5,1616.1L501.4,1614.7L498.3,1612.8L493.1,1610.2L489.6,1608.7L487.9,1608.1L482.7,1606.4L477.6,1605.0L472.4,1604.0L467.2,1603.2L462.0,1602.8L457.7,1602.6L456.8,1602.6L451.6,1602.5L446.5,1602.6L446.4,1602.6L441.3,1602.9L436.1,1603.5L430.9,1604.3L425.7,1605.2L420.5,1606.0L415.4,1606.6L410.2,1607.0L405.0,1607.4L399.8,1607.3L394.6,1606.6L389.4,1605.5L384.3,1604.1L379.4,1602.6L379.1,1602.5L373.9,1600.8L368.7,1599.0L363.5,1596.8L362.9,1596.6L358.3,1594.5L353.2,1591.8L350.9,1590.5L348.0,1588.7L342.8,1585.3L341.4,1584.4L337.6,1582.0L332.4,1578.8L331.7,1578.4L327.2,1575.8L322.1,1573.0L320.4,1572.3L316.9,1570.8L311.7,1570.0L306.5,1570.4L301.3,1571.3L296.6,1572.3L296.1,1572.4L291.0,1573.8L285.8,1575.5L280.6,1577.4L278.4,1578.4L275.4,1579.8L270.2,1582.5L266.8,1584.4L265.0,1585.6L259.9,1589.8L259.2,1590.5L254.7,1596.3L254.5,1596.6L251.5,1602.6L249.5,1608.1L249.3,1608.7L247.7,1614.7L246.4,1620.8L245.5,1626.8L244.8,1632.9L244.4,1639.0L244.3,1641.7L244.2,1645.0L244.2,1651.1L244.1,1657.1L243.8,1663.2L243.4,1669.3L242.8,1675.3L241.7,1681.4L239.8,1687.4L239.1,1688.9L236.9,1693.5L233.9,1698.7L233.4,1699.6L229.3,1705.6L228.8,1706.5L224.7,1711.7L223.6,1713.0L219.4,1717.7L218.4,1718.8L213.6,1723.8L213.2,1724.1L208.0,1728.8L206.8,1729.9L202.8,1732.5L197.7,1735.9L197.6,1735.9L192.5,1738.5L187.3,1741.4L186.3,1742.0L182.1,1744.4L176.9,1748.0L176.9,1748.0L171.7,1752.1L169.5,1754.1L166.6,1757.0L163.6,1760.2L161.4,1762.7L158.6,1766.2L156.2,1769.7L154.5,1772.3L151.1,1778.3L151.0,1778.6L148.6,1784.4ZM803.5,1348.1L804.1,1348.3L809.3,1349.5L814.5,1350.3L819.7,1351.0L824.8,1351.7L830.0,1352.2L835.2,1352.8L840.4,1353.1L845.6,1352.8L850.8,1351.8L855.9,1350.1L860.8,1348.1L861.1,1347.9L866.3,1345.4L871.5,1342.3L871.8,1342.0L876.7,1338.1L879.2,1336.0L881.9,1333.0L885.1,1329.9L887.0,1327.7L892.2,1323.9L892.3,1323.9L897.4,1321.4L902.6,1319.3L906.2,1317.8L907.8,1317.0L913.0,1314.1L917.0,1311.7L918.1,1310.9L923.3,1307.3L926.6,1305.7L928.5,1304.6L928.5,1299.6L928.5,1293.6L928.5,1287.5L928.5,1281.4L928.5,1275.4L928.5,1269.3L928.5,1263.3L928.5,1257.2L928.5,1251.1L928.5,1245.1L928.5,1239.0L928.5,1233.0L928.5,1226.9L928.5,1220.9L928.5,1214.8L928.5,1208.7L928.5,1202.7L928.5,1200.8L923.3,1200.8L918.1,1200.8L913.0,1200.8L907.8,1200.8L902.6,1200.8L897.4,1200.8L892.2,1200.9L887.0,1201.5L882.7,1202.7L881.9,1202.9L876.7,1205.2L871.5,1207.8L869.8,1208.7L866.3,1210.8L861.1,1213.7L859.1,1214.8L855.9,1216.3L850.8,1218.5L845.6,1220.6L845.1,1220.9L840.4,1222.8L835.2,1225.4L832.5,1226.9L830.0,1228.3L824.8,1231.4L822.4,1233.0L819.7,1234.8L814.5,1238.6L813.9,1239.0L809.3,1242.7L806.6,1245.1L804.1,1247.5L801.0,1251.1L798.9,1253.7L796.7,1257.2L793.7,1261.9L793.0,1263.3L789.8,1269.3L788.6,1271.9L787.2,1275.4L785.2,1281.4L783.7,1287.5L783.4,1288.7L782.4,1293.6L781.4,1299.6L780.7,1305.7L780.7,1311.7L781.5,1317.8L783.0,1323.9L783.4,1324.9L785.1,1329.9L788.1,1336.0L788.6,1336.6L793.1,1342.0L793.7,1342.6L798.9,1346.2L803.5,1348.1ZM498.0,1142.1L498.3,1142.2L503.5,1143.6L508.7,1143.9L513.8,1142.2L514.0,1142.1L518.9,1136.0L519.0,1135.7L520.9,1130.0L521.7,1123.9L521.4,1117.8L519.3,1111.8L519.0,1111.3L515.2,1105.7L513.8,1104.3L508.9,1099.7L508.7,1099.5L503.5,1096.3L498.3,1094.2L495.8,1093.6L493.1,1092.9L487.9,1092.2L482.7,1092.8L480.4,1093.6L477.6,1094.7L472.4,1097.6L469.7,1099.7L467.2,1101.9L463.9,1105.7L462.0,1111.4L461.9,1111.8L462.0,1112.1L464.1,1117.8L467.2,1121.4L469.5,1123.9L472.4,1126.5L476.4,1130.0L477.6,1131.0L482.7,1134.9L484.6,1136.0L487.9,1138.0L493.1,1140.2L498.0,1142.1Z"/>
<path fill="#ff9600" fill-rule="evenodd" d="M172.8,1784.4L176.9,1784.4L182.1,1784.4L187.3,1784.4L192.5,1784.4L197.7,1784.4L202.8,1784.4L208.0,1784.4L213.2,1784.4L218.4,1784.4L223.6,1784.4L228.8,1784.4L233.9,1784.4L239.1,1784.4L244.3,1784.4L249.5,1784.4L254.7,1784.4L259.9,1784.4L265.0,1784.4L270.2,1784.4L275.4,1784.4L280.6,1784.4L285.8,1784.4L291.0,1784.4L296.1,1784.4L301.3,1784.4L306.5,1784.4L311.7,1784.4L316.9,1784.4L322.1,1784.4L327.2,1784.4L332.4,1784.4L337.6,1784.4L342.8,1784.4L348.0,1784.4L353.2,1784.4L358.3,1784.4L363.5,1784.4L368.7,1784.4L373.9,1784.4L379.1,1784.4L384.3,1784.4L389.4,1784.4L394.6,1784.4L399.8,1784.4L405.0,1784.4L410.2,1784.4L415.4,1784.4L420.5,1784.4L425.7,1784.4L430.9,1784.4L436.1,1784.4L441.3,1784.4L446.5,1784.4L451.6,1784.4L456.8,1784.4L462.0,1784.4L467.2,1784.4L472.4,1784.4L477.6,1784.4L482.7,1784.4L487.9,1784.4L493.1,1784.4L498.3,1784.4L503.5,1784.4L508.7,1784.4L513.8,1784.4L519.0,1784.4L524.2,1784.4L529.4,1784.4L534.6,1784.4L539.8,1784.4L544.9,1784.4L550.1,1784.4L555.3,1784.4L560.5,1784.4L565.7,1784.4L570.9,1784.4L576.0,1784.4L581.2,1784.4L586.4,1784.4L591.6,1784.4L596.8,1784.4L602.0,1784.4L607.1,1784.4L612.3,1784.4L617.5,1784.4L622.7,1784.4L627.9,1784.4L633.1,1784.4L638.2,1784.4L643.4,1784.4L648.6,1784.4L653.8,1784.4L659.0,1784.4L664.2,1784.4L669.3,1784.4L674.5,1784.4L679.7,1784.4L684.9,1784.4L690.1,1784.4L695.3,1784.4L700.4,1784.4L705.6,1784.4L710.8,1784.4L716.0,1784.4L721.2,1784.4L726.4,1784.4L731.5,1784.4L736.7,1784.4L741.9,1784.4L747.1,1784.4L752.3,1784.4L757.5,1784.4L762.6,1784.4L767.8,1784.4L773.0,1784.4L778.2,1784.4L783.4,1784.4L788.6,1784.4L793.7,1784.4L798.9,1784.4L804.1,1784.4L809.3,1784.4L814.5,1784.4L819.7,1784.4L824.8,1784.4L827.2,1784.4L828.7,1778.3L830.0,1774.4L830.9,1772.3L833.7,1766.2L835.2,1763.3L837.3,1760.2L840.4,1756.1L843.4,1754.1L845.6,1752.6L850.8,1752.7L853.6,1754.1L855.9,1755.4L861.1,1760.0L861.3,1760.2L865.9,1766.2L866.3,1766.9L869.1,1772.3L871.4,1778.3L871.5,1778.9L872.8,1784.4L876.7,1784.4L881.9,1784.4L887.0,1784.4L892.2,1784.4L896.9,1784.4L897.3,1778.3L897.4,1777.5L897.9,1772.3L898.6,1766.2L899.4,1760.2L900.3,1754.1L901.3,1748.0L902.6,1742.0L902.6,1741.9L904.4,1735.9L906.7,1729.9L907.8,1727.4L909.1,1723.8L911.2,1717.7L912.9,1711.7L913.0,1711.5L914.3,1705.6L915.6,1699.6L916.6,1693.5L917.6,1687.4L918.1,1683.8L918.5,1681.4L919.5,1675.3L920.4,1669.3L921.2,1663.2L921.9,1657.1L922.5,1651.1L923.0,1645.0L923.2,1639.0L922.9,1632.9L922.2,1626.8L921.4,1620.8L920.6,1614.7L919.9,1608.7L919.2,1602.6L918.5,1596.6L918.1,1592.7L917.9,1590.5L917.3,1584.4L916.4,1578.4L915.2,1572.3L913.9,1566.3L913.0,1562.9L912.1,1560.2L909.7,1554.1L907.8,1550.5L906.2,1548.1L902.6,1543.4L901.2,1542.0L897.4,1538.1L894.6,1536.0L892.2,1533.8L887.0,1530.3L886.1,1529.9L881.9,1527.4L876.7,1524.8L874.6,1523.8L871.5,1522.1L866.3,1519.1L864.1,1517.8L861.1,1515.7L855.9,1511.9L855.7,1511.7L850.8,1507.2L849.2,1505.7L845.6,1501.9L843.6,1499.6L840.4,1495.9L838.4,1493.5L835.2,1489.8L833.2,1487.5L830.0,1483.7L828.0,1481.4L824.8,1477.8L822.6,1475.4L819.7,1472.3L816.5,1469.3L814.5,1467.4L809.3,1463.3L809.2,1463.2L804.1,1460.7L798.9,1460.7L793.7,1463.2L793.7,1463.2L788.6,1467.2L786.4,1469.3L783.4,1472.4L781.0,1475.4L778.2,1479.1L776.8,1481.4L773.1,1487.5L773.0,1487.7L769.8,1493.5L767.8,1497.5L766.7,1499.6L764.0,1505.7L762.6,1509.3L761.6,1511.7L759.3,1517.8L757.5,1523.1L757.1,1523.8L754.6,1529.9L752.4,1536.0L752.3,1536.3L750.3,1542.0L748.5,1548.1L747.1,1553.1L746.8,1554.1L744.7,1560.2L742.3,1566.3L741.9,1567.1L739.6,1572.3L736.7,1578.2L736.6,1578.4L733.2,1584.4L731.5,1586.9L729.1,1590.5L726.4,1593.9L724.3,1596.6L721.2,1600.5L719.6,1602.6L716.0,1607.4L715.1,1608.7L711.1,1614.7L710.8,1615.3L707.5,1620.8L705.6,1624.3L704.2,1626.8L701.5,1632.9L700.4,1636.4L699.7,1639.0L698.8,1645.0L698.2,1651.1L697.7,1657.1L696.9,1663.2L696.0,1669.3L695.3,1672.9L694.8,1675.3L693.1,1681.4L690.7,1687.4L690.1,1688.7L687.8,1693.5L684.9,1699.4L684.8,1699.6L682.0,1705.6L679.7,1711.0L679.4,1711.7L676.6,1717.7L674.5,1722.4L673.7,1723.8L669.8,1729.9L669.3,1730.4L664.2,1734.9L662.7,1735.9L659.0,1737.9L653.8,1740.0L648.6,1741.4L646.0,1742.0L643.4,1742.4L638.2,1743.2L633.1,1743.7L627.9,1743.9L622.7,1744.0L617.5,1744.0L612.3,1743.9L607.1,1743.7L602.0,1743.5L596.8,1743.0L591.9,1742.0L591.6,1741.9L586.4,1739.4L581.2,1735.9L581.2,1735.9L576.0,1730.5L575.5,1729.9L571.7,1723.8L570.9,1722.3L568.4,1717.7L565.7,1713.5L564.4,1711.7L560.5,1706.8L559.4,1705.6L555.3,1702.0L551.9,1699.6L550.1,1698.4L544.9,1695.2L542.4,1693.5L539.8,1691.6L534.6,1687.7L534.3,1687.4L529.4,1681.9L529.0,1681.4L525.8,1675.3L524.2,1671.7L523.2,1669.3L520.8,1663.2L519.0,1659.1L518.2,1657.1L515.3,1651.1L513.8,1648.5L511.7,1645.0L508.7,1640.7L507.3,1639.0L503.5,1634.5L502.1,1632.9L498.3,1629.1L495.9,1626.8L493.1,1624.5L487.9,1620.8L487.9,1620.8L482.7,1617.6L477.6,1614.9L477.2,1614.7L472.4,1612.8L467.2,1611.2L462.0,1610.3L456.8,1609.8L451.6,1609.6L446.5,1609.6L441.3,1610.0L436.1,1611.0L430.9,1612.3L425.7,1613.9L422.6,1614.7L420.5,1615.4L415.4,1616.8L410.2,1618.2L405.0,1619.4L399.8,1620.2L394.6,1620.2L389.4,1619.6L384.3,1618.8L379.1,1617.9L373.9,1616.9L368.7,1615.8L364.5,1614.7L363.5,1614.5L358.3,1613.1L353.2,1611.6L348.0,1609.8L344.8,1608.7L342.8,1607.9L337.6,1606.1L332.4,1604.4L327.2,1603.0L325.8,1602.6L322.1,1601.7L316.9,1601.3L311.7,1602.6L311.7,1602.6L306.5,1605.6L302.4,1608.7L301.3,1609.5L296.1,1614.3L295.7,1614.7L291.0,1620.0L290.3,1620.8L286.0,1626.8L285.8,1627.2L282.8,1632.9L281.1,1639.0L280.6,1644.0L280.5,1645.0L280.3,1651.1L280.2,1657.1L279.9,1663.2L279.4,1669.3L278.7,1675.3L277.5,1681.4L275.4,1686.8L275.2,1687.4L271.9,1693.5L270.2,1696.1L268.2,1699.6L265.0,1704.7L264.5,1705.6L261.1,1711.7L259.9,1713.9L257.8,1717.7L254.7,1723.4L254.5,1723.8L251.0,1729.9L249.5,1732.2L247.0,1735.9L244.3,1739.3L242.0,1742.0L239.1,1744.9L235.4,1748.0L233.9,1749.2L228.8,1752.2L224.2,1754.1L223.6,1754.3L218.4,1755.9L213.2,1757.4L208.0,1758.9L203.7,1760.2L202.8,1760.4L197.7,1762.0L192.5,1764.0L188.6,1766.2L187.3,1767.0L182.1,1771.2L181.1,1772.3L176.9,1777.2L176.0,1778.3L172.8,1784.4ZM806.3,1342.0L809.3,1342.8L814.5,1343.5L819.7,1344.0L824.8,1344.5L830.0,1344.9L835.2,1345.3L840.4,1345.3L845.6,1344.7L850.8,1343.0L853.0,1342.0L855.9,1340.4L861.1,1337.0L862.5,1336.0L866.3,1332.3L868.5,1329.9L871.5,1325.9L872.9,1323.9L876.3,1317.8L876.7,1316.9L878.6,1311.7L879.3,1305.7L878.9,1299.6L878.1,1293.6L876.9,1287.5L876.7,1286.3L875.6,1281.4L873.8,1275.4L871.5,1269.4L871.5,1269.3L868.1,1263.3L866.3,1260.8L863.0,1257.2L861.1,1255.5L855.9,1252.0L854.1,1251.1L850.8,1249.8L845.6,1249.1L840.4,1250.1L838.0,1251.1L835.2,1252.4L830.0,1255.3L827.0,1257.2L824.8,1258.5L819.7,1261.7L817.3,1263.3L814.5,1264.9L809.3,1268.0L807.4,1269.3L804.1,1271.6L800.2,1275.4L798.9,1276.7L795.8,1281.4L793.7,1285.0L792.6,1287.5L790.1,1293.6L788.6,1298.2L788.2,1299.6L786.9,1305.7L786.5,1311.7L787.4,1317.8L788.6,1321.6L789.3,1323.9L792.0,1329.9L793.7,1332.8L796.2,1336.0L798.9,1338.5L804.1,1341.4L806.3,1342.0Z"/>
<path fill="#ff0000" fill-rule="evenodd" d="M423.6,1784.4L425.7,1784.4L430.9,1784.4L436.1,1784.4L441.3,1784.4L446.5,1784.4L451.6,1784.4L456.8,1784.4L462.0,1784.4L467.2,1784.4L472.4,1784.4L477.6,1784.4L482.7,1784.4L487.9,1784.4L493.1,1784.4L498.3,1784.4L503.5,1784.4L508.7,1784.4L513.8,1784.4L519.0,1784.4L524.2,1784.4L529.4,1784.4L534.6,1784.4L539.8,1784.4L544.9,1784.4L550.1,1784.4L555.3,1784.4L560.5,1784.4L565.7,1784.4L570.9,1784.4L576.0,1784.4L581.2,1784.4L586.4,1784.4L591.6,1784.4L596.8,1784.4L602.0,1784.4L607.1,1784.4L612.3,1784.4L617.5,1784.4L622.7,1784.4L627.9,1784.4L633.1,1784.4L638.2,1784.4L643.4,1784.4L648.6,1784.4L653.8,1784.4L659.0,1784.4L664.2,1784.4L669.3,1784.4L674.5,1784.4L679.7,1784.4L684.9,1784.4L690.1,1784.4L695.3,1784.4L700.4,1784.4L705.6,1784.4L710.8,1784.4L716.0,1784.4L721.2,1784.4L726.4,1784.4L731.5,1784.4L736.7,1784.4L741.9,1784.4L747.1,1784.4L752.3,1784.4L757.5,1784.4L762.6,1784.4L767.8,1784.4L773.0,1784.4L778.2,1784.4L783.4,1784.4L788.6,1784.4L793.7,1784.4L798.9,1784.4L804.1,1784.4L809.3,1784.4L812.5,1784.4L813.2,1778.3L814.1,1772.3L814.5,1770.5L815.3,1766.2L816.8,1760.2L818.4,1754.1L819.7,1750.3L820.5,1748.0L822.8,1742.0L824.8,1736.5L825.1,1735.9L826.7,1729.9L827.5,1723.8L827.9,1717.7L828.2,1711.7L828.4,1705.6L828.5,1699.6L828.6,1693.5L828.3,1687.4L827.5,1681.4L826.3,1675.3L825.0,1669.3L824.8,1668.6L823.8,1663.2L822.6,1657.1L821.5,1651.1L820.6,1645.0L820.5,1639.0L822.2,1632.9L824.8,1629.1L827.0,1626.8L830.0,1624.8L835.2,1622.7L840.4,1622.3L845.6,1624.8L847.4,1626.8L850.8,1631.4L851.6,1632.9L853.7,1639.0L854.5,1645.0L854.8,1651.1L855.0,1657.1L855.3,1663.2L855.7,1669.3L855.9,1672.1L856.2,1675.3L857.1,1681.4L858.6,1687.4L861.0,1693.5L861.1,1693.8L864.6,1699.6L866.3,1701.8L870.2,1705.6L871.5,1706.7L876.7,1710.0L881.9,1711.3L887.0,1709.7L890.7,1705.6L892.2,1703.9L894.6,1699.6L897.4,1693.7L897.5,1693.5L899.9,1687.4L902.1,1681.4L902.6,1680.2L904.2,1675.3L906.1,1669.3L907.7,1663.2L907.8,1663.0L909.2,1657.1L910.5,1651.1L911.6,1645.0L912.5,1639.0L913.0,1633.8L913.0,1632.9L913.2,1626.8L913.2,1620.8L913.2,1614.7L913.1,1608.7L913.0,1602.6L913.0,1601.0L912.8,1596.6L912.6,1590.5L912.0,1584.4L911.0,1578.4L909.6,1572.3L907.8,1566.3L907.8,1566.0L905.5,1560.2L902.6,1554.8L902.2,1554.1L897.4,1548.2L897.2,1548.1L892.2,1543.7L889.3,1542.0L887.0,1540.6L881.9,1538.7L876.7,1537.4L871.5,1536.3L869.7,1536.0L866.3,1534.9L861.1,1533.3L855.9,1531.4L852.3,1529.9L850.8,1529.0L845.6,1525.6L843.6,1523.8L840.4,1520.7L837.9,1517.8L835.2,1514.5L833.1,1511.7L830.0,1507.8L828.4,1505.7L824.8,1501.5L823.2,1499.6L819.7,1495.8L817.4,1493.5L814.5,1490.6L810.7,1487.5L809.3,1486.2L804.1,1483.5L798.9,1483.6L793.7,1486.6L792.7,1487.5L788.6,1491.2L786.4,1493.5L783.4,1497.1L781.5,1499.6L778.2,1504.8L777.7,1505.7L775.0,1511.7L773.0,1517.4L772.9,1517.8L771.2,1523.8L769.8,1529.9L768.8,1536.0L768.4,1542.0L768.4,1548.1L768.4,1554.1L768.4,1560.2L768.1,1566.3L767.8,1569.7L767.5,1572.3L766.5,1578.4L764.5,1584.4L762.6,1587.7L760.9,1590.5L757.5,1594.6L755.9,1596.6L752.3,1600.6L750.5,1602.6L747.1,1606.6L745.4,1608.7L741.9,1613.2L740.8,1614.7L736.7,1620.7L736.6,1620.8L733.0,1626.8L731.5,1630.2L730.3,1632.9L729.2,1639.0L729.5,1645.0L730.6,1651.1L731.5,1655.3L732.0,1657.1L733.3,1663.2L734.5,1669.3L735.4,1675.3L735.2,1681.4L731.7,1687.4L731.5,1687.6L726.4,1691.6L724.0,1693.5L721.2,1695.2L716.0,1699.3L715.7,1699.6L710.8,1704.5L709.9,1705.6L705.6,1711.1L705.2,1711.7L701.2,1717.7L700.4,1719.0L697.8,1723.8L695.3,1728.6L694.7,1729.9L691.8,1735.9L690.1,1739.5L688.7,1742.0L684.9,1747.9L684.8,1748.0L679.7,1753.4L678.8,1754.1L674.5,1756.9L669.3,1759.1L665.5,1760.2L664.2,1760.5L659.0,1761.7L653.8,1762.5L648.6,1763.1L643.4,1763.5L638.2,1763.8L633.1,1763.6L627.9,1762.7L622.7,1761.6L617.5,1760.5L616.1,1760.2L612.3,1759.3L607.1,1758.1L602.0,1756.9L596.8,1755.7L591.8,1754.1L591.6,1754.0L586.4,1751.7L581.2,1748.8L580.0,1748.0L576.0,1745.5L571.2,1742.0L570.9,1741.7L565.7,1736.5L565.1,1735.9L560.6,1729.9L560.5,1729.7L556.5,1723.8L555.3,1722.2L551.4,1717.7L550.1,1716.4L544.9,1712.2L544.2,1711.7L539.8,1708.6L535.1,1705.6L534.6,1705.3L529.4,1701.9L526.1,1699.6L524.2,1698.1L519.2,1693.5L519.0,1693.3L514.4,1687.4L513.8,1686.6L510.5,1681.4L508.7,1677.9L506.9,1675.3L503.5,1669.9L503.0,1669.3L498.3,1663.2L498.3,1663.1L493.3,1657.1L493.1,1656.9L488.0,1651.1L487.9,1651.0L482.9,1645.0L482.7,1644.9L477.9,1639.0L477.6,1638.6L472.4,1633.2L472.0,1632.9L467.2,1629.6L462.0,1627.3L460.3,1626.8L456.8,1626.1L451.6,1625.6L446.5,1625.6L441.3,1626.4L439.9,1626.8L436.1,1628.6L430.9,1632.0L429.7,1632.9L425.7,1638.0L425.0,1639.0L423.1,1645.0L422.8,1651.1L422.8,1657.1L422.9,1663.2L423.2,1669.3L423.6,1675.3L424.3,1681.4L425.7,1687.4L425.7,1687.6L427.9,1693.5L430.9,1698.8L431.4,1699.6L436.1,1705.6L436.1,1705.6L441.3,1711.0L441.9,1711.7L446.5,1716.8L447.1,1717.7L451.1,1723.8L451.6,1725.1L453.4,1729.9L453.4,1735.9L451.6,1740.2L450.9,1742.0L446.7,1748.0L446.5,1748.3L441.5,1754.1L441.3,1754.4L436.1,1760.1L436.0,1760.2L431.3,1766.2L430.9,1766.9L427.8,1772.3L425.7,1777.2L425.3,1778.3L423.6,1784.4ZM810.6,1323.9L814.5,1324.6L819.7,1325.1L824.8,1325.5L830.0,1325.6L835.2,1325.5L840.4,1324.8L842.4,1323.9L845.6,1322.1L849.7,1317.8L850.8,1315.8L852.3,1311.7L851.7,1305.7L850.8,1303.5L848.4,1299.6L845.6,1296.4L840.4,1293.9L835.2,1293.8L830.0,1294.5L824.8,1295.5L819.7,1296.6L814.5,1297.8L809.3,1299.4L808.9,1299.6L804.1,1303.0L802.3,1305.7L800.6,1311.7L802.4,1317.8L804.1,1320.2L809.3,1323.5L810.6,1323.9Z"/>
<path fill="#c80000" fill-rule="evenodd" d="M475.3,1784.4L477.6,1784.4L482.7,1784.4L487.9,1784.4L493.1,1784.4L498.3,1784.4L503.5,1784.4L508.7,1784.4L513.8,1784.4L519.0,1784.4L524.2,1784.4L529.4,1784.4L534.6,1784.4L539.8,1784.4L544.9,1784.4L550.1,1784.4L555.3,1784.4L560.5,1784.4L565.7,1784.4L570.9,1784.4L576.0,1784.4L581.2,1784.4L586.4,1784.4L591.6,1784.4L596.8,1784.4L599.7,1784.4L596.8,1782.0L592.2,1778.3L591.6,1778.0L586.4,1774.7L582.9,1772.3L581.2,1771.2L576.0,1767.8L573.7,1766.2L570.9,1764.2L565.7,1760.2L565.7,1760.2L560.5,1755.6L558.8,1754.1L555.3,1750.9L551.9,1748.0L550.1,1746.4L544.9,1742.8L543.4,1742.0L539.8,1739.9L534.6,1737.3L531.3,1735.9L529.4,1735.1L524.2,1733.7L519.0,1733.1L513.8,1733.1L508.7,1733.9L504.1,1735.9L503.5,1736.3L498.3,1740.9L497.4,1742.0L493.1,1747.5L492.8,1748.0L489.1,1754.1L487.9,1756.1L485.9,1760.2L482.9,1766.2L482.7,1766.6L480.1,1772.3L477.6,1778.0L477.4,1778.3L475.3,1784.4ZM735.4,1784.4L736.7,1784.4L741.9,1784.4L747.1,1784.4L752.3,1784.4L757.5,1784.4L762.6,1784.4L767.8,1784.4L773.0,1784.4L775.8,1784.4L773.7,1778.3L773.0,1776.9L770.1,1772.3L767.8,1769.5L763.6,1766.2L762.6,1765.5L757.5,1764.4L752.3,1765.5L750.9,1766.2L747.1,1768.4L742.4,1772.3L741.9,1772.8L737.8,1778.3L736.7,1780.7L735.4,1784.4ZM880.0,1639.0L881.9,1641.8L887.0,1643.4L890.3,1639.0L892.2,1636.4L893.6,1632.9L895.7,1626.8L897.4,1621.1L897.5,1620.8L898.8,1614.7L899.9,1608.7L900.9,1602.6L901.6,1596.6L902.0,1590.5L901.6,1584.4L900.4,1578.4L898.3,1572.3L897.4,1570.0L895.6,1566.3L892.2,1560.8L891.6,1560.2L887.0,1556.3L881.9,1554.4L878.2,1554.1L876.7,1554.0L874.5,1554.1L871.5,1554.3L866.3,1554.9L861.1,1555.7L855.9,1557.0L850.8,1558.6L846.2,1560.2L845.6,1560.5L840.4,1563.2L835.2,1566.2L835.2,1566.3L831.3,1572.3L830.7,1578.4L833.0,1584.4L835.2,1586.3L839.8,1590.5L840.4,1590.8L845.6,1594.6L847.5,1596.6L850.8,1599.4L853.8,1602.6L855.9,1605.0L859.1,1608.7L861.1,1611.4L863.7,1614.7L866.3,1618.4L868.0,1620.8L871.5,1625.9L872.2,1626.8L876.0,1632.9L876.7,1634.2L880.0,1639.0ZM800.8,1542.0L804.1,1544.9L808.0,1542.0L808.5,1536.0L804.9,1529.9L804.1,1529.1L802.0,1529.9L798.9,1533.0L798.3,1536.0L798.9,1538.9L800.8,1542.0Z"/>
<path fill="#960000" fill-rule="evenodd" d="M511.5,1784.4L513.8,1784.4L519.0,1784.4L524.2,1784.4L529.4,1784.4L534.6,1784.4L539.8,1784.4L544.9,1784.4L550.1,1784.4L555.3,1784.4L560.5,1784.4L564.7,1784.4L560.5,1779.5L559.4,1778.3L555.3,1774.7L552.0,1772.3L550.1,1771.0L544.9,1768.6L539.8,1767.2L534.6,1766.6L529.4,1766.8L524.2,1768.6L519.4,1772.3L519.0,1772.6L514.4,1778.3L513.8,1779.4L511.5,1784.4ZM875.7,1596.6L876.7,1597.6L881.9,1601.3L887.0,1599.2L888.2,1596.6L889.9,1590.5L889.8,1584.4L887.5,1578.4L887.0,1577.6L881.9,1574.7L876.7,1575.9L872.9,1578.4L871.5,1580.4L869.4,1584.4L870.9,1590.5L871.5,1591.2L875.7,1596.6Z"/>
<path d="M328.6,1289.9L480.1,1289.9L480.1,1252.8L328.6,1252.8ZM308.7,1322.9L367.6,1322.9L367.6,1275.5L308.7,1275.5ZM407.4,1322.9L502.6,1322.9L502.6,1298.2L407.4,1298.2ZM407.4,1345.6L421.3,1345.6L421.3,1322.9L407.4,1322.9ZM346.8,1434.2L367.6,1434.2L367.6,1415.6L346.8,1415.6ZM327.8,1469.2L421.3,1469.2L421.3,1436.2L327.8,1436.2ZM308.7,1506.3L480.1,1506.3L480.1,1483.6L308.7,1483.6ZM327.8,1483.6L421.3,1483.6L421.3,1469.2L327.8,1469.2ZM327.8,1551.6L480.1,1551.6L480.1,1506.3L327.8,1506.3ZM367.6,1601.0L480.1,1601.0L480.1,1551.6L367.6,1551.6ZM426.5,1619.6L518.2,1619.6L518.2,1601.0L426.5,1601.0ZM480.1,1664.9L518.2,1664.9L518.2,1619.6L480.1,1619.6ZM289.7,1761.7L364.1,1761.7L364.1,1737.0L289.7,1737.0ZM345.1,1784.4L364.1,1784.4L364.1,1761.7L345.1,1761.7ZM367.6,1737.0L403.9,1737.0L403.9,1714.4L367.6,1714.4ZM386.6,1714.4L409.1,1714.4L409.1,1691.7L386.6,1691.7ZM405.7,1761.7L421.3,1761.7L421.3,1737.0L405.7,1737.0ZM113.1,1784.4L132.1,1784.4L132.1,1761.7L113.1,1761.7ZM618.6,1528.9L635.9,1528.9L635.9,1506.3L618.6,1506.3ZM758.8,1551.6L774.4,1551.6L774.4,1531.0L758.8,1531.0Z" fill="url(#stip_c)"/>
<path d="M149.5,1063.3V1784.4M236.0,1063.3V1784.4M322.6,1063.3V1784.4M409.1,1063.3V1784.4M495.7,1063.3V1784.4M582.3,1063.3V1784.4M668.8,1063.3V1784.4M755.4,1063.3V1784.4M841.9,1063.3V1784.4M62.9,1681.4H928.5M62.9,1578.4H928.5M62.9,1475.4H928.5M62.9,1372.3H928.5M62.9,1269.3H928.5M62.9,1166.3H928.5" stroke="#a0a0a0" stroke-width="2.2" stroke-dasharray="2.0 7.3" fill="none"/>
<path d="M62.9,1119.1L90.9,1134.0L118.1,1127.2L130.6,1129.4L132.8,1121.4L129.6,1110.1L128.3,1094.4L131.8,1083.1L125.1,1080.8L122.8,1063.3M62.9,1268.7L79.7,1293.6L88.7,1314.0L104.6,1323.1L115.9,1332.2L127.3,1338.8L145.3,1343.3L156.7,1337.7L172.7,1332.2L179.4,1330.9L186.2,1338.8L190.7,1356.9L222.3,1363.7L236.0,1366.0L267.7,1370.5L299.4,1366.0L317.6,1368.2L342.5,1364.9L351.7,1368.2L362.9,1379.6L367.4,1395.4L381.1,1403.5L390.1,1415.6L402.2,1416.6L412.6,1415.6L414.3,1423.8L399.3,1428.0L391.8,1430.0L399.3,1440.3L408.3,1452.7L419.5,1458.7L435.5,1454.1L444.5,1442.8L446.7,1431.5L449.0,1429.2L453.6,1431.5L453.6,1440.5L458.1,1458.7L458.1,1481.3L460.4,1515.1L464.9,1535.5L469.4,1558.2L476.1,1576.3L485.3,1594.4L492.1,1610.3L498.5,1630.7L505.2,1644.3L514.2,1662.4L518.9,1685.1L519.9,1696.4L525.6,1707.6L532.4,1716.6L540.4,1721.1L546.1,1716.6L548.3,1707.6L557.3,1701.0L566.3,1696.4L568.6,1685.1L566.3,1676.0L575.5,1676.0L580.0,1673.8L580.0,1662.4L577.8,1639.8L584.5,1617.1L586.8,1594.4L584.5,1571.8L589.0,1562.7L600.4,1560.4L602.7,1553.6L616.2,1549.1L620.9,1540.1L625.4,1535.5L638.9,1524.2L650.3,1515.1L661.5,1506.1L670.6,1492.7L682.0,1481.3L691.0,1476.8L700.2,1465.5L702.4,1449.6L706.9,1445.1L722.8,1438.3L725.1,1433.7L727.3,1442.8L759.0,1436.0L781.7,1417.9L788.4,1426.9L795.2,1458.7L804.4,1472.3L817.9,1481.3L820.1,1488.1L822.4,1499.3L827.1,1501.5L831.6,1515.1L836.1,1531.0L833.8,1544.6L829.3,1558.2L840.6,1562.7L852.0,1560.4L865.5,1549.1L876.9,1540.1L885.9,1546.8L890.4,1558.2L892.7,1571.8L897.2,1594.4L901.8,1612.6L906.3,1630.7L904.1,1642.0L906.3,1651.1L904.1,1662.4L901.8,1685.1L899.4,1701.0L901.8,1721.1L906.3,1718.9L910.8,1725.7L917.6,1734.7L926.8,1746.1L932.0,1751.4M932.0,1613.4L929.0,1617.1L919.8,1651.1L916.4,1676.0L919.8,1696.4L927.8,1705.3L932.0,1710.2M62.9,1336.5L67.2,1347.8L65.0,1356.9L74.0,1368.2L80.7,1360.4L81.9,1352.4L86.4,1350.1L90.9,1356.9L90.9,1370.5L88.7,1379.6L84.2,1387.6L92.2,1388.6L95.4,1393.2L104.6,1394.4L111.4,1389.9L129.6,1392.1L136.3,1389.9L140.8,1383.1L150.0,1375.0L159.0,1364.9L168.0,1354.6L171.4,1349.1L174.9,1351.3L173.7,1377.3L181.7,1388.6L197.4,1400.0L213.3,1404.5L222.3,1415.8L231.5,1427.1L233.8,1426.9L224.8,1442.8L217.8,1449.6L208.8,1466.5L202.1,1467.7L197.4,1481.3L199.8,1494.9L186.2,1500.5L179.4,1508.3L174.9,1517.4L156.7,1524.2L154.5,1531.0L147.7,1537.8L138.6,1536.8L125.1,1540.1L104.6,1553.6L102.4,1567.2L62.9,1580.8M120.4,1630.7L127.3,1626.2L142.0,1629.5L134.1,1635.2L127.3,1635.2L120.4,1630.7M62.9,1651.1L72.9,1642.0L83.0,1645.3L80.7,1671.5L76.2,1680.6L75.2,1694.2L62.9,1716.6M583.5,1686.1L593.5,1696.4L602.7,1712.1L611.7,1730.2L613.9,1746.1L609.4,1757.4L600.4,1763.2L589.0,1764.2L584.5,1757.4L580.0,1743.8L577.8,1725.7L580.0,1707.6L583.5,1696.4L583.5,1686.1M845.4,1786.5L848.5,1770.6L858.7,1770.6L865.5,1777.4L888.2,1779.7L894.9,1784.2L897.3,1786.5" stroke="#000" stroke-width="1.6" fill="none" stroke-linejoin="round"/>
<rect x="236.0" y="1166.3" width="259.7" height="309.0" fill="none" stroke="#000" stroke-width="4.2"/>
<path d="M104.4,1114.8L119.4,1123.4M112.4,1111.3L119.4,1123.4L105.4,1123.4M157.8,1114.8L172.7,1123.4M165.7,1111.3L172.7,1123.4L158.7,1123.4M211.1,1114.8L227.0,1124.0M220.0,1111.9L227.0,1124.0L213.0,1124.0M264.4,1114.8L279.0,1129.4M275.4,1115.9L279.0,1129.4L265.5,1125.8M317.7,1114.8L330.9,1133.6M329.7,1119.7L330.9,1133.6L318.2,1127.7M371.1,1114.8L383.7,1136.7M383.7,1122.7L383.7,1136.7L371.6,1129.7M424.4,1114.8L433.8,1140.7M436.2,1127.0L433.8,1140.7L423.1,1131.7M477.7,1114.8L477.7,1147.0M484.7,1134.9L477.7,1147.0L470.7,1134.9M531.0,1114.8L526.6,1139.7M535.6,1129.0L526.6,1139.7L521.8,1126.6M584.3,1114.8L576.6,1131.5M588.0,1123.5L576.6,1131.5L575.3,1117.5M637.7,1114.8L627.1,1129.9M639.8,1124.0L627.1,1129.9L628.3,1115.9M691.0,1114.8L676.8,1124.7M690.8,1123.5L676.8,1124.7L682.8,1112.0M744.3,1114.8L730.4,1122.9M744.4,1122.9L730.4,1122.9L737.4,1110.7M797.6,1114.8L784.1,1121.1M798.0,1122.3L784.1,1121.1L792.1,1109.7M850.9,1114.8L836.9,1119.9M850.7,1122.4L836.9,1119.9L845.9,1109.2M904.3,1114.8L889.8,1118.7M903.3,1122.3L889.8,1118.7L899.7,1108.8M104.4,1176.6L121.4,1179.6M110.7,1170.6L121.4,1179.6L108.3,1184.4M157.8,1176.6L174.4,1181.1M164.5,1171.2L174.4,1181.1L160.9,1184.7M211.1,1176.6L228.9,1181.4M219.0,1171.5L228.9,1181.4L215.3,1185.0M264.4,1176.6L284.3,1188.1M277.3,1176.0L284.3,1188.1L270.3,1188.1M317.7,1176.6L334.0,1192.9M330.4,1179.4L334.0,1192.9L320.5,1189.3M371.1,1176.6L382.6,1196.5M382.6,1182.5L382.6,1196.5L370.4,1189.5M424.4,1176.6L434.7,1194.5M434.7,1180.5L434.7,1194.5L422.6,1187.5M477.7,1176.6L480.9,1194.7M485.7,1181.6L480.9,1194.7L471.9,1184.0M531.0,1176.6L526.6,1201.5M535.6,1190.8L526.6,1201.5L521.8,1188.4M584.3,1176.6L570.5,1200.5M582.7,1193.5L570.5,1200.5L570.5,1186.5M637.7,1176.6L624.4,1192.5M637.5,1187.7L624.4,1192.5L626.8,1178.7M691.0,1176.6L675.9,1187.2M689.9,1185.9L675.9,1187.2L681.8,1174.5M744.3,1176.6L728.1,1182.5M741.9,1184.9L728.1,1182.5L737.1,1171.8M797.6,1176.6L781.8,1173.8M792.5,1182.8L781.8,1173.8L794.9,1169.0M850.9,1176.6L836.9,1171.5M845.9,1182.2L836.9,1171.5L850.7,1169.1M904.3,1176.6L890.7,1170.3M898.7,1181.8L890.7,1170.3L904.7,1169.1M104.4,1238.4L120.3,1241.2M109.6,1232.2L120.3,1241.2L107.1,1246.0M157.8,1238.4L175.0,1238.4M162.9,1231.4L175.0,1238.4L162.9,1245.4M211.1,1238.4L229.5,1238.4M217.4,1231.4L229.5,1238.4L217.4,1245.4M264.4,1238.4L289.7,1238.4M277.6,1231.4L289.7,1238.4L277.6,1245.4M317.7,1238.4L345.3,1238.4M333.2,1231.4L345.3,1238.4L333.2,1245.4M371.1,1238.4L391.7,1236.6M379.0,1230.7L391.7,1236.6L380.2,1244.7M424.4,1238.4L440.5,1238.4M428.4,1231.4L440.5,1238.4L428.4,1245.4M477.7,1238.4L493.6,1251.7M488.8,1238.6L493.6,1251.7L479.8,1249.3M531.0,1238.4L525.5,1253.6M536.2,1244.6L525.5,1253.6L523.1,1239.8M584.3,1238.4L568.5,1251.7M582.3,1249.3L568.5,1251.7L573.3,1238.6M637.7,1238.4L618.8,1251.6M632.8,1250.4L618.8,1251.6L624.7,1238.9M691.0,1238.4L672.2,1247.2M686.2,1248.4L672.2,1247.2L680.2,1235.7M744.3,1238.4L726.5,1243.2M740.1,1246.8L726.5,1243.2L736.4,1233.3M797.6,1238.4L781.8,1241.2M794.9,1246.0L781.8,1241.2L792.5,1232.2M850.9,1238.4L836.5,1234.6M846.4,1244.5L836.5,1234.6L850.0,1230.9M904.3,1238.4L890.2,1233.3M899.2,1244.0L890.2,1233.3L904.0,1230.9M104.4,1300.2L121.4,1303.2M110.7,1294.2L121.4,1303.2L108.3,1308.0M157.8,1300.2L174.8,1303.2M164.0,1294.2L174.8,1303.2L161.6,1308.0M211.1,1300.2L228.3,1300.2M216.2,1293.2L228.3,1300.2L216.2,1307.2M264.4,1300.2L285.3,1290.5M271.3,1289.3L285.3,1290.5L277.2,1302.0M317.7,1300.2L338.5,1285.7M324.5,1286.9L338.5,1285.7L332.5,1298.4M371.1,1300.2L373.4,1286.6M365.0,1296.7L373.4,1286.6L377.9,1299.0M424.4,1300.2L447.3,1298.2M434.6,1292.3L447.3,1298.2L435.8,1306.3M477.7,1300.2L498.4,1300.2M486.3,1293.2L498.4,1300.2L486.3,1307.2M531.0,1300.2L516.3,1297.6M527.0,1306.6L516.3,1297.6L529.4,1292.8M584.3,1300.2L567.1,1300.2M579.2,1307.2L567.1,1300.2L579.2,1293.2M637.7,1300.2L617.0,1302.0M629.7,1308.0L617.0,1302.0L628.5,1294.0M691.0,1300.2L668.3,1304.2M681.5,1309.0L668.3,1304.2L679.1,1295.2M744.3,1300.2L724.3,1305.6M737.8,1309.2L724.3,1305.6L734.2,1295.7M797.6,1300.2L779.2,1300.2M791.3,1307.2L779.2,1300.2L791.3,1293.2M850.9,1300.2L832.6,1298.6M844.1,1306.7L832.6,1298.6L845.3,1292.7M904.3,1300.2L888.7,1296.1M898.6,1306.0L888.7,1296.1L902.2,1292.4M104.4,1362.0L121.6,1363.5M110.2,1355.5L121.6,1363.5L108.9,1369.5M157.8,1362.0L174.8,1365.0M164.0,1356.0L174.8,1365.0L161.6,1369.8M211.1,1362.0L229.2,1365.2M218.5,1356.2L229.2,1365.2L216.1,1370.0M264.4,1362.0L281.7,1355.7M267.9,1353.3L281.7,1355.7L272.7,1366.5M317.7,1362.0L340.7,1351.3M326.7,1350.1L340.7,1351.3L332.6,1362.8M371.1,1362.0L401.3,1351.0M387.5,1348.6L401.3,1351.0L392.3,1361.8M424.4,1362.0L447.0,1366.0M436.3,1357.0L447.0,1366.0L433.9,1370.8M477.7,1362.0L497.2,1363.7M485.7,1355.7L497.2,1363.7L484.5,1369.7M531.0,1362.0L517.1,1354.0M524.1,1366.1L517.1,1354.0L531.1,1354.0M584.3,1362.0L566.6,1366.8M580.1,1370.4L566.6,1366.8L576.5,1356.9M637.7,1362.0L619.3,1368.7M633.1,1371.2L619.3,1368.7L628.3,1358.0M691.0,1362.0L673.1,1372.4M687.1,1372.4L673.1,1372.4L680.1,1360.3M744.3,1362.0L728.4,1375.3M742.2,1372.9L728.4,1375.3L733.2,1362.2M797.6,1362.0L780.7,1373.9M794.6,1372.7L780.7,1373.9L786.6,1361.2M850.9,1362.0L836.0,1374.6M849.8,1372.2L836.0,1374.6L840.8,1361.5M904.3,1362.0L890.2,1367.2M904.0,1369.6L890.2,1367.2L899.2,1356.4M104.4,1423.8L102.1,1410.3M97.6,1422.6L102.1,1410.3L110.5,1420.3M157.8,1423.8L157.8,1407.8M150.8,1419.9L157.8,1407.8L164.8,1419.9M211.1,1423.8L216.6,1408.7M205.9,1417.7L216.6,1408.7L219.0,1422.5M264.4,1423.8L280.5,1423.8M268.4,1416.8L280.5,1423.8L268.4,1430.8M317.7,1423.8L342.6,1428.2M331.9,1419.2L342.6,1428.2L329.5,1433.0M371.1,1423.8L394.8,1432.5M385.8,1421.8L394.8,1432.5L381.0,1434.9M424.4,1423.8L439.3,1415.2M425.3,1415.2L439.3,1415.2L432.3,1427.3M477.7,1423.8L483.1,1403.9M473.2,1413.8L483.1,1403.9L486.7,1417.4M531.0,1423.8L531.0,1403.1M524.0,1415.3L531.0,1403.1L538.0,1415.3M584.3,1423.8L569.4,1415.2M576.4,1427.3L569.4,1415.2L583.4,1415.2M637.7,1423.8L622.5,1418.3M631.5,1429.1L622.5,1418.3L636.3,1415.9M691.0,1423.8L675.9,1418.3M684.8,1429.1L675.9,1418.3L689.6,1415.9M744.3,1423.8L726.2,1427.0M739.3,1431.8L726.2,1427.0L736.9,1418.0M797.6,1423.8L779.5,1427.0M792.7,1431.8L779.5,1427.0L790.2,1418.0M850.9,1423.8L833.0,1434.2M847.0,1434.2L833.0,1434.2L840.0,1422.1M904.3,1423.8L887.3,1435.7M901.3,1434.5L887.3,1435.7L893.2,1423.0M104.4,1485.7L103.1,1470.8M97.2,1483.5L103.1,1470.8L111.2,1482.2M157.8,1485.7L156.5,1470.8M150.6,1483.5L156.5,1470.8L164.5,1482.2M211.1,1485.7L222.9,1471.6M209.8,1476.4L222.9,1471.6L220.5,1485.4M264.4,1485.7L283.8,1469.4M270.0,1471.8L283.8,1469.4L279.0,1482.6M317.7,1485.7L344.1,1467.2M330.2,1468.4L344.1,1467.2L338.2,1479.9M371.1,1485.7L393.2,1459.2M380.1,1464.0L393.2,1459.2L390.8,1473.0M424.4,1485.7L424.4,1469.6M417.4,1481.7L424.4,1469.6L431.4,1481.7M477.7,1485.7L476.4,1470.8M470.5,1483.5L476.4,1470.8L484.4,1482.2M531.0,1485.7L535.0,1463.0M526.0,1473.7L535.0,1463.0L539.8,1476.2M584.3,1485.7L581.9,1472.1M577.5,1484.4L581.9,1472.1L590.4,1482.1M637.7,1485.7L624.7,1480.9M633.1,1491.0L624.7,1480.9L637.6,1478.7M691.0,1485.7L672.9,1482.5M683.6,1491.5L672.9,1482.5L686.0,1477.7M744.3,1485.7L723.7,1483.9M735.1,1491.9L723.7,1483.9L736.4,1477.9M797.6,1485.7L775.0,1481.7M785.7,1490.7L775.0,1481.7L788.1,1476.9M850.9,1485.7L830.6,1489.3M843.7,1494.0L830.6,1489.3L841.3,1480.3M904.3,1485.7L887.0,1492.0M900.8,1494.4L887.0,1492.0L896.0,1481.2M104.4,1547.5L94.8,1536.0M97.3,1549.8L94.8,1536.0L108.0,1540.8M157.8,1547.5L155.0,1531.6M150.2,1544.8L155.0,1531.6L164.0,1542.3M211.1,1547.5L213.9,1531.6M204.9,1542.3L213.9,1531.6L218.7,1544.8M264.4,1547.5L276.6,1535.3M263.1,1538.9L276.6,1535.3L273.0,1548.8M317.7,1547.5L339.9,1521.0M326.8,1525.8L339.9,1521.0L337.5,1534.8M371.1,1547.5L391.2,1512.6M379.1,1519.6L391.2,1512.6L391.2,1526.6M424.4,1547.5L441.4,1511.0M429.9,1519.0L441.4,1511.0L442.6,1524.9M477.7,1547.5L475.2,1518.8M469.3,1531.5L475.2,1518.8L483.2,1530.3M531.0,1547.5L549.5,1521.1M536.8,1527.0L549.5,1521.1L548.3,1535.0M584.3,1547.5L602.2,1529.6M588.7,1533.2L602.2,1529.6L598.6,1543.1M637.7,1547.5L645.7,1533.5M633.6,1540.5L645.7,1533.5L645.7,1547.5M691.0,1547.5L678.6,1537.1M683.4,1550.3L678.6,1537.1L692.4,1539.5M744.3,1547.5L726.2,1544.3M736.9,1553.3L726.2,1544.3L739.3,1539.5M797.6,1547.5L778.4,1544.1M789.1,1553.1L778.4,1544.1L791.5,1539.3M850.9,1547.5L835.4,1543.3M845.3,1553.2L835.4,1543.3L848.9,1539.7M904.3,1547.5L890.2,1552.6M904.0,1555.0L890.2,1552.6L899.2,1541.9M104.4,1609.3L119.6,1614.8M110.6,1604.1L119.6,1614.8L105.8,1617.2M157.8,1609.3L162.9,1623.3M165.3,1609.5L162.9,1623.3L152.2,1614.3M211.1,1609.3L222.5,1618.9M217.8,1605.7L222.5,1618.9L208.8,1616.5M264.4,1609.3L280.0,1613.4M270.1,1603.5L280.0,1613.4L266.4,1617.1M317.7,1609.3L331.7,1601.2M317.7,1601.2L331.7,1601.2L324.7,1613.4M371.1,1609.3L381.6,1594.2M368.9,1600.1L381.6,1594.2L380.4,1608.2M424.4,1609.3L430.3,1587.1M420.4,1597.0L430.3,1587.1L434.0,1600.6M477.7,1609.3L482.1,1584.4M473.1,1595.1L482.1,1584.4L486.9,1597.5M531.0,1609.3L555.9,1604.9M542.8,1600.1L555.9,1604.9L545.2,1613.9M584.3,1609.3L609.5,1607.1M596.9,1601.2L609.5,1607.1L598.1,1615.1M637.7,1609.3L653.9,1603.4M640.1,1600.9L653.9,1603.4L644.9,1614.1M691.0,1609.3L677.4,1606.9M687.4,1615.3L677.4,1606.9L689.7,1602.4M744.3,1609.3L731.3,1604.6M739.8,1614.6L731.3,1604.6L744.2,1602.3M797.6,1609.3L791.7,1625.5M802.4,1616.5L791.7,1625.5L789.3,1611.7M850.9,1609.3L843.1,1630.9M853.8,1621.9L843.1,1630.9L840.6,1617.1M904.3,1609.3L908.3,1631.9M913.0,1618.8L908.3,1631.9L899.3,1621.2M104.4,1671.1L121.4,1674.1M110.7,1665.1L121.4,1674.1L108.3,1678.9M157.8,1671.1L172.9,1676.6M163.9,1665.9L172.9,1676.6L159.1,1679.0M211.1,1671.1L225.1,1676.2M216.1,1665.5L225.1,1676.2L211.4,1678.6M264.4,1671.1L266.8,1657.5M258.4,1667.5L266.8,1657.5L271.3,1669.8M317.7,1671.1L322.8,1657.0M312.1,1666.0L322.8,1657.0L325.3,1670.8M371.1,1671.1L383.4,1660.7M369.6,1663.2L383.4,1660.7L378.6,1673.9M424.4,1671.1L442.7,1672.7M431.2,1664.7L442.7,1672.7L430.0,1678.6M477.7,1671.1L498.3,1672.9M486.8,1664.9L498.3,1672.9L485.6,1678.8M531.0,1671.1L555.9,1675.5M545.2,1666.5L555.9,1675.5L542.8,1680.3M584.3,1671.1L605.0,1671.1M592.9,1664.1L605.0,1671.1L592.9,1678.1M637.7,1671.1L653.7,1669.7M641.0,1663.8L653.7,1669.7L642.2,1677.7M691.0,1671.1L699.6,1686.0M699.6,1672.0L699.6,1686.0L687.5,1679.0M744.3,1671.1L748.3,1693.7M753.1,1680.6L748.3,1693.7L739.3,1683.0M797.6,1671.1L800.4,1703.2M806.3,1690.5L800.4,1703.2L792.4,1691.7M850.9,1671.1L850.9,1705.6M857.9,1693.5L850.9,1705.6L843.9,1693.5M904.3,1671.1L901.3,1705.5M909.3,1694.0L901.3,1705.5L895.3,1692.8M104.4,1732.9L120.5,1734.3M109.0,1726.3L120.5,1734.3L107.8,1740.2M157.8,1732.9L173.6,1735.7M162.9,1726.7L173.6,1735.7L160.5,1740.5M211.1,1732.9L208.5,1718.2M203.7,1731.3L208.5,1718.2L217.5,1728.9M264.4,1732.9L262.0,1719.3M257.5,1731.6L262.0,1719.3L270.4,1729.3M317.7,1732.9L330.7,1728.2M317.8,1725.9L330.7,1728.2L322.3,1738.2M371.1,1732.9L386.9,1735.7M376.2,1726.7L386.9,1735.7L373.8,1740.5M424.4,1732.9L441.4,1735.9M430.6,1726.9L441.4,1735.9L428.2,1740.7M477.7,1732.9L493.9,1738.8M484.9,1728.1L493.9,1738.8L480.1,1741.2M531.0,1732.9L558.8,1740.3M548.9,1730.4L558.8,1740.3L545.3,1744.0M584.3,1732.9L608.7,1757.3M605.1,1743.8L608.7,1757.3L595.2,1753.7M637.7,1732.9L648.1,1771.8M651.7,1758.2L648.1,1771.8L638.2,1761.9M691.0,1732.9L699.0,1778.2M703.8,1765.0L699.0,1778.2L690.0,1767.5M744.3,1732.9L749.3,1790.2M755.2,1777.5L749.3,1790.2L741.3,1778.7M797.6,1732.9L799.6,1790.4M806.2,1778.0L799.6,1790.4L792.2,1778.5M850.9,1732.9L850.9,1790.4M857.9,1778.3L850.9,1790.4L843.9,1778.3M904.3,1732.9L904.3,1790.4M911.3,1778.3L904.3,1790.4L897.3,1778.3" stroke="#000" stroke-width="2.3" fill="none" stroke-linecap="round" stroke-linejoin="round"/>
</g>
<path d="M62.9,1063.3H928.5V1784.4H62.9Z" stroke="#a0a0a0" stroke-width="2.4" fill="none"/><path d="M62.9,1063.3H928.5V1784.4H62.9Z" stroke="#000" stroke-width="2.4" stroke-dasharray="6.8 2.4" fill="none"/>
<path d="M55.6,1784.4H62.9M55.6,1681.4H62.9M55.6,1578.4H62.9M55.6,1475.4H62.9M55.6,1372.3H62.9M55.6,1269.3H62.9M55.6,1166.3H62.9M55.6,1063.3H62.9M62.9,1784.4V1790.8M149.5,1784.4V1790.8M236.0,1784.4V1790.8M322.6,1784.4V1790.8M409.1,1784.4V1790.8M495.7,1784.4V1790.8M582.3,1784.4V1790.8M668.8,1784.4V1790.8M755.4,1784.4V1790.8M841.9,1784.4V1790.8M928.5,1784.4V1790.8" stroke="#000" stroke-width="2.4" fill="none"/><text x="23.3" y="1793.4" font-size="23" text-anchor="start" textLength="26.0" lengthAdjust="spacingAndGlyphs" stroke="#000" stroke-width="0.5">5N</text>
<text x="10.7" y="1690.4" font-size="23" text-anchor="start" textLength="38.6" lengthAdjust="spacingAndGlyphs" stroke="#000" stroke-width="0.5">10N</text>
<text x="10.7" y="1587.4" font-size="23" text-anchor="start" textLength="38.6" lengthAdjust="spacingAndGlyphs" stroke="#000" stroke-width="0.5">15N</text>
<text x="10.7" y="1484.4" font-size="23" text-anchor="start" textLength="38.6" lengthAdjust="spacingAndGlyphs" stroke="#000" stroke-width="0.5">20N</text>
<text x="10.7" y="1381.3" font-size="23" text-anchor="start" textLength="38.6" lengthAdjust="spacingAndGlyphs" stroke="#000" stroke-width="0.5">25N</text>
<text x="10.7" y="1278.3" font-size="23" text-anchor="start" textLength="38.6" lengthAdjust="spacingAndGlyphs" stroke="#000" stroke-width="0.5">30N</text>
<text x="10.7" y="1175.3" font-size="23" text-anchor="start" textLength="38.6" lengthAdjust="spacingAndGlyphs" stroke="#000" stroke-width="0.5">35N</text>
<text x="10.7" y="1072.3" font-size="23" text-anchor="start" textLength="38.6" lengthAdjust="spacingAndGlyphs" stroke="#000" stroke-width="0.5">40N</text>
<text x="44.9" y="1812.6" font-size="23" text-anchor="start" textLength="37.0" lengthAdjust="spacingAndGlyphs" stroke="#000" stroke-width="0.5">50E</text>
<text x="131.5" y="1812.6" font-size="23" text-anchor="start" textLength="37.0" lengthAdjust="spacingAndGlyphs" stroke="#000" stroke-width="0.5">55E</text>
<text x="218.0" y="1812.6" font-size="23" text-anchor="start" textLength="37.0" lengthAdjust="spacingAndGlyphs" stroke="#000" stroke-width="0.5">60E</text>
<text x="304.6" y="1812.6" font-size="23" text-anchor="start" textLength="37.0" lengthAdjust="spacingAndGlyphs" stroke="#000" stroke-width="0.5">65E</text>
<text x="391.1" y="1812.6" font-size="23" text-anchor="start" textLength="37.0" lengthAdjust="spacingAndGlyphs" stroke="#000" stroke-width="0.5">70E</text>
<text x="477.7" y="1812.6" font-size="23" text-anchor="start" textLength="37.0" lengthAdjust="spacingAndGlyphs" stroke="#000" stroke-width="0.5">75E</text>
<text x="564.3" y="1812.6" font-size="23" text-anchor="start" textLength="37.0" lengthAdjust="spacingAndGlyphs" stroke="#000" stroke-width="0.5">80E</text>
<text x="650.8" y="1812.6" font-size="23" text-anchor="start" textLength="37.0" lengthAdjust="spacingAndGlyphs" stroke="#000" stroke-width="0.5">85E</text>
<text x="737.4" y="1812.6" font-size="23" text-anchor="start" textLength="37.0" lengthAdjust="spacingAndGlyphs" stroke="#000" stroke-width="0.5">90E</text>
<text x="823.9" y="1812.6" font-size="23" text-anchor="start" textLength="37.0" lengthAdjust="spacingAndGlyphs" stroke="#000" stroke-width="0.5">95E</text>
<text x="904.7" y="1812.6" font-size="23" text-anchor="start" textLength="48.6" lengthAdjust="spacingAndGlyphs" stroke="#000" stroke-width="0.5">100E</text><path d="M720.4,1835.9H773.0M758.8,1828.3L773.0,1835.9L758.8,1843.5" stroke="#000" stroke-width="2.4" fill="none" stroke-linecap="round" stroke-linejoin="round"/><text x="743.0" y="1857.5" font-size="20" text-anchor="start" textLength="6.5" lengthAdjust="spacingAndGlyphs" stroke="#000" stroke-width="0.5">1</text>
<g clip-path="url(#clip_d)">
<path fill="#c8ffc8" fill-rule="evenodd" d="M1923.0,1782.9L1923.3,1782.9L1923.3,1780.8L1923.0,1782.9ZM1611.7,1679.9L1612.3,1679.9L1612.6,1679.9L1617.5,1679.7L1622.7,1679.1L1627.9,1677.9L1633.0,1675.4L1635.2,1673.8L1638.2,1671.9L1643.0,1667.8L1643.4,1667.4L1648.5,1661.7L1648.6,1661.6L1652.8,1655.6L1653.8,1654.1L1656.3,1649.6L1659.0,1644.0L1659.1,1643.5L1661.6,1637.5L1663.8,1631.4L1664.1,1630.7L1666.3,1625.3L1669.0,1619.3L1669.3,1618.6L1672.0,1613.2L1674.5,1608.6L1675.4,1607.2L1679.1,1601.1L1679.7,1600.3L1683.3,1595.1L1684.9,1592.9L1687.7,1589.0L1690.1,1585.8L1692.1,1582.9L1695.2,1578.3L1696.2,1576.9L1700.0,1570.8L1700.4,1570.0L1703.5,1564.8L1705.6,1560.9L1706.8,1558.7L1709.9,1552.6L1710.8,1550.8L1713.0,1546.6L1716.0,1540.9L1716.2,1540.5L1719.7,1534.5L1721.2,1532.0L1723.5,1528.4L1726.3,1524.2L1727.6,1522.3L1731.5,1516.7L1731.8,1516.3L1736.0,1510.2L1736.7,1509.2L1740.2,1504.2L1741.9,1501.8L1744.5,1498.1L1747.1,1494.4L1748.6,1492.0L1752.1,1486.0L1752.3,1485.7L1754.7,1479.9L1757.0,1473.9L1757.4,1472.6L1759.0,1467.8L1761.0,1461.7L1762.6,1456.8L1763.0,1455.7L1765.1,1449.6L1767.6,1443.6L1767.8,1443.1L1771.2,1437.5L1773.0,1435.1L1776.7,1431.4L1778.2,1430.1L1783.4,1426.6L1785.7,1425.4L1788.5,1424.0L1793.7,1422.4L1798.9,1422.3L1804.1,1423.9L1807.0,1425.4L1809.3,1426.7L1814.5,1430.5L1815.5,1431.4L1819.6,1435.2L1821.7,1437.5L1824.8,1441.0L1826.9,1443.6L1830.0,1447.7L1831.3,1449.6L1835.2,1455.3L1835.4,1455.7L1840.0,1461.7L1840.4,1462.3L1845.4,1467.8L1845.6,1467.9L1850.7,1472.9L1851.7,1473.9L1855.9,1477.8L1858.0,1479.9L1861.1,1483.0L1863.9,1486.0L1866.3,1488.5L1869.3,1492.0L1871.5,1494.6L1874.1,1498.1L1876.7,1501.0L1879.1,1504.2L1881.8,1506.6L1885.4,1510.2L1887.0,1511.4L1892.2,1516.3L1892.2,1516.3L1897.4,1521.9L1897.8,1522.3L1902.1,1528.4L1902.6,1528.9L1906.0,1534.5L1907.8,1537.2L1909.5,1540.5L1912.1,1546.6L1912.9,1549.1L1914.0,1552.6L1915.4,1558.7L1916.6,1564.8L1917.5,1570.8L1918.1,1574.8L1918.5,1576.9L1919.7,1582.9L1921.0,1589.0L1922.7,1595.1L1923.3,1597.0L1923.3,1595.1L1923.3,1589.0L1923.3,1582.9L1923.3,1576.9L1923.3,1570.8L1923.3,1564.8L1923.3,1558.7L1923.3,1552.6L1923.3,1546.6L1923.3,1540.5L1923.3,1534.5L1923.3,1528.4L1923.3,1522.3L1923.3,1516.3L1923.3,1510.2L1923.3,1504.2L1923.3,1498.1L1923.3,1492.0L1923.3,1486.0L1923.3,1479.9L1923.3,1473.9L1923.3,1467.8L1923.3,1461.7L1923.3,1455.7L1923.3,1449.6L1923.3,1443.6L1923.3,1437.5L1923.3,1431.4L1923.3,1425.4L1923.3,1419.3L1923.3,1413.3L1923.3,1407.2L1923.3,1401.1L1923.3,1395.1L1923.3,1389.0L1923.3,1383.0L1923.3,1376.9L1923.3,1374.7L1918.1,1373.3L1912.9,1371.6L1910.3,1370.8L1907.8,1370.2L1902.6,1368.9L1897.4,1367.9L1892.2,1367.0L1887.0,1366.3L1881.8,1365.9L1876.7,1365.9L1871.5,1366.1L1866.3,1366.4L1861.1,1366.7L1855.9,1367.0L1850.7,1367.3L1845.6,1367.4L1840.4,1367.1L1835.2,1366.3L1830.0,1364.8L1830.0,1364.8L1824.8,1363.5L1819.6,1362.2L1814.5,1360.8L1809.3,1359.4L1807.0,1358.7L1804.1,1358.1L1798.9,1356.8L1793.7,1354.9L1789.7,1352.7L1788.5,1352.1L1783.4,1348.5L1781.3,1346.6L1778.2,1343.2L1776.3,1340.5L1773.3,1334.5L1773.0,1333.6L1771.4,1328.4L1770.0,1322.4L1768.9,1316.3L1768.2,1310.2L1767.9,1304.2L1767.8,1300.5L1767.8,1298.1L1767.7,1292.1L1767.6,1286.0L1767.5,1279.9L1767.2,1273.9L1766.8,1267.8L1766.1,1261.8L1764.7,1255.7L1762.7,1249.6L1762.6,1249.4L1759.6,1243.6L1757.4,1240.2L1755.1,1237.5L1752.3,1234.7L1748.0,1231.5L1747.1,1230.8L1741.9,1227.6L1737.5,1225.4L1736.7,1225.0L1731.5,1222.6L1726.3,1220.6L1722.9,1219.4L1721.2,1218.7L1716.0,1216.8L1710.8,1215.3L1705.6,1213.9L1702.8,1213.3L1700.4,1212.6L1695.2,1211.3L1690.1,1210.2L1684.9,1209.2L1679.7,1208.3L1674.5,1207.6L1670.4,1207.2L1669.3,1207.1L1664.1,1206.8L1659.0,1206.6L1653.8,1206.5L1648.6,1206.5L1643.4,1206.5L1638.2,1206.6L1633.0,1206.6L1627.9,1206.3L1622.7,1205.6L1617.5,1204.7L1612.3,1203.7L1607.1,1202.6L1601.9,1201.4L1601.0,1201.2L1596.8,1199.9L1591.6,1198.3L1586.4,1196.5L1583.3,1195.1L1581.2,1194.2L1576.0,1191.8L1570.8,1189.5L1569.9,1189.1L1565.7,1187.2L1560.5,1185.1L1555.3,1183.1L1554.9,1183.0L1550.1,1181.3L1544.9,1179.6L1539.7,1178.0L1536.7,1176.9L1534.6,1176.2L1529.4,1174.2L1524.2,1172.0L1521.8,1170.9L1519.0,1169.3L1513.8,1165.8L1512.4,1164.8L1508.6,1161.5L1505.0,1158.8L1503.5,1157.5L1498.3,1154.7L1493.1,1153.1L1491.0,1152.7L1487.9,1152.1L1482.7,1151.7L1477.5,1152.2L1475.4,1152.7L1472.4,1153.6L1467.2,1155.9L1462.0,1158.7L1461.9,1158.8L1456.8,1162.8L1454.4,1164.8L1451.6,1168.6L1450.0,1170.9L1447.0,1176.9L1446.4,1178.4L1444.3,1183.0L1441.9,1189.1L1441.3,1191.2L1437.7,1195.1L1436.1,1197.1L1434.4,1195.1L1430.9,1193.0L1426.3,1189.1L1425.7,1188.7L1420.5,1186.0L1415.3,1184.6L1410.2,1183.9L1405.0,1183.6L1399.8,1183.6L1394.6,1184.1L1389.4,1185.1L1384.2,1186.8L1379.1,1188.8L1378.5,1189.1L1373.9,1191.1L1368.7,1193.9L1366.8,1195.1L1363.5,1197.3L1358.7,1201.2L1358.3,1201.5L1353.1,1206.8L1352.8,1207.2L1348.0,1213.3L1348.0,1213.3L1343.8,1219.4L1342.8,1220.8L1340.0,1225.4L1337.6,1229.5L1336.5,1231.5L1333.2,1237.5L1332.4,1239.0L1329.9,1243.6L1327.2,1248.8L1326.8,1249.6L1323.8,1255.7L1322.0,1259.5L1320.9,1261.8L1317.8,1267.8L1316.9,1269.6L1314.1,1273.9L1311.7,1277.4L1309.4,1279.9L1306.5,1282.9L1302.7,1286.0L1301.3,1287.0L1296.1,1290.5L1293.6,1292.1L1290.9,1293.7L1285.8,1296.8L1283.7,1298.1L1280.6,1300.2L1275.4,1304.0L1275.1,1304.2L1270.3,1310.2L1270.2,1311.0L1269.4,1316.3L1270.2,1320.4L1270.7,1322.4L1273.4,1328.4L1275.4,1331.3L1278.0,1334.5L1280.6,1336.5L1285.8,1340.3L1286.2,1340.5L1290.9,1343.2L1296.1,1345.9L1297.4,1346.6L1301.3,1348.8L1306.5,1352.4L1306.8,1352.7L1309.4,1358.7L1306.7,1364.8L1306.5,1365.0L1301.3,1370.1L1300.7,1370.8L1296.1,1375.3L1294.8,1376.9L1290.9,1381.0L1289.4,1383.0L1285.8,1386.8L1284.0,1389.0L1280.6,1393.1L1279.1,1395.1L1275.4,1400.7L1275.1,1401.1L1271.7,1407.2L1270.2,1410.4L1268.5,1413.3L1265.4,1419.3L1265.0,1420.1L1261.9,1425.4L1259.8,1429.2L1258.6,1431.4L1255.6,1437.5L1254.7,1439.6L1252.9,1443.6L1250.8,1449.6L1249.5,1454.5L1249.2,1455.7L1248.3,1461.7L1248.0,1467.8L1248.2,1473.9L1248.9,1479.9L1249.5,1482.4L1250.4,1486.0L1253.3,1492.0L1254.7,1494.0L1258.1,1498.1L1259.8,1499.8L1265.0,1503.9L1265.4,1504.2L1270.2,1507.4L1274.5,1510.2L1275.4,1510.8L1280.6,1513.9L1284.8,1516.3L1285.8,1516.8L1290.9,1519.5L1296.1,1522.1L1296.7,1522.3L1301.3,1524.6L1306.5,1527.1L1308.6,1528.4L1311.7,1530.1L1316.9,1533.6L1318.1,1534.5L1322.0,1537.0L1327.2,1540.2L1327.8,1540.5L1332.4,1543.0L1337.6,1545.6L1339.5,1546.6L1342.8,1548.0L1348.0,1550.3L1352.4,1552.6L1353.1,1553.0L1358.3,1556.2L1362.4,1558.7L1363.5,1559.3L1368.7,1562.2L1373.8,1564.8L1373.9,1564.8L1379.1,1567.3L1384.2,1569.7L1387.0,1570.8L1389.4,1571.8L1394.6,1573.8L1399.8,1575.7L1403.0,1576.9L1405.0,1577.6L1410.2,1579.4L1415.3,1581.2L1420.5,1582.9L1420.6,1582.9L1425.7,1584.8L1430.9,1586.4L1436.1,1587.7L1441.3,1588.7L1443.9,1589.0L1446.4,1589.3L1451.6,1589.8L1456.8,1590.2L1462.0,1590.2L1467.2,1589.9L1472.4,1589.3L1474.7,1589.0L1477.5,1588.5L1482.7,1587.5L1487.9,1586.1L1493.1,1584.2L1495.8,1582.9L1498.3,1580.7L1501.8,1576.9L1503.5,1572.3L1504.1,1570.8L1505.4,1564.8L1505.7,1558.7L1505.1,1552.6L1504.1,1546.6L1503.5,1542.1L1503.3,1540.5L1503.1,1534.5L1503.2,1528.4L1503.5,1523.3L1503.6,1522.3L1504.4,1516.3L1505.6,1510.2L1507.3,1504.2L1508.6,1500.5L1511.1,1498.1L1513.8,1495.8L1519.0,1493.9L1524.2,1493.7L1529.4,1495.5L1533.4,1498.1L1534.6,1499.0L1538.9,1504.2L1539.7,1505.4L1542.0,1510.2L1544.3,1516.3L1544.9,1517.9L1546.1,1522.3L1547.6,1528.4L1549.1,1534.5L1550.1,1538.8L1550.5,1540.5L1551.8,1546.6L1553.2,1552.6L1554.6,1558.7L1555.3,1562.3L1555.7,1564.8L1556.5,1570.8L1557.1,1576.9L1557.1,1582.9L1556.3,1589.0L1555.3,1593.6L1554.9,1595.1L1553.4,1601.1L1552.2,1607.2L1551.4,1613.2L1550.9,1619.3L1550.6,1625.3L1550.9,1631.4L1552.1,1637.5L1554.4,1643.5L1555.3,1645.2L1558.0,1649.6L1560.5,1652.6L1563.0,1655.6L1565.7,1658.2L1569.4,1661.7L1570.8,1662.9L1576.0,1666.7L1577.6,1667.8L1581.2,1670.0L1586.4,1672.8L1588.5,1673.8L1591.6,1675.4L1596.8,1677.5L1601.9,1679.0L1607.1,1679.8L1611.7,1679.9ZM1430.9,1250.1L1430.2,1249.6L1425.7,1247.0L1421.3,1243.6L1420.5,1242.6L1417.4,1237.5L1417.3,1231.5L1420.5,1225.4L1420.5,1225.4L1425.7,1219.5L1425.9,1219.4L1430.9,1213.9L1432.0,1213.3L1436.1,1208.7L1441.3,1210.8L1442.5,1213.3L1446.4,1218.9L1446.6,1219.4L1449.0,1225.4L1450.2,1231.5L1450.1,1237.5L1448.4,1243.6L1446.4,1246.8L1443.1,1249.6L1441.3,1250.9L1436.1,1251.6L1430.9,1250.1Z"/>
<path fill="#96ffc8" fill-rule="evenodd" d="M1596.7,1667.8L1596.8,1667.8L1601.9,1670.1L1607.1,1671.4L1612.3,1671.9L1617.5,1672.0L1622.7,1671.7L1627.9,1670.5L1633.0,1668.0L1633.4,1667.8L1638.2,1664.1L1640.8,1661.7L1643.4,1658.9L1646.1,1655.6L1648.6,1652.3L1650.4,1649.6L1653.8,1643.5L1653.8,1643.5L1656.6,1637.5L1659.0,1631.6L1659.0,1631.4L1661.4,1625.3L1663.9,1619.3L1664.1,1618.8L1666.7,1613.2L1669.3,1607.9L1669.7,1607.2L1673.2,1601.1L1674.5,1599.0L1677.1,1595.1L1679.7,1591.3L1681.3,1589.0L1684.9,1583.9L1685.5,1582.9L1689.6,1576.9L1690.1,1576.1L1693.4,1570.8L1695.2,1567.7L1697.0,1564.8L1700.3,1558.7L1700.4,1558.5L1703.4,1552.6L1705.6,1547.9L1706.3,1546.6L1709.1,1540.5L1710.8,1536.6L1711.9,1534.5L1714.9,1528.4L1716.0,1526.2L1718.3,1522.3L1721.2,1517.8L1722.2,1516.3L1726.3,1510.4L1726.5,1510.2L1731.0,1504.2L1731.5,1503.5L1735.5,1498.1L1736.7,1496.5L1740.0,1492.0L1741.9,1489.2L1744.0,1486.0L1747.1,1480.3L1747.3,1479.9L1749.7,1473.9L1752.1,1467.8L1752.3,1467.4L1754.0,1461.7L1755.6,1455.7L1757.1,1449.6L1757.4,1448.2L1758.6,1443.6L1760.7,1437.5L1762.6,1433.5L1763.8,1431.4L1767.8,1426.2L1768.6,1425.4L1773.0,1421.5L1776.2,1419.3L1778.2,1418.1L1783.4,1415.6L1788.5,1413.6L1790.1,1413.3L1793.7,1412.4L1798.9,1412.1L1804.1,1412.9L1805.4,1413.3L1809.3,1414.5L1814.5,1416.8L1818.5,1419.3L1819.6,1420.1L1824.8,1424.5L1825.6,1425.4L1830.0,1430.6L1830.6,1431.4L1834.7,1437.5L1835.2,1438.1L1838.9,1443.6L1840.4,1445.8L1843.2,1449.6L1845.6,1452.7L1848.1,1455.7L1850.7,1458.5L1853.9,1461.7L1855.9,1463.7L1860.0,1467.8L1861.1,1468.9L1865.9,1473.9L1866.3,1474.2L1871.4,1479.9L1871.5,1480.0L1876.3,1486.0L1876.7,1486.4L1880.5,1492.0L1881.8,1494.0L1884.2,1498.1L1887.0,1502.2L1888.2,1504.2L1892.2,1508.9L1893.1,1510.2L1897.4,1514.9L1898.4,1516.3L1902.6,1521.8L1902.9,1522.3L1906.4,1528.4L1907.8,1530.8L1909.5,1534.5L1912.3,1540.5L1912.9,1542.2L1914.5,1546.6L1916.1,1552.6L1917.3,1558.7L1918.1,1564.0L1918.3,1564.8L1919.4,1570.8L1920.5,1576.9L1921.6,1582.9L1923.0,1589.0L1923.3,1590.1L1923.3,1589.0L1923.3,1582.9L1923.3,1576.9L1923.3,1570.8L1923.3,1564.8L1923.3,1558.7L1923.3,1552.6L1923.3,1546.6L1923.3,1540.5L1923.3,1534.5L1923.3,1528.4L1923.3,1522.3L1923.3,1516.3L1923.3,1510.2L1923.3,1504.2L1923.3,1498.1L1923.3,1492.0L1923.3,1486.0L1923.3,1479.9L1923.3,1473.9L1923.3,1467.8L1923.3,1461.7L1923.3,1455.7L1923.3,1449.6L1923.3,1443.6L1923.3,1437.5L1923.3,1431.4L1923.3,1425.4L1923.3,1419.3L1923.3,1413.3L1923.3,1407.2L1923.3,1401.1L1923.3,1396.8L1920.5,1395.1L1918.1,1393.7L1912.9,1390.2L1911.1,1389.0L1907.8,1387.1L1902.6,1384.5L1899.2,1383.0L1897.4,1382.2L1892.2,1380.3L1887.0,1378.8L1881.8,1377.7L1876.7,1377.1L1872.8,1376.9L1871.5,1376.8L1866.3,1376.7L1861.1,1376.6L1855.9,1376.6L1850.7,1376.5L1845.6,1376.4L1840.4,1375.9L1835.2,1374.8L1830.0,1373.2L1824.8,1371.1L1824.2,1370.8L1819.6,1369.3L1814.5,1367.3L1809.3,1365.3L1808.1,1364.8L1804.1,1363.6L1798.9,1361.9L1793.7,1359.5L1792.4,1358.7L1788.5,1356.9L1783.4,1353.5L1782.4,1352.7L1778.2,1349.1L1776.0,1346.6L1773.0,1342.1L1772.2,1340.5L1769.8,1334.5L1768.2,1328.4L1767.8,1326.4L1767.0,1322.4L1766.1,1316.3L1765.4,1310.2L1764.9,1304.2L1764.4,1298.1L1763.9,1292.1L1763.3,1286.0L1762.6,1281.4L1762.4,1279.9L1761.1,1273.9L1759.2,1267.8L1757.4,1263.4L1756.5,1261.8L1752.6,1255.7L1752.3,1255.2L1747.1,1249.6L1747.1,1249.6L1741.9,1245.3L1739.5,1243.6L1736.7,1241.7L1731.5,1238.6L1729.4,1237.5L1726.3,1235.9L1721.2,1233.5L1716.3,1231.5L1716.0,1231.3L1710.8,1229.3L1705.6,1227.6L1700.4,1226.0L1698.3,1225.4L1695.2,1224.6L1690.1,1223.2L1684.9,1222.0L1679.7,1220.9L1674.5,1219.9L1671.4,1219.4L1669.3,1219.0L1664.1,1218.2L1659.0,1217.5L1653.8,1216.9L1648.6,1216.4L1643.4,1216.0L1638.2,1215.7L1633.0,1215.3L1627.9,1214.9L1622.7,1214.2L1617.5,1213.5L1616.3,1213.3L1612.3,1212.5L1607.1,1211.5L1601.9,1210.4L1596.8,1209.2L1591.6,1208.0L1589.0,1207.2L1586.4,1206.3L1581.2,1204.0L1576.0,1201.4L1575.6,1201.2L1570.8,1198.6L1565.7,1196.0L1564.1,1195.1L1560.5,1193.3L1555.3,1190.8L1551.1,1189.1L1550.1,1188.6L1544.9,1186.7L1539.7,1185.0L1534.6,1183.3L1533.5,1183.0L1529.4,1181.6L1524.2,1179.7L1519.0,1177.6L1517.5,1176.9L1513.8,1175.0L1508.6,1172.0L1506.6,1170.9L1503.5,1168.9L1498.3,1166.4L1493.3,1164.8L1493.1,1164.8L1487.9,1163.8L1482.7,1163.7L1477.8,1164.8L1477.5,1164.9L1472.4,1168.9L1470.7,1170.9L1467.2,1176.7L1467.0,1176.9L1464.5,1183.0L1462.6,1189.1L1462.0,1191.9L1461.2,1195.1L1460.0,1201.2L1459.2,1207.2L1459.0,1213.3L1459.2,1219.4L1459.7,1225.4L1460.1,1231.5L1460.3,1237.5L1460.4,1243.6L1460.2,1249.6L1459.4,1255.7L1457.3,1261.8L1456.8,1262.7L1451.9,1267.8L1451.6,1268.1L1446.4,1271.5L1441.3,1273.6L1436.1,1273.2L1430.9,1267.9L1430.9,1267.8L1425.7,1262.5L1425.2,1261.8L1420.5,1258.3L1417.6,1255.7L1415.3,1254.1L1410.8,1249.6L1410.2,1248.9L1406.7,1243.6L1405.0,1238.4L1404.7,1237.5L1404.2,1231.5L1404.9,1225.4L1405.0,1225.2L1406.5,1219.4L1407.7,1213.3L1405.0,1208.2L1403.8,1207.2L1399.8,1205.8L1394.6,1205.7L1390.0,1207.2L1389.4,1207.5L1384.2,1211.2L1381.8,1213.3L1379.1,1216.2L1376.2,1219.4L1373.9,1222.0L1371.0,1225.4L1368.7,1228.1L1365.8,1231.5L1363.5,1234.2L1360.6,1237.5L1358.3,1240.1L1355.5,1243.6L1353.1,1246.5L1351.1,1249.6L1348.0,1254.7L1347.4,1255.7L1344.7,1261.8L1342.8,1267.0L1342.5,1267.8L1340.5,1273.9L1338.5,1279.9L1337.6,1282.5L1336.3,1286.0L1333.9,1292.1L1332.4,1295.7L1331.2,1298.1L1328.3,1304.2L1327.2,1307.2L1326.1,1310.2L1325.7,1316.3L1326.9,1322.4L1327.2,1323.7L1328.5,1328.4L1330.5,1334.5L1332.4,1338.7L1333.1,1340.5L1335.5,1346.6L1336.9,1352.7L1335.9,1358.7L1332.4,1363.7L1331.7,1364.8L1327.2,1369.1L1325.5,1370.8L1322.0,1374.1L1319.3,1376.9L1316.9,1379.1L1312.8,1383.0L1311.7,1383.9L1306.5,1388.1L1305.4,1389.0L1301.3,1392.1L1298.0,1395.1L1296.1,1396.9L1292.1,1401.1L1290.9,1402.7L1287.6,1407.2L1285.8,1410.5L1284.2,1413.3L1281.4,1419.3L1280.6,1421.2L1278.8,1425.4L1276.5,1431.4L1275.4,1434.5L1274.2,1437.5L1271.9,1443.6L1270.2,1448.0L1269.5,1449.6L1267.4,1455.7L1266.2,1461.7L1265.9,1467.8L1266.3,1473.9L1267.4,1479.9L1270.0,1486.0L1270.2,1486.3L1274.6,1492.0L1275.4,1492.8L1280.6,1497.5L1281.3,1498.1L1285.8,1501.5L1289.5,1504.2L1290.9,1505.1L1296.1,1508.4L1299.1,1510.2L1301.3,1511.5L1306.5,1514.7L1308.7,1516.3L1311.7,1518.3L1316.7,1522.3L1316.9,1522.4L1322.0,1526.7L1324.2,1528.4L1327.2,1530.6L1332.4,1534.3L1332.6,1534.5L1337.6,1537.7L1342.4,1540.5L1342.8,1540.7L1348.0,1543.6L1352.6,1546.6L1353.1,1546.9L1358.3,1550.6L1361.1,1552.6L1363.5,1554.2L1368.7,1557.5L1370.7,1558.7L1373.9,1560.5L1379.1,1563.3L1381.8,1564.8L1384.2,1565.9L1389.4,1568.3L1394.6,1570.5L1395.5,1570.8L1399.8,1572.6L1405.0,1574.5L1410.2,1576.4L1411.4,1576.9L1415.3,1578.3L1420.5,1580.1L1425.7,1581.9L1429.1,1582.9L1430.9,1583.5L1436.1,1584.9L1441.3,1585.8L1446.4,1586.4L1451.6,1586.7L1456.8,1586.8L1462.0,1586.6L1467.2,1585.8L1472.4,1584.5L1477.2,1582.9L1477.5,1582.8L1482.7,1580.2L1487.5,1576.9L1487.9,1576.4L1492.1,1570.8L1493.1,1568.7L1494.7,1564.8L1496.2,1558.7L1496.8,1552.6L1497.1,1546.6L1497.3,1540.5L1497.4,1534.5L1497.6,1528.4L1497.7,1522.3L1497.9,1516.3L1498.0,1510.2L1498.2,1504.2L1498.3,1503.5L1498.7,1498.1L1499.4,1492.0L1500.6,1486.0L1503.0,1479.9L1503.5,1479.1L1508.6,1474.8L1511.2,1473.9L1513.8,1473.0L1519.0,1472.0L1524.2,1471.7L1529.4,1472.0L1534.6,1472.8L1539.0,1473.9L1539.7,1474.1L1544.9,1476.4L1549.7,1479.9L1550.1,1480.3L1554.7,1486.0L1555.3,1487.2L1557.4,1492.0L1558.8,1498.1L1559.9,1504.2L1560.5,1507.4L1560.9,1510.2L1562.0,1516.3L1563.0,1522.3L1564.0,1528.4L1565.1,1534.5L1565.7,1537.1L1566.3,1540.5L1567.5,1546.6L1568.6,1552.6L1569.4,1558.7L1570.0,1564.8L1570.3,1570.8L1570.5,1576.9L1570.3,1582.9L1569.6,1589.0L1568.5,1595.1L1567.4,1601.1L1566.4,1607.2L1565.7,1613.2L1565.7,1614.0L1565.2,1619.3L1564.9,1625.3L1565.3,1631.4L1565.7,1632.6L1566.9,1637.5L1569.9,1643.5L1570.8,1644.9L1574.3,1649.6L1576.0,1651.5L1580.2,1655.6L1581.2,1656.5L1586.4,1660.9L1587.4,1661.7L1591.6,1664.7L1596.7,1667.8Z"/>
<path fill="#00fa96" fill-rule="evenodd" d="M1602.7,1655.6L1607.1,1657.7L1612.3,1658.9L1617.5,1659.4L1622.7,1659.3L1627.9,1658.1L1632.1,1655.6L1633.0,1655.1L1638.2,1650.2L1638.7,1649.6L1643.3,1643.5L1643.4,1643.4L1646.9,1637.5L1648.6,1633.7L1649.6,1631.4L1652.0,1625.3L1653.8,1620.6L1654.3,1619.3L1656.7,1613.2L1659.0,1607.7L1659.2,1607.2L1662.0,1601.1L1664.1,1596.9L1665.1,1595.1L1668.7,1589.0L1669.3,1588.0L1672.6,1582.9L1674.5,1580.2L1676.7,1576.9L1679.7,1572.4L1680.7,1570.8L1684.4,1564.8L1684.9,1564.0L1687.9,1558.7L1690.1,1554.7L1691.2,1552.6L1694.2,1546.6L1695.2,1544.2L1696.9,1540.5L1699.3,1534.5L1700.4,1530.9L1701.3,1528.4L1703.2,1522.3L1705.2,1516.3L1705.6,1515.1L1707.6,1510.2L1710.3,1504.2L1710.8,1503.2L1713.8,1498.1L1716.0,1494.9L1718.1,1492.0L1721.2,1487.7L1722.4,1486.0L1726.0,1479.9L1726.3,1479.2L1728.8,1473.9L1731.3,1467.8L1731.5,1467.0L1733.2,1461.7L1734.4,1455.7L1735.0,1449.6L1735.3,1443.6L1735.9,1437.5L1736.7,1432.6L1736.9,1431.4L1738.6,1425.4L1741.0,1419.3L1741.9,1417.6L1744.3,1413.3L1747.1,1409.8L1749.6,1407.2L1752.3,1405.0L1757.4,1401.7L1758.5,1401.1L1762.6,1399.2L1767.8,1397.2L1773.0,1395.4L1773.9,1395.1L1778.2,1393.5L1783.4,1391.7L1788.5,1389.8L1790.7,1389.0L1793.7,1385.0L1794.9,1383.0L1793.7,1381.9L1789.7,1376.9L1788.5,1376.0L1783.6,1370.8L1783.4,1370.7L1778.3,1364.8L1778.2,1364.7L1773.3,1358.7L1773.0,1358.4L1769.0,1352.7L1767.8,1350.6L1766.0,1346.6L1764.1,1340.5L1762.9,1334.5L1762.6,1333.0L1761.9,1328.4L1761.1,1322.4L1760.3,1316.3L1759.6,1310.2L1758.7,1304.2L1757.5,1298.1L1757.4,1297.8L1755.8,1292.1L1753.6,1286.0L1752.3,1282.9L1750.5,1279.9L1747.1,1275.1L1746.0,1273.9L1741.9,1269.9L1739.1,1267.8L1736.7,1266.0L1731.5,1262.8L1729.6,1261.8L1726.3,1259.9L1721.2,1257.2L1717.8,1255.7L1716.0,1254.7L1710.8,1252.2L1705.6,1250.0L1704.7,1249.6L1700.4,1247.8L1695.2,1245.8L1690.1,1243.9L1689.2,1243.6L1684.9,1242.1L1679.7,1240.4L1674.5,1238.8L1670.4,1237.5L1669.3,1237.2L1664.1,1235.5L1659.0,1234.0L1653.8,1232.6L1649.0,1231.5L1648.6,1231.4L1643.4,1230.2L1638.2,1229.1L1633.0,1228.2L1627.9,1227.2L1622.7,1226.3L1618.1,1225.4L1617.5,1225.3L1612.3,1224.3L1607.1,1223.3L1601.9,1222.3L1596.8,1221.2L1591.6,1220.2L1587.8,1219.4L1586.4,1219.0L1581.2,1217.5L1576.0,1215.8L1570.8,1213.8L1569.6,1213.3L1565.7,1211.4L1560.5,1208.5L1558.3,1207.2L1555.3,1205.4L1550.1,1202.4L1547.6,1201.2L1544.9,1199.9L1539.7,1198.1L1534.6,1196.6L1529.4,1195.2L1528.8,1195.1L1524.2,1194.0L1519.0,1192.9L1513.8,1191.9L1508.6,1190.8L1503.5,1190.1L1498.3,1190.1L1493.1,1191.5L1487.9,1194.4L1487.0,1195.1L1482.7,1199.8L1481.9,1201.2L1479.4,1207.2L1478.4,1213.3L1478.6,1219.4L1479.5,1225.4L1480.8,1231.5L1482.4,1237.5L1482.7,1238.5L1484.5,1243.6L1486.7,1249.6L1487.9,1253.2L1488.7,1255.7L1489.7,1261.8L1489.5,1267.8L1488.6,1273.9L1487.9,1276.7L1487.0,1279.9L1484.7,1286.0L1482.7,1289.6L1481.1,1292.1L1477.5,1296.9L1476.5,1298.1L1472.4,1303.4L1471.8,1304.2L1467.5,1310.2L1467.2,1310.8L1463.5,1316.3L1462.0,1318.5L1459.1,1322.4L1456.8,1325.4L1454.2,1328.4L1451.6,1331.4L1448.8,1334.5L1446.4,1336.9L1442.8,1340.5L1441.3,1342.0L1436.5,1346.6L1436.1,1347.0L1430.9,1352.5L1430.8,1352.7L1425.7,1358.1L1425.1,1358.7L1420.5,1362.5L1417.1,1364.8L1415.3,1365.7L1410.2,1367.6L1405.0,1369.1L1399.8,1370.3L1395.3,1370.8L1394.6,1370.9L1389.4,1371.1L1384.2,1371.0L1379.1,1370.9L1373.9,1371.1L1368.7,1371.7L1363.5,1372.7L1358.3,1374.0L1353.1,1376.0L1351.6,1376.9L1348.0,1378.8L1342.8,1382.5L1342.3,1383.0L1337.6,1386.2L1333.9,1389.0L1332.4,1390.0L1327.2,1393.8L1325.5,1395.1L1322.0,1397.9L1318.3,1401.1L1316.9,1402.6L1312.4,1407.2L1311.7,1408.2L1307.9,1413.3L1306.5,1415.8L1304.5,1419.3L1301.7,1425.4L1301.3,1426.4L1299.3,1431.4L1297.5,1437.5L1296.1,1443.4L1296.1,1443.6L1294.9,1449.6L1294.1,1455.7L1294.0,1461.7L1294.9,1467.8L1296.1,1472.3L1296.6,1473.9L1299.2,1479.9L1301.3,1482.9L1303.5,1486.0L1306.5,1489.0L1309.2,1492.0L1311.7,1494.3L1315.2,1498.1L1316.9,1499.8L1320.9,1504.2L1322.0,1505.3L1326.8,1510.2L1327.2,1510.6L1332.4,1515.6L1333.1,1516.3L1337.6,1520.3L1339.8,1522.3L1342.8,1524.8L1346.9,1528.4L1348.0,1529.2L1353.1,1534.0L1353.5,1534.5L1358.3,1539.2L1359.5,1540.5L1363.5,1544.1L1366.4,1546.6L1368.7,1548.3L1373.9,1552.1L1374.7,1552.6L1379.1,1555.5L1384.2,1558.7L1384.3,1558.7L1389.4,1561.5L1394.6,1564.0L1396.2,1564.8L1399.8,1566.4L1405.0,1568.6L1410.2,1570.7L1410.4,1570.8L1415.3,1572.7L1420.5,1574.7L1425.7,1576.5L1426.8,1576.9L1430.9,1578.2L1436.1,1579.6L1441.3,1580.4L1446.4,1580.7L1451.6,1580.7L1456.8,1580.5L1462.0,1579.6L1467.2,1577.7L1468.9,1576.9L1472.4,1574.8L1477.0,1570.8L1477.5,1570.1L1481.7,1564.8L1482.7,1562.8L1484.8,1558.7L1486.9,1552.6L1487.9,1548.2L1488.3,1546.6L1489.3,1540.5L1490.0,1534.5L1490.3,1528.4L1490.3,1522.3L1490.3,1516.3L1490.1,1510.2L1489.8,1504.2L1489.2,1498.1L1488.5,1492.0L1487.9,1486.2L1487.9,1486.0L1487.7,1479.9L1487.9,1473.9L1487.9,1473.6L1488.6,1467.8L1490.0,1461.7L1492.9,1455.7L1493.1,1455.4L1498.3,1450.2L1499.3,1449.6L1503.5,1447.5L1508.6,1446.2L1513.8,1445.6L1519.0,1445.2L1524.2,1445.0L1529.4,1445.1L1534.6,1445.3L1539.7,1445.7L1544.9,1446.3L1550.1,1447.4L1555.3,1448.8L1558.3,1449.6L1560.5,1450.3L1565.7,1451.8L1570.8,1453.2L1576.0,1454.6L1580.3,1455.7L1581.2,1456.0L1586.4,1457.2L1591.6,1457.8L1596.8,1458.2L1601.9,1458.6L1607.1,1459.6L1612.3,1461.5L1612.7,1461.7L1617.5,1466.9L1618.1,1467.8L1619.4,1473.9L1618.9,1479.9L1617.5,1483.0L1616.2,1486.0L1612.3,1490.9L1611.4,1492.0L1607.1,1496.9L1606.0,1498.1L1601.9,1503.1L1601.1,1504.2L1597.2,1510.2L1596.8,1511.0L1594.3,1516.3L1592.2,1522.3L1591.6,1524.8L1590.7,1528.4L1589.6,1534.5L1588.7,1540.5L1588.1,1546.6L1587.6,1552.6L1587.2,1558.7L1586.8,1564.8L1586.4,1570.8L1586.4,1571.3L1586.0,1576.9L1585.5,1582.9L1584.8,1589.0L1584.1,1595.1L1583.3,1601.1L1582.7,1607.2L1582.4,1613.2L1582.3,1619.3L1582.5,1625.3L1583.4,1631.4L1585.7,1637.5L1586.4,1638.6L1589.4,1643.5L1591.6,1646.1L1594.7,1649.6L1596.8,1651.5L1601.9,1655.3L1602.7,1655.6ZM1922.7,1564.8L1923.3,1568.8L1923.3,1564.8L1923.3,1558.7L1923.3,1552.6L1923.3,1546.6L1923.3,1540.5L1923.3,1534.5L1923.3,1528.4L1923.3,1522.3L1923.3,1516.3L1923.3,1510.2L1923.3,1504.2L1923.3,1498.1L1923.3,1492.0L1923.3,1486.0L1923.3,1479.9L1923.3,1473.9L1923.3,1467.8L1923.3,1461.7L1923.3,1455.7L1923.3,1449.6L1923.3,1443.6L1923.3,1438.5L1920.4,1437.5L1918.1,1436.6L1912.9,1433.1L1911.3,1431.4L1907.8,1427.7L1905.9,1425.4L1902.6,1421.1L1901.3,1419.3L1897.4,1414.1L1896.8,1413.3L1892.2,1408.6L1890.7,1407.2L1887.0,1404.8L1881.8,1402.7L1876.7,1402.5L1871.5,1404.0L1866.3,1406.9L1865.8,1407.2L1861.7,1413.3L1861.1,1416.8L1860.8,1419.3L1861.1,1425.4L1861.1,1425.4L1862.4,1431.4L1865.0,1437.5L1866.3,1439.3L1869.3,1443.6L1871.5,1446.1L1874.8,1449.6L1876.7,1451.5L1881.5,1455.7L1881.8,1455.9L1887.0,1460.1L1888.8,1461.7L1892.2,1465.8L1893.5,1467.8L1896.4,1473.9L1897.4,1476.4L1898.5,1479.9L1900.3,1486.0L1902.1,1492.0L1902.6,1493.7L1903.8,1498.1L1905.8,1504.2L1907.8,1508.9L1908.2,1510.2L1910.9,1516.3L1912.9,1521.7L1913.2,1522.3L1915.1,1528.4L1916.8,1534.5L1918.1,1539.8L1918.3,1540.5L1919.8,1546.6L1921.0,1552.6L1921.9,1558.7L1922.7,1564.8Z"/>
<path fill="#00c864" fill-rule="evenodd" d="M1609.8,1631.4L1612.3,1633.3L1617.5,1635.3L1622.7,1636.0L1627.9,1634.0L1630.1,1631.4L1633.0,1626.7L1633.6,1625.3L1635.6,1619.3L1637.5,1613.2L1638.2,1610.7L1639.2,1607.2L1640.8,1601.1L1642.4,1595.1L1643.4,1591.4L1644.1,1589.0L1645.9,1582.9L1647.8,1576.9L1648.6,1574.5L1650.0,1570.8L1653.2,1564.8L1653.8,1563.8L1657.6,1558.7L1659.0,1557.3L1664.1,1552.6L1664.1,1552.6L1669.3,1547.6L1670.1,1546.6L1674.4,1540.5L1674.5,1540.3L1676.8,1534.5L1677.9,1528.4L1678.2,1522.3L1678.0,1516.3L1677.2,1510.2L1674.8,1504.2L1674.5,1503.6L1669.3,1499.4L1664.1,1499.4L1659.0,1501.3L1653.8,1504.0L1653.5,1504.2L1648.6,1508.2L1646.8,1510.2L1643.4,1514.8L1642.5,1516.3L1638.9,1522.3L1638.2,1523.5L1635.2,1528.4L1633.0,1531.9L1631.3,1534.5L1627.9,1538.9L1626.6,1540.5L1622.7,1545.1L1621.6,1546.6L1617.5,1551.9L1617.0,1552.6L1613.3,1558.7L1612.3,1560.5L1610.4,1564.8L1608.1,1570.8L1607.1,1573.7L1606.3,1576.9L1605.1,1582.9L1604.3,1589.0L1603.9,1595.1L1603.5,1601.1L1603.5,1607.2L1603.9,1613.2L1604.7,1619.3L1606.1,1625.3L1607.1,1627.8L1609.8,1631.4ZM1421.5,1564.8L1425.7,1566.5L1430.9,1568.4L1436.1,1569.8L1441.3,1570.3L1446.4,1570.2L1451.6,1569.7L1456.8,1568.5L1462.0,1566.1L1463.9,1564.8L1467.2,1561.9L1469.8,1558.7L1472.4,1554.7L1473.5,1552.6L1476.1,1546.6L1477.5,1541.9L1478.0,1540.5L1479.2,1534.5L1479.6,1528.4L1479.6,1522.3L1479.4,1516.3L1478.9,1510.2L1477.9,1504.2L1477.5,1502.6L1476.6,1498.1L1474.8,1492.0L1472.8,1486.0L1472.4,1484.4L1470.9,1479.9L1468.8,1473.9L1467.2,1469.5L1466.4,1467.8L1463.6,1461.7L1462.0,1458.3L1460.6,1455.7L1457.5,1449.6L1456.8,1448.3L1454.0,1443.6L1451.6,1440.0L1449.8,1437.5L1446.4,1433.0L1445.2,1431.4L1441.3,1426.6L1440.2,1425.4L1436.1,1420.7L1434.9,1419.3L1430.9,1415.0L1429.1,1413.3L1425.7,1410.2L1421.5,1407.2L1420.5,1406.6L1415.3,1404.1L1410.2,1402.4L1405.0,1401.2L1404.5,1401.1L1399.8,1400.3L1394.6,1399.8L1389.4,1399.5L1384.2,1399.5L1379.1,1399.6L1373.9,1400.0L1368.7,1400.8L1367.3,1401.1L1363.5,1402.0L1358.3,1403.5L1353.1,1405.7L1350.8,1407.2L1348.0,1409.5L1344.2,1413.3L1342.8,1415.1L1339.8,1419.3L1337.6,1423.4L1336.5,1425.4L1333.9,1431.4L1332.4,1437.4L1332.4,1437.5L1331.7,1443.6L1331.6,1449.6L1331.9,1455.7L1332.4,1459.3L1332.8,1461.7L1334.2,1467.8L1336.2,1473.9L1337.6,1477.4L1338.6,1479.9L1341.7,1486.0L1342.8,1487.5L1345.8,1492.0L1348.0,1494.8L1350.3,1498.1L1353.1,1502.0L1354.4,1504.2L1358.2,1510.2L1358.3,1510.4L1361.8,1516.3L1363.5,1519.1L1365.5,1522.3L1368.7,1527.3L1369.4,1528.4L1373.9,1534.5L1373.9,1534.5L1379.1,1540.1L1379.5,1540.5L1384.2,1544.6L1386.8,1546.6L1389.4,1548.4L1394.6,1551.7L1396.2,1552.6L1399.8,1554.6L1405.0,1557.3L1407.9,1558.7L1410.2,1559.8L1415.3,1562.1L1420.5,1564.4L1421.5,1564.8ZM1647.0,1358.7L1648.6,1359.2L1653.8,1360.0L1659.0,1360.4L1664.1,1360.7L1669.3,1360.7L1674.5,1360.4L1679.7,1359.9L1684.9,1359.2L1688.0,1358.7L1690.1,1358.5L1695.2,1358.0L1700.4,1357.4L1705.6,1356.7L1710.8,1355.8L1716.0,1354.8L1721.2,1353.4L1723.3,1352.7L1726.3,1351.7L1731.5,1349.8L1736.7,1347.1L1737.5,1346.6L1741.9,1342.4L1743.2,1340.5L1745.5,1334.5L1746.2,1328.4L1746.2,1322.4L1745.9,1316.3L1744.7,1310.2L1742.3,1304.2L1741.9,1303.4L1738.3,1298.1L1736.7,1296.2L1732.6,1292.1L1731.5,1291.1L1726.3,1287.0L1724.8,1286.0L1721.2,1283.6L1716.0,1280.8L1714.1,1279.9L1710.8,1278.4L1705.6,1276.4L1700.4,1274.6L1698.4,1273.9L1695.2,1272.9L1690.1,1271.3L1684.9,1269.7L1679.7,1268.3L1677.9,1267.8L1674.5,1266.8L1669.3,1265.3L1664.1,1263.6L1659.1,1261.8L1659.0,1261.7L1653.8,1259.4L1648.6,1257.1L1645.6,1255.7L1643.4,1254.7L1638.2,1252.4L1633.0,1250.3L1631.3,1249.6L1627.9,1248.5L1622.7,1246.8L1617.5,1245.3L1612.3,1243.9L1611.0,1243.6L1607.1,1242.6L1601.9,1241.3L1596.8,1240.1L1591.6,1239.0L1586.4,1238.0L1583.4,1237.5L1581.2,1237.2L1576.0,1236.4L1570.8,1235.7L1565.7,1235.0L1560.5,1234.3L1555.3,1233.5L1550.1,1232.6L1544.9,1231.9L1539.7,1232.1L1534.6,1233.8L1529.4,1237.4L1529.3,1237.5L1525.8,1243.6L1524.2,1249.1L1524.1,1249.6L1523.3,1255.7L1523.2,1261.8L1523.8,1267.8L1524.2,1269.8L1525.0,1273.9L1526.3,1279.9L1527.4,1286.0L1527.8,1292.1L1527.8,1298.1L1528.0,1304.2L1528.7,1310.2L1529.4,1312.2L1530.7,1316.3L1534.6,1322.1L1534.8,1322.4L1539.7,1326.3L1544.0,1328.4L1544.9,1328.9L1550.1,1331.0L1555.3,1332.5L1560.5,1333.7L1565.1,1334.5L1565.7,1334.7L1570.8,1336.0L1576.0,1337.2L1581.2,1338.3L1586.4,1339.3L1591.6,1340.3L1592.5,1340.5L1596.8,1342.1L1601.9,1343.9L1607.1,1345.6L1610.1,1346.6L1612.3,1347.5L1617.5,1349.5L1622.7,1351.2L1627.1,1352.7L1627.9,1352.9L1633.0,1354.9L1638.2,1356.7L1643.4,1358.0L1647.0,1358.7Z"/>
<path fill="#009632" fill-rule="evenodd" d="M1423.3,1546.6L1425.7,1547.8L1430.9,1550.0L1436.1,1551.4L1441.3,1551.6L1446.4,1550.6L1451.6,1548.8L1455.5,1546.6L1456.8,1545.6L1461.3,1540.5L1462.0,1539.3L1463.9,1534.5L1464.7,1528.4L1464.6,1522.3L1464.1,1516.3L1463.0,1510.2L1462.0,1507.0L1460.8,1504.2L1457.2,1498.1L1456.8,1497.6L1451.6,1492.0L1451.6,1492.0L1446.4,1487.3L1444.7,1486.0L1441.3,1483.0L1436.9,1479.9L1436.1,1479.2L1430.9,1475.6L1428.3,1473.9L1425.7,1471.8L1420.6,1467.8L1420.5,1467.8L1415.3,1464.0L1411.1,1461.7L1410.2,1461.2L1405.0,1459.3L1399.8,1458.2L1394.6,1459.4L1392.2,1461.7L1389.4,1466.1L1388.8,1467.8L1387.3,1473.9L1386.5,1479.9L1386.4,1486.0L1387.1,1492.0L1388.2,1498.1L1389.4,1504.2L1389.4,1504.2L1391.2,1510.2L1393.7,1516.3L1394.6,1518.2L1396.7,1522.3L1399.8,1527.6L1400.3,1528.4L1405.0,1534.2L1405.2,1534.5L1410.2,1538.5L1412.7,1540.5L1415.3,1542.1L1420.5,1545.1L1423.3,1546.6ZM1572.3,1316.3L1576.0,1317.6L1581.2,1319.0L1586.4,1320.0L1591.6,1320.6L1596.8,1321.1L1601.9,1321.4L1607.1,1321.6L1612.3,1321.7L1617.5,1321.7L1622.7,1321.7L1627.9,1321.6L1633.0,1321.4L1638.2,1321.1L1643.4,1320.1L1648.6,1316.4L1648.7,1316.3L1648.8,1310.2L1648.6,1309.8L1644.7,1304.2L1643.4,1303.3L1638.2,1300.6L1633.0,1298.6L1631.4,1298.1L1627.9,1297.3L1622.7,1296.3L1617.5,1295.5L1612.3,1294.9L1607.1,1294.4L1601.9,1294.1L1596.8,1294.0L1591.6,1294.0L1586.4,1294.4L1581.2,1295.4L1576.0,1297.2L1574.0,1298.1L1570.8,1299.9L1565.7,1303.8L1565.3,1304.2L1564.4,1310.2L1565.7,1311.5L1570.8,1315.4L1572.3,1316.3Z"/>
<path fill="#fffac8" fill-rule="evenodd" d="M1123.7,1782.9L1125.1,1782.9L1130.3,1782.9L1135.4,1782.9L1140.6,1782.9L1145.8,1782.9L1151.0,1782.9L1156.2,1782.9L1161.4,1782.9L1166.5,1782.9L1171.7,1782.9L1176.9,1782.9L1182.1,1782.9L1187.3,1782.9L1192.5,1782.9L1197.6,1782.9L1202.8,1782.9L1208.0,1782.9L1213.2,1782.9L1218.4,1782.9L1223.6,1782.9L1228.7,1782.9L1233.9,1782.9L1239.1,1782.9L1244.3,1782.9L1249.5,1782.9L1254.7,1782.9L1259.8,1782.9L1265.0,1782.9L1270.2,1782.9L1275.4,1782.9L1280.6,1782.9L1285.8,1782.9L1290.9,1782.9L1296.1,1782.9L1301.3,1782.9L1306.5,1782.9L1311.7,1782.9L1316.9,1782.9L1322.0,1782.9L1327.2,1782.9L1332.4,1782.9L1337.6,1782.9L1342.8,1782.9L1348.0,1782.9L1353.1,1782.9L1358.3,1782.9L1363.5,1782.9L1368.7,1782.9L1373.9,1782.9L1379.1,1782.9L1384.2,1782.9L1389.4,1782.9L1394.6,1782.9L1399.8,1782.9L1405.0,1782.9L1410.2,1782.9L1415.3,1782.9L1420.5,1782.9L1425.7,1782.9L1430.9,1782.9L1436.1,1782.9L1441.3,1782.9L1446.4,1782.9L1451.6,1782.9L1456.8,1782.9L1462.0,1782.9L1467.2,1782.9L1472.4,1782.9L1477.5,1782.9L1482.7,1782.9L1487.9,1782.9L1493.1,1782.9L1498.3,1782.9L1503.5,1782.9L1508.6,1782.9L1513.8,1782.9L1519.0,1782.9L1524.2,1782.9L1529.4,1782.9L1534.6,1782.9L1539.7,1782.9L1544.9,1782.9L1550.1,1782.9L1555.3,1782.9L1560.5,1782.9L1565.7,1782.9L1570.8,1782.9L1576.0,1782.9L1581.2,1782.9L1586.4,1782.9L1591.6,1782.9L1596.8,1782.9L1601.9,1782.9L1607.1,1782.9L1612.3,1782.9L1617.5,1782.9L1622.7,1782.9L1627.9,1782.9L1633.0,1782.9L1638.2,1782.9L1643.4,1782.9L1648.6,1782.9L1653.8,1782.9L1659.0,1782.9L1664.1,1782.9L1669.3,1782.9L1674.5,1782.9L1679.7,1782.9L1684.9,1782.9L1690.1,1782.9L1695.2,1782.9L1700.4,1782.9L1705.6,1782.9L1710.8,1782.9L1716.0,1782.9L1721.2,1782.9L1726.3,1782.9L1731.5,1782.9L1736.7,1782.9L1741.9,1782.9L1747.1,1782.9L1752.3,1782.9L1757.4,1782.9L1762.6,1782.9L1767.8,1782.9L1773.0,1782.9L1778.2,1782.9L1783.4,1782.9L1788.5,1782.9L1793.7,1782.9L1798.9,1782.9L1804.1,1782.9L1809.3,1782.9L1814.5,1782.9L1819.6,1782.9L1824.8,1782.9L1830.0,1782.9L1835.2,1782.9L1840.4,1782.9L1845.6,1782.9L1850.7,1782.9L1855.9,1782.9L1861.1,1782.9L1866.3,1782.9L1871.5,1782.9L1876.7,1782.9L1881.8,1782.9L1887.0,1782.9L1892.2,1782.9L1897.4,1782.9L1902.6,1782.9L1907.8,1782.9L1909.3,1782.9L1909.7,1776.8L1910.4,1770.8L1911.2,1764.7L1912.0,1758.7L1912.8,1752.6L1912.9,1751.8L1913.8,1746.5L1914.9,1740.5L1916.2,1734.4L1917.7,1728.4L1918.1,1726.8L1919.7,1722.3L1921.6,1716.2L1923.3,1710.3L1923.3,1710.2L1923.3,1704.1L1923.3,1698.1L1923.3,1692.0L1923.3,1685.9L1923.3,1679.9L1923.3,1673.8L1923.3,1667.8L1923.3,1661.7L1923.3,1655.6L1923.3,1649.6L1923.3,1643.5L1923.3,1637.5L1923.3,1631.4L1923.3,1625.3L1923.3,1619.3L1923.3,1613.2L1923.3,1611.1L1922.0,1607.2L1920.2,1601.1L1918.5,1595.1L1918.1,1593.5L1917.4,1589.0L1916.4,1582.9L1915.5,1576.9L1914.5,1570.8L1913.3,1564.8L1912.9,1563.2L1911.9,1558.7L1910.1,1552.6L1907.8,1547.1L1907.5,1546.6L1903.9,1540.5L1902.6,1538.5L1899.1,1534.5L1897.4,1532.2L1893.7,1528.4L1892.2,1526.7L1887.3,1522.3L1887.0,1522.1L1881.8,1518.2L1878.3,1516.3L1876.7,1515.2L1871.5,1512.2L1867.9,1510.2L1866.3,1509.0L1861.1,1505.0L1860.0,1504.2L1855.9,1500.2L1853.5,1498.1L1850.7,1495.5L1846.9,1492.0L1845.6,1490.9L1840.4,1486.0L1840.3,1486.0L1835.2,1480.1L1835.0,1479.9L1830.5,1473.9L1830.0,1473.2L1826.0,1467.8L1824.8,1466.1L1821.4,1461.7L1819.6,1459.4L1816.6,1455.7L1814.5,1453.2L1811.1,1449.6L1809.3,1447.8L1804.1,1443.7L1803.9,1443.6L1798.9,1441.2L1793.7,1441.3L1788.8,1443.6L1788.5,1443.7L1783.4,1448.0L1781.9,1449.6L1778.2,1454.2L1777.2,1455.7L1773.7,1461.7L1773.0,1463.0L1770.7,1467.8L1768.1,1473.9L1767.8,1474.6L1765.7,1479.9L1763.3,1486.0L1762.6,1487.6L1760.6,1492.0L1757.9,1498.1L1757.4,1499.0L1754.7,1504.2L1752.3,1509.1L1751.6,1510.2L1748.0,1516.3L1747.1,1518.0L1744.3,1522.3L1741.9,1526.3L1740.6,1528.4L1736.8,1534.5L1736.7,1534.6L1733.0,1540.5L1731.5,1542.9L1729.2,1546.6L1726.3,1551.2L1725.4,1552.6L1721.7,1558.7L1721.2,1559.6L1718.0,1564.8L1716.0,1567.9L1714.2,1570.8L1710.8,1576.0L1710.2,1576.9L1706.1,1582.9L1705.6,1583.5L1701.5,1589.0L1700.4,1590.2L1696.5,1595.1L1695.2,1596.6L1691.7,1601.1L1690.1,1603.3L1687.3,1607.2L1684.9,1611.0L1683.5,1613.2L1680.0,1619.3L1679.7,1619.9L1676.9,1625.3L1674.5,1630.7L1674.2,1631.4L1672.1,1637.5L1670.3,1643.5L1669.3,1646.8L1668.5,1649.6L1666.4,1655.6L1664.1,1661.2L1663.9,1661.7L1660.9,1667.8L1659.0,1671.1L1657.1,1673.8L1653.8,1678.8L1652.9,1679.9L1649.6,1685.9L1648.6,1691.8L1648.6,1692.0L1648.6,1692.4L1649.0,1698.1L1649.7,1704.1L1650.0,1710.2L1649.8,1716.2L1649.2,1722.3L1648.6,1724.0L1646.7,1728.4L1643.4,1731.2L1638.7,1734.4L1638.2,1734.6L1633.0,1736.2L1627.9,1737.2L1622.7,1737.5L1617.5,1737.3L1612.3,1736.8L1607.1,1736.2L1601.9,1735.4L1596.9,1734.4L1596.8,1734.4L1591.6,1732.4L1586.4,1729.7L1584.5,1728.4L1581.2,1723.6L1580.4,1722.3L1577.9,1716.2L1576.0,1711.8L1575.3,1710.2L1572.4,1704.1L1570.8,1701.4L1568.6,1698.1L1565.7,1694.8L1562.5,1692.0L1560.5,1690.6L1555.3,1687.5L1552.2,1685.9L1550.1,1684.8L1544.9,1681.2L1543.6,1679.9L1539.7,1674.3L1539.5,1673.8L1537.0,1667.8L1534.7,1661.7L1534.6,1661.3L1532.8,1655.6L1531.0,1649.6L1529.4,1644.0L1529.2,1643.5L1527.4,1637.5L1525.2,1631.4L1524.2,1628.7L1522.8,1625.3L1519.6,1619.3L1519.0,1618.4L1514.8,1613.2L1513.8,1612.3L1508.6,1608.6L1506.1,1607.2L1503.5,1605.9L1498.3,1603.9L1493.1,1602.3L1487.9,1601.1L1487.9,1601.1L1482.7,1600.2L1477.5,1599.4L1472.4,1598.7L1467.2,1598.2L1462.0,1597.7L1456.8,1597.1L1451.6,1596.4L1446.4,1595.6L1442.9,1595.1L1441.3,1594.8L1436.1,1593.8L1430.9,1592.5L1425.7,1590.9L1420.5,1589.2L1420.0,1589.0L1415.3,1587.5L1410.2,1585.8L1405.0,1584.1L1401.6,1582.9L1399.8,1582.3L1394.6,1580.7L1389.4,1579.0L1384.2,1577.3L1383.1,1576.9L1379.1,1575.5L1373.9,1573.6L1368.7,1571.6L1366.5,1570.8L1363.5,1569.6L1358.3,1567.4L1353.1,1565.4L1351.1,1564.8L1348.0,1563.8L1342.8,1562.6L1337.6,1561.4L1332.4,1560.1L1327.2,1558.7L1327.2,1558.7L1322.0,1557.1L1316.9,1555.4L1311.7,1553.6L1308.4,1552.6L1306.5,1552.1L1301.3,1550.8L1296.1,1549.5L1290.9,1548.3L1285.8,1547.2L1282.3,1546.6L1280.6,1546.2L1275.4,1545.3L1270.2,1544.8L1265.0,1545.0L1259.8,1546.1L1258.1,1546.6L1254.7,1547.6L1249.5,1549.5L1244.3,1551.8L1242.7,1552.6L1239.1,1554.7L1233.9,1558.3L1233.4,1558.7L1228.7,1563.3L1227.5,1564.8L1223.6,1570.4L1223.3,1570.8L1220.2,1576.9L1218.4,1582.1L1218.1,1582.9L1217.1,1589.0L1216.8,1595.1L1216.7,1601.1L1216.7,1607.2L1216.7,1613.2L1216.7,1619.3L1216.7,1625.3L1216.7,1631.4L1216.7,1637.5L1216.7,1643.5L1216.6,1649.6L1216.5,1655.6L1216.1,1661.7L1215.5,1667.8L1214.6,1673.8L1213.2,1679.6L1213.1,1679.9L1210.2,1685.9L1208.0,1689.1L1205.9,1692.0L1202.8,1695.7L1200.8,1698.1L1197.6,1701.5L1195.3,1704.1L1192.5,1707.2L1189.6,1710.2L1187.3,1712.5L1183.5,1716.2L1182.1,1717.6L1177.5,1722.3L1176.9,1722.8L1171.7,1728.2L1171.6,1728.4L1166.5,1732.9L1165.0,1734.4L1161.4,1737.3L1157.9,1740.5L1156.2,1741.9L1151.2,1746.5L1151.0,1746.8L1145.8,1752.2L1145.4,1752.6L1140.6,1757.8L1139.7,1758.7L1135.4,1763.3L1134.1,1764.7L1130.3,1769.4L1129.3,1770.8L1125.8,1776.8L1125.1,1778.7L1123.7,1782.9ZM1819.3,1352.7L1819.6,1352.7L1824.8,1353.6L1830.0,1354.4L1835.2,1355.0L1840.4,1355.2L1845.6,1354.9L1850.7,1354.0L1855.9,1352.9L1857.1,1352.7L1861.1,1351.7L1866.3,1350.1L1871.5,1348.2L1875.0,1346.6L1876.7,1345.7L1881.8,1343.2L1887.0,1341.3L1890.4,1340.5L1892.2,1340.0L1897.4,1338.8L1902.6,1337.5L1907.8,1335.9L1912.1,1334.5L1912.9,1334.1L1918.1,1332.1L1923.3,1330.5L1923.3,1328.4L1923.3,1322.4L1923.3,1316.3L1923.3,1310.2L1923.3,1304.2L1923.3,1298.1L1923.3,1292.1L1923.3,1286.0L1923.3,1279.9L1923.3,1273.9L1923.3,1267.8L1923.3,1261.8L1923.3,1255.7L1923.3,1249.6L1923.3,1243.6L1923.3,1237.5L1923.3,1231.5L1923.3,1225.4L1923.3,1219.4L1923.3,1213.3L1923.3,1207.2L1923.3,1201.2L1923.3,1195.1L1923.3,1189.1L1923.3,1183.0L1923.3,1181.4L1918.1,1182.0L1912.9,1182.8L1911.8,1183.0L1907.8,1183.7L1902.6,1184.7L1897.4,1185.8L1892.2,1187.0L1887.0,1188.3L1884.0,1189.1L1881.8,1189.6L1876.7,1190.7L1871.5,1191.7L1866.3,1192.7L1861.1,1193.7L1855.9,1194.9L1854.7,1195.1L1850.7,1196.0L1845.6,1197.3L1840.4,1199.1L1836.6,1201.2L1835.2,1201.9L1830.0,1205.4L1827.8,1207.2L1824.8,1209.2L1819.8,1213.3L1819.6,1213.4L1814.5,1217.3L1812.1,1219.4L1809.3,1221.8L1805.6,1225.4L1804.1,1227.0L1800.2,1231.5L1798.9,1233.2L1795.8,1237.5L1793.7,1240.8L1792.2,1243.6L1789.5,1249.6L1788.5,1251.8L1787.1,1255.7L1784.4,1261.8L1783.4,1264.0L1781.8,1267.8L1779.6,1273.9L1778.2,1278.6L1777.9,1279.9L1776.5,1286.0L1775.4,1292.1L1774.5,1298.1L1773.9,1304.2L1773.9,1310.2L1774.7,1316.3L1776.1,1322.4L1777.9,1328.4L1778.2,1329.0L1780.7,1334.5L1783.4,1338.5L1785.1,1340.5L1788.5,1343.7L1793.0,1346.6L1793.7,1347.0L1798.9,1349.1L1804.1,1350.3L1809.3,1351.2L1814.5,1352.0L1819.3,1352.7ZM1582.2,1170.9L1586.4,1171.7L1591.6,1172.7L1596.8,1173.5L1601.9,1174.3L1607.1,1175.0L1612.3,1175.4L1617.5,1175.7L1622.7,1175.9L1627.9,1175.6L1633.0,1174.7L1638.2,1173.4L1643.4,1171.9L1646.8,1170.9L1648.6,1170.2L1653.8,1168.2L1659.0,1166.0L1661.9,1164.8L1664.1,1163.2L1669.3,1159.6L1670.5,1158.8L1674.4,1152.7L1674.5,1152.2L1676.1,1146.6L1677.4,1140.6L1679.2,1134.5L1679.7,1133.3L1683.4,1128.5L1684.9,1127.2L1690.1,1125.2L1695.2,1124.2L1700.4,1123.5L1705.6,1123.1L1710.8,1122.6L1712.7,1122.4L1716.0,1121.9L1721.2,1121.1L1726.3,1120.2L1731.5,1119.1L1736.7,1117.5L1739.4,1116.3L1741.6,1110.3L1736.7,1108.5L1731.5,1107.3L1726.3,1106.7L1721.2,1106.6L1716.0,1106.7L1710.8,1107.0L1705.6,1107.7L1700.4,1108.6L1695.2,1109.6L1691.5,1110.3L1690.1,1111.1L1684.9,1113.5L1679.7,1115.2L1674.5,1116.2L1669.3,1116.2L1664.1,1115.3L1659.0,1114.0L1653.8,1112.7L1648.6,1111.3L1645.1,1110.3L1643.4,1109.9L1638.2,1108.7L1633.0,1107.5L1627.9,1106.3L1622.7,1105.2L1618.5,1104.2L1617.5,1104.0L1612.3,1103.0L1607.1,1102.0L1601.9,1101.0L1596.8,1100.0L1591.6,1099.1L1586.4,1098.3L1585.0,1098.2L1581.2,1097.8L1576.0,1097.4L1570.8,1097.1L1565.7,1096.8L1560.5,1096.7L1555.3,1096.6L1550.1,1096.4L1544.9,1095.6L1539.7,1093.8L1536.5,1092.1L1534.6,1091.1L1529.4,1088.1L1526.4,1086.0L1524.2,1084.5L1519.0,1080.4L1518.5,1080.0L1513.8,1075.8L1511.7,1073.9L1508.6,1071.0L1504.9,1067.9L1503.5,1066.2L1498.4,1061.8L1498.3,1061.8L1493.1,1061.8L1487.9,1061.8L1482.7,1061.8L1477.5,1061.8L1472.4,1061.8L1467.2,1061.8L1462.0,1061.8L1456.8,1061.8L1451.6,1061.8L1450.4,1061.8L1446.4,1065.5L1444.5,1067.9L1441.3,1071.0L1439.0,1073.9L1436.1,1077.8L1434.9,1080.0L1431.8,1086.0L1430.9,1088.1L1429.4,1092.1L1427.4,1098.2L1426.1,1104.2L1425.9,1110.3L1427.6,1116.3L1430.9,1121.5L1431.7,1122.4L1436.1,1126.1L1440.6,1128.5L1441.3,1128.7L1446.4,1130.1L1451.6,1130.9L1456.8,1131.3L1462.0,1131.3L1467.2,1131.1L1472.4,1130.8L1477.5,1130.6L1482.7,1130.5L1487.9,1130.6L1493.1,1130.8L1498.3,1131.2L1503.5,1131.8L1508.6,1133.0L1513.0,1134.5L1513.8,1134.8L1519.0,1137.8L1522.5,1140.6L1524.2,1142.4L1527.6,1146.6L1529.4,1149.1L1531.7,1152.7L1534.6,1155.6L1537.6,1158.8L1539.7,1160.0L1544.9,1162.3L1550.1,1164.0L1553.2,1164.8L1555.3,1165.2L1560.5,1166.1L1565.7,1167.1L1570.8,1168.2L1576.0,1169.4L1581.2,1170.6L1582.2,1170.9Z"/>
<path fill="#ffc864" fill-rule="evenodd" d="M1143.4,1782.9L1145.8,1782.9L1151.0,1782.9L1156.2,1782.9L1161.4,1782.9L1166.5,1782.9L1171.7,1782.9L1176.9,1782.9L1182.1,1782.9L1187.3,1782.9L1192.5,1782.9L1197.6,1782.9L1202.8,1782.9L1208.0,1782.9L1213.2,1782.9L1218.4,1782.9L1223.6,1782.9L1228.7,1782.9L1233.9,1782.9L1239.1,1782.9L1244.3,1782.9L1249.5,1782.9L1254.7,1782.9L1259.8,1782.9L1265.0,1782.9L1270.2,1782.9L1275.4,1782.9L1280.6,1782.9L1285.8,1782.9L1290.9,1782.9L1296.1,1782.9L1301.3,1782.9L1306.5,1782.9L1311.7,1782.9L1316.9,1782.9L1322.0,1782.9L1327.2,1782.9L1332.4,1782.9L1337.6,1782.9L1342.8,1782.9L1348.0,1782.9L1353.1,1782.9L1358.3,1782.9L1363.5,1782.9L1368.7,1782.9L1373.9,1782.9L1379.1,1782.9L1384.2,1782.9L1389.4,1782.9L1394.6,1782.9L1399.8,1782.9L1405.0,1782.9L1410.2,1782.9L1415.3,1782.9L1420.5,1782.9L1425.7,1782.9L1430.9,1782.9L1436.1,1782.9L1441.3,1782.9L1446.4,1782.9L1451.6,1782.9L1456.8,1782.9L1462.0,1782.9L1467.2,1782.9L1472.4,1782.9L1477.5,1782.9L1482.7,1782.9L1487.9,1782.9L1493.1,1782.9L1498.3,1782.9L1503.5,1782.9L1508.6,1782.9L1513.8,1782.9L1519.0,1782.9L1524.2,1782.9L1529.4,1782.9L1534.6,1782.9L1539.7,1782.9L1544.9,1782.9L1550.1,1782.9L1555.3,1782.9L1560.5,1782.9L1565.7,1782.9L1570.8,1782.9L1576.0,1782.9L1581.2,1782.9L1586.4,1782.9L1591.6,1782.9L1596.8,1782.9L1601.9,1782.9L1607.1,1782.9L1612.3,1782.9L1617.5,1782.9L1622.7,1782.9L1627.9,1782.9L1633.0,1782.9L1638.2,1782.9L1643.4,1782.9L1648.6,1782.9L1653.8,1782.9L1659.0,1782.9L1664.1,1782.9L1669.3,1782.9L1674.5,1782.9L1679.7,1782.9L1684.9,1782.9L1690.1,1782.9L1695.2,1782.9L1700.4,1782.9L1705.6,1782.9L1710.8,1782.9L1716.0,1782.9L1721.2,1782.9L1726.3,1782.9L1731.5,1782.9L1736.7,1782.9L1741.9,1782.9L1747.1,1782.9L1752.3,1782.9L1757.4,1782.9L1762.6,1782.9L1767.8,1782.9L1773.0,1782.9L1778.2,1782.9L1783.4,1782.9L1788.5,1782.9L1793.7,1782.9L1798.9,1782.9L1804.1,1782.9L1809.3,1782.9L1814.5,1782.9L1819.6,1782.9L1824.8,1782.9L1830.0,1782.9L1833.9,1782.9L1835.2,1779.4L1837.5,1776.8L1840.4,1774.4L1845.6,1776.4L1846.0,1776.8L1849.3,1782.9L1850.7,1782.9L1855.9,1782.9L1861.1,1782.9L1866.3,1782.9L1871.5,1782.9L1876.7,1782.9L1881.8,1782.9L1887.0,1782.9L1892.2,1782.9L1897.4,1782.9L1902.6,1782.9L1903.4,1782.9L1903.8,1776.8L1904.3,1770.8L1904.9,1764.7L1905.5,1758.7L1906.2,1752.6L1906.9,1746.5L1907.8,1740.8L1907.8,1740.5L1909.0,1734.4L1910.7,1728.4L1912.5,1722.3L1912.9,1720.8L1914.3,1716.2L1916.0,1710.2L1917.5,1704.1L1918.1,1701.2L1919.0,1698.1L1920.6,1692.0L1922.1,1685.9L1923.3,1680.3L1923.3,1679.9L1923.3,1673.8L1923.3,1667.8L1923.3,1661.7L1923.3,1655.6L1923.3,1649.6L1923.3,1643.5L1923.3,1637.5L1923.3,1631.4L1923.3,1625.3L1923.3,1619.3L1923.3,1619.3L1921.4,1613.2L1919.6,1607.2L1918.1,1602.0L1918.0,1601.1L1916.9,1595.1L1915.9,1589.0L1915.0,1582.9L1914.0,1576.9L1912.9,1570.8L1912.9,1570.8L1911.7,1564.8L1910.2,1558.7L1908.2,1552.6L1907.8,1551.6L1905.3,1546.6L1902.6,1542.4L1901.1,1540.5L1897.4,1536.1L1895.7,1534.5L1892.2,1530.8L1889.3,1528.4L1887.0,1526.3L1881.8,1522.6L1881.2,1522.3L1876.7,1519.7L1871.5,1517.3L1869.2,1516.3L1866.3,1514.7L1861.1,1511.7L1858.4,1510.2L1855.9,1508.3L1850.7,1504.4L1850.4,1504.2L1845.6,1499.9L1843.5,1498.1L1840.4,1495.1L1837.3,1492.0L1835.2,1489.8L1831.9,1486.0L1830.0,1483.6L1827.2,1479.9L1824.8,1476.7L1822.6,1473.9L1819.6,1469.9L1818.0,1467.8L1814.5,1463.4L1813.0,1461.7L1809.3,1457.5L1807.4,1455.7L1804.1,1452.7L1798.9,1450.0L1793.7,1450.1L1788.5,1453.1L1785.9,1455.7L1783.4,1458.4L1780.8,1461.7L1778.2,1465.6L1776.9,1467.8L1773.7,1473.9L1773.0,1475.2L1770.9,1479.9L1768.2,1486.0L1767.8,1486.8L1765.5,1492.0L1762.8,1498.1L1762.6,1498.5L1760.0,1504.2L1757.4,1510.0L1757.3,1510.2L1754.4,1516.3L1752.3,1520.7L1751.3,1522.3L1748.0,1528.4L1747.1,1530.1L1744.5,1534.5L1741.9,1538.9L1740.9,1540.5L1737.3,1546.6L1736.7,1547.6L1733.6,1552.6L1731.5,1556.2L1730.0,1558.7L1726.3,1564.6L1726.3,1564.8L1722.4,1570.8L1721.2,1572.7L1718.3,1576.9L1716.0,1580.1L1713.9,1582.9L1710.8,1586.6L1708.9,1589.0L1705.6,1592.8L1703.7,1595.1L1700.4,1598.9L1698.6,1601.1L1695.2,1605.3L1693.8,1607.2L1690.1,1612.6L1689.6,1613.2L1686.0,1619.3L1684.9,1621.2L1682.7,1625.3L1679.9,1631.4L1679.7,1632.1L1677.9,1637.5L1676.3,1643.5L1674.9,1649.6L1674.5,1651.4L1673.4,1655.6L1671.7,1661.7L1669.7,1667.8L1669.3,1668.7L1667.2,1673.8L1664.6,1679.9L1664.1,1681.3L1662.4,1685.9L1661.4,1692.0L1661.2,1698.1L1661.0,1704.1L1660.7,1710.2L1660.1,1716.2L1659.3,1722.3L1659.0,1723.3L1657.2,1728.4L1653.8,1732.5L1651.9,1734.4L1648.6,1736.3L1643.4,1738.6L1638.2,1740.4L1637.8,1740.5L1633.0,1741.5L1627.9,1742.2L1622.7,1742.2L1617.5,1741.8L1612.3,1741.3L1607.1,1740.7L1605.9,1740.5L1601.9,1739.7L1596.8,1738.5L1591.6,1737.2L1586.4,1735.4L1584.4,1734.4L1581.2,1732.0L1577.1,1728.4L1576.0,1726.7L1573.2,1722.3L1570.8,1717.7L1570.0,1716.2L1566.6,1710.2L1565.7,1708.7L1562.5,1704.1L1560.5,1701.7L1556.8,1698.1L1555.3,1696.8L1550.1,1693.2L1548.3,1692.0L1544.9,1689.7L1540.1,1685.9L1539.7,1685.6L1535.1,1679.9L1534.6,1678.9L1531.9,1673.8L1529.4,1667.8L1529.4,1667.7L1527.2,1661.7L1525.0,1655.6L1524.2,1653.3L1523.0,1649.6L1520.8,1643.5L1519.0,1639.4L1518.2,1637.5L1515.0,1631.4L1513.8,1629.4L1511.0,1625.3L1508.6,1622.5L1505.5,1619.3L1503.5,1617.5L1498.3,1613.7L1497.6,1613.2L1493.1,1610.7L1487.9,1608.3L1485.1,1607.2L1482.7,1606.4L1477.5,1604.8L1472.4,1603.5L1467.2,1602.4L1462.0,1601.5L1459.9,1601.1L1456.8,1600.6L1451.6,1599.8L1446.4,1598.9L1441.3,1598.0L1436.1,1597.0L1430.9,1595.7L1428.7,1595.1L1425.7,1594.2L1420.5,1592.6L1415.3,1591.0L1410.2,1589.3L1409.3,1589.0L1405.0,1587.7L1399.8,1586.0L1394.6,1584.3L1390.0,1582.9L1389.4,1582.8L1384.2,1581.3L1379.1,1579.7L1373.9,1578.0L1370.0,1576.9L1368.7,1576.4L1363.5,1574.8L1358.3,1573.1L1353.1,1571.6L1349.2,1570.8L1348.0,1570.6L1342.8,1570.0L1337.6,1569.4L1332.4,1568.9L1327.2,1568.3L1322.0,1567.6L1316.9,1566.8L1311.7,1565.9L1306.5,1565.2L1303.0,1564.8L1301.3,1564.5L1296.1,1564.0L1290.9,1563.5L1285.8,1563.2L1280.6,1563.1L1275.4,1563.2L1270.2,1563.9L1267.6,1564.8L1265.0,1565.7L1259.8,1568.8L1257.1,1570.8L1254.7,1573.0L1250.8,1576.9L1249.5,1578.6L1246.5,1582.9L1244.3,1588.2L1244.0,1589.0L1242.7,1595.1L1241.8,1601.1L1241.1,1607.2L1240.5,1613.2L1240.0,1619.3L1239.6,1625.3L1239.3,1631.4L1239.1,1636.7L1239.1,1637.5L1239.0,1643.5L1239.0,1649.6L1238.9,1655.6L1238.6,1661.7L1238.2,1667.8L1237.6,1673.8L1236.5,1679.9L1234.6,1685.9L1233.9,1687.4L1231.7,1692.0L1228.7,1697.2L1228.2,1698.1L1224.1,1704.1L1223.6,1705.0L1219.5,1710.2L1218.4,1711.5L1214.2,1716.2L1213.2,1717.3L1208.4,1722.3L1208.0,1722.6L1202.8,1727.3L1201.6,1728.4L1197.6,1731.0L1192.5,1734.4L1192.4,1734.4L1187.3,1737.0L1182.1,1739.9L1181.1,1740.5L1176.9,1742.9L1171.7,1746.5L1171.7,1746.5L1166.5,1750.6L1164.3,1752.6L1161.4,1755.5L1158.4,1758.7L1156.2,1761.2L1153.4,1764.7L1151.0,1768.2L1149.3,1770.8L1145.9,1776.8L1145.8,1777.1L1143.4,1782.9ZM1803.3,1346.6L1804.1,1346.8L1809.3,1347.6L1814.5,1348.3L1819.6,1349.0L1824.8,1349.6L1830.0,1350.2L1835.2,1350.6L1840.4,1350.6L1845.6,1350.0L1850.7,1348.8L1855.9,1347.3L1857.8,1346.6L1861.1,1345.3L1866.3,1342.8L1870.2,1340.5L1871.5,1339.6L1876.7,1335.2L1877.6,1334.5L1881.8,1330.2L1884.2,1328.4L1887.0,1326.0L1892.2,1323.1L1893.7,1322.4L1897.4,1320.3L1902.6,1317.4L1904.4,1316.3L1907.8,1313.9L1912.9,1310.2L1912.9,1310.2L1918.1,1306.1L1921.7,1304.2L1923.3,1303.3L1923.3,1298.1L1923.3,1292.1L1923.3,1286.0L1923.3,1279.9L1923.3,1273.9L1923.3,1267.8L1923.3,1261.8L1923.3,1255.7L1923.3,1249.6L1923.3,1243.6L1923.3,1237.5L1923.3,1231.5L1923.3,1225.4L1923.3,1219.4L1923.3,1213.3L1923.3,1207.2L1923.3,1201.2L1923.3,1199.9L1918.1,1200.9L1917.1,1201.2L1912.9,1202.5L1907.8,1204.4L1902.6,1206.4L1900.6,1207.2L1897.4,1208.9L1892.2,1211.8L1889.4,1213.3L1887.0,1214.9L1881.8,1217.6L1876.7,1219.0L1873.2,1219.4L1871.5,1219.5L1866.3,1219.7L1861.1,1219.8L1855.9,1219.8L1850.7,1219.8L1845.6,1220.0L1840.4,1220.6L1835.2,1222.3L1830.0,1224.9L1829.1,1225.4L1824.8,1228.1L1820.3,1231.5L1819.6,1232.0L1814.5,1236.5L1813.5,1237.5L1809.3,1241.9L1807.9,1243.6L1804.1,1248.3L1803.2,1249.6L1798.9,1255.5L1798.8,1255.7L1794.2,1261.8L1793.7,1262.3L1789.7,1267.8L1788.5,1269.5L1786.1,1273.9L1783.4,1279.8L1783.3,1279.9L1781.2,1286.0L1779.4,1292.1L1778.2,1297.2L1778.0,1298.1L1777.1,1304.2L1776.9,1310.2L1777.7,1316.3L1778.2,1318.3L1779.2,1322.4L1781.4,1328.4L1783.4,1332.4L1784.5,1334.5L1788.5,1339.3L1789.9,1340.5L1793.7,1343.3L1798.9,1345.5L1803.3,1346.6ZM1464.0,1116.3L1467.2,1117.0L1472.4,1117.7L1477.5,1118.2L1482.7,1118.4L1487.9,1118.3L1493.1,1118.0L1498.3,1117.5L1503.5,1116.5L1503.9,1116.3L1508.6,1112.9L1510.9,1110.3L1509.3,1104.2L1508.6,1103.5L1503.7,1098.2L1503.5,1098.0L1498.3,1094.6L1493.1,1092.4L1492.1,1092.1L1487.9,1090.9L1482.7,1090.0L1477.5,1090.1L1472.4,1091.4L1470.7,1092.1L1467.2,1093.6L1462.0,1096.6L1460.0,1098.2L1456.8,1101.5L1454.8,1104.2L1454.5,1110.3L1456.8,1112.3L1462.0,1115.5L1464.0,1116.3Z"/>
<path fill="#ff9600" fill-rule="evenodd" d="M1167.6,1782.9L1171.7,1782.9L1176.9,1782.9L1182.1,1782.9L1187.3,1782.9L1192.5,1782.9L1197.6,1782.9L1202.8,1782.9L1208.0,1782.9L1213.2,1782.9L1218.4,1782.9L1223.6,1782.9L1228.7,1782.9L1233.9,1782.9L1239.1,1782.9L1244.3,1782.9L1249.5,1782.9L1254.7,1782.9L1259.8,1782.9L1265.0,1782.9L1270.2,1782.9L1275.4,1782.9L1280.6,1782.9L1285.8,1782.9L1290.9,1782.9L1296.1,1782.9L1301.3,1782.9L1306.5,1782.9L1311.7,1782.9L1316.9,1782.9L1322.0,1782.9L1327.2,1782.9L1332.4,1782.9L1337.6,1782.9L1342.8,1782.9L1348.0,1782.9L1353.1,1782.9L1358.3,1782.9L1363.5,1782.9L1368.7,1782.9L1373.9,1782.9L1379.1,1782.9L1384.2,1782.9L1389.4,1782.9L1394.6,1782.9L1399.8,1782.9L1405.0,1782.9L1410.2,1782.9L1415.3,1782.9L1420.5,1782.9L1425.7,1782.9L1430.9,1782.9L1436.1,1782.9L1441.3,1782.9L1446.4,1782.9L1451.6,1782.9L1456.8,1782.9L1462.0,1782.9L1467.2,1782.9L1472.4,1782.9L1477.5,1782.9L1482.7,1782.9L1487.9,1782.9L1493.1,1782.9L1498.3,1782.9L1503.5,1782.9L1508.6,1782.9L1513.8,1782.9L1519.0,1782.9L1524.2,1782.9L1529.4,1782.9L1534.6,1782.9L1539.7,1782.9L1544.9,1782.9L1550.1,1782.9L1555.3,1782.9L1560.5,1782.9L1565.7,1782.9L1570.8,1782.9L1576.0,1782.9L1581.2,1782.9L1586.4,1782.9L1591.6,1782.9L1596.8,1782.9L1601.9,1782.9L1607.1,1782.9L1612.3,1782.9L1617.5,1782.9L1622.7,1782.9L1627.9,1782.9L1633.0,1782.9L1638.2,1782.9L1643.4,1782.9L1648.6,1782.9L1653.8,1782.9L1659.0,1782.9L1664.1,1782.9L1669.3,1782.9L1674.5,1782.9L1679.7,1782.9L1684.9,1782.9L1690.1,1782.9L1695.2,1782.9L1700.4,1782.9L1705.6,1782.9L1710.8,1782.9L1716.0,1782.9L1721.2,1782.9L1726.3,1782.9L1731.5,1782.9L1736.7,1782.9L1741.9,1782.9L1747.1,1782.9L1752.3,1782.9L1757.4,1782.9L1762.6,1782.9L1767.8,1782.9L1773.0,1782.9L1778.2,1782.9L1783.4,1782.9L1788.5,1782.9L1793.7,1782.9L1798.9,1782.9L1804.1,1782.9L1809.3,1782.9L1814.5,1782.9L1819.6,1782.9L1824.1,1782.9L1824.8,1779.7L1825.5,1776.8L1827.8,1770.8L1830.0,1765.8L1830.7,1764.7L1834.5,1758.7L1835.2,1757.7L1840.4,1753.8L1845.6,1753.9L1850.7,1756.9L1852.7,1758.7L1855.9,1762.1L1858.0,1764.7L1861.1,1770.0L1861.5,1770.8L1864.1,1776.8L1865.6,1782.9L1866.3,1782.9L1871.5,1782.9L1876.7,1782.9L1881.8,1782.9L1887.0,1782.9L1891.5,1782.9L1891.8,1776.8L1892.1,1770.8L1892.2,1768.4L1892.4,1764.7L1892.7,1758.7L1893.1,1752.6L1893.5,1746.5L1894.0,1740.5L1895.3,1734.4L1897.4,1728.4L1897.4,1728.4L1900.0,1722.3L1902.5,1716.2L1902.6,1716.0L1904.7,1710.2L1906.7,1704.1L1907.8,1700.8L1908.6,1698.1L1910.2,1692.0L1911.7,1685.9L1912.9,1680.9L1913.2,1679.9L1914.6,1673.8L1915.9,1667.8L1917.0,1661.7L1918.0,1655.6L1918.1,1655.1L1919.2,1649.6L1920.2,1643.5L1920.6,1637.5L1920.1,1631.4L1918.8,1625.3L1918.1,1622.6L1917.5,1619.3L1916.5,1613.2L1915.5,1607.2L1914.6,1601.1L1913.8,1595.1L1913.0,1589.0L1912.9,1588.7L1912.2,1582.9L1911.3,1576.9L1910.1,1570.8L1908.7,1564.8L1907.8,1561.6L1906.9,1558.7L1904.4,1552.6L1902.6,1549.4L1900.7,1546.6L1897.4,1542.4L1895.6,1540.5L1892.2,1537.2L1888.5,1534.5L1887.0,1533.1L1881.8,1529.8L1878.3,1528.4L1876.7,1527.5L1871.5,1525.5L1866.3,1523.7L1862.6,1522.3L1861.1,1521.7L1855.9,1519.4L1850.7,1516.9L1849.5,1516.3L1845.6,1514.0L1840.4,1510.6L1839.9,1510.2L1835.2,1506.1L1833.1,1504.2L1830.0,1500.9L1827.5,1498.1L1824.8,1495.1L1822.2,1492.0L1819.6,1488.9L1817.2,1486.0L1814.5,1482.4L1812.4,1479.9L1809.3,1476.0L1807.3,1473.9L1804.1,1470.5L1799.8,1467.8L1798.9,1467.2L1793.7,1467.6L1793.4,1467.8L1788.5,1471.6L1786.7,1473.9L1783.4,1478.3L1782.3,1479.9L1778.6,1486.0L1778.2,1486.7L1775.3,1492.0L1773.0,1496.3L1772.1,1498.1L1769.3,1504.2L1767.8,1507.6L1766.7,1510.2L1764.3,1516.3L1762.6,1520.6L1761.9,1522.3L1759.5,1528.4L1757.4,1533.7L1757.1,1534.5L1754.5,1540.5L1752.3,1545.8L1751.8,1546.6L1748.8,1552.6L1747.1,1556.0L1745.6,1558.7L1742.5,1564.8L1741.9,1566.0L1739.3,1570.8L1736.7,1575.6L1736.0,1576.9L1732.5,1582.9L1731.5,1584.6L1728.5,1589.0L1726.3,1591.8L1723.2,1595.1L1721.2,1596.9L1716.0,1600.9L1715.8,1601.1L1710.8,1605.4L1709.1,1607.2L1705.6,1611.0L1703.9,1613.2L1700.4,1617.9L1699.4,1619.3L1695.5,1625.3L1695.2,1625.8L1692.4,1631.4L1690.4,1637.5L1690.1,1639.4L1689.4,1643.5L1688.8,1649.6L1688.2,1655.6L1687.5,1661.7L1686.5,1667.8L1685.4,1673.8L1684.9,1675.8L1683.9,1679.9L1682.0,1685.9L1680.2,1692.0L1679.7,1693.6L1678.5,1698.1L1677.1,1704.1L1675.9,1710.2L1674.8,1716.2L1674.5,1718.0L1673.6,1722.3L1672.0,1728.4L1669.3,1734.2L1669.2,1734.4L1664.1,1739.4L1662.7,1740.5L1659.0,1742.6L1653.8,1745.0L1649.5,1746.5L1648.6,1746.8L1643.4,1748.2L1638.2,1749.2L1633.0,1750.0L1627.9,1750.4L1622.7,1750.1L1617.5,1749.4L1612.3,1748.6L1607.1,1747.7L1601.9,1746.6L1601.6,1746.5L1596.8,1745.4L1591.6,1744.0L1586.4,1742.4L1581.8,1740.5L1581.2,1740.2L1576.0,1737.0L1571.9,1734.4L1570.8,1733.4L1565.7,1728.4L1565.6,1728.4L1561.5,1722.3L1560.5,1720.6L1557.7,1716.2L1555.3,1712.9L1553.0,1710.2L1550.1,1707.0L1547.0,1704.1L1544.9,1702.3L1539.9,1698.1L1539.7,1697.9L1534.6,1693.3L1533.2,1692.0L1529.4,1688.2L1527.3,1685.9L1524.2,1681.5L1523.1,1679.9L1520.3,1673.8L1519.0,1670.6L1517.9,1667.8L1515.5,1661.7L1513.8,1657.6L1513.0,1655.6L1510.1,1649.6L1508.6,1647.0L1506.5,1643.5L1503.5,1639.1L1502.2,1637.5L1498.3,1632.8L1497.0,1631.4L1493.1,1627.4L1490.9,1625.3L1487.9,1622.9L1482.9,1619.3L1482.7,1619.2L1477.5,1616.1L1472.4,1613.4L1472.0,1613.2L1467.2,1611.2L1462.0,1609.5L1456.8,1608.0L1453.4,1607.2L1451.6,1606.8L1446.4,1605.7L1441.3,1604.6L1436.1,1603.5L1430.9,1602.4L1425.9,1601.1L1425.7,1601.1L1420.5,1599.7L1415.3,1598.3L1410.2,1596.9L1405.0,1595.4L1403.7,1595.1L1399.8,1593.9L1394.6,1592.5L1389.4,1591.2L1384.2,1589.9L1380.6,1589.0L1379.1,1588.6L1373.9,1587.5L1368.7,1586.5L1363.5,1585.6L1358.3,1584.7L1353.1,1584.2L1348.0,1584.3L1342.8,1585.0L1337.6,1585.9L1332.4,1587.1L1327.2,1588.5L1325.4,1589.0L1322.0,1590.1L1316.9,1592.3L1311.7,1594.7L1310.8,1595.1L1306.5,1597.2L1301.3,1599.7L1298.6,1601.1L1296.1,1602.6L1290.9,1606.5L1290.2,1607.2L1285.8,1612.2L1285.0,1613.2L1281.3,1619.3L1280.6,1620.8L1278.6,1625.3L1276.6,1631.4L1275.6,1637.5L1275.4,1640.8L1275.2,1643.5L1275.1,1649.6L1275.0,1655.6L1274.7,1661.7L1274.2,1667.8L1273.5,1673.8L1272.3,1679.9L1270.2,1685.3L1270.0,1685.9L1266.7,1692.0L1265.0,1694.6L1263.0,1698.1L1259.8,1703.2L1259.3,1704.1L1255.9,1710.2L1254.7,1712.4L1252.6,1716.2L1249.5,1721.9L1249.3,1722.3L1245.8,1728.4L1244.3,1730.7L1241.8,1734.4L1239.1,1737.8L1236.8,1740.5L1233.9,1743.4L1230.2,1746.5L1228.7,1747.7L1223.6,1750.7L1219.0,1752.6L1218.4,1752.8L1213.2,1754.4L1208.0,1755.9L1202.8,1757.4L1198.5,1758.7L1197.6,1758.9L1192.5,1760.5L1187.3,1762.5L1183.4,1764.7L1182.1,1765.5L1176.9,1769.7L1175.9,1770.8L1171.7,1775.7L1170.8,1776.8L1167.6,1782.9ZM1810.6,1340.5L1814.5,1340.9L1819.6,1341.4L1824.8,1341.9L1830.0,1342.2L1835.2,1342.4L1840.4,1341.9L1845.5,1340.5L1845.6,1340.5L1850.7,1338.2L1855.9,1335.1L1856.8,1334.5L1861.1,1330.6L1863.2,1328.4L1866.3,1324.3L1867.6,1322.4L1870.8,1316.3L1871.5,1314.3L1872.8,1310.2L1873.4,1304.2L1873.0,1298.1L1872.1,1292.1L1871.5,1288.5L1871.0,1286.0L1869.5,1279.9L1867.5,1273.9L1866.3,1270.9L1864.8,1267.8L1861.1,1261.9L1861.0,1261.8L1855.9,1256.3L1855.3,1255.7L1850.7,1252.2L1845.9,1249.6L1845.6,1249.5L1840.4,1248.5L1835.2,1249.6L1835.2,1249.7L1830.0,1252.6L1826.1,1255.7L1824.8,1256.7L1819.6,1260.9L1818.7,1261.8L1814.5,1265.0L1810.9,1267.8L1809.3,1268.9L1804.1,1272.6L1802.4,1273.9L1798.9,1276.6L1795.7,1279.9L1793.7,1282.1L1791.2,1286.0L1788.5,1290.6L1787.9,1292.1L1785.4,1298.1L1783.6,1304.2L1783.4,1307.4L1783.1,1310.2L1783.4,1312.0L1784.0,1316.3L1785.9,1322.4L1788.5,1328.2L1788.7,1328.4L1793.3,1334.5L1793.7,1334.9L1798.9,1338.0L1804.1,1339.6L1809.3,1340.4L1810.6,1340.5Z"/>
<path fill="#ff0000" fill-rule="evenodd" d="M1418.1,1782.9L1420.5,1782.9L1425.7,1782.9L1430.9,1782.9L1436.1,1782.9L1441.3,1782.9L1446.4,1782.9L1451.6,1782.9L1456.8,1782.9L1462.0,1782.9L1467.2,1782.9L1472.4,1782.9L1477.5,1782.9L1482.7,1782.9L1487.9,1782.9L1493.1,1782.9L1498.3,1782.9L1503.5,1782.9L1508.6,1782.9L1513.8,1782.9L1519.0,1782.9L1524.2,1782.9L1529.4,1782.9L1534.6,1782.9L1539.7,1782.9L1544.9,1782.9L1550.1,1782.9L1555.3,1782.9L1560.5,1782.9L1565.7,1782.9L1570.8,1782.9L1576.0,1782.9L1581.2,1782.9L1586.4,1782.9L1591.6,1782.9L1596.8,1782.9L1601.9,1782.9L1607.1,1782.9L1612.3,1782.9L1617.5,1782.9L1622.7,1782.9L1627.9,1782.9L1633.0,1782.9L1638.2,1782.9L1643.4,1782.9L1648.6,1782.9L1653.8,1782.9L1659.0,1782.9L1664.1,1782.9L1669.3,1782.9L1674.5,1782.9L1679.7,1782.9L1684.9,1782.9L1690.1,1782.9L1695.2,1782.9L1700.4,1782.9L1705.6,1782.9L1710.8,1782.9L1716.0,1782.9L1721.2,1782.9L1726.3,1782.9L1731.5,1782.9L1736.7,1782.9L1741.9,1782.9L1747.1,1782.9L1752.3,1782.9L1757.4,1782.9L1762.6,1782.9L1767.8,1782.9L1773.0,1782.9L1778.2,1782.9L1783.4,1782.9L1788.5,1782.9L1793.7,1782.9L1798.9,1782.9L1804.1,1782.9L1808.2,1782.9L1808.9,1776.8L1809.3,1774.3L1809.8,1770.8L1811.0,1764.7L1812.4,1758.7L1814.0,1752.6L1814.5,1751.1L1816.0,1746.5L1818.1,1740.5L1819.6,1735.9L1820.2,1734.4L1821.6,1728.4L1822.4,1722.3L1822.8,1716.2L1823.0,1710.2L1823.2,1704.1L1823.3,1698.1L1823.3,1692.0L1822.9,1685.9L1821.7,1679.9L1820.0,1673.8L1819.6,1672.6L1818.3,1667.8L1816.7,1661.7L1815.2,1655.6L1814.5,1652.4L1813.9,1649.6L1812.9,1643.5L1812.5,1637.5L1813.6,1631.4L1814.5,1629.5L1816.9,1625.3L1819.6,1622.5L1824.4,1619.3L1824.8,1619.1L1830.0,1617.3L1835.2,1617.1L1840.1,1619.3L1840.4,1619.4L1845.6,1625.1L1845.7,1625.3L1848.9,1631.4L1850.7,1637.2L1850.8,1637.5L1851.5,1643.5L1851.6,1649.6L1851.6,1655.6L1851.7,1661.7L1851.7,1667.8L1851.9,1673.8L1852.4,1679.9L1853.6,1685.9L1855.8,1692.0L1855.9,1692.2L1859.4,1698.1L1861.1,1700.3L1865.0,1704.1L1866.3,1705.2L1871.5,1708.3L1876.7,1709.5L1881.8,1707.6L1884.7,1704.1L1887.0,1701.3L1888.8,1698.1L1891.8,1692.0L1892.2,1691.2L1894.4,1685.9L1896.9,1679.9L1897.4,1678.6L1899.2,1673.8L1901.3,1667.8L1902.6,1663.6L1903.1,1661.7L1904.8,1655.6L1906.3,1649.6L1907.6,1643.5L1907.8,1642.8L1908.6,1637.5L1909.1,1631.4L1909.2,1625.3L1909.0,1619.3L1908.8,1613.2L1908.5,1607.2L1908.3,1601.1L1908.0,1595.1L1907.8,1591.8L1907.6,1589.0L1906.9,1582.9L1905.9,1576.9L1904.4,1570.8L1902.6,1564.8L1902.6,1564.7L1900.2,1558.7L1897.4,1553.6L1896.7,1552.6L1892.2,1547.1L1891.6,1546.6L1887.0,1542.7L1883.1,1540.5L1881.8,1539.8L1876.7,1538.1L1871.5,1537.2L1866.3,1536.5L1861.1,1535.9L1855.9,1535.2L1850.8,1534.5L1850.7,1534.5L1845.6,1533.4L1840.4,1532.0L1835.2,1530.2L1831.1,1528.4L1830.0,1527.8L1824.8,1524.6L1821.6,1522.3L1819.6,1520.8L1814.7,1516.3L1814.5,1516.0L1809.3,1510.5L1809.0,1510.2L1804.1,1505.0L1802.8,1504.2L1798.9,1501.6L1793.7,1502.6L1792.2,1504.2L1788.5,1508.2L1787.3,1510.2L1784.0,1516.3L1783.4,1517.5L1781.2,1522.3L1778.7,1528.4L1778.2,1529.8L1776.6,1534.5L1775.0,1540.5L1773.6,1546.6L1773.0,1549.2L1772.2,1552.6L1770.8,1558.7L1769.4,1564.8L1768.0,1570.8L1767.8,1571.9L1766.7,1576.9L1765.5,1582.9L1764.8,1589.0L1764.6,1595.1L1764.5,1601.1L1764.4,1607.2L1764.2,1613.2L1763.9,1619.3L1763.4,1625.3L1762.7,1631.4L1762.6,1631.8L1761.3,1637.5L1759.3,1643.5L1757.4,1648.1L1756.6,1649.6L1753.0,1655.6L1752.3,1656.9L1748.5,1661.7L1747.1,1663.5L1743.5,1667.8L1741.9,1669.7L1738.7,1673.8L1736.7,1676.3L1733.9,1679.9L1731.5,1682.2L1727.6,1685.9L1726.3,1686.8L1721.2,1690.3L1718.8,1692.0L1716.0,1693.7L1710.8,1697.6L1710.4,1698.1L1705.6,1703.1L1704.8,1704.1L1700.6,1710.2L1700.4,1710.5L1697.3,1716.2L1695.2,1720.4L1694.4,1722.3L1692.0,1728.4L1690.1,1733.4L1689.7,1734.4L1687.1,1740.5L1684.9,1744.5L1683.6,1746.5L1679.7,1751.7L1678.8,1752.6L1674.5,1756.5L1670.9,1758.7L1669.3,1759.5L1664.1,1761.5L1659.0,1762.9L1653.8,1764.0L1649.6,1764.7L1648.6,1764.9L1643.4,1765.6L1638.2,1766.1L1633.0,1766.4L1627.9,1766.2L1622.7,1765.2L1620.7,1764.7L1617.5,1763.9L1612.3,1762.5L1607.1,1761.0L1601.9,1759.3L1600.0,1758.7L1596.8,1757.6L1591.6,1755.8L1586.4,1753.9L1583.6,1752.6L1581.2,1751.5L1576.0,1748.9L1571.7,1746.5L1570.8,1746.1L1565.7,1743.0L1561.9,1740.5L1560.5,1739.4L1555.3,1735.2L1554.4,1734.4L1550.1,1730.0L1548.4,1728.4L1544.9,1724.4L1542.9,1722.3L1539.7,1719.0L1537.0,1716.2L1534.6,1713.8L1530.8,1710.2L1529.4,1708.8L1524.5,1704.1L1524.2,1703.8L1519.0,1698.4L1518.7,1698.1L1513.8,1692.1L1513.7,1692.0L1509.5,1685.9L1508.6,1684.5L1505.8,1679.9L1503.5,1675.7L1502.2,1673.8L1498.3,1667.9L1498.2,1667.8L1493.4,1661.7L1493.1,1661.4L1488.2,1655.6L1487.9,1655.3L1482.9,1649.6L1482.7,1649.4L1477.7,1643.5L1477.5,1643.4L1472.7,1637.5L1472.4,1637.1L1467.2,1631.7L1466.9,1631.4L1462.0,1627.8L1457.9,1625.3L1456.8,1624.8L1451.6,1622.8L1446.4,1621.0L1441.3,1619.5L1440.3,1619.3L1436.1,1618.4L1430.9,1617.5L1425.7,1616.8L1420.5,1616.0L1415.3,1615.2L1410.2,1614.3L1405.0,1613.4L1403.8,1613.2L1399.8,1612.6L1394.6,1611.7L1389.4,1610.9L1384.2,1610.2L1379.1,1609.5L1373.9,1609.1L1368.7,1609.2L1363.5,1609.5L1358.3,1610.3L1353.1,1611.9L1350.7,1613.2L1348.0,1615.1L1343.7,1619.3L1342.8,1620.4L1339.2,1625.3L1337.6,1629.0L1336.5,1631.4L1336.2,1637.5L1337.6,1642.0L1338.1,1643.5L1341.9,1649.6L1342.8,1650.6L1348.0,1655.6L1348.0,1655.7L1353.1,1659.2L1358.3,1661.7L1358.4,1661.7L1363.5,1663.9L1368.7,1665.9L1373.8,1667.8L1373.9,1667.8L1379.1,1669.8L1384.2,1672.0L1388.2,1673.8L1389.4,1674.5L1394.6,1677.7L1397.3,1679.9L1399.8,1682.3L1403.0,1685.9L1405.0,1688.6L1407.5,1692.0L1410.2,1695.8L1411.8,1698.1L1415.3,1702.6L1416.5,1704.1L1420.5,1709.1L1421.4,1710.2L1425.7,1715.4L1426.4,1716.2L1430.9,1721.9L1431.2,1722.3L1434.2,1728.4L1435.1,1734.4L1433.4,1740.5L1430.9,1746.1L1430.7,1746.5L1427.5,1752.6L1425.7,1756.6L1424.8,1758.7L1422.6,1764.7L1420.7,1770.8L1420.5,1771.6L1419.1,1776.8L1418.1,1782.9ZM1804.0,1316.3L1804.1,1316.4L1809.3,1317.8L1814.5,1318.6L1819.6,1319.1L1824.8,1319.4L1830.0,1319.4L1835.2,1318.5L1839.6,1316.3L1840.4,1315.5L1843.3,1310.2L1842.6,1304.2L1840.4,1300.5L1837.0,1298.1L1835.2,1297.2L1830.0,1297.2L1825.2,1298.1L1824.8,1298.2L1819.6,1299.6L1814.5,1301.0L1809.3,1302.5L1804.6,1304.2L1804.1,1304.6L1800.5,1310.2L1804.0,1316.3Z"/>
<path fill="#c80000" fill-rule="evenodd" d="M1469.3,1782.9L1472.4,1782.9L1477.5,1782.9L1482.7,1782.9L1487.9,1782.9L1493.1,1782.9L1498.3,1782.9L1503.5,1782.9L1508.6,1782.9L1513.8,1782.9L1519.0,1782.9L1524.2,1782.9L1529.4,1782.9L1534.6,1782.9L1539.7,1782.9L1544.9,1782.9L1550.1,1782.9L1555.3,1782.9L1560.5,1782.9L1565.7,1782.9L1570.8,1782.9L1576.0,1782.9L1581.2,1782.9L1586.4,1782.9L1591.6,1782.9L1594.2,1782.9L1591.6,1780.9L1586.4,1776.8L1586.4,1776.8L1581.2,1773.6L1576.8,1770.8L1576.0,1770.3L1570.8,1767.2L1566.8,1764.7L1565.7,1764.0L1560.5,1760.6L1557.6,1758.7L1555.3,1757.0L1550.1,1753.5L1548.7,1752.6L1544.9,1750.2L1539.7,1747.5L1537.8,1746.5L1534.6,1744.9L1529.4,1742.3L1525.9,1740.5L1524.2,1739.4L1519.0,1736.4L1516.0,1734.4L1513.8,1732.8L1508.6,1728.6L1508.3,1728.4L1503.5,1724.6L1499.1,1722.3L1498.3,1721.8L1493.1,1720.8L1487.9,1721.2L1485.3,1722.3L1482.7,1723.8L1479.6,1728.4L1477.5,1733.1L1477.2,1734.4L1476.0,1740.5L1475.0,1746.5L1474.1,1752.6L1473.1,1758.7L1472.4,1763.5L1472.2,1764.7L1471.2,1770.8L1470.1,1776.8L1469.3,1782.9ZM1875.4,1637.5L1876.7,1639.7L1881.8,1642.0L1885.6,1637.5L1887.0,1635.8L1888.8,1631.4L1891.0,1625.3L1892.2,1621.4L1892.7,1619.3L1894.0,1613.2L1895.1,1607.2L1895.9,1601.1L1896.6,1595.1L1896.9,1589.0L1896.5,1582.9L1895.2,1576.9L1893.1,1570.8L1892.2,1568.7L1890.3,1564.8L1887.0,1559.7L1886.1,1558.7L1881.8,1555.2L1876.7,1553.4L1871.5,1553.3L1866.3,1553.8L1861.1,1554.6L1855.9,1555.8L1850.7,1557.4L1847.4,1558.7L1845.6,1559.8L1840.4,1563.1L1837.9,1564.8L1835.2,1567.7L1832.3,1570.8L1830.0,1575.6L1829.4,1576.9L1830.0,1580.7L1830.3,1582.9L1835.2,1587.4L1836.5,1589.0L1840.4,1591.7L1843.9,1595.1L1845.6,1596.4L1850.0,1601.1L1850.7,1601.9L1855.2,1607.2L1855.9,1608.1L1859.8,1613.2L1861.1,1615.1L1864.0,1619.3L1866.3,1622.8L1868.0,1625.3L1871.5,1631.3L1871.6,1631.4L1875.4,1637.5Z"/>
<path fill="#960000" fill-rule="evenodd" d="M1506.1,1782.9L1508.6,1782.9L1513.8,1782.9L1519.0,1782.9L1524.2,1782.9L1529.4,1782.9L1534.6,1782.9L1539.7,1782.9L1544.9,1782.9L1550.1,1782.9L1555.3,1782.9L1559.2,1782.9L1555.3,1778.9L1553.2,1776.8L1550.1,1774.6L1544.9,1771.4L1543.3,1770.8L1539.7,1769.4L1534.6,1768.2L1529.4,1767.6L1524.2,1767.4L1519.0,1768.5L1514.8,1770.8L1513.8,1771.5L1508.9,1776.8L1508.6,1777.3L1506.1,1782.9ZM1870.9,1595.1L1871.5,1595.7L1876.7,1599.6L1881.8,1597.8L1883.1,1595.1L1884.8,1589.0L1884.6,1582.9L1882.2,1576.9L1881.8,1576.2L1876.7,1573.5L1871.5,1574.9L1868.5,1576.9L1866.3,1580.0L1864.7,1582.9L1866.2,1589.0L1866.3,1589.1L1870.9,1595.1Z"/>
<path d="M1442.0,1201.9L1474.9,1201.9L1474.9,1183.4L1442.0,1183.4ZM1457.6,1245.2L1511.3,1245.2L1511.3,1201.9L1457.6,1201.9ZM1341.6,1251.3L1417.8,1251.3L1417.8,1228.7L1341.6,1228.7ZM1324.3,1319.3L1474.9,1319.3L1474.9,1251.3L1324.3,1251.3ZM1284.5,1319.3L1324.3,1319.3L1324.3,1274.0L1284.5,1274.0ZM1324.3,1346.1L1416.1,1346.1L1416.1,1319.3L1324.3,1319.3ZM1358.9,1432.7L1497.4,1432.7L1497.4,1346.1L1358.9,1346.1ZM1474.9,1364.7L1533.8,1364.7L1533.8,1296.7L1474.9,1296.7ZM1516.5,1342.0L1533.8,1342.0L1533.8,1267.8L1516.5,1267.8ZM1516.5,1267.8L1611.7,1267.8L1611.7,1251.3L1516.5,1251.3ZM1613.4,1296.7L1651.5,1296.7L1651.5,1274.0L1613.4,1274.0ZM1300.1,1434.7L1504.3,1434.7L1504.3,1412.0L1300.1,1412.0ZM1284.5,1459.4L1442.0,1459.4L1442.0,1434.7L1284.5,1434.7ZM1244.7,1482.1L1450.7,1482.1L1450.7,1459.4L1244.7,1459.4ZM1225.6,1504.8L1450.7,1504.8L1450.7,1482.1L1225.6,1482.1ZM1324.3,1548.0L1474.9,1548.0L1474.9,1504.8L1324.3,1504.8ZM1383.2,1574.8L1474.9,1574.8L1474.9,1548.0L1383.2,1548.0ZM1457.6,1616.0L1497.4,1616.0L1497.4,1574.8L1457.6,1574.8ZM1476.7,1638.7L1504.3,1638.7L1504.3,1599.5L1476.7,1599.5ZM1497.4,1688.1L1513.0,1688.1L1513.0,1644.9L1497.4,1644.9ZM1088.9,1663.4L1104.4,1663.4L1104.4,1644.9L1088.9,1644.9ZM1341.6,1782.9L1355.5,1782.9L1355.5,1764.4L1341.6,1764.4ZM1790.0,1504.8L1810.8,1504.8L1810.8,1482.1L1790.0,1482.1ZM1694.8,1550.1L1725.9,1550.1L1725.9,1504.8L1694.8,1504.8ZM1710.4,1574.8L1769.2,1574.8L1769.2,1527.4L1710.4,1527.4ZM1753.6,1782.9L1784.8,1782.9L1784.8,1735.5L1753.6,1735.5Z" fill="url(#stip_d)"/>
<path d="M1144.3,1061.8V1782.9M1230.8,1061.8V1782.9M1317.4,1061.8V1782.9M1403.9,1061.8V1782.9M1490.5,1061.8V1782.9M1577.1,1061.8V1782.9M1663.6,1061.8V1782.9M1750.2,1061.8V1782.9M1836.7,1061.8V1782.9M1057.7,1679.9H1923.3M1057.7,1576.9H1923.3M1057.7,1473.9H1923.3M1057.7,1370.8H1923.3M1057.7,1267.8H1923.3M1057.7,1164.8H1923.3" stroke="#a0a0a0" stroke-width="2.2" stroke-dasharray="2.0 7.3" fill="none"/>
<path d="M1057.7,1117.6L1085.7,1132.5L1112.9,1125.7L1125.4,1127.9L1127.6,1119.9L1124.4,1108.6L1123.1,1092.9L1126.6,1081.6L1119.9,1079.3L1117.6,1061.8M1057.7,1267.2L1074.5,1292.1L1083.5,1312.5L1099.4,1321.6L1110.7,1330.7L1122.1,1337.3L1140.1,1341.8L1151.5,1336.2L1167.5,1330.7L1174.2,1329.4L1181.0,1337.3L1185.5,1355.4L1217.1,1362.2L1230.8,1364.5L1262.5,1369.0L1294.2,1364.5L1312.4,1366.7L1337.3,1363.4L1346.5,1366.7L1357.7,1378.1L1362.2,1393.9L1375.9,1402.0L1384.9,1414.1L1397.0,1415.1L1407.4,1414.1L1409.1,1422.3L1394.1,1426.5L1386.6,1428.5L1394.1,1438.8L1403.1,1451.2L1414.3,1457.2L1430.3,1452.6L1439.3,1441.3L1441.5,1430.0L1443.8,1427.7L1448.4,1430.0L1448.4,1439.0L1452.9,1457.2L1452.9,1479.8L1455.2,1513.6L1459.7,1534.0L1464.2,1556.7L1470.9,1574.8L1480.1,1592.9L1486.9,1608.8L1493.3,1629.2L1500.0,1642.8L1509.0,1660.9L1513.7,1683.6L1514.7,1694.9L1520.4,1706.1L1527.2,1715.1L1535.2,1719.6L1540.9,1715.1L1543.1,1706.1L1552.1,1699.5L1561.1,1694.9L1563.4,1683.6L1561.1,1674.5L1570.3,1674.5L1574.8,1672.3L1574.8,1660.9L1572.6,1638.3L1579.3,1615.6L1581.6,1592.9L1579.3,1570.3L1583.8,1561.2L1595.2,1558.9L1597.5,1552.1L1611.0,1547.6L1615.7,1538.6L1620.2,1534.0L1633.7,1522.7L1645.1,1513.6L1656.3,1504.6L1665.4,1491.2L1676.8,1479.8L1685.8,1475.3L1695.0,1464.0L1697.2,1448.1L1701.7,1443.6L1717.6,1436.8L1719.9,1432.2L1722.1,1441.3L1753.8,1434.5L1776.5,1416.4L1783.2,1425.4L1790.0,1457.2L1799.2,1470.8L1812.7,1479.8L1814.9,1486.6L1817.2,1497.8L1821.9,1500.0L1826.4,1513.6L1830.9,1529.5L1828.6,1543.1L1824.1,1556.7L1835.4,1561.2L1846.8,1558.9L1860.3,1547.6L1871.7,1538.6L1880.7,1545.3L1885.2,1556.7L1887.5,1570.3L1892.0,1592.9L1896.6,1611.1L1901.1,1629.2L1898.9,1640.5L1901.1,1649.6L1898.9,1660.9L1896.6,1683.6L1894.2,1699.5L1896.6,1719.6L1901.1,1717.4L1905.6,1724.2L1912.4,1733.2L1921.6,1744.6L1926.8,1749.9M1926.8,1611.9L1923.8,1615.6L1914.6,1649.6L1911.2,1674.5L1914.6,1694.9L1922.6,1703.8L1926.8,1708.7M1057.7,1335.0L1062.0,1346.3L1059.8,1355.4L1068.8,1366.7L1075.5,1358.9L1076.7,1350.9L1081.2,1348.6L1085.7,1355.4L1085.7,1369.0L1083.5,1378.1L1079.0,1386.1L1087.0,1387.1L1090.2,1391.7L1099.4,1392.9L1106.2,1388.4L1124.4,1390.6L1131.1,1388.4L1135.6,1381.6L1144.8,1373.5L1153.8,1363.4L1162.8,1353.1L1166.2,1347.6L1169.7,1349.8L1168.5,1375.8L1176.5,1387.1L1192.2,1398.5L1208.1,1403.0L1217.1,1414.3L1226.3,1425.6L1228.6,1425.4L1219.6,1441.3L1212.6,1448.1L1203.6,1465.0L1196.9,1466.2L1192.2,1479.8L1194.6,1493.4L1181.0,1499.0L1174.2,1506.8L1169.7,1515.9L1151.5,1522.7L1149.3,1529.5L1142.5,1536.3L1133.4,1535.3L1119.9,1538.6L1099.4,1552.1L1097.2,1565.7L1057.7,1579.3M1115.2,1629.2L1122.1,1624.7L1136.8,1628.0L1128.9,1633.7L1122.1,1633.7L1115.2,1629.2M1057.7,1649.6L1067.7,1640.5L1077.8,1643.8L1075.5,1670.0L1071.0,1679.1L1070.0,1692.7L1057.7,1715.1M1578.3,1684.6L1588.3,1694.9L1597.5,1710.6L1606.5,1728.7L1608.7,1744.6L1604.2,1755.9L1595.2,1761.7L1583.8,1762.7L1579.3,1755.9L1574.8,1742.3L1572.6,1724.2L1574.8,1706.1L1578.3,1694.9L1578.3,1684.6M1840.2,1785.0L1843.3,1769.1L1853.5,1769.1L1860.3,1775.9L1883.0,1778.2L1889.7,1782.7L1892.1,1785.0" stroke="#000" stroke-width="1.6" fill="none" stroke-linejoin="round"/>
<rect x="1230.8" y="1164.8" width="259.7" height="309.0" fill="none" stroke="#000" stroke-width="4.2"/>
<path d="M1099.2,1113.3L1114.2,1121.9M1107.2,1109.8L1114.2,1121.9L1100.2,1121.9M1152.6,1113.3L1167.5,1121.9M1160.5,1109.8L1167.5,1121.9L1153.5,1121.9M1205.9,1113.3L1221.8,1122.5M1214.8,1110.4L1221.8,1122.5L1207.8,1122.5M1259.2,1113.3L1273.8,1127.9M1270.2,1114.4L1273.8,1127.9L1260.3,1124.3M1312.5,1113.3L1325.7,1132.1M1324.5,1118.2L1325.7,1132.1L1313.0,1126.2M1365.9,1113.3L1378.5,1135.2M1378.5,1121.2L1378.5,1135.2L1366.4,1128.2M1419.2,1113.3L1428.6,1139.2M1431.0,1125.5L1428.6,1139.2L1417.9,1130.2M1472.5,1113.3L1472.5,1145.5M1479.5,1133.4L1472.5,1145.5L1465.5,1133.4M1525.8,1113.3L1521.4,1138.2M1530.4,1127.5L1521.4,1138.2L1516.6,1125.1M1579.1,1113.3L1571.4,1130.0M1582.8,1122.0L1571.4,1130.0L1570.1,1116.0M1632.5,1113.3L1621.9,1128.4M1634.6,1122.5L1621.9,1128.4L1623.1,1114.4M1685.8,1113.3L1671.6,1123.2M1685.6,1122.0L1671.6,1123.2L1677.6,1110.5M1739.1,1113.3L1725.2,1121.4M1739.2,1121.4L1725.2,1121.4L1732.2,1109.2M1792.4,1113.3L1778.9,1119.6M1792.8,1120.8L1778.9,1119.6L1786.9,1108.2M1845.7,1113.3L1831.7,1118.4M1845.5,1120.9L1831.7,1118.4L1840.7,1107.7M1899.1,1113.3L1884.6,1117.2M1898.1,1120.8L1884.6,1117.2L1894.5,1107.3M1099.2,1175.1L1116.2,1178.1M1105.5,1169.1L1116.2,1178.1L1103.1,1182.9M1152.6,1175.1L1169.2,1179.6M1159.3,1169.7L1169.2,1179.6L1155.7,1183.2M1205.9,1175.1L1223.7,1179.9M1213.8,1170.0L1223.7,1179.9L1210.1,1183.5M1259.2,1175.1L1279.1,1186.6M1272.1,1174.5L1279.1,1186.6L1265.1,1186.6M1312.5,1175.1L1328.8,1191.4M1325.2,1177.9L1328.8,1191.4L1315.3,1187.8M1365.9,1175.1L1377.4,1195.0M1377.4,1181.0L1377.4,1195.0L1365.2,1188.0M1419.2,1175.1L1429.5,1193.0M1429.5,1179.0L1429.5,1193.0L1417.4,1186.0M1472.5,1175.1L1475.7,1193.2M1480.5,1180.1L1475.7,1193.2L1466.7,1182.5M1525.8,1175.1L1521.4,1200.0M1530.4,1189.3L1521.4,1200.0L1516.6,1186.9M1579.1,1175.1L1565.3,1199.0M1577.5,1192.0L1565.3,1199.0L1565.3,1185.0M1632.5,1175.1L1619.2,1191.0M1632.3,1186.2L1619.2,1191.0L1621.6,1177.2M1685.8,1175.1L1670.7,1185.7M1684.7,1184.4L1670.7,1185.7L1676.6,1173.0M1739.1,1175.1L1722.9,1181.0M1736.7,1183.4L1722.9,1181.0L1731.9,1170.3M1792.4,1175.1L1776.6,1172.3M1787.3,1181.3L1776.6,1172.3L1789.7,1167.5M1845.7,1175.1L1831.7,1170.0M1840.7,1180.7L1831.7,1170.0L1845.5,1167.6M1899.1,1175.1L1885.5,1168.8M1893.5,1180.3L1885.5,1168.8L1899.5,1167.6M1099.2,1236.9L1115.1,1239.7M1104.4,1230.7L1115.1,1239.7L1101.9,1244.5M1152.6,1236.9L1169.8,1236.9M1157.7,1229.9L1169.8,1236.9L1157.7,1243.9M1205.9,1236.9L1224.3,1236.9M1212.2,1229.9L1224.3,1236.9L1212.2,1243.9M1259.2,1236.9L1284.5,1236.9M1272.4,1229.9L1284.5,1236.9L1272.4,1243.9M1312.5,1236.9L1340.1,1236.9M1328.0,1229.9L1340.1,1236.9L1328.0,1243.9M1365.9,1236.9L1386.5,1235.1M1373.8,1229.2L1386.5,1235.1L1375.0,1243.2M1419.2,1236.9L1435.3,1236.9M1423.2,1229.9L1435.3,1236.9L1423.2,1243.9M1472.5,1236.9L1488.4,1250.2M1483.6,1237.1L1488.4,1250.2L1474.6,1247.8M1525.8,1236.9L1520.3,1252.1M1531.0,1243.1L1520.3,1252.1L1517.9,1238.3M1579.1,1236.9L1563.3,1250.2M1577.1,1247.8L1563.3,1250.2L1568.1,1237.1M1632.5,1236.9L1613.6,1250.1M1627.6,1248.9L1613.6,1250.1L1619.5,1237.4M1685.8,1236.9L1667.0,1245.7M1681.0,1246.9L1667.0,1245.7L1675.0,1234.2M1739.1,1236.9L1721.3,1241.7M1734.9,1245.3L1721.3,1241.7L1731.2,1231.8M1792.4,1236.9L1776.6,1239.7M1789.7,1244.5L1776.6,1239.7L1787.3,1230.7M1845.7,1236.9L1831.3,1233.1M1841.2,1243.0L1831.3,1233.1L1844.8,1229.4M1899.1,1236.9L1885.0,1231.8M1894.0,1242.5L1885.0,1231.8L1898.8,1229.4M1099.2,1298.7L1116.2,1301.7M1105.5,1292.7L1116.2,1301.7L1103.1,1306.5M1152.6,1298.7L1169.6,1301.7M1158.8,1292.7L1169.6,1301.7L1156.4,1306.5M1205.9,1298.7L1223.1,1298.7M1211.0,1291.7L1223.1,1298.7L1211.0,1305.7M1259.2,1298.7L1280.1,1289.0M1266.1,1287.8L1280.1,1289.0L1272.0,1300.5M1312.5,1298.7L1333.3,1284.2M1319.3,1285.4L1333.3,1284.2L1327.3,1296.9M1365.9,1298.7L1368.2,1285.1M1359.8,1295.2L1368.2,1285.1L1372.7,1297.5M1419.2,1298.7L1442.1,1296.7M1429.4,1290.8L1442.1,1296.7L1430.6,1304.8M1472.5,1298.7L1493.2,1298.7M1481.1,1291.7L1493.2,1298.7L1481.1,1305.7M1525.8,1298.7L1511.1,1296.1M1521.8,1305.1L1511.1,1296.1L1524.2,1291.3M1579.1,1298.7L1561.9,1298.7M1574.0,1305.7L1561.9,1298.7L1574.0,1291.7M1632.5,1298.7L1611.8,1300.5M1624.5,1306.5L1611.8,1300.5L1623.3,1292.5M1685.8,1298.7L1663.1,1302.7M1676.3,1307.5L1663.1,1302.7L1673.9,1293.7M1739.1,1298.7L1719.1,1304.1M1732.6,1307.7L1719.1,1304.1L1729.0,1294.2M1792.4,1298.7L1774.0,1298.7M1786.1,1305.7L1774.0,1298.7L1786.1,1291.7M1845.7,1298.7L1827.4,1297.1M1838.9,1305.2L1827.4,1297.1L1840.1,1291.2M1899.1,1298.7L1883.5,1294.6M1893.4,1304.5L1883.5,1294.6L1897.0,1290.9M1099.2,1360.5L1116.4,1362.0M1105.0,1354.0L1116.4,1362.0L1103.7,1368.0M1152.6,1360.5L1169.6,1363.5M1158.8,1354.5L1169.6,1363.5L1156.4,1368.3M1205.9,1360.5L1224.0,1363.7M1213.3,1354.7L1224.0,1363.7L1210.9,1368.5M1259.2,1360.5L1276.5,1354.2M1262.7,1351.8L1276.5,1354.2L1267.5,1365.0M1312.5,1360.5L1335.5,1349.8M1321.5,1348.6L1335.5,1349.8L1327.4,1361.3M1365.9,1360.5L1396.1,1349.5M1382.3,1347.1L1396.1,1349.5L1387.1,1360.3M1419.2,1360.5L1441.8,1364.5M1431.1,1355.5L1441.8,1364.5L1428.7,1369.3M1472.5,1360.5L1492.0,1362.2M1480.5,1354.2L1492.0,1362.2L1479.3,1368.2M1525.8,1360.5L1511.9,1352.5M1518.9,1364.6L1511.9,1352.5L1525.9,1352.5M1579.1,1360.5L1561.4,1365.3M1574.9,1368.9L1561.4,1365.3L1571.3,1355.4M1632.5,1360.5L1614.1,1367.2M1627.9,1369.7L1614.1,1367.2L1623.1,1356.5M1685.8,1360.5L1667.9,1370.9M1681.9,1370.9L1667.9,1370.9L1674.9,1358.8M1739.1,1360.5L1723.2,1373.8M1737.0,1371.4L1723.2,1373.8L1728.0,1360.7M1792.4,1360.5L1775.5,1372.4M1789.4,1371.2L1775.5,1372.4L1781.4,1359.7M1845.7,1360.5L1830.8,1373.1M1844.6,1370.7L1830.8,1373.1L1835.6,1360.0M1899.1,1360.5L1885.0,1365.7M1898.8,1368.1L1885.0,1365.7L1894.0,1354.9M1099.2,1422.3L1096.9,1408.8M1092.4,1421.1L1096.9,1408.8L1105.3,1418.8M1152.6,1422.3L1152.6,1406.2M1145.6,1418.4L1152.6,1406.2L1159.6,1418.4M1205.9,1422.3L1211.4,1407.2M1200.7,1416.2L1211.4,1407.2L1213.8,1421.0M1259.2,1422.3L1275.3,1422.3M1263.2,1415.3L1275.3,1422.3L1263.2,1429.3M1312.5,1422.3L1337.4,1426.7M1326.7,1417.7L1337.4,1426.7L1324.3,1431.5M1365.9,1422.3L1389.6,1431.0M1380.6,1420.3L1389.6,1431.0L1375.8,1433.4M1419.2,1422.3L1434.1,1413.7M1420.1,1413.7L1434.1,1413.7L1427.1,1425.8M1472.5,1422.3L1477.9,1402.4M1468.0,1412.3L1477.9,1402.4L1481.5,1415.9M1525.8,1422.3L1525.8,1401.6M1518.8,1413.8L1525.8,1401.6L1532.8,1413.8M1579.1,1422.3L1564.2,1413.7M1571.2,1425.8L1564.2,1413.7L1578.2,1413.7M1632.5,1422.3L1617.3,1416.8M1626.3,1427.6L1617.3,1416.8L1631.1,1414.4M1685.8,1422.3L1670.7,1416.8M1679.6,1427.6L1670.7,1416.8L1684.4,1414.4M1739.1,1422.3L1721.0,1425.5M1734.1,1430.3L1721.0,1425.5L1731.7,1416.5M1792.4,1422.3L1774.3,1425.5M1787.5,1430.3L1774.3,1425.5L1785.0,1416.5M1845.7,1422.3L1827.8,1432.7M1841.8,1432.7L1827.8,1432.7L1834.8,1420.6M1899.1,1422.3L1882.1,1434.2M1896.1,1433.0L1882.1,1434.2L1888.0,1421.5M1099.2,1484.2L1097.9,1469.3M1092.0,1482.0L1097.9,1469.3L1106.0,1480.7M1152.6,1484.2L1151.3,1469.3M1145.4,1482.0L1151.3,1469.3L1159.3,1480.7M1205.9,1484.2L1217.7,1470.1M1204.6,1474.9L1217.7,1470.1L1215.3,1483.9M1259.2,1484.2L1278.6,1467.9M1264.8,1470.3L1278.6,1467.9L1273.8,1481.1M1312.5,1484.2L1338.9,1465.7M1325.0,1466.9L1338.9,1465.7L1333.0,1478.4M1365.9,1484.2L1388.0,1457.7M1374.9,1462.5L1388.0,1457.7L1385.6,1471.5M1419.2,1484.2L1419.2,1468.1M1412.2,1480.2L1419.2,1468.1L1426.2,1480.2M1472.5,1484.2L1471.2,1469.3M1465.3,1482.0L1471.2,1469.3L1479.2,1480.7M1525.8,1484.2L1529.8,1461.5M1520.8,1472.2L1529.8,1461.5L1534.6,1474.7M1579.1,1484.2L1576.7,1470.6M1572.3,1482.9L1576.7,1470.6L1585.2,1480.6M1632.5,1484.2L1619.5,1479.4M1627.9,1489.5L1619.5,1479.4L1632.4,1477.2M1685.8,1484.2L1667.7,1481.0M1678.4,1490.0L1667.7,1481.0L1680.8,1476.2M1739.1,1484.2L1718.5,1482.4M1729.9,1490.4L1718.5,1482.4L1731.2,1476.4M1792.4,1484.2L1769.8,1480.2M1780.5,1489.2L1769.8,1480.2L1782.9,1475.4M1845.7,1484.2L1825.4,1487.8M1838.5,1492.5L1825.4,1487.8L1836.1,1478.8M1899.1,1484.2L1881.8,1490.5M1895.6,1492.9L1881.8,1490.5L1890.8,1479.7M1099.2,1546.0L1089.6,1534.5M1092.1,1548.3L1089.6,1534.5L1102.8,1539.3M1152.6,1546.0L1149.8,1530.1M1145.0,1543.3L1149.8,1530.1L1158.8,1540.8M1205.9,1546.0L1208.7,1530.1M1199.7,1540.8L1208.7,1530.1L1213.5,1543.3M1259.2,1546.0L1271.4,1533.8M1257.9,1537.4L1271.4,1533.8L1267.8,1547.3M1312.5,1546.0L1334.7,1519.5M1321.6,1524.3L1334.7,1519.5L1332.3,1533.3M1365.9,1546.0L1386.0,1511.1M1373.9,1518.1L1386.0,1511.1L1386.0,1525.1M1419.2,1546.0L1436.2,1509.5M1424.7,1517.5L1436.2,1509.5L1437.4,1523.4M1472.5,1546.0L1470.0,1517.3M1464.1,1530.0L1470.0,1517.3L1478.0,1528.8M1525.8,1546.0L1544.3,1519.6M1531.6,1525.5L1544.3,1519.6L1543.1,1533.5M1579.1,1546.0L1597.0,1528.1M1583.5,1531.7L1597.0,1528.1L1593.4,1541.6M1632.5,1546.0L1640.5,1532.0M1628.4,1539.0L1640.5,1532.0L1640.5,1546.0M1685.8,1546.0L1673.4,1535.6M1678.2,1548.8L1673.4,1535.6L1687.2,1538.0M1739.1,1546.0L1721.0,1542.8M1731.7,1551.8L1721.0,1542.8L1734.1,1538.0M1792.4,1546.0L1773.2,1542.6M1783.9,1551.6L1773.2,1542.6L1786.3,1537.8M1845.7,1546.0L1830.2,1541.8M1840.1,1551.7L1830.2,1541.8L1843.7,1538.2M1899.1,1546.0L1885.0,1551.1M1898.8,1553.5L1885.0,1551.1L1894.0,1540.4M1099.2,1607.8L1114.4,1613.3M1105.4,1602.6L1114.4,1613.3L1100.6,1615.7M1152.6,1607.8L1157.7,1621.8M1160.1,1608.0L1157.7,1621.8L1147.0,1612.8M1205.9,1607.8L1217.3,1617.4M1212.6,1604.2L1217.3,1617.4L1203.6,1615.0M1259.2,1607.8L1274.8,1611.9M1264.9,1602.0L1274.8,1611.9L1261.2,1615.6M1312.5,1607.8L1326.5,1599.7M1312.5,1599.7L1326.5,1599.7L1319.5,1611.9M1365.9,1607.8L1376.4,1592.7M1363.7,1598.6L1376.4,1592.7L1375.2,1606.7M1419.2,1607.8L1425.1,1585.6M1415.2,1595.5L1425.1,1585.6L1428.8,1599.1M1472.5,1607.8L1476.9,1582.9M1467.9,1593.6L1476.9,1582.9L1481.7,1596.0M1525.8,1607.8L1550.7,1603.4M1537.6,1598.6L1550.7,1603.4L1540.0,1612.4M1579.1,1607.8L1604.3,1605.6M1591.7,1599.7L1604.3,1605.6L1592.9,1613.6M1632.5,1607.8L1648.7,1601.9M1634.9,1599.4L1648.7,1601.9L1639.7,1612.6M1685.8,1607.8L1672.2,1605.4M1682.2,1613.8L1672.2,1605.4L1684.5,1600.9M1739.1,1607.8L1726.1,1603.1M1734.6,1613.1L1726.1,1603.1L1739.0,1600.8M1792.4,1607.8L1786.5,1624.0M1797.2,1615.0L1786.5,1624.0L1784.1,1610.2M1845.7,1607.8L1837.9,1629.4M1848.6,1620.4L1837.9,1629.4L1835.4,1615.6M1899.1,1607.8L1903.1,1630.4M1907.8,1617.3L1903.1,1630.4L1894.1,1619.7M1099.2,1669.6L1116.2,1672.6M1105.5,1663.6L1116.2,1672.6L1103.1,1677.4M1152.6,1669.6L1167.7,1675.1M1158.7,1664.4L1167.7,1675.1L1153.9,1677.5M1205.9,1669.6L1219.9,1674.7M1210.9,1664.0L1219.9,1674.7L1206.2,1677.1M1259.2,1669.6L1261.6,1656.0M1253.2,1666.0L1261.6,1656.0L1266.1,1668.3M1312.5,1669.6L1317.6,1655.5M1306.9,1664.5L1317.6,1655.5L1320.1,1669.3M1365.9,1669.6L1378.2,1659.2M1364.4,1661.7L1378.2,1659.2L1373.4,1672.4M1419.2,1669.6L1437.5,1671.2M1426.0,1663.2L1437.5,1671.2L1424.8,1677.1M1472.5,1669.6L1493.1,1671.4M1481.6,1663.4L1493.1,1671.4L1480.4,1677.3M1525.8,1669.6L1550.7,1674.0M1540.0,1665.0L1550.7,1674.0L1537.6,1678.8M1579.1,1669.6L1599.8,1669.6M1587.7,1662.6L1599.8,1669.6L1587.7,1676.6M1632.5,1669.6L1648.5,1668.2M1635.8,1662.3L1648.5,1668.2L1637.0,1676.2M1685.8,1669.6L1694.4,1684.5M1694.4,1670.5L1694.4,1684.5L1682.3,1677.5M1739.1,1669.6L1743.1,1692.2M1747.9,1679.1L1743.1,1692.2L1734.1,1681.5M1792.4,1669.6L1795.2,1701.7M1801.1,1689.0L1795.2,1701.7L1787.2,1690.2M1845.7,1669.6L1845.7,1704.1M1852.7,1692.0L1845.7,1704.1L1838.7,1692.0M1899.1,1669.6L1896.1,1704.0M1904.1,1692.5L1896.1,1704.0L1890.1,1691.3M1099.2,1731.4L1115.3,1732.8M1103.8,1724.8L1115.3,1732.8L1102.6,1738.7M1152.6,1731.4L1168.4,1734.2M1157.7,1725.2L1168.4,1734.2L1155.3,1739.0M1205.9,1731.4L1203.3,1716.7M1198.5,1729.8L1203.3,1716.7L1212.3,1727.4M1259.2,1731.4L1256.8,1717.8M1252.3,1730.1L1256.8,1717.8L1265.2,1727.8M1312.5,1731.4L1325.5,1726.7M1312.6,1724.4L1325.5,1726.7L1317.1,1736.7M1365.9,1731.4L1381.7,1734.2M1371.0,1725.2L1381.7,1734.2L1368.6,1739.0M1419.2,1731.4L1436.2,1734.4M1425.4,1725.4L1436.2,1734.4L1423.0,1739.2M1472.5,1731.4L1488.7,1737.3M1479.7,1726.6L1488.7,1737.3L1474.9,1739.7M1525.8,1731.4L1553.6,1738.8M1543.7,1728.9L1553.6,1738.8L1540.1,1742.5M1579.1,1731.4L1603.5,1755.8M1599.9,1742.3L1603.5,1755.8L1590.0,1752.2M1632.5,1731.4L1642.9,1770.3M1646.5,1756.7L1642.9,1770.3L1633.0,1760.4M1685.8,1731.4L1693.8,1776.7M1698.6,1763.5L1693.8,1776.7L1684.8,1766.0M1739.1,1731.4L1744.1,1788.7M1750.0,1776.0L1744.1,1788.7L1736.1,1777.2M1792.4,1731.4L1794.4,1788.9M1801.0,1776.5L1794.4,1788.9L1787.0,1777.0M1845.7,1731.4L1845.7,1788.9M1852.7,1776.8L1845.7,1788.9L1838.7,1776.8M1899.1,1731.4L1899.1,1788.9M1906.1,1776.8L1899.1,1788.9L1892.1,1776.8" stroke="#000" stroke-width="2.3" fill="none" stroke-linecap="round" stroke-linejoin="round"/>
</g>
<path d="M1057.7,1061.8H1923.3V1782.9H1057.7Z" stroke="#a0a0a0" stroke-width="2.4" fill="none"/><path d="M1057.7,1061.8H1923.3V1782.9H1057.7Z" stroke="#000" stroke-width="2.4" stroke-dasharray="6.8 2.4" fill="none"/>
<path d="M1050.4,1782.9H1057.7M1050.4,1679.9H1057.7M1050.4,1576.9H1057.7M1050.4,1473.9H1057.7M1050.4,1370.8H1057.7M1050.4,1267.8H1057.7M1050.4,1164.8H1057.7M1050.4,1061.8H1057.7M1057.7,1782.9V1789.3M1144.3,1782.9V1789.3M1230.8,1782.9V1789.3M1317.4,1782.9V1789.3M1403.9,1782.9V1789.3M1490.5,1782.9V1789.3M1577.1,1782.9V1789.3M1663.6,1782.9V1789.3M1750.2,1782.9V1789.3M1836.7,1782.9V1789.3M1923.3,1782.9V1789.3" stroke="#000" stroke-width="2.4" fill="none"/><text x="1018.1" y="1791.9" font-size="23" text-anchor="start" textLength="26.0" lengthAdjust="spacingAndGlyphs" stroke="#000" stroke-width="0.5">5N</text>
<text x="1005.5" y="1688.9" font-size="23" text-anchor="start" textLength="38.6" lengthAdjust="spacingAndGlyphs" stroke="#000" stroke-width="0.5">10N</text>
<text x="1005.5" y="1585.9" font-size="23" text-anchor="start" textLength="38.6" lengthAdjust="spacingAndGlyphs" stroke="#000" stroke-width="0.5">15N</text>
<text x="1005.5" y="1482.9" font-size="23" text-anchor="start" textLength="38.6" lengthAdjust="spacingAndGlyphs" stroke="#000" stroke-width="0.5">20N</text>
<text x="1005.5" y="1379.8" font-size="23" text-anchor="start" textLength="38.6" lengthAdjust="spacingAndGlyphs" stroke="#000" stroke-width="0.5">25N</text>
<text x="1005.5" y="1276.8" font-size="23" text-anchor="start" textLength="38.6" lengthAdjust="spacingAndGlyphs" stroke="#000" stroke-width="0.5">30N</text>
<text x="1005.5" y="1173.8" font-size="23" text-anchor="start" textLength="38.6" lengthAdjust="spacingAndGlyphs" stroke="#000" stroke-width="0.5">35N</text>
<text x="1005.5" y="1070.8" font-size="23" text-anchor="start" textLength="38.6" lengthAdjust="spacingAndGlyphs" stroke="#000" stroke-width="0.5">40N</text>
<text x="1039.7" y="1811.1" font-size="23" text-anchor="start" textLength="37.0" lengthAdjust="spacingAndGlyphs" stroke="#000" stroke-width="0.5">50E</text>
<text x="1126.3" y="1811.1" font-size="23" text-anchor="start" textLength="37.0" lengthAdjust="spacingAndGlyphs" stroke="#000" stroke-width="0.5">55E</text>
<text x="1212.8" y="1811.1" font-size="23" text-anchor="start" textLength="37.0" lengthAdjust="spacingAndGlyphs" stroke="#000" stroke-width="0.5">60E</text>
<text x="1299.4" y="1811.1" font-size="23" text-anchor="start" textLength="37.0" lengthAdjust="spacingAndGlyphs" stroke="#000" stroke-width="0.5">65E</text>
<text x="1385.9" y="1811.1" font-size="23" text-anchor="start" textLength="37.0" lengthAdjust="spacingAndGlyphs" stroke="#000" stroke-width="0.5">70E</text>
<text x="1472.5" y="1811.1" font-size="23" text-anchor="start" textLength="37.0" lengthAdjust="spacingAndGlyphs" stroke="#000" stroke-width="0.5">75E</text>
<text x="1559.1" y="1811.1" font-size="23" text-anchor="start" textLength="37.0" lengthAdjust="spacingAndGlyphs" stroke="#000" stroke-width="0.5">80E</text>
<text x="1645.6" y="1811.1" font-size="23" text-anchor="start" textLength="37.0" lengthAdjust="spacingAndGlyphs" stroke="#000" stroke-width="0.5">85E</text>
<text x="1732.2" y="1811.1" font-size="23" text-anchor="start" textLength="37.0" lengthAdjust="spacingAndGlyphs" stroke="#000" stroke-width="0.5">90E</text>
<text x="1818.7" y="1811.1" font-size="23" text-anchor="start" textLength="37.0" lengthAdjust="spacingAndGlyphs" stroke="#000" stroke-width="0.5">95E</text>
<text x="1899.5" y="1811.1" font-size="23" text-anchor="start" textLength="48.6" lengthAdjust="spacingAndGlyphs" stroke="#000" stroke-width="0.5">100E</text><path d="M1715.2,1834.4H1767.8M1753.6,1826.8L1767.8,1834.4L1753.6,1842.0" stroke="#000" stroke-width="2.4" fill="none" stroke-linecap="round" stroke-linejoin="round"/><text x="1737.8" y="1856.0" font-size="20" text-anchor="start" textLength="6.5" lengthAdjust="spacingAndGlyphs" stroke="#000" stroke-width="0.5">1</text>
<rect x="1967.2" y="283.3" width="27.2" height="56.03" fill="#006400" stroke="#000" stroke-width="1.3"/>
<rect x="1967.2" y="339.3" width="27.2" height="56.03" fill="#009632" stroke="#000" stroke-width="1.3"/>
<rect x="1967.2" y="395.4" width="27.2" height="56.03" fill="#00c864" stroke="#000" stroke-width="1.3"/>
<rect x="1967.2" y="451.4" width="27.2" height="56.03" fill="#00fa96" stroke="#000" stroke-width="1.3"/>
<rect x="1967.2" y="507.4" width="27.2" height="56.03" fill="#96ffc8" stroke="#000" stroke-width="1.3"/>
<rect x="1967.2" y="563.5" width="27.2" height="56.03" fill="#c8ffc8" stroke="#000" stroke-width="1.3"/>
<rect x="1967.2" y="619.5" width="27.2" height="56.03" fill="#ffffff" stroke="#000" stroke-width="1.3"/>
<rect x="1967.2" y="675.5" width="27.2" height="56.03" fill="#fffac8" stroke="#000" stroke-width="1.3"/>
<rect x="1967.2" y="731.5" width="27.2" height="56.03" fill="#ffc864" stroke="#000" stroke-width="1.3"/>
<rect x="1967.2" y="787.6" width="27.2" height="56.03" fill="#ff9600" stroke="#000" stroke-width="1.3"/>
<rect x="1967.2" y="843.6" width="27.2" height="56.03" fill="#ff0000" stroke="#000" stroke-width="1.3"/>
<rect x="1967.2" y="899.6" width="27.2" height="56.03" fill="#c80000" stroke="#000" stroke-width="1.3"/>
<rect x="1967.2" y="955.7" width="27.2" height="56.03" fill="#960000" stroke="#000" stroke-width="1.3"/>
<path d="M1967.2,283.3L1980.8,225.4L1994.4,283.3Z" fill="#1e3cff" stroke="#000" stroke-width="1.3" stroke-linejoin="round"/>
<path d="M1967.2,1011.7L1980.8,1064.6L1994.4,1011.7Z" fill="#640000" stroke="#000" stroke-width="1.3" stroke-linejoin="round"/>
<text x="2001.5" y="291.0" font-size="21.5" text-anchor="start" textLength="26.0" lengthAdjust="spacingAndGlyphs" stroke="#000" stroke-width="0.5">10</text>
<text x="2001.5" y="347.0" font-size="21.5" text-anchor="start" textLength="12.5" lengthAdjust="spacingAndGlyphs" stroke="#000" stroke-width="0.5">6</text>
<text x="2001.5" y="403.1" font-size="21.5" text-anchor="start" textLength="12.5" lengthAdjust="spacingAndGlyphs" stroke="#000" stroke-width="0.5">4</text>
<text x="2001.5" y="459.1" font-size="21.5" text-anchor="start" textLength="12.5" lengthAdjust="spacingAndGlyphs" stroke="#000" stroke-width="0.5">2</text>
<text x="2001.5" y="515.1" font-size="21.5" text-anchor="start" textLength="12.0" lengthAdjust="spacingAndGlyphs" stroke="#000" stroke-width="0.5">1</text>
<text x="2001.5" y="571.2" font-size="21.5" text-anchor="start" textLength="33.7" lengthAdjust="spacingAndGlyphs" stroke="#000" stroke-width="0.5">0.5</text>
<text x="2001.5" y="627.2" font-size="21.5" text-anchor="start" textLength="49.0" lengthAdjust="spacingAndGlyphs" stroke="#000" stroke-width="0.5">0.25</text>
<text x="2001.5" y="683.2" font-size="21.5" text-anchor="start" textLength="71.0" lengthAdjust="spacingAndGlyphs" stroke="#000" stroke-width="0.5">−0.25</text>
<text x="2001.5" y="739.2" font-size="21.5" text-anchor="start" textLength="55.0" lengthAdjust="spacingAndGlyphs" stroke="#000" stroke-width="0.5">−0.5</text>
<text x="2001.5" y="795.3" font-size="21.5" text-anchor="start" textLength="33.0" lengthAdjust="spacingAndGlyphs" stroke="#000" stroke-width="0.5">−1</text>
<text x="2001.5" y="851.3" font-size="21.5" text-anchor="start" textLength="33.0" lengthAdjust="spacingAndGlyphs" stroke="#000" stroke-width="0.5">−2</text>
<text x="2001.5" y="907.3" font-size="21.5" text-anchor="start" textLength="33.0" lengthAdjust="spacingAndGlyphs" stroke="#000" stroke-width="0.5">−4</text>
<text x="2001.5" y="963.4" font-size="21.5" text-anchor="start" textLength="33.0" lengthAdjust="spacingAndGlyphs" stroke="#000" stroke-width="0.5">−6</text>
<text x="2001.5" y="1019.4" font-size="21.5" text-anchor="start" textLength="47.0" lengthAdjust="spacingAndGlyphs" stroke="#000" stroke-width="0.5">−10</text>
</svg></body></html>
